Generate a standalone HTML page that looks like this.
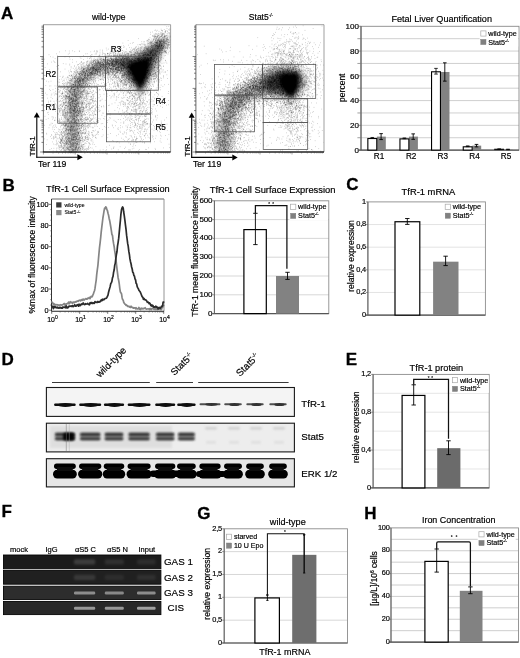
<!DOCTYPE html>
<html><head><meta charset="utf-8"><title>Figure</title>
<style>html,body{margin:0;padding:0;background:#fff}svg{display:block}text{font-family:"Liberation Sans", Arial, Helvetica, sans-serif}</style>
</head><body>
<svg width="520" height="658" viewBox="0 0 520 658">
<rect width="520" height="658" fill="#fff"/>
<defs>
<filter id="bl3" x="-50%" y="-50%" width="200%" height="200%"><feGaussianBlur stdDeviation="3"/></filter>
<filter id="bl2" x="-50%" y="-50%" width="200%" height="200%"><feGaussianBlur stdDeviation="2"/></filter>
<filter id="bl4" x="-50%" y="-50%" width="200%" height="200%"><feGaussianBlur stdDeviation="4.5"/></filter>
</defs>
<rect x="43.40" y="24.70" width="127.20" height="127.30" fill="#fff" stroke="none" stroke-width="1"/>
<clipPath id="cp1"><rect x="43.4" y="24.7" width="127.2" height="128.3"/></clipPath>
<g clip-path="url(#cp1)">
<polygon points="116,59 136,55 167,38 154,68 141,95 129,79" fill="#000" opacity=".55" filter="url(#bl3)"/>
<polygon points="127.5,64 150.5,57.5 146.5,76 140.5,90 133,77.5" fill="#000" opacity="1" filter="url(#bl2)"/>
<polygon points="131,66.5 147.5,62 144.5,77 140.5,86 135,77" fill="#000" opacity="1" filter="url(#bl2)"/>
<path d="M72 154L72.5 118L74 96Q77 78 93 70T126 63" fill="none" stroke="#000" stroke-width="9" opacity=".27" filter="url(#bl3)"/>
<path d="M142 68L164 40" fill="none" stroke="#000" stroke-width="8" opacity=".16" filter="url(#bl3)"/>
<path d="M87.0 58.1h.6M118.6 67.3h.6M95.3 63.5h.6M79.1 109.7h.6M63.1 96.3h.6M115.0 69.7h.6M63.5 147.5h.6M114.4 74.8h.6M94.0 50.8h.6M74.6 82.7h.6M77.8 106.0h.6M75.3 81.3h.6M87.3 98.8h.6M91.1 78.7h.6M81.6 91.3h.6M99.7 63.7h.6M106.2 65.0h.6M99.3 65.7h.6M94.9 69.9h.6M113.6 61.9h.6M65.4 105.5h.6M66.8 137.0h.6M81.7 66.1h.6M78.6 152.4h.6M75.0 134.8h.6M78.4 78.6h.6M82.3 82.0h.6M118.2 64.3h.6M92.1 71.5h.6M76.4 87.8h.6M69.6 84.9h.6M77.3 109.7h.6M78.2 134.7h.6M75.0 130.3h.6M95.9 73.7h.6M74.9 132.8h.6M88.2 86.8h.6M73.8 141.0h.6M92.5 66.9h.6M66.1 120.0h.6M78.3 102.3h.6M127.8 66.2h.6M88.1 79.8h.6M105.3 61.9h.6M93.3 66.3h.6M91.8 68.7h.6M68.0 144.5h.6M71.7 78.2h.6M76.9 87.2h.6M110.1 66.0h.6M75.7 104.7h.6M85.2 75.3h.6M60.8 165.2h.6M80.6 93.9h.6M77.7 131.8h.6M64.3 115.8h.6M111.3 64.2h.6M81.1 92.4h.6M119.9 60.8h.6M89.5 71.8h.6M87.5 74.9h.6M94.7 74.2h.6M88.3 65.5h.6M71.5 135.9h.6M87.0 73.5h.6M78.8 99.9h.6M77.7 88.8h.6M69.8 129.2h.6M118.0 69.4h.6M70.5 122.3h.6M86.2 71.2h.6M74.3 113.9h.6M114.4 69.7h.6M89.8 75.8h.6M72.8 127.1h.6M99.9 66.5h.6M125.1 64.8h.6M122.3 74.8h.6M93.6 68.0h.6M75.1 143.4h.6M70.7 128.0h.6M115.3 61.9h.6M92.1 62.6h.6M68.9 123.3h.6M114.7 59.9h.6M83.5 64.9h.6M89.8 63.2h.6M82.0 102.3h.6M68.7 97.6h.6M76.3 111.5h.6M69.7 156.5h.6M122.8 65.1h.6M72.6 84.7h.6M77.1 85.7h.6M73.0 100.5h.6M96.7 51.9h.6M73.7 141.0h.6M74.2 95.9h.6M57.5 155.8h.6M76.9 129.8h.6M115.2 56.9h.6M96.0 54.0h.6M76.2 108.0h.6M74.8 86.7h.6M113.5 55.2h.6M73.3 86.6h.6M90.0 73.9h.6M103.3 64.4h.6M86.7 93.7h.6M75.1 95.8h.6M96.7 74.5h.6M117.7 64.0h.6M76.2 126.8h.6M111.3 59.3h.6M66.1 153.7h.6M113.8 64.5h.6M108.9 61.2h.6M62.7 121.6h.6M66.3 97.2h.6M106.9 65.2h.6M73.2 149.5h.6M93.9 69.0h.6M99.5 74.5h.6M70.4 90.6h.6M99.4 64.3h.6M76.7 115.6h.6M72.3 140.8h.6M71.1 94.7h.6M76.3 115.1h.6M73.7 91.3h.6M116.5 63.7h.6M95.8 64.9h.6M66.6 86.7h.6M79.6 102.4h.6M125.8 68.7h.6M72.0 87.5h.6M119.7 62.8h.6M87.6 90.9h.6M67.1 76.9h.6M114.6 63.9h.6M107.4 60.2h.6M85.2 74.1h.6M73.4 95.1h.6M109.5 55.2h.6M76.2 80.7h.6M103.6 73.6h.6M62.2 154.4h.6M73.5 86.2h.6M82.3 83.6h.6M120.7 55.4h.6M75.7 106.5h.6M112.6 58.7h.6M93.4 67.5h.6M109.2 63.9h.6M84.9 74.6h.6M112.0 69.7h.6M95.3 92.2h.6M89.5 105.3h.6M78.0 113.3h.6M76.4 150.0h.6M78.7 133.3h.6M111.4 60.1h.6M112.1 65.1h.6M70.1 131.8h.6M86.8 68.5h.6M91.5 84.7h.6M77.6 79.0h.6M97.9 62.7h.6M62.3 93.3h.6M118.2 64.1h.6M76.7 77.9h.6M85.4 74.1h.6M98.1 65.5h.6M67.4 136.6h.6M71.2 161.9h.6M68.1 96.4h.6M99.9 64.8h.6M93.5 60.8h.6M109.7 52.8h.6M64.3 109.4h.6M117.7 60.1h.6M103.3 66.3h.6M115.7 60.4h.6M90.1 72.7h.6M113.2 56.1h.6M60.5 141.5h.6M75.2 133.8h.6M54.6 159.4h.6M75.4 88.3h.6M71.2 103.3h.6M63.5 123.0h.6M95.3 71.7h.6M70.1 152.5h.6M107.5 71.5h.6M69.6 138.7h.6M95.5 69.9h.6M80.1 149.0h.6M69.3 104.6h.6M108.1 60.1h.6M91.9 78.0h.6M106.0 64.7h.6M93.1 70.2h.6M91.6 71.9h.6M64.7 123.7h.6M94.4 73.6h.6M66.1 129.5h.6M96.0 67.0h.6M113.7 66.4h.6M122.9 59.9h.6M81.8 145.2h.6M74.5 98.8h.6M73.8 111.6h.6M76.1 104.1h.6M95.5 65.0h.6M107.0 70.6h.6M69.8 108.2h.6M116.4 70.5h.6M112.7 72.2h.6M89.2 132.1h.6M108.3 66.9h.6M103.1 59.5h.6M77.7 127.1h.6M94.0 65.2h.6M90.0 74.8h.6M102.7 61.2h.6M72.4 150.2h.6M81.8 72.1h.6M83.5 71.9h.6M109.6 53.4h.6M104.2 55.1h.6M75.0 104.4h.6M98.7 64.2h.6M114.9 64.3h.6M112.0 64.3h.6M70.1 143.5h.6M69.4 142.5h.6M97.3 72.1h.6M81.1 128.3h.6M87.9 76.0h.6M111.3 67.3h.6M88.4 88.9h.6M75.6 106.5h.6M85.2 81.3h.6M100.1 75.3h.6M81.9 121.8h.6M82.7 71.7h.6M76.9 134.4h.6M89.2 77.9h.6M94.8 65.4h.6M72.2 85.5h.6M74.3 109.9h.6M84.0 73.0h.6M72.7 116.4h.6M75.5 100.2h.6M73.4 112.2h.6M79.1 74.6h.6M61.9 138.8h.6M107.5 67.4h.6M94.4 68.2h.6M68.0 101.4h.6M75.5 136.1h.6M104.8 60.4h.6M72.8 134.0h.6M60.8 110.6h.6M64.7 132.0h.6M68.4 129.5h.6M129.8 61.9h.6M67.6 96.9h.6M71.4 97.5h.6M99.8 58.8h.6M91.5 76.7h.6M75.0 116.4h.6M62.7 93.0h.6M107.7 53.4h.6M79.2 84.6h.6M103.3 64.9h.6M68.7 113.3h.6M108.6 71.6h.6M112.8 62.7h.6M94.4 66.1h.6M93.6 70.3h.6M83.1 85.4h.6M67.9 148.8h.6M82.4 71.0h.6M113.8 66.4h.6M71.0 125.4h.6M65.1 115.9h.6M72.9 84.4h.6M99.9 63.3h.6M118.8 63.8h.6M61.6 121.7h.6M79.0 125.4h.6M99.7 56.0h.6M88.3 73.0h.6M99.1 64.2h.6M120.9 65.5h.6M127.8 63.2h.6M108.8 73.9h.6M111.4 59.2h.6M74.9 84.4h.6M89.9 74.9h.6M74.1 118.6h.6M114.6 65.6h.6M108.1 64.1h.6M108.0 55.9h.6M84.2 80.7h.6M83.6 92.7h.6M77.9 94.1h.6M76.6 129.1h.6M105.2 68.5h.6M81.6 69.3h.6M65.7 95.9h.6M82.6 76.9h.6M110.7 59.9h.6M79.9 83.8h.6M100.2 64.2h.6M129.8 63.5h.6M74.9 84.2h.6M80.9 115.7h.6M113.7 68.4h.6M108.4 62.5h.6M70.8 125.9h.6M107.1 63.5h.6M96.7 65.3h.6M116.2 64.3h.6M66.5 129.0h.6M69.1 142.5h.6M122.4 61.1h.6M60.4 122.0h.6M74.0 118.5h.6M90.1 75.1h.6M79.4 80.6h.6M112.5 67.7h.6M95.6 117.9h.6M117.0 61.9h.6M76.8 110.9h.6M106.4 62.5h.6M67.6 141.5h.6M84.5 71.4h.6M81.9 138.5h.6M74.4 109.1h.6M78.7 124.4h.6M107.1 67.4h.6M96.6 74.9h.6M61.8 154.6h.6M115.6 61.4h.6M114.9 68.9h.6M116.2 67.6h.6M65.8 128.4h.6M67.1 88.1h.6M71.3 113.5h.6M73.0 130.6h.6M64.5 150.2h.6M71.2 87.0h.6M76.0 124.5h.6M79.2 121.4h.6M118.9 64.6h.6M79.9 80.3h.6M67.8 119.6h.6M100.0 64.7h.6M76.2 117.4h.6M81.8 81.7h.6M79.7 114.7h.6M94.5 72.7h.6M100.6 67.6h.6M74.0 78.5h.6M75.8 88.4h.6M96.9 66.0h.6M113.6 63.3h.6M64.4 140.5h.6M70.0 121.6h.6M65.5 119.0h.6M116.6 61.4h.6M112.7 61.2h.6M64.0 107.7h.6M104.8 62.6h.6M69.2 128.1h.6M83.6 88.0h.6M87.1 76.0h.6M115.8 61.7h.6M51.1 148.6h.6M69.9 105.0h.6M86.1 71.0h.6M69.8 152.3h.6M65.0 108.0h.6M80.5 74.0h.6M113.4 63.8h.6M115.9 58.8h.6M115.3 61.9h.6M109.1 65.4h.6M101.2 67.4h.6M103.3 67.0h.6M93.2 81.8h.6M98.0 69.6h.6M73.1 106.6h.6M79.1 128.3h.6M113.5 64.4h.6M74.3 135.6h.6M131.0 61.3h.6M89.1 80.0h.6M66.7 102.3h.6M103.5 66.9h.6M68.2 119.6h.6M83.0 69.4h.6M74.2 158.0h.6M123.9 66.1h.6M86.8 67.8h.6M102.1 76.5h.6M78.1 113.5h.6M117.3 62.3h.6M98.4 63.8h.6M97.2 64.3h.6M122.3 64.8h.6M77.7 89.0h.6M74.7 83.3h.6M80.5 64.8h.6M112.0 61.7h.6M79.6 86.6h.6M86.4 71.4h.6M69.2 129.4h.6M90.9 70.2h.6M100.8 70.7h.6M71.3 148.7h.6M106.9 55.2h.6M64.4 141.3h.6M131.5 65.7h.6M80.2 79.3h.6M82.3 94.9h.6M97.6 66.3h.6M79.1 75.0h.6M105.4 54.0h.6M72.5 158.3h.6M81.0 68.8h.6M95.9 69.0h.6M116.3 62.1h.6M63.2 143.2h.6M69.9 89.4h.6M86.6 67.3h.6M90.7 67.9h.6M76.0 146.8h.6M80.1 73.2h.6M61.6 103.8h.6M67.3 133.9h.6M122.0 64.3h.6M67.1 107.4h.6M78.3 83.2h.6M110.7 68.7h.6M97.1 70.8h.6M98.0 80.7h.6M103.1 68.6h.6M82.1 74.7h.6M88.1 64.7h.6M101.4 64.5h.6M72.0 78.0h.6M93.2 63.0h.6M72.7 101.4h.6M92.6 75.0h.6M83.6 91.4h.6M105.6 67.9h.6M74.3 83.1h.6M85.3 76.3h.6M116.6 63.0h.6M75.2 81.1h.6M78.3 88.1h.6M96.6 69.4h.6M73.0 78.7h.6M115.1 62.0h.6M100.0 62.7h.6M75.6 86.1h.6M114.1 66.7h.6M72.0 134.7h.6M74.4 82.2h.6M118.2 63.4h.6M90.5 68.9h.6M92.6 79.7h.6M94.4 56.7h.6M96.2 69.2h.6M95.8 59.6h.6M84.2 90.5h.6M77.9 126.5h.6M72.2 111.2h.6M74.4 96.3h.6M70.4 102.2h.6M137.8 64.0h.6M74.3 95.7h.6M84.8 77.9h.6M83.2 76.2h.6M81.7 67.8h.6M110.3 55.8h.6M115.0 68.1h.6M69.6 91.8h.6M65.3 102.4h.6M117.5 65.4h.6M87.1 81.4h.6M93.1 68.5h.6M72.4 151.6h.6M123.7 64.1h.6M62.2 109.8h.6M84.2 71.6h.6M75.2 125.4h.6M70.2 84.2h.6M99.1 65.9h.6M109.3 61.8h.6M80.0 75.8h.6M97.3 60.3h.6M78.4 77.0h.6M69.0 83.3h.6M84.5 72.8h.6M74.9 121.7h.6M75.8 104.6h.6M103.3 67.8h.6M107.1 64.7h.6M84.9 136.8h.6M93.4 63.7h.6M117.6 67.9h.6M80.5 88.8h.6M72.7 127.7h.6M94.9 64.8h.6M72.2 101.0h.6M86.5 71.3h.6M67.1 89.1h.6M96.3 70.6h.6M62.5 98.5h.6M88.1 83.8h.6M89.3 69.9h.6M78.0 68.1h.6M62.4 129.2h.6M121.1 69.1h.6M74.3 118.8h.6M73.6 118.9h.6M75.7 120.9h.6M76.9 139.4h.6M80.4 97.3h.6M119.9 71.7h.6M99.1 62.9h.6M78.0 122.7h.6M62.2 111.9h.6M72.4 116.4h.6M94.6 72.3h.6M90.9 74.1h.6M127.0 64.8h.6M100.3 69.4h.6M81.4 77.3h.6M109.3 55.0h.6M104.7 62.7h.6M77.8 83.3h.6M80.2 111.8h.6M82.4 85.3h.6M63.8 79.1h.6M81.4 127.7h.6M79.1 63.6h.6M89.1 85.6h.6M81.9 126.5h.6M71.0 126.4h.6M63.6 125.4h.6M64.2 117.3h.6M120.9 73.8h.6M77.9 154.2h.6M82.4 124.1h.6M71.5 117.3h.6M81.7 75.5h.6M82.0 147.9h.6M81.6 79.3h.6M81.9 123.6h.6M75.1 101.9h.6M112.3 65.4h.6M70.9 128.9h.6M96.5 73.8h.6M71.7 87.2h.6M69.6 89.4h.6M103.2 63.9h.6M68.5 126.1h.6M116.9 62.1h.6M123.7 59.9h.6M83.5 78.1h.6M70.8 151.6h.6M88.1 68.8h.6M99.1 71.9h.6M102.0 64.8h.6M68.5 138.2h.6M112.8 64.4h.6M118.5 59.6h.6M71.4 118.5h.6M72.2 105.9h.6M70.6 143.0h.6M104.9 67.5h.6M118.0 59.3h.6M116.1 62.8h.6M79.0 73.9h.6M91.0 73.1h.6M76.7 72.0h.6M93.3 81.8h.6M120.3 63.8h.6M103.1 71.5h.6M76.8 86.1h.6M88.9 71.6h.6M72.0 139.6h.6M100.6 68.6h.6M100.1 66.3h.6M69.0 97.8h.6M116.7 61.5h.6M107.2 61.9h.6M86.1 86.8h.6M69.1 153.9h.6M74.9 133.8h.6M74.5 101.0h.6M68.8 102.7h.6M69.6 86.5h.6M110.0 70.1h.6M63.6 115.1h.6M118.2 66.7h.6M95.8 65.4h.6M111.1 63.4h.6M73.8 96.2h.6M74.9 146.0h.6M106.4 60.1h.6M78.7 113.9h.6M61.5 125.2h.6M108.9 64.9h.6M99.9 59.5h.6M67.6 120.6h.6M62.6 113.1h.6M120.1 60.6h.6M69.0 100.2h.6M114.5 61.7h.6M77.7 105.9h.6M98.7 64.7h.6M72.5 126.6h.6M88.6 82.6h.6M74.5 141.4h.6M88.6 68.3h.6M112.3 70.9h.6M75.9 146.1h.6M75.0 97.6h.6M106.8 70.4h.6M88.1 77.8h.6M72.2 115.4h.6M81.9 67.6h.6M73.9 72.4h.6M127.2 66.1h.6M69.6 114.8h.6M111.8 63.3h.6M80.5 80.0h.6M103.4 75.3h.6M69.1 87.5h.6M120.8 62.3h.6M105.8 71.6h.6M70.2 93.0h.6M77.9 150.0h.6M119.7 63.7h.6M98.8 67.5h.6M74.4 113.0h.6M113.2 77.1h.6M65.2 102.7h.6M83.9 70.0h.6M116.0 64.1h.6M78.7 82.4h.6M70.8 107.7h.6M70.3 107.4h.6M63.5 148.7h.6M87.3 114.4h.6M70.1 104.4h.6M67.9 112.4h.6M77.5 132.7h.6M80.2 76.1h.6M81.1 138.3h.6M100.2 65.8h.6M122.9 64.1h.6M73.9 120.5h.6M86.7 70.1h.6M80.7 72.2h.6M71.6 138.3h.6M83.2 125.7h.6M120.1 64.7h.6M74.4 89.5h.6M100.4 60.6h.6M76.0 132.1h.6M99.6 75.6h.6M118.9 58.4h.6M113.3 59.6h.6M73.7 144.5h.6M79.0 78.1h.6M74.4 81.9h.6M107.6 73.0h.6M60.0 147.7h.6M75.1 108.6h.6M108.5 62.7h.6M73.7 76.4h.6M80.6 70.9h.6M129.0 68.0h.6M70.4 109.9h.6M75.4 162.4h.6M72.5 90.2h.6M67.4 119.4h.6M66.4 149.6h.6M93.6 68.6h.6M130.6 59.5h.6M90.7 72.4h.6M86.0 64.5h.6M79.7 108.1h.6M91.3 56.5h.6M107.0 65.0h.6M94.9 76.6h.6M97.4 70.5h.6M85.2 73.6h.6M80.8 125.7h.6M82.4 72.5h.6M80.8 80.6h.6M62.8 123.0h.6M90.9 70.0h.6M105.9 48.1h.6M69.8 129.3h.6M69.1 80.7h.6M107.6 68.9h.6M74.0 90.1h.6M67.8 106.4h.6M75.3 92.0h.6M87.9 64.8h.6M86.2 62.0h.6M87.4 73.6h.6M65.4 112.3h.6M111.4 64.3h.6M127.0 59.5h.6M88.5 135.0h.6M79.5 87.9h.6M75.5 108.9h.6M112.8 60.4h.6M117.3 55.8h.6M79.0 135.2h.6M70.7 96.2h.6M68.4 123.8h.6M86.4 81.8h.6M119.5 70.1h.6M80.4 148.8h.6M63.3 136.1h.6M85.4 81.2h.6M80.4 75.7h.6M97.9 75.5h.6M63.0 97.4h.6M78.8 128.9h.6M77.4 86.2h.6M107.0 53.4h.6M99.8 59.2h.6M66.9 133.5h.6M112.1 68.2h.6M73.2 96.7h.6M97.2 71.7h.6M75.4 131.5h.6M117.8 59.8h.6M74.4 121.5h.6M87.9 75.6h.6M87.5 74.0h.6M87.0 85.2h.6M65.2 124.6h.6M72.9 124.4h.6M71.3 104.2h.6M72.7 140.6h.6M72.9 111.4h.6M68.5 130.8h.6M77.3 71.3h.6M82.4 93.5h.6M85.0 82.8h.6M65.4 110.9h.6M75.8 151.3h.6M81.9 97.2h.6M110.2 63.2h.6M74.4 111.1h.6M71.5 88.2h.6M98.8 58.9h.6M82.6 83.4h.6M118.2 61.0h.6M123.2 68.8h.6M71.8 105.5h.6M91.6 71.5h.6M75.8 97.6h.6M75.7 116.5h.6M81.9 103.6h.6M96.8 87.8h.6M124.9 65.1h.6M78.8 123.5h.6M104.4 70.4h.6M84.6 76.9h.6M78.4 120.1h.6M123.6 56.3h.6M108.9 67.8h.6M75.7 124.1h.6M129.8 61.1h.6M68.7 112.5h.6M75.9 143.6h.6M83.0 81.1h.6M109.4 70.1h.6M65.3 153.7h.6M117.9 70.1h.6M89.4 67.5h.6M76.2 139.3h.6M95.7 67.7h.6M75.8 78.7h.6M97.0 72.4h.6M116.9 53.9h.6M91.5 73.3h.6M118.4 67.0h.6M65.8 117.8h.6M106.3 66.5h.6M88.5 82.8h.6M93.6 69.9h.6M116.5 64.3h.6M126.7 58.7h.6M69.7 113.0h.6M77.6 86.0h.6M112.8 65.4h.6M109.4 64.0h.6M76.4 93.3h.6M119.7 61.1h.6M75.1 94.0h.6M81.1 78.3h.6M105.4 64.7h.6M71.6 88.0h.6M91.3 74.0h.6M82.6 86.8h.6M69.7 103.2h.6M84.3 118.5h.6M75.2 148.3h.6M100.0 69.1h.6M99.0 75.6h.6M75.2 72.0h.6M90.6 62.7h.6M78.0 120.2h.6M71.7 112.5h.6M67.4 106.6h.6M83.4 104.7h.6M102.8 72.5h.6M66.1 88.9h.6M69.1 120.1h.6M93.4 71.2h.6M84.0 144.1h.6M60.3 127.2h.6M111.7 63.9h.6M107.8 70.8h.6M62.6 114.9h.6M94.5 66.8h.6M62.6 140.8h.6M72.8 86.1h.6M103.9 73.0h.6M76.8 99.8h.6M81.1 86.5h.6M95.1 59.5h.6M96.6 71.8h.6M79.2 106.4h.6M93.2 61.6h.6M70.4 140.1h.6M116.9 62.2h.6M68.3 123.7h.6M71.0 99.0h.6M80.8 115.7h.6M120.7 55.2h.6M70.0 105.6h.6M85.4 75.8h.6M115.6 67.8h.6M117.6 63.5h.6M68.4 149.9h.6M81.3 85.8h.6M99.1 72.9h.6M99.2 68.8h.6M93.3 94.9h.6M82.2 104.7h.6M77.1 139.5h.6M79.2 140.6h.6M112.8 66.7h.6M79.6 149.2h.6M68.3 118.8h.6M78.6 91.2h.6M72.9 143.4h.6M69.0 149.9h.6M121.9 58.8h.6M76.1 99.0h.6M72.4 134.7h.6M108.8 68.6h.6M77.4 149.5h.6M63.9 104.5h.6M121.6 70.1h.6M113.4 66.5h.6M92.8 70.0h.6M58.2 159.6h.6M84.0 113.0h.6M62.1 158.0h.6M68.2 106.2h.6M76.2 146.7h.6M69.1 109.7h.6M95.6 70.7h.6M59.0 111.3h.6M70.4 125.5h.6M116.2 72.8h.6M80.6 79.9h.6M74.6 93.4h.6M73.9 144.4h.6M103.8 68.6h.6M84.4 66.4h.6M76.4 80.0h.6M99.2 72.9h.6M67.8 126.2h.6M81.6 120.4h.6M94.4 70.9h.6M130.9 61.2h.6M103.7 76.2h.6M90.1 72.4h.6M81.7 80.5h.6M71.3 137.3h.6M114.4 66.3h.6M67.8 155.5h.6M72.6 119.1h.6M108.2 63.9h.6M113.6 73.9h.6M108.0 72.8h.6M75.2 79.4h.6M70.6 129.3h.6M71.7 153.5h.6M115.1 68.7h.6M119.9 61.4h.6M76.7 102.3h.6M118.1 61.7h.6M69.5 93.9h.6M71.8 98.3h.6M84.5 82.4h.6M63.7 140.4h.6M79.9 83.1h.6M73.9 115.9h.6M95.9 64.7h.6M83.3 73.7h.6M116.6 62.5h.6M117.0 67.3h.6M65.5 121.8h.6M65.2 115.6h.6M120.1 62.7h.6M79.4 76.4h.6M59.6 136.3h.6M78.9 142.9h.6M115.7 58.6h.6M74.6 69.7h.6M72.0 148.8h.6M84.4 79.8h.6M87.0 65.5h.6M87.3 84.9h.6M116.8 56.8h.6M125.0 60.3h.6M66.7 130.1h.6M74.0 135.7h.6M84.5 90.0h.6M111.3 59.7h.6M98.6 62.8h.6M101.9 54.8h.6M87.9 66.6h.6M64.6 132.1h.6M106.7 61.0h.6M67.9 159.0h.6M113.9 63.9h.6M66.6 125.7h.6M94.4 84.9h.6M109.1 67.4h.6M85.7 74.9h.6M88.7 156.8h.6M78.1 94.0h.6M88.5 66.3h.6M76.5 142.0h.6M79.7 111.2h.6M77.5 146.0h.6M68.8 91.1h.6M78.2 94.5h.6M72.9 68.3h.6M86.2 106.1h.6M93.4 61.6h.6M69.9 140.8h.6M127.0 62.9h.6M122.8 61.9h.6M75.5 84.8h.6M92.9 75.7h.6M113.8 62.6h.6M62.7 110.2h.6M115.0 63.5h.6M83.9 107.7h.6M106.0 66.8h.6M79.8 92.8h.6M92.4 70.9h.6M124.8 67.5h.6M83.6 146.7h.6M115.3 73.7h.6M87.5 82.2h.6M70.1 105.7h.6M83.0 82.7h.6M78.4 142.1h.6M64.1 107.8h.6M87.3 74.3h.6M68.5 119.5h.6M87.3 75.5h.6M117.4 56.0h.6M120.8 60.8h.6M121.7 64.5h.6M98.7 66.3h.6M73.7 113.0h.6M124.0 66.0h.6M76.2 122.6h.6M112.7 73.7h.6M118.6 62.7h.6M95.1 78.9h.6M87.6 80.4h.6M69.7 133.7h.6M93.1 73.1h.6M73.9 103.0h.6M74.8 132.2h.6M68.1 117.6h.6M99.0 71.5h.6M118.0 57.7h.6M73.1 126.3h.6M68.7 134.0h.6M66.7 103.1h.6M73.5 124.6h.6M74.1 127.0h.6M100.6 69.0h.6M84.0 86.5h.6M75.3 85.7h.6M60.4 126.2h.6M92.8 67.5h.6M62.1 106.5h.6M68.8 91.6h.6M89.1 75.3h.6M125.9 64.5h.6M69.5 110.7h.6M100.1 63.5h.6M73.0 126.2h.6M113.8 60.9h.6M79.9 95.5h.6M78.8 85.7h.6M126.8 53.2h.6M81.3 74.5h.6M79.3 142.1h.6M68.8 126.8h.6M129.4 58.3h.6M66.5 144.4h.6M78.6 98.8h.6M118.9 57.9h.6M67.5 136.0h.6M72.3 119.4h.6M76.1 138.3h.6M75.1 147.6h.6M93.5 80.3h.6M96.3 64.3h.6M57.1 94.2h.6M70.5 121.6h.6M99.6 73.4h.6M97.3 60.1h.6M88.7 65.7h.6M64.3 132.8h.6M74.0 86.4h.6M90.9 63.0h.6M75.5 83.2h.6M132.9 55.9h.6M76.8 105.3h.6M87.0 79.5h.6M84.5 126.6h.6M93.6 68.0h.6M103.5 64.8h.6M104.0 65.5h.6M75.0 110.9h.6M123.4 59.0h.6M110.0 60.5h.6M74.9 94.6h.6M70.8 89.0h.6M100.2 70.2h.6M64.1 111.9h.6M92.8 73.3h.6M115.6 67.6h.6M70.7 82.4h.6M112.0 61.8h.6M90.6 69.1h.6M70.0 76.2h.6M76.1 112.4h.6M110.9 62.0h.6M78.7 108.5h.6M107.0 63.1h.6M76.2 94.5h.6M123.2 62.3h.6M113.4 56.1h.6M76.2 141.0h.6M127.0 68.9h.6M91.5 81.8h.6M68.5 149.5h.6M80.7 71.6h.6M71.2 152.2h.6M84.9 72.7h.6M73.7 116.1h.6M72.8 87.5h.6M77.8 117.2h.6M90.8 79.4h.6M103.2 63.9h.6M118.9 66.3h.6M78.2 99.0h.6M82.0 78.4h.6M82.1 154.7h.6M77.1 97.8h.6M122.2 58.3h.6M77.0 131.7h.6M124.5 61.8h.6M99.8 50.0h.6M75.8 107.4h.6M106.8 65.0h.6M62.8 113.6h.6M118.7 61.7h.6M70.7 151.1h.6M71.2 126.3h.6M113.0 60.0h.6M67.5 83.4h.6M73.8 116.7h.6M91.2 75.4h.6M79.8 104.0h.6M102.7 67.5h.6M92.7 60.4h.6M111.4 65.5h.6M77.0 143.5h.6M96.1 71.9h.6M127.2 61.8h.6M84.3 74.1h.6M104.8 63.0h.6M76.3 120.3h.6M114.8 60.3h.6M88.8 69.8h.6M110.6 51.1h.6M107.1 60.8h.6M116.5 59.4h.6M74.6 133.7h.6M93.1 72.7h.6M63.7 110.4h.6M77.5 90.6h.6M75.8 106.1h.6M81.7 68.0h.6M86.2 72.1h.6M108.0 64.8h.6M85.3 149.1h.6M63.3 115.0h.6M86.0 101.8h.6M100.4 73.3h.6M88.4 68.4h.6M81.4 75.8h.6M97.8 71.5h.6M100.7 67.4h.6M79.5 98.3h.6M70.9 149.5h.6M77.9 81.6h.6M127.6 58.5h.6M99.8 71.7h.6M73.7 146.7h.6M77.9 77.6h.6M77.6 95.7h.6M96.1 71.9h.6M103.0 73.1h.6M117.4 68.1h.6M76.4 81.1h.6M72.4 91.1h.6M94.4 76.1h.6M134.2 68.3h.6M98.6 62.6h.6M87.7 79.9h.6M116.9 66.5h.6M78.9 73.6h.6M116.9 70.0h.6M81.3 93.8h.6M76.5 125.4h.6M106.5 67.1h.6M83.1 111.2h.6M109.0 66.9h.6M76.5 72.3h.6M84.8 78.9h.6M72.2 160.2h.6M113.9 65.7h.6M72.9 143.3h.6M115.1 68.1h.6M126.5 58.6h.6M75.7 112.4h.6M64.0 135.3h.6M124.4 63.8h.6M76.8 88.9h.6M82.5 133.6h.6M98.3 78.7h.6M67.3 89.8h.6M70.2 93.0h.6M83.7 71.9h.6M115.0 62.2h.6M99.0 67.9h.6M73.6 126.7h.6M86.4 90.1h.6M71.5 83.6h.6M104.9 64.1h.6M61.2 145.2h.6M84.3 88.6h.6M126.5 69.7h.6M66.0 96.8h.6M63.7 103.8h.6M93.7 70.7h.6M81.2 93.3h.6M127.3 55.6h.6M74.1 150.4h.6M78.0 115.1h.6M74.9 154.9h.6M107.9 73.5h.6M86.9 92.5h.6M121.0 65.0h.6M110.6 78.6h.6M115.8 59.5h.6M63.7 116.2h.6M73.1 139.5h.6M83.3 87.6h.6M115.4 61.8h.6M105.5 66.7h.6M85.3 157.9h.6M109.5 61.1h.6M115.0 66.0h.6M108.9 60.4h.6M97.2 69.6h.6M109.6 65.4h.6M96.7 62.1h.6M73.1 98.3h.6M72.0 128.5h.6M104.5 62.2h.6M65.3 142.2h.6M87.1 84.7h.6M118.3 66.9h.6M95.1 75.2h.6M79.9 73.4h.6M129.8 69.1h.6M72.0 110.6h.6M127.8 56.9h.6M120.4 66.6h.6M68.9 100.4h.6M70.8 107.3h.6M85.8 119.8h.6M127.7 67.2h.6M72.4 119.2h.6M74.2 131.0h.6M122.5 65.5h.6M92.1 64.6h.6M87.6 63.3h.6M106.3 62.7h.6M70.2 127.9h.6M75.6 148.3h.6M74.2 89.8h.6M77.1 135.7h.6M82.6 81.2h.6M116.0 59.5h.6M100.5 66.5h.6M94.5 68.1h.6M76.4 157.3h.6M78.5 110.3h.6M113.5 59.9h.6M76.9 124.0h.6M78.3 74.4h.6M71.2 156.4h.6M123.3 57.2h.6M72.9 131.4h.6M80.2 86.3h.6M76.2 67.1h.6M107.6 72.2h.6M118.7 63.1h.6M104.6 77.5h.6M75.8 102.3h.6M78.5 148.6h.6M103.4 64.8h.6M110.9 58.6h.6M61.0 141.1h.6M99.1 70.6h.6M65.8 114.3h.6M82.4 79.7h.6M88.3 80.3h.6M78.9 74.8h.6M107.1 68.8h.6M90.2 72.5h.6M83.6 91.2h.6M108.3 65.9h.6M83.7 90.3h.6M78.9 80.2h.6M80.2 81.7h.6M92.8 79.3h.6M77.9 111.5h.6M65.8 118.9h.6M70.3 130.9h.6M82.1 91.2h.6M69.2 95.9h.6M97.3 70.2h.6M103.3 64.3h.6M71.2 99.3h.6M92.1 73.6h.6M120.8 68.0h.6M68.2 90.5h.6M92.0 69.4h.6M84.6 72.8h.6M109.1 66.0h.6M115.3 61.7h.6M82.9 125.5h.6M116.1 69.7h.6M78.0 73.4h.6M113.2 70.0h.6M89.3 64.4h.6M107.2 53.9h.6M66.7 109.2h.6M118.3 64.1h.6M63.9 109.6h.6M73.8 90.3h.6M99.3 76.4h.6M77.6 141.2h.6M62.1 154.4h.6M99.3 67.4h.6M109.7 60.3h.6M90.4 74.5h.6M79.1 101.5h.6M85.0 68.4h.6M70.8 151.8h.6M101.7 70.7h.6M85.4 73.3h.6M95.3 64.1h.6M82.3 88.4h.6M65.7 113.4h.6M100.8 65.1h.6M72.3 76.7h.6M110.8 59.2h.6M71.7 84.5h.6M77.7 156.8h.6M87.5 71.1h.6M93.1 73.5h.6M114.7 62.5h.6M113.9 61.2h.6M73.3 137.8h.6M93.7 66.3h.6M81.5 106.4h.6M103.1 69.3h.6M80.4 94.6h.6M65.2 97.3h.6M89.7 65.4h.6M92.9 91.0h.6M108.4 60.5h.6M83.0 63.0h.6M87.2 79.4h.6M75.1 84.8h.6M98.5 71.5h.6M75.9 90.5h.6M91.5 73.7h.6M82.3 80.2h.6M87.0 66.5h.6M68.5 133.4h.6M78.3 82.8h.6M80.5 107.9h.6M72.7 91.9h.6M77.0 149.9h.6M93.0 63.8h.6M114.7 52.7h.6M73.1 100.5h.6M81.3 131.5h.6M91.1 73.1h.6M81.1 145.8h.6M105.4 64.5h.6M72.1 135.0h.6M83.0 79.2h.6M85.1 84.8h.6M66.5 134.4h.6M66.2 105.5h.6M79.7 114.6h.6M99.6 59.7h.6M127.6 66.2h.6M73.4 91.1h.6M105.9 73.6h.6M88.8 103.7h.6M100.4 70.1h.6M81.2 105.3h.6M65.4 98.1h.6M113.5 62.0h.6M108.8 74.1h.6M72.6 143.8h.6M82.7 109.0h.6M89.5 63.4h.6M117.0 60.8h.6M96.2 66.6h.6M114.3 59.2h.6M132.3 58.9h.6M101.2 66.0h.6M93.0 70.4h.6M74.9 104.5h.6M62.2 91.3h.6M86.4 63.1h.6M113.1 67.5h.6M79.1 110.7h.6M82.6 83.9h.6M76.2 153.0h.6M113.4 65.8h.6M72.9 74.9h.6M111.2 64.0h.6M70.6 112.1h.6M97.6 76.6h.6M98.0 69.6h.6M94.2 79.4h.6M77.8 123.6h.6M81.9 85.9h.6M105.3 66.9h.6M73.8 130.6h.6M64.9 139.3h.6M85.1 80.7h.6M66.5 95.9h.6M110.9 65.3h.6M103.5 59.5h.6M121.4 63.8h.6M111.0 65.0h.6M91.4 64.5h.6M74.7 127.8h.6M94.0 65.8h.6M107.5 69.8h.6M106.6 62.1h.6M106.3 69.0h.6M119.3 73.0h.6M57.6 113.5h.6M89.9 72.9h.6M83.9 71.1h.6M83.7 87.3h.6M70.3 102.4h.6M75.9 119.4h.6M77.0 73.0h.6M80.5 86.7h.6M67.0 83.0h.6M120.3 59.3h.6M81.5 68.1h.6M86.2 70.2h.6M133.4 54.3h.6M75.1 103.6h.6M77.7 91.6h.6M87.4 141.5h.6M83.0 89.8h.6M119.4 49.9h.6M69.9 147.4h.6M101.7 69.7h.6M116.4 65.2h.6M67.6 86.5h.6M106.9 70.8h.6M81.3 78.5h.6M85.0 91.1h.6M88.4 69.8h.6M68.8 147.8h.6M70.4 97.7h.6M75.6 95.4h.6M127.8 71.2h.6M71.8 101.6h.6M73.3 111.2h.6M123.3 60.2h.6M76.0 126.2h.6M120.9 67.5h.6M124.8 57.1h.6M87.5 69.2h.6M62.9 96.0h.6M78.5 126.3h.6M71.1 116.1h.6M70.7 123.0h.6M74.9 89.8h.6M64.8 96.7h.6M115.4 69.7h.6M64.2 80.8h.6M111.7 60.5h.6M106.0 57.0h.6M85.3 128.8h.6M97.5 67.2h.6M72.0 130.1h.6M73.6 163.9h.6M116.3 72.1h.6M71.2 85.2h.6M71.5 121.5h.6M71.0 116.1h.6M101.4 68.1h.6M83.6 84.7h.6M60.3 156.2h.6M106.4 64.2h.6M90.9 111.6h.6M105.2 70.9h.6M102.5 72.8h.6M82.3 80.2h.6M84.2 75.5h.6M86.2 70.8h.6M121.6 59.6h.6M100.4 66.8h.6M65.9 141.1h.6M68.7 85.8h.6M81.3 115.9h.6M65.7 112.9h.6M75.5 121.4h.6M75.8 107.0h.6M116.5 61.1h.6M99.8 65.6h.6M121.0 59.2h.6M105.6 70.4h.6M74.1 114.5h.6M76.3 89.2h.6M75.2 76.4h.6M64.8 112.3h.6M69.0 96.7h.6M103.9 65.9h.6M80.9 146.4h.6M83.4 109.2h.6M82.2 69.7h.6M98.7 69.8h.6M92.7 74.0h.6M106.7 61.1h.6M74.1 120.9h.6M75.9 115.3h.6M72.1 99.3h.6M74.0 115.8h.6M112.0 70.8h.6M115.6 65.8h.6M92.9 67.7h.6M68.7 154.8h.6M80.5 102.2h.6M116.8 67.5h.6M117.4 58.7h.6M76.1 70.4h.6M80.5 84.9h.6M80.4 79.3h.6M83.7 78.7h.6M111.8 68.1h.6M74.6 89.8h.6M57.8 106.1h.6M76.9 143.2h.6M76.1 117.0h.6M115.2 60.8h.6M86.9 62.1h.6M115.6 59.0h.6M68.6 140.4h.6M80.2 86.9h.6M99.4 55.6h.6M97.6 71.8h.6M74.8 146.8h.6M61.1 86.9h.6M100.4 69.2h.6M98.7 63.8h.6M78.1 82.8h.6M73.9 126.0h.6M110.8 61.7h.6M78.6 80.1h.6M88.3 75.5h.6M75.5 89.1h.6M80.8 157.1h.6M82.0 111.5h.6M70.4 146.5h.6M66.6 130.8h.6M79.2 128.9h.6M74.3 107.8h.6M75.6 99.7h.6M79.8 98.1h.6M96.9 63.4h.6M77.9 141.3h.6M58.9 118.7h.6M120.1 64.2h.6M68.4 88.9h.6M79.7 71.4h.6M69.2 105.3h.6M83.7 84.7h.6M78.8 103.6h.6M114.4 74.4h.6M102.9 59.1h.6M76.6 129.4h.6M72.1 137.4h.6M110.0 68.5h.6M57.9 121.2h.6M76.3 74.7h.6M121.2 55.7h.6M102.4 64.1h.6M115.6 64.0h.6M86.1 77.6h.6M104.6 70.4h.6M75.6 85.0h.6M63.7 114.1h.6M65.7 78.0h.6M83.4 98.6h.6M114.2 55.7h.6M100.0 65.8h.6M71.3 110.3h.6M75.9 117.4h.6M86.1 97.0h.6M75.4 81.5h.6M115.4 69.0h.6M119.6 55.7h.6M105.0 57.5h.6M96.5 66.0h.6M90.7 67.4h.6M68.7 108.5h.6M90.0 83.5h.6M78.4 137.5h.6M106.8 59.5h.6M67.4 112.1h.6M78.1 144.2h.6M77.8 102.1h.6M70.2 110.8h.6M104.6 67.6h.6M62.8 137.3h.6M73.5 102.6h.6M117.7 61.9h.6M125.5 62.7h.6M89.7 61.4h.6M97.8 61.4h.6M70.1 92.6h.6M117.9 64.8h.6M106.4 73.0h.6M83.3 78.8h.6M67.4 129.4h.6M77.3 111.0h.6M81.6 85.8h.6M80.9 91.7h.6M73.0 151.2h.6M72.6 81.5h.6M81.3 83.8h.6M85.6 100.5h.6M77.9 78.0h.6M69.7 90.9h.6M78.1 82.2h.6M87.7 76.2h.6M80.4 94.0h.6M70.7 138.9h.6M103.4 75.1h.6M83.4 69.4h.6M83.8 92.3h.6M116.0 76.0h.6M108.1 73.0h.6M94.3 62.0h.6M110.5 70.5h.6M90.2 70.4h.6M104.4 71.4h.6M68.8 121.2h.6M106.1 66.0h.6M74.5 96.7h.6M59.2 106.7h.6M71.2 126.6h.6M76.8 103.5h.6M80.1 150.6h.6M95.0 69.2h.6M106.3 64.1h.6M105.3 65.2h.6M68.7 127.9h.6M91.8 74.7h.6M106.4 66.5h.6M76.8 155.4h.6M72.8 131.0h.6M66.2 105.4h.6M88.8 73.1h.6M70.1 108.5h.6M79.4 80.5h.6M89.0 92.0h.6M90.3 68.6h.6M72.4 93.1h.6M86.8 65.4h.6M71.7 117.1h.6M99.5 67.2h.6M93.3 67.5h.6M107.2 71.9h.6M77.0 161.3h.6M123.9 63.3h.6M95.4 61.8h.6M75.2 96.7h.6M79.2 95.4h.6M74.5 88.6h.6M82.5 79.8h.6M70.0 104.6h.6M78.5 105.3h.6M77.9 92.4h.6M104.8 73.0h.6M72.1 84.2h.6M83.3 158.1h.6M75.4 80.6h.6M74.1 111.7h.6M68.2 147.2h.6M119.5 70.6h.6M72.7 116.3h.6M75.0 82.1h.6M66.8 96.4h.6M70.9 146.1h.6M123.9 63.9h.6M124.7 72.0h.6M64.0 122.2h.6M85.4 88.1h.6M74.9 86.3h.6M65.6 125.6h.6M90.5 69.6h.6M100.5 72.1h.6M104.5 73.8h.6M91.5 72.0h.6M71.8 145.4h.6M70.3 98.8h.6M69.0 75.4h.6M109.2 67.2h.6M73.3 87.2h.6M87.7 76.3h.6M111.5 62.5h.6M76.3 155.1h.6M74.8 112.7h.6M82.4 105.0h.6M112.0 65.1h.6M66.6 119.7h.6M74.3 154.5h.6M58.1 92.0h.6M91.7 61.0h.6M74.4 109.9h.6M98.7 56.5h.6M81.2 113.7h.6M103.9 66.5h.6M73.7 124.1h.6M114.9 59.0h.6M80.1 132.4h.6M97.6 68.7h.6M109.1 63.8h.6M78.6 97.3h.6M76.6 144.6h.6M100.6 79.2h.6M77.5 78.5h.6M71.8 87.8h.6M114.4 64.5h.6M86.1 77.8h.6M83.0 73.1h.6M90.9 67.6h.6M94.5 73.0h.6M72.7 75.1h.6M69.5 133.8h.6M65.6 101.1h.6M76.9 102.9h.6M78.3 111.2h.6M107.5 56.8h.6M64.4 131.1h.6M67.7 128.5h.6M74.7 76.9h.6M62.3 105.9h.6M64.5 106.1h.6M65.4 89.5h.6M77.5 82.4h.6M95.7 77.4h.6M118.5 72.7h.6M118.8 71.9h.6M71.4 86.1h.6M83.0 72.3h.6M80.4 85.1h.6M72.0 102.1h.6M118.3 52.5h.6M70.2 146.7h.6M69.1 141.8h.6M95.4 62.0h.6M88.8 64.8h.6M80.9 96.9h.6M113.2 65.8h.6M78.7 89.7h.6M89.3 66.0h.6M82.2 132.6h.6M124.4 66.7h.6M67.5 118.3h.6M73.1 84.8h.6M114.9 63.4h.6M122.8 67.4h.6M119.0 55.8h.6M122.2 56.7h.6M64.2 103.3h.6M80.2 140.3h.6M80.7 58.3h.6M74.3 131.6h.6M128.3 69.2h.6M75.9 138.0h.6M76.7 107.2h.6M71.6 98.6h.6M72.3 142.5h.6M79.9 89.7h.6M79.4 165.1h.6M112.9 60.5h.6M92.2 64.3h.6M68.3 90.1h.6M101.0 58.9h.6M102.9 63.1h.6M81.1 91.9h.6M116.9 65.8h.6M127.4 63.4h.6M81.3 81.3h.6M76.1 92.8h.6M113.3 59.8h.6M121.3 62.9h.6M83.1 86.2h.6M75.7 153.5h.6M124.7 62.2h.6M85.6 75.5h.6M60.6 107.6h.6M76.3 61.8h.6M73.1 104.0h.6M119.4 67.6h.6M84.6 78.1h.6M70.3 142.9h.6M72.5 148.3h.6M77.6 103.8h.6M127.2 67.5h.6M72.9 115.4h.6M74.3 80.8h.6M125.9 68.8h.6M74.7 143.4h.6M75.9 103.1h.6M99.1 55.1h.6M72.1 153.0h.6M104.5 60.1h.6M100.0 68.2h.6M71.0 136.4h.6M95.5 60.1h.6M99.0 71.8h.6M112.0 67.0h.6M73.6 101.7h.6M86.1 100.1h.6M69.6 105.3h.6M78.4 109.1h.6M64.2 135.9h.6M123.4 57.7h.6M110.8 57.7h.6M75.3 81.3h.6M102.2 72.2h.6M71.5 75.4h.6M74.1 122.6h.6M70.4 71.4h.6M123.8 59.2h.6M78.9 84.1h.6M84.2 74.8h.6M113.6 70.8h.6M65.8 105.5h.6M111.0 59.5h.6M68.0 140.3h.6M112.5 72.5h.6M102.2 51.2h.6M118.7 67.2h.6M108.9 65.4h.6M107.2 62.0h.6M119.5 60.6h.6M77.2 108.1h.6M78.1 81.7h.6M77.0 133.0h.6M72.1 144.3h.6M89.8 78.9h.6M111.8 61.3h.6M106.6 66.4h.6M83.5 132.9h.6M114.3 64.6h.6M82.2 111.1h.6M73.9 109.8h.6M95.8 69.2h.6M118.9 56.3h.6M108.5 66.9h.6M86.2 93.7h.6M75.9 78.0h.6M104.4 64.8h.6M78.2 68.1h.6M96.8 65.5h.6M102.2 64.5h.6M74.4 66.6h.6M125.3 66.2h.6M85.1 93.6h.6M111.4 65.5h.6M88.4 66.3h.6M75.5 99.7h.6M82.5 79.0h.6M93.1 70.2h.6M76.9 84.8h.6M64.7 134.9h.6M111.9 52.1h.6M115.1 63.4h.6M83.4 144.6h.6M116.5 57.3h.6M79.8 83.1h.6M72.5 129.8h.6M96.2 60.6h.6M71.5 88.8h.6M106.4 69.3h.6M104.8 61.7h.6M81.8 74.3h.6M79.8 141.1h.6M101.0 66.1h.6M103.2 70.2h.6M116.9 60.9h.6M78.1 112.6h.6M104.5 73.9h.6M113.1 68.5h.6M75.7 97.9h.6M79.0 94.1h.6M75.0 95.3h.6M71.2 143.9h.6M68.2 94.2h.6M79.0 74.8h.6M66.8 129.7h.6M118.0 65.6h.6M74.8 92.8h.6M96.5 63.2h.6M78.9 97.9h.6M75.6 70.7h.6M107.7 76.7h.6M78.3 81.4h.6M92.2 68.3h.6M70.1 80.2h.6M84.0 72.1h.6M122.7 65.6h.6M69.0 112.0h.6M78.1 83.2h.6M95.5 62.7h.6M76.6 149.9h.6M127.5 68.3h.6M78.1 79.1h.6M76.7 116.0h.6M100.3 66.1h.6M106.8 59.6h.6M89.5 76.1h.6M112.3 61.2h.6M77.9 132.7h.6M82.8 82.7h.6M93.8 58.4h.6M123.1 60.8h.6M96.7 74.3h.6M103.6 72.2h.6M66.8 86.5h.6M92.6 69.4h.6M89.9 72.7h.6M119.3 63.3h.6M113.7 61.1h.6M88.0 69.2h.6M117.1 64.4h.6M71.6 139.6h.6M106.2 72.1h.6M82.0 79.2h.6M101.3 62.4h.6M71.9 113.3h.6M78.0 86.2h.6M97.3 62.5h.6M72.8 134.0h.6M70.1 103.9h.6M83.5 79.9h.6M114.9 56.1h.6M89.3 103.9h.6M111.5 69.5h.6M78.0 106.6h.6M65.0 99.0h.6M80.9 61.9h.6M81.0 73.7h.6M115.3 57.6h.6M135.5 59.6h.6M82.2 103.3h.6M97.7 62.8h.6M99.9 73.9h.6M83.2 101.6h.6M110.9 53.1h.6M124.5 59.1h.6M79.2 85.2h.6M110.4 58.3h.6M64.8 128.0h.6M72.2 117.3h.6M108.3 73.1h.6M64.3 116.7h.6M89.1 65.6h.6M82.0 82.7h.6M54.8 120.2h.6M121.0 63.2h.6M108.4 58.1h.6M77.4 120.2h.6M85.8 104.6h.6M93.8 71.3h.6M114.6 67.4h.6M127.0 53.9h.6M76.7 81.1h.6M74.0 90.2h.6M79.4 84.4h.6M79.9 113.5h.6M87.2 86.5h.6M74.1 106.8h.6M70.4 133.2h.6M74.9 98.2h.6M74.1 137.6h.6M87.6 79.2h.6M108.6 72.7h.6M97.4 72.9h.6M115.5 68.9h.6M119.1 65.9h.6M96.0 70.6h.6M120.3 65.3h.6M86.1 80.8h.6M93.9 73.6h.6M68.5 119.7h.6M83.0 69.2h.6M114.6 68.2h.6M86.4 65.0h.6M70.4 80.5h.6M105.8 63.4h.6M76.6 117.1h.6M115.7 65.8h.6M63.4 161.0h.6M71.1 101.4h.6M61.8 125.0h.6M69.8 108.0h.6M137.5 63.5h.6M72.6 139.3h.6M71.0 114.4h.6M94.8 68.7h.6M97.2 69.9h.6M97.1 64.9h.6M75.5 88.2h.6M72.1 101.2h.6M122.9 66.2h.6M61.7 136.3h.6M75.3 149.3h.6M82.4 102.3h.6M70.8 88.9h.6M123.1 47.4h.6M100.4 69.6h.6M98.7 63.8h.6M91.1 88.3h.6M98.0 62.4h.6M97.4 73.7h.6M69.5 91.0h.6M74.3 130.7h.6M80.0 140.2h.6M107.9 69.2h.6M92.5 65.8h.6M100.4 79.4h.6M77.7 138.1h.6M110.0 71.8h.6M74.8 89.8h.6M118.7 57.9h.6M95.4 70.3h.6M86.8 73.5h.6M112.9 66.5h.6M94.8 60.9h.6M81.8 73.7h.6M70.2 113.5h.6M81.6 67.6h.6M76.8 87.8h.6M72.7 150.2h.6M71.6 115.8h.6M73.1 84.6h.6M73.1 106.4h.6M104.2 67.1h.6M76.7 135.7h.6M70.5 144.6h.6M126.2 67.8h.6M74.7 110.0h.6M73.8 78.2h.6M71.8 121.9h.6M63.1 127.3h.6M81.0 85.2h.6M111.2 59.2h.6M72.2 133.8h.6M107.6 68.3h.6M108.0 63.0h.6M82.9 67.0h.6M71.0 98.3h.6M72.0 107.7h.6M62.8 128.9h.6M73.7 109.4h.6M120.6 66.4h.6M76.4 147.9h.6M119.8 59.1h.6M93.4 72.6h.6M69.9 140.6h.6M73.2 134.9h.6M103.0 68.8h.6M91.1 58.9h.6M82.2 103.1h.6M121.0 59.4h.6M71.5 115.7h.6M71.1 87.9h.6M97.9 132.5h.6M92.4 67.9h.6M78.5 138.1h.6M84.8 126.2h.6M106.6 67.9h.6M82.2 79.9h.6M92.6 71.8h.6M104.9 69.7h.6M93.6 78.9h.6M62.6 120.3h.6M113.1 60.5h.6M76.4 123.5h.6M63.6 110.0h.6M92.2 74.0h.6M65.2 113.6h.6M79.6 131.3h.6M91.2 74.7h.6M109.8 58.4h.6M71.6 88.9h.6M92.1 77.3h.6M79.7 121.1h.6M88.3 93.5h.6M101.1 68.5h.6M122.7 62.0h.6M73.4 143.5h.6M117.9 64.9h.6M115.8 63.4h.6M76.0 86.5h.6M98.5 60.6h.6M99.9 75.4h.6M94.6 64.0h.6M77.8 111.5h.6M93.1 64.5h.6M118.0 70.5h.6M71.7 138.9h.6M74.3 78.7h.6M66.6 164.6h.6M98.4 61.2h.6M99.9 65.1h.6M70.6 147.0h.6M113.7 60.9h.6M87.0 67.9h.6M59.4 112.4h.6M88.9 72.4h.6M85.7 80.9h.6M76.2 74.4h.6M98.0 69.3h.6M126.9 58.3h.6M100.9 64.8h.6M86.8 84.6h.6M72.9 159.7h.6M79.1 135.6h.6M112.6 64.8h.6M104.1 77.3h.6M103.6 59.5h.6M102.6 63.1h.6M94.2 73.7h.6M75.5 82.7h.6M112.1 64.1h.6M75.1 83.7h.6M87.0 72.2h.6M77.0 80.2h.6M94.5 68.0h.6M73.2 98.9h.6M70.7 134.1h.6M72.2 159.0h.6M74.2 118.9h.6M109.6 73.5h.6M94.2 63.6h.6M113.3 66.0h.6M81.4 74.6h.6M60.9 123.8h.6M69.4 75.8h.6M107.8 62.1h.6M76.5 68.9h.6M95.1 71.3h.6M64.9 96.6h.6M70.9 111.1h.6M76.6 71.2h.6M84.3 87.0h.6M78.7 95.5h.6M76.4 97.6h.6M118.4 66.6h.6M84.6 119.9h.6M96.8 77.7h.6M70.2 98.0h.6M104.9 60.9h.6M68.5 99.4h.6M74.9 75.7h.6M130.6 60.4h.6M99.2 65.4h.6M105.2 67.3h.6M75.6 96.7h.6M114.7 64.5h.6M72.2 89.2h.6M128.4 55.1h.6M117.8 72.8h.6M92.8 75.9h.6M97.2 72.8h.6M86.9 78.0h.6M102.8 65.8h.6M69.9 129.5h.6M120.8 67.8h.6M105.2 56.2h.6M80.7 119.0h.6M68.9 106.6h.6M97.3 67.6h.6M110.1 61.3h.6M73.0 145.8h.6M124.6 66.2h.6M73.7 92.7h.6M125.0 70.9h.6M101.7 65.1h.6M74.8 72.6h.6M75.5 90.0h.6M81.0 119.9h.6M69.1 151.7h.6M82.6 78.1h.6M105.7 64.4h.6M125.0 62.7h.6M73.3 103.4h.6M124.9 64.7h.6M62.2 114.6h.6M128.4 64.1h.6M118.6 56.9h.6M67.4 113.9h.6M125.0 54.8h.6M111.8 70.5h.6M110.0 68.3h.6M96.6 63.5h.6M92.0 72.2h.6M78.4 85.1h.6M64.4 83.6h.6M123.7 65.1h.6M122.2 58.4h.6M66.1 124.3h.6M107.0 73.0h.6M60.5 105.4h.6M76.7 133.2h.6M71.6 134.8h.6M89.9 61.0h.6M83.3 110.0h.6M74.0 107.5h.6M68.5 130.2h.6M67.6 105.1h.6M101.6 60.1h.6M79.1 136.4h.6M80.1 86.7h.6M88.4 67.7h.6M78.7 146.3h.6M74.6 106.5h.6M122.3 64.7h.6M126.2 66.2h.6M105.4 67.7h.6M74.4 134.8h.6M96.5 67.9h.6M77.7 88.5h.6M76.9 125.4h.6M88.3 76.0h.6M105.8 64.4h.6M125.5 65.4h.6M80.4 96.5h.6M71.8 153.7h.6M134.7 67.8h.6M119.7 63.7h.6M72.4 95.0h.6M76.7 107.6h.6M68.9 82.5h.6M116.6 67.4h.6M88.7 75.0h.6M73.2 84.2h.6M78.1 103.4h.6M77.0 110.6h.6M85.4 133.4h.6M70.1 99.3h.6M115.8 62.0h.6M59.3 135.2h.6M102.3 56.7h.6M102.9 63.3h.6M74.8 101.0h.6M90.3 77.3h.6M70.9 112.7h.6M91.2 67.9h.6M114.1 70.4h.6M108.8 61.1h.6M79.0 81.0h.6M129.2 65.9h.6M115.9 55.4h.6M86.7 70.8h.6M110.7 69.1h.6M72.4 122.8h.6M110.9 60.0h.6M86.0 75.1h.6M117.1 59.9h.6M66.0 95.9h.6M121.1 48.5h.6M72.7 127.4h.6M83.3 82.7h.6M76.6 127.2h.6M61.3 131.6h.6M102.7 77.0h.6M77.6 148.3h.6M71.4 89.5h.6M81.1 126.2h.6M109.4 64.7h.6M63.4 148.4h.6M78.4 89.5h.6M113.7 65.7h.6M87.8 78.7h.6M117.6 60.1h.6M123.6 64.5h.6M72.3 122.7h.6M96.4 70.6h.6M110.3 53.4h.6M111.8 63.0h.6M91.6 74.4h.6M70.0 149.3h.6M74.2 152.0h.6M104.7 66.9h.6M82.2 85.0h.6M79.1 114.0h.6M79.8 148.8h.6M82.1 76.0h.6M71.1 141.4h.6M103.7 60.1h.6M77.9 83.7h.6M116.4 60.9h.6M81.8 156.5h.6M78.9 82.1h.6M67.0 114.9h.6M97.7 63.4h.6M99.7 54.0h.6M75.4 100.2h.6M121.9 65.0h.6M95.1 73.6h.6M78.8 69.0h.6M116.1 51.0h.6M70.6 85.9h.6M115.6 58.0h.6M74.4 107.9h.6M122.1 60.9h.6M70.2 145.3h.6M108.9 54.7h.6M83.0 100.6h.6M72.8 96.5h.6M91.0 72.7h.6M70.4 142.0h.6M67.8 113.1h.6M63.0 124.5h.6M107.4 59.9h.6M68.4 109.4h.6M84.0 85.9h.6M65.7 113.6h.6M71.4 106.2h.6M119.3 57.6h.6M82.1 81.4h.6M100.2 66.4h.6M115.8 59.4h.6M97.1 62.3h.6M71.4 107.0h.6M66.4 144.2h.6M92.4 72.7h.6M72.3 117.3h.6M75.4 149.6h.6M131.4 68.4h.6M85.3 84.8h.6M77.7 92.0h.6M75.5 137.3h.6M107.4 68.6h.6M86.1 80.5h.6M78.5 121.0h.6M122.1 57.5h.6M123.0 70.9h.6M113.7 62.0h.6M106.4 61.2h.6M82.7 71.1h.6M62.4 115.2h.6M96.5 66.2h.6M78.2 133.5h.6M95.3 69.4h.6M69.4 146.5h.6M72.5 145.7h.6M111.8 65.9h.6M77.7 87.6h.6M112.0 63.9h.6M107.2 72.5h.6M105.5 69.1h.6M91.8 70.5h.6M103.2 68.6h.6M95.7 67.6h.6M118.3 69.1h.6M114.4 61.0h.6M77.0 148.7h.6M83.5 103.6h.6M72.7 86.4h.6M76.4 113.9h.6M76.6 115.2h.6M129.5 63.6h.6M74.0 153.5h.6M75.9 122.4h.6M116.3 62.2h.6M66.0 110.5h.6M73.9 103.8h.6M112.8 67.9h.6M94.4 69.3h.6M77.7 64.7h.6M62.7 125.1h.6M77.3 96.6h.6M122.0 68.0h.6M107.6 69.5h.6M71.6 138.3h.6M109.8 60.8h.6M74.2 89.9h.6M110.9 62.6h.6M76.0 112.2h.6M70.0 128.0h.6M67.5 154.0h.6M70.4 112.1h.6M124.5 68.4h.6M112.3 63.5h.6M100.1 68.0h.6M109.8 60.5h.6M81.8 136.3h.6M68.2 96.7h.6M118.4 68.7h.6M119.9 61.9h.6M80.4 81.5h.6M104.7 66.8h.6M128.7 70.2h.6M123.7 65.1h.6M75.8 105.2h.6M92.3 64.3h.6M85.9 95.7h.6M89.2 78.0h.6M86.1 70.6h.6M62.6 124.8h.6M74.9 136.5h.6M108.4 69.1h.6M109.3 64.1h.6M116.6 65.0h.6M68.0 124.8h.6M75.2 101.5h.6M96.8 74.0h.6M116.6 62.8h.6M81.6 74.4h.6M66.0 132.1h.6M90.1 73.2h.6M114.6 64.2h.6M126.3 64.6h.6M113.9 72.8h.6M66.5 96.2h.6M74.0 103.6h.6M113.0 65.7h.6M83.1 59.5h.6M120.1 54.0h.6M83.1 91.9h.6M63.8 117.6h.6M69.5 100.6h.6M115.9 61.1h.6M121.4 59.6h.6M71.1 93.0h.6M116.1 61.9h.6M74.7 78.9h.6M79.6 81.0h.6M90.0 73.4h.6M72.2 109.2h.6M68.3 120.6h.6M73.4 122.8h.6M63.3 102.6h.6M92.1 74.6h.6M61.7 106.5h.6M99.2 68.3h.6M75.2 121.7h.6M85.2 84.3h.6M92.2 77.8h.6M81.1 130.6h.6M69.4 96.2h.6M84.9 73.6h.6M92.1 70.5h.6M112.6 59.4h.6M101.3 64.1h.6M81.3 125.4h.6M100.3 71.2h.6M94.0 64.1h.6M95.2 72.0h.6M71.7 134.9h.6M84.4 68.7h.6M104.1 64.2h.6M103.9 66.4h.6M110.3 69.8h.6M76.4 125.8h.6M113.6 71.6h.6M88.9 69.4h.6M95.6 68.7h.6M112.2 63.6h.6M80.3 88.4h.6M123.3 64.5h.6M115.2 59.0h.6M95.4 73.3h.6M86.2 83.8h.6M77.5 82.1h.6M67.8 127.2h.6M112.6 59.5h.6M121.1 63.7h.6M85.4 119.2h.6M114.7 64.4h.6M111.1 69.2h.6M73.8 149.1h.6M118.1 77.1h.6M76.3 82.2h.6M74.5 105.4h.6M73.3 131.6h.6M108.1 70.8h.6M76.2 97.6h.6M74.3 77.7h.6M78.6 123.8h.6M100.1 62.1h.6M68.7 75.4h.6M110.4 77.8h.6M103.3 76.9h.6M107.5 62.7h.6M67.0 117.9h.6M66.2 141.3h.6M118.0 67.5h.6M131.0 67.1h.6M79.9 69.0h.6M123.5 60.6h.6M96.7 61.1h.6M93.0 69.2h.6M77.4 99.9h.6M75.7 95.6h.6M79.3 78.8h.6M87.0 117.2h.6M75.6 75.7h.6M82.1 87.7h.6M79.4 143.5h.6M75.9 81.9h.6M72.2 106.0h.6M102.6 63.9h.6M98.2 66.4h.6M92.3 74.0h.6M97.8 57.8h.6M100.5 74.1h.6M72.9 110.4h.6M75.8 83.6h.6M94.7 73.5h.6M120.4 70.0h.6M74.8 130.4h.6M78.1 149.1h.6M122.9 55.7h.6M118.4 67.2h.6M93.4 62.0h.6M106.9 77.3h.6M98.5 62.2h.6M126.4 56.8h.6M73.4 118.6h.6M79.3 81.3h.6M94.5 68.8h.6M70.4 108.7h.6M99.2 69.7h.6M59.3 120.2h.6M100.8 61.0h.6M94.9 63.5h.6M77.2 94.1h.6M122.2 62.7h.6M98.5 67.3h.6M116.2 57.7h.6M65.9 141.1h.6M80.3 112.2h.6M107.8 63.7h.6M116.1 62.0h.6M102.6 67.5h.6M108.6 71.5h.6M65.4 161.7h.6M119.3 69.1h.6M121.5 71.9h.6M97.0 65.6h.6M62.1 101.0h.6M102.4 65.5h.6M72.7 114.4h.6M99.1 75.4h.6M107.1 59.7h.6M82.5 74.6h.6M67.1 97.6h.6M74.2 155.8h.6M65.2 131.0h.6M108.7 60.5h.6M75.1 121.5h.6M69.7 155.1h.6M75.6 92.2h.6M76.4 75.5h.6M87.7 70.4h.6M129.4 64.2h.6M124.6 58.7h.6M121.9 53.3h.6M115.1 65.0h.6M79.3 87.4h.6M76.3 130.7h.6M124.3 61.3h.6M83.1 90.8h.6M90.8 77.2h.6M66.1 105.1h.6M113.4 69.7h.6M80.2 125.4h.6M80.4 92.1h.6M82.0 107.8h.6M113.1 53.5h.6M89.1 85.5h.6M93.5 59.9h.6M81.2 107.2h.6M65.2 123.9h.6M121.4 61.8h.6M115.0 72.2h.6M113.2 54.8h.6M112.9 63.0h.6M107.4 69.8h.6M64.4 123.1h.6M92.4 73.5h.6M71.9 105.9h.6M80.9 73.3h.6M75.7 75.8h.6M83.1 70.4h.6M116.9 67.6h.6M98.7 65.8h.6M78.6 102.5h.6M97.1 67.4h.6M118.6 64.9h.6M96.0 68.0h.6M82.0 64.2h.6M117.7 66.8h.6M89.1 71.3h.6M59.4 129.5h.6M74.7 115.2h.6M101.1 60.7h.6M67.2 90.1h.6M68.6 99.2h.6M78.7 96.3h.6M67.5 124.8h.6M68.5 132.8h.6M83.6 148.3h.6M89.7 58.3h.6M68.4 93.2h.6M64.3 91.9h.6M112.4 66.4h.6M84.8 66.6h.6M109.9 61.7h.6M112.2 64.0h.6M112.1 77.6h.6M85.1 138.8h.6M79.2 90.4h.6M114.7 65.0h.6M83.1 78.6h.6M116.7 71.7h.6M67.8 130.5h.6M61.5 156.0h.6M118.6 63.9h.6M75.0 106.3h.6M78.9 81.5h.6M110.2 65.3h.6M79.5 104.6h.6M109.1 61.6h.6M81.2 92.5h.6M70.3 106.7h.6M74.0 126.4h.6M74.9 78.7h.6M77.1 79.3h.6M118.2 68.5h.6M61.7 151.7h.6M72.1 149.9h.6M72.7 114.6h.6M91.7 68.9h.6M100.1 74.1h.6M75.2 79.7h.6M90.0 75.4h.6M76.8 69.5h.6M65.4 142.7h.6M82.1 95.2h.6M127.1 60.6h.6M79.8 92.0h.6M121.0 63.7h.6M87.0 78.5h.6M76.7 98.2h.6M61.6 149.3h.6M68.1 96.6h.6M81.1 102.0h.6M84.8 98.3h.6M85.6 82.0h.6M76.2 80.6h.6M80.8 86.7h.6M68.9 155.7h.6M67.9 107.5h.6M108.1 71.3h.6M73.4 137.2h.6M102.3 64.9h.6M77.8 76.5h.6M117.6 67.7h.6M80.1 78.8h.6M71.2 87.8h.6M87.6 77.2h.6M112.5 60.6h.6M80.7 101.4h.6M73.7 163.0h.6M71.3 129.8h.6M124.3 70.9h.6M83.3 94.5h.6M69.7 121.9h.6M87.1 71.3h.6M121.4 69.7h.6M93.9 65.5h.6M82.3 124.5h.6M70.7 91.2h.6M76.4 94.2h.6M68.4 143.1h.6M115.9 60.2h.6M77.5 79.9h.6M68.5 126.2h.6M122.4 61.6h.6M119.4 69.7h.6M96.9 61.5h.6M71.6 108.6h.6M66.8 143.2h.6M77.4 83.6h.6M82.4 74.1h.6M110.9 68.2h.6M122.0 65.0h.6M115.9 60.6h.6M63.9 95.6h.6M93.4 69.6h.6M78.3 139.2h.6M68.9 72.9h.6M76.4 144.1h.6M75.8 123.3h.6M69.8 123.8h.6M75.6 102.4h.6M68.3 111.0h.6M100.3 59.2h.6M65.9 140.5h.6M75.9 123.2h.6M96.5 63.6h.6M82.1 71.5h.6M105.4 54.4h.6M91.3 63.1h.6M88.5 71.7h.6M88.9 68.8h.6M116.6 65.1h.6M68.7 130.4h.6M77.9 125.1h.6M96.8 60.3h.6M73.5 129.0h.6M85.5 78.5h.6M73.5 100.1h.6M60.7 93.3h.6M101.4 64.4h.6M97.6 74.9h.6M85.8 83.4h.6M75.8 111.5h.6M102.2 69.4h.6M89.1 73.5h.6M86.7 78.3h.6M110.3 63.2h.6M108.1 66.6h.6M109.8 64.4h.6M93.0 68.2h.6M127.6 57.4h.6M90.2 55.5h.6M122.2 64.4h.6M106.6 64.1h.6M74.3 156.8h.6M79.0 78.8h.6M90.4 77.4h.6M70.5 159.6h.6M98.1 64.8h.6M103.7 59.7h.6M122.4 67.7h.6M75.5 84.9h.6M62.4 81.2h.6M110.0 71.0h.6M73.3 95.6h.6M106.4 70.8h.6M79.5 81.8h.6M68.8 87.2h.6M76.9 121.7h.6M70.6 124.7h.6M71.6 95.3h.6M71.7 133.6h.6M112.7 53.0h.6M116.3 72.3h.6M78.3 128.5h.6M68.0 144.0h.6M70.3 164.8h.6M115.2 53.5h.6M68.8 152.0h.6M86.8 69.5h.6M70.6 105.1h.6M77.6 110.2h.6M76.0 119.1h.6M92.1 66.3h.6M73.0 150.5h.6M127.2 66.2h.6M97.7 67.0h.6M79.4 110.6h.6M75.8 132.7h.6M93.0 77.4h.6M88.8 74.2h.6M65.7 101.8h.6M67.1 81.8h.6M94.0 77.4h.6M118.8 66.5h.6M83.0 79.5h.6M110.3 71.7h.6M83.1 63.2h.6M101.1 87.6h.6M70.4 82.8h.6M95.3 62.3h.6M80.8 68.8h.6M101.8 69.4h.6M64.6 125.7h.6M69.2 99.8h.6M116.5 63.2h.6M71.9 94.5h.6M103.8 64.5h.6M110.7 69.8h.6M89.7 76.1h.6M82.5 115.7h.6M113.3 56.2h.6M82.5 79.5h.6M54.3 103.2h.6M122.1 58.0h.6M84.7 85.3h.6M68.7 139.4h.6M80.0 137.9h.6M71.0 93.8h.6M92.1 68.4h.6M106.0 57.6h.6M74.7 129.7h.6M69.6 159.0h.6M83.4 89.7h.6M82.4 90.2h.6M85.9 78.9h.6M100.3 69.5h.6M116.0 63.4h.6M128.4 54.9h.6M101.2 71.0h.6M69.8 142.8h.6M73.3 119.1h.6M91.3 73.7h.6M115.3 59.6h.6M76.3 157.5h.6M80.2 77.0h.6M88.3 93.9h.6M69.9 92.9h.6M69.9 113.1h.6M85.9 119.9h.6M88.6 109.7h.6M72.8 136.4h.6M90.6 68.2h.6M73.3 73.6h.6M106.5 64.8h.6M95.5 72.1h.6M114.8 66.4h.6M78.9 93.2h.6M121.1 60.3h.6M80.1 87.5h.6M100.4 72.6h.6M111.0 68.8h.6M78.1 91.1h.6M81.5 72.8h.6M95.3 61.8h.6M80.9 124.4h.6M86.9 83.9h.6M78.7 144.6h.6M75.2 111.2h.6M91.3 72.6h.6M127.9 65.8h.6M118.0 70.3h.6M64.8 107.5h.6M84.1 115.0h.6M81.4 72.6h.6M74.7 85.6h.6M76.3 97.2h.6M103.8 70.1h.6M98.0 68.3h.6M88.1 72.4h.6M84.9 76.2h.6M98.8 61.9h.6M97.4 69.1h.6M126.8 66.1h.6M115.0 63.1h.6M119.7 72.9h.6M120.1 65.7h.6M70.5 126.1h.6M76.9 79.5h.6M108.6 65.0h.6M74.4 122.0h.6M86.2 77.7h.6M73.7 139.7h.6M70.3 115.2h.6M71.2 83.8h.6M73.8 145.9h.6M83.5 87.3h.6M71.7 109.3h.6M111.2 61.2h.6M69.2 115.6h.6M85.9 96.2h.6M99.5 57.6h.6M94.9 69.5h.6M70.6 147.4h.6M78.8 90.4h.6M93.5 67.9h.6M62.4 133.3h.6M71.3 91.0h.6M97.9 62.3h.6M79.0 79.7h.6M77.6 119.6h.6M95.8 64.2h.6M94.6 70.0h.6M74.1 149.7h.6M76.6 111.1h.6M87.5 123.3h.6M112.7 63.2h.6M71.3 145.6h.6M69.7 91.0h.6M64.0 134.5h.6M91.1 60.2h.6M111.4 65.9h.6M60.6 139.0h.6M122.0 65.2h.6M108.2 60.0h.6M72.0 100.5h.6M108.5 64.5h.6M73.3 110.3h.6M107.2 61.0h.6M78.9 146.7h.6M77.2 76.3h.6M76.8 83.9h.6M112.1 63.4h.6M105.8 66.0h.6M79.5 83.8h.6M61.6 147.5h.6M64.0 97.8h.6M72.9 89.5h.6M113.8 66.6h.6M93.6 74.5h.6M89.7 93.5h.6M85.7 107.1h.6M103.5 66.0h.6M84.6 134.2h.6M98.6 70.0h.6M93.1 76.9h.6M90.0 99.5h.6M93.0 67.2h.6M71.8 101.4h.6M71.1 125.3h.6M84.8 90.8h.6M68.5 155.1h.6M77.0 153.9h.6M82.2 75.7h.6M102.0 73.9h.6M74.4 119.5h.6M85.3 82.7h.6M108.7 75.0h.6M98.1 77.2h.6M117.8 64.8h.6M95.9 70.1h.6M93.3 62.4h.6M96.8 68.2h.6M100.6 79.9h.6M81.5 66.5h.6M79.3 77.9h.6M69.5 113.0h.6M63.9 145.3h.6M70.2 83.3h.6M102.7 66.1h.6M88.2 74.6h.6M79.7 111.6h.6M102.5 69.3h.6M71.0 131.8h.6M117.3 69.9h.6M88.5 70.6h.6M90.9 67.9h.6M74.0 76.8h.6M99.0 63.9h.6M79.0 150.3h.6M63.7 149.3h.6M83.7 79.7h.6M70.7 107.6h.6M69.1 98.9h.6M75.6 74.3h.6M67.7 141.0h.6M118.5 65.7h.6M97.1 68.3h.6M60.7 129.3h.6M109.5 74.2h.6M83.3 80.3h.6M100.1 71.1h.6M93.8 51.6h.6M100.6 62.3h.6M68.8 126.7h.6M113.1 58.1h.6M85.5 83.1h.6M69.5 109.5h.6M75.1 99.2h.6M77.8 81.9h.6M105.5 58.6h.6M90.1 78.2h.6M65.3 143.8h.6M112.9 58.9h.6M84.1 75.1h.6M102.4 62.6h.6M72.5 143.0h.6M122.3 66.1h.6M119.0 70.7h.6M79.0 137.7h.6M81.6 78.4h.6M74.3 122.2h.6M88.5 75.5h.6M70.9 149.2h.6M116.4 73.0h.6M79.1 128.4h.6M86.9 74.8h.6M98.2 75.6h.6M65.4 109.1h.6M73.2 107.0h.6M130.4 66.8h.6M78.3 140.0h.6M76.2 100.7h.6M70.3 110.7h.6M85.7 70.1h.6M78.6 88.9h.6M82.1 124.0h.6M87.2 76.6h.6M115.7 69.9h.6M100.8 66.8h.6M88.1 80.5h.6M66.9 94.8h.6M73.4 157.7h.6M78.2 66.6h.6M98.6 68.4h.6M81.0 98.6h.6M116.2 61.5h.6M68.2 106.3h.6M105.6 73.4h.6M100.0 62.1h.6M110.4 62.9h.6M115.8 62.5h.6M78.6 113.4h.6M130.7 67.4h.6M73.5 87.4h.6M87.7 77.8h.6M123.9 58.2h.6M92.4 72.2h.6M86.2 69.3h.6M77.3 155.8h.6M86.5 70.3h.6M73.3 99.1h.6M70.7 106.4h.6M84.3 87.0h.6M117.6 56.9h.6M89.7 75.0h.6M96.7 64.8h.6M68.8 130.9h.6M73.8 113.3h.6M116.8 74.9h.6M76.1 125.5h.6M124.0 61.6h.6M65.2 98.8h.6M60.4 87.7h.6M84.4 82.0h.6M81.0 77.7h.6M91.4 71.4h.6M74.5 103.7h.6M94.9 60.9h.6M76.8 112.7h.6M71.2 122.4h.6M76.4 107.1h.6M66.5 131.7h.6M84.7 80.8h.6M87.1 94.0h.6M103.7 62.1h.6M84.2 139.9h.6M73.0 88.2h.6M110.3 57.2h.6M66.1 90.9h.6M91.4 61.7h.6M112.0 66.8h.6M81.8 125.7h.6M83.8 89.1h.6M99.7 52.2h.6M84.6 75.2h.6M93.3 77.7h.6M123.0 66.0h.6M95.6 67.3h.6M75.3 78.3h.6M106.8 62.8h.6M67.0 114.5h.6M70.1 147.4h.6M76.3 100.6h.6M87.1 66.7h.6M117.3 60.9h.6M90.1 73.3h.6M74.1 95.0h.6M119.3 59.6h.6M77.6 85.1h.6M76.1 105.1h.6M80.3 73.3h.6M71.9 94.2h.6M78.2 121.6h.6M96.2 62.6h.6M90.3 76.5h.6M112.1 64.1h.6M81.4 124.9h.6M120.2 64.7h.6M95.5 66.5h.6M77.6 95.3h.6M86.7 78.8h.6M89.7 82.0h.6M79.8 111.6h.6M74.4 125.3h.6M100.2 62.9h.6M70.0 111.7h.6M76.2 77.2h.6M71.9 99.2h.6M120.6 58.1h.6M85.4 69.1h.6M77.0 93.4h.6M119.8 62.3h.6M74.3 93.8h.6M93.8 68.4h.6M68.9 98.8h.6M105.4 62.6h.6M94.7 66.9h.6M102.4 62.5h.6M75.9 76.7h.6M64.8 118.4h.6M90.6 62.4h.6M116.6 62.9h.6M71.1 106.7h.6M78.4 153.6h.6M72.2 129.9h.6M109.8 68.9h.6M75.7 156.3h.6M76.4 142.0h.6M73.7 124.2h.6M107.3 59.9h.6M73.9 91.4h.6M84.8 65.8h.6M110.5 76.2h.6M75.6 95.3h.6M110.1 69.2h.6M90.5 70.2h.6M84.8 85.3h.6M79.5 117.9h.6M73.7 135.2h.6M108.0 66.6h.6M83.3 106.6h.6M91.0 96.8h.6M123.1 70.7h.6M78.8 100.7h.6M79.7 114.9h.6M89.0 78.1h.6M84.4 75.5h.6M66.1 160.7h.6M80.5 80.3h.6M92.3 68.1h.6M78.4 120.0h.6M112.4 59.9h.6M97.1 71.4h.6M87.6 71.4h.6M118.8 69.9h.6M64.3 150.3h.6M66.8 110.7h.6M116.9 59.4h.6M80.2 77.3h.6M61.7 132.7h.6M95.1 73.7h.6M113.1 61.4h.6M88.3 88.2h.6M60.9 134.0h.6M74.6 140.5h.6M88.7 88.6h.6M77.4 140.4h.6M79.9 136.7h.6M82.2 70.5h.6M82.0 70.9h.6M63.0 155.0h.6M127.0 57.6h.6M80.2 80.8h.6M112.1 69.8h.6M81.2 64.7h.6M91.2 75.3h.6M75.8 101.0h.6M95.1 72.9h.6M77.4 110.6h.6M86.2 110.1h.6M124.0 55.5h.6M61.0 125.7h.6M74.3 94.8h.6M103.8 61.6h.6M71.3 81.5h.6M76.1 103.4h.6M122.7 57.2h.6M65.8 128.7h.6M73.0 108.8h.6M118.4 53.8h.6M76.8 118.3h.6M74.5 92.1h.6M123.1 66.1h.6M71.4 102.4h.6M127.9 62.3h.6M105.1 66.7h.6M98.7 62.9h.6M69.8 116.5h.6M73.9 101.4h.6M102.4 67.6h.6M121.1 55.1h.6M68.9 98.2h.6M73.5 110.5h.6M70.6 105.1h.6M69.6 116.2h.6M77.2 90.3h.6M74.6 77.5h.6M93.8 60.1h.6M63.5 131.4h.6M66.6 121.5h.6M65.0 125.0h.6M85.0 105.4h.6M63.9 113.6h.6M117.3 59.3h.6M76.7 97.9h.6M82.1 117.4h.6M83.8 69.1h.6M104.9 59.9h.6M99.6 62.9h.6M88.7 72.2h.6M66.6 82.2h.6M64.7 87.8h.6M67.7 86.8h.6M114.4 65.7h.6M108.0 56.2h.6M84.3 83.5h.6M115.5 68.6h.6M93.8 60.1h.6M92.7 74.8h.6M72.9 98.8h.6M75.1 109.6h.6M67.1 108.9h.6M118.3 61.2h.6M101.6 64.7h.6M114.4 69.9h.6M107.7 53.5h.6M110.4 68.5h.6M79.8 86.0h.6M110.8 61.2h.6M67.6 127.5h.6M100.0 72.8h.6M87.5 152.7h.6M108.4 72.3h.6M105.1 60.0h.6M67.4 119.5h.6M101.9 61.7h.6M100.3 63.5h.6M64.7 134.7h.6M93.3 78.0h.6M81.4 100.7h.6M96.4 73.6h.6M119.6 53.7h.6M104.6 69.9h.6M79.6 122.3h.6M94.7 66.7h.6M87.1 75.8h.6M64.8 152.6h.6M80.8 116.3h.6M82.6 86.9h.6M69.4 136.0h.6M71.2 112.7h.6M91.7 80.9h.6M113.7 47.7h.6M84.7 75.1h.6M95.2 65.0h.6M110.7 68.4h.6M78.6 73.6h.6M87.2 75.9h.6M61.0 141.0h.6M129.7 61.6h.6M81.5 135.9h.6M77.5 114.2h.6M84.4 79.8h.6M102.4 71.2h.6M112.6 72.9h.6M63.4 84.5h.6M118.1 71.4h.6M83.6 68.9h.6M101.0 60.4h.6M71.3 85.0h.6M72.0 146.7h.6M74.6 150.2h.6M86.8 65.4h.6M74.4 92.3h.6M82.7 72.8h.6M72.2 109.9h.6M71.4 128.5h.6M67.2 77.7h.6M69.9 118.3h.6M120.0 59.9h.6M74.2 129.7h.6M112.3 60.0h.6M115.5 59.2h.6M77.7 86.2h.6M99.8 64.7h.6M93.3 66.3h.6M74.0 85.6h.6M107.3 63.4h.6M110.2 66.8h.6M87.1 110.0h.6M112.8 56.3h.6M68.5 138.8h.6M76.5 138.5h.6M81.6 73.4h.6M74.0 117.8h.6M62.3 93.3h.6M82.2 87.2h.6M83.5 79.2h.6M112.1 59.0h.6M119.0 66.3h.6M74.4 84.4h.6M72.0 108.8h.6M80.8 66.0h.6M61.8 140.6h.6M71.4 94.4h.6M97.7 63.3h.6M75.1 136.8h.6M102.6 67.9h.6M96.6 63.3h.6M65.9 89.4h.6M70.7 100.4h.6M76.8 72.9h.6M74.3 111.3h.6M102.3 73.4h.6M92.9 61.2h.6M73.4 109.4h.6M104.1 68.3h.6M98.8 70.0h.6M69.1 122.4h.6M79.0 108.3h.6M83.1 69.2h.6M109.0 65.1h.6M81.2 109.1h.6M84.3 76.3h.6M114.2 51.3h.6M76.8 99.1h.6M102.7 64.1h.6M65.5 122.6h.6M86.7 98.5h.6M78.2 129.7h.6M120.9 59.5h.6M91.6 68.0h.6M81.7 111.4h.6M70.9 135.0h.6M79.7 84.5h.6M70.6 106.8h.6M84.8 72.8h.6M98.7 67.8h.6M88.9 107.9h.6M70.3 105.7h.6M77.4 89.9h.6M75.6 122.5h.6M100.6 79.5h.6M78.2 131.2h.6M102.3 53.9h.6M72.1 97.7h.6M101.6 63.2h.6M101.4 58.0h.6M80.5 119.0h.6M108.6 63.6h.6M126.0 57.5h.6M84.3 62.8h.6M87.3 72.2h.6M68.3 104.9h.6M73.1 110.9h.6M112.8 69.8h.6M103.3 59.0h.6M71.2 138.1h.6M79.7 129.9h.6M80.4 95.7h.6M96.9 74.2h.6M62.8 89.6h.6M119.7 62.6h.6M108.4 72.3h.6M115.5 59.7h.6M92.1 74.2h.6M101.8 59.7h.6M105.2 62.9h.6M66.3 160.2h.6M92.3 62.3h.6M84.7 122.4h.6M103.2 53.3h.6M66.0 92.4h.6M98.4 62.0h.6M74.1 91.2h.6M84.1 77.1h.6M98.6 61.7h.6M111.1 62.2h.6M114.8 63.9h.6M61.5 79.1h.6M89.2 73.9h.6M62.2 137.1h.6M54.8 124.9h.6M112.2 61.6h.6M126.1 60.2h.6M102.5 61.0h.6M83.4 74.7h.6M87.1 67.9h.6M103.9 69.9h.6M87.4 69.5h.6M87.0 86.1h.6M118.1 67.4h.6M62.5 100.4h.6M123.6 59.6h.6M117.5 63.2h.6M109.0 63.3h.6M115.1 55.4h.6M122.4 63.2h.6M120.0 66.2h.6M67.8 87.4h.6M82.4 94.7h.6M103.0 63.4h.6M114.8 62.6h.6M86.1 72.8h.6M66.3 153.9h.6M79.0 138.7h.6M80.6 77.0h.6M96.6 69.7h.6M115.4 51.6h.6M75.2 105.7h.6M85.2 77.3h.6M75.8 86.4h.6M70.7 154.3h.6M64.4 143.8h.6M87.1 80.4h.6M73.7 84.3h.6M120.8 67.4h.6M83.3 127.8h.6M121.8 56.4h.6M63.3 99.5h.6M74.2 74.2h.6M96.8 70.3h.6M84.3 111.0h.6M114.3 71.4h.6M119.9 63.4h.6M122.6 62.5h.6M80.2 154.0h.6M81.7 70.9h.6M98.0 69.0h.6M116.5 67.6h.6M75.6 124.0h.6M57.2 113.8h.6M100.8 78.9h.6M82.4 109.4h.6M70.2 144.1h.6M86.9 139.4h.6M87.7 77.2h.6M72.2 83.1h.6M104.9 70.1h.6M113.0 75.9h.6M77.6 144.2h.6M115.5 73.8h.6M128.5 66.5h.6M113.2 59.7h.6M101.2 73.9h.6M68.9 80.7h.6M67.6 120.1h.6M122.5 66.3h.6M72.7 79.0h.6M74.8 78.5h.6M108.8 63.1h.6M96.3 70.3h.6M102.5 73.4h.6M94.8 70.9h.6M85.0 92.2h.6M104.3 70.1h.6M71.5 88.2h.6M62.8 103.9h.6M110.2 64.1h.6M97.5 63.2h.6M92.4 65.4h.6M83.5 126.7h.6M60.4 142.7h.6M122.8 68.3h.6M122.5 59.4h.6M72.2 93.9h.6M106.0 62.4h.6M72.1 138.2h.6M69.0 94.3h.6M117.3 65.0h.6M70.5 88.6h.6M92.6 66.3h.6M112.6 74.2h.6M68.6 108.8h.6M93.0 68.1h.6M77.0 90.3h.6M62.7 112.7h.6M77.3 100.8h.6M90.5 83.5h.6M109.1 70.3h.6M110.7 58.1h.6M76.2 165.2h.6M80.1 153.8h.6M108.7 59.3h.6M85.1 70.8h.6M83.0 71.2h.6M81.9 96.5h.6M103.9 59.8h.6M78.3 73.6h.6M83.3 72.4h.6M65.2 102.0h.6M91.8 54.7h.6M75.5 114.3h.6M74.2 114.8h.6M101.5 74.8h.6M107.1 62.6h.6M73.7 107.1h.6M80.7 117.7h.6M66.7 129.8h.6M78.6 77.1h.6M111.6 64.2h.6M78.9 128.8h.6M69.8 83.7h.6M86.7 67.8h.6M78.1 132.8h.6M81.4 79.0h.6M74.5 106.6h.6M70.9 130.4h.6M114.5 61.3h.6M77.2 150.3h.6M71.0 80.3h.6M95.6 71.2h.6M79.8 93.4h.6M77.8 139.8h.6M110.9 56.0h.6M61.0 108.5h.6M81.0 86.7h.6M115.4 59.9h.6M118.6 56.3h.6M108.2 59.3h.6M67.3 93.8h.6M103.5 59.1h.6M99.1 71.8h.6M68.5 106.0h.6M115.5 65.3h.6M64.8 129.5h.6M95.0 78.4h.6M59.1 95.8h.6M89.3 114.3h.6M63.5 121.6h.6M116.5 68.6h.6M78.4 133.6h.6M114.0 61.3h.6M77.7 113.6h.6M73.0 101.7h.6M61.1 119.1h.6M118.5 69.8h.6M79.4 132.4h.6M115.8 67.9h.6M62.4 97.7h.6M108.7 63.5h.6M102.1 64.8h.6M75.4 104.5h.6M84.7 87.0h.6M76.5 117.6h.6M77.3 88.0h.6M59.1 135.0h.6M100.0 71.9h.6M87.7 74.6h.6M79.0 108.0h.6M69.9 142.0h.6M122.8 68.6h.6M73.0 118.3h.6M84.2 113.8h.6M82.3 133.6h.6M80.6 77.9h.6M87.7 97.9h.6M78.4 85.4h.6M76.3 122.7h.6M70.2 117.9h.6M109.7 68.4h.6M73.2 113.3h.6M82.5 88.6h.6M89.4 81.2h.6M59.3 109.2h.6M111.0 75.0h.6M73.9 166.4h.6M71.5 102.2h.6M63.3 89.1h.6M71.4 102.9h.6M91.5 57.0h.6M77.3 80.4h.6M73.9 89.4h.6M91.4 79.1h.6M105.8 59.7h.6M81.0 86.8h.6M116.1 67.8h.6M134.0 72.5h.6M71.5 98.0h.6M77.9 115.2h.6M101.4 69.0h.6M65.9 101.8h.6M71.9 92.0h.6M72.2 136.2h.6M88.0 67.6h.6M118.5 59.8h.6M125.9 72.1h.6M93.9 75.7h.6M82.3 79.9h.6M108.1 63.6h.6M95.4 70.8h.6M122.9 68.6h.6M92.1 69.5h.6M98.3 74.6h.6M114.5 71.9h.6M76.1 112.7h.6M69.5 103.4h.6M63.7 164.7h.6M116.9 67.0h.6M125.5 59.0h.6M93.0 66.7h.6M91.7 132.3h.6M72.5 133.9h.6M78.3 81.1h.6M82.8 95.8h.6M71.2 127.5h.6M74.4 160.1h.6M88.7 66.2h.6M104.6 56.7h.6M67.5 148.7h.6M74.9 107.3h.6M69.5 101.1h.6M67.7 77.1h.6M99.0 69.6h.6M75.1 82.7h.6M110.6 69.9h.6M70.9 104.8h.6M58.7 97.0h.6M107.1 53.6h.6M107.4 62.2h.6M125.9 60.5h.6M82.1 121.5h.6M80.4 119.3h.6M82.9 81.2h.6M121.7 78.3h.6M92.7 68.1h.6M95.3 69.5h.6M77.5 106.3h.6M115.1 54.0h.6M75.6 134.3h.6M90.5 69.1h.6M94.5 63.6h.6M104.4 61.8h.6M115.9 67.7h.6M77.6 92.6h.6M79.7 110.0h.6M122.4 65.9h.6M86.5 68.0h.6M67.0 112.8h.6M71.8 118.2h.6M103.4 79.0h.6M114.6 54.6h.6M91.3 79.4h.6M72.7 93.9h.6M91.3 71.7h.6M127.2 63.3h.6M88.6 69.8h.6M95.7 62.4h.6M127.6 55.0h.6M103.5 75.4h.6M81.7 84.9h.6M72.5 126.7h.6M98.6 69.1h.6M98.3 56.1h.6M124.5 62.4h.6M84.1 122.4h.6M63.8 138.8h.6M86.9 68.4h.6M114.9 66.0h.6M87.3 137.3h.6M85.0 73.4h.6M67.5 96.6h.6M121.7 65.7h.6M87.8 96.6h.6M72.9 127.8h.6M104.8 72.7h.6M85.2 124.3h.6M60.4 90.8h.6M58.4 131.3h.6M81.6 84.0h.6M77.9 122.0h.6M63.9 125.4h.6M98.1 70.1h.6M73.6 120.2h.6M89.6 74.3h.6M115.2 69.4h.6M84.9 72.4h.6M66.6 146.9h.6M120.1 73.6h.6M71.4 124.4h.6M85.9 90.4h.6M84.2 78.3h.6M79.5 67.8h.6M77.5 99.1h.6M88.8 83.6h.6M96.8 65.5h.6M87.4 85.0h.6M73.6 97.9h.6M79.0 109.0h.6M68.8 100.0h.6M78.3 125.5h.6M89.5 64.6h.6M85.4 78.2h.6M66.0 79.8h.6M96.1 69.0h.6M103.7 61.2h.6M96.8 74.8h.6M77.6 85.9h.6M117.2 68.5h.6M72.4 124.7h.6M102.4 62.7h.6M76.9 92.8h.6M78.0 95.0h.6M109.3 59.2h.6M108.0 69.8h.6M117.1 59.5h.6M116.1 68.7h.6M76.6 119.5h.6M77.9 78.6h.6M105.3 67.1h.6M68.6 154.1h.6M83.6 83.3h.6M121.5 70.5h.6M77.4 104.7h.6M68.0 121.3h.6M76.6 98.3h.6M72.0 89.7h.6M68.1 97.4h.6M77.4 86.4h.6M109.9 68.5h.6M90.7 72.9h.6M80.2 63.0h.6M76.1 124.9h.6M82.3 154.2h.6M123.4 65.6h.6M72.9 86.7h.6M113.4 68.7h.6M71.6 93.0h.6M90.6 76.7h.6M90.1 67.8h.6M74.3 155.5h.6M76.2 152.0h.6M71.2 79.9h.6M65.1 129.0h.6M65.0 117.0h.6M63.9 125.1h.6M72.6 113.4h.6M79.7 83.1h.6M90.7 91.8h.6M78.7 92.7h.6M83.5 69.5h.6M97.0 72.9h.6M67.5 135.1h.6M120.6 71.8h.6M80.7 110.1h.6M128.2 66.2h.6M74.6 148.9h.6M70.1 135.7h.6M64.6 128.4h.6M120.3 67.5h.6M70.7 91.4h.6M114.2 71.2h.6M104.8 69.8h.6M75.8 151.4h.6M64.0 93.9h.6M80.9 96.4h.6M79.0 72.1h.6M103.2 65.7h.6M63.4 143.9h.6M117.2 70.2h.6M89.1 77.9h.6M80.1 93.2h.6M98.5 67.9h.6M74.1 108.5h.6M102.3 59.2h.6M66.4 96.1h.6M74.5 81.1h.6M59.2 122.1h.6M66.8 125.9h.6M108.8 60.0h.6M81.5 70.8h.6M70.3 88.8h.6M103.0 61.2h.6M111.7 64.9h.6M80.7 117.2h.6M110.6 61.0h.6M73.7 164.4h.6M93.6 71.6h.6M79.6 107.0h.6M78.1 106.4h.6M79.5 76.6h.6M90.3 72.1h.6M68.9 107.3h.6M103.3 65.5h.6M116.8 59.7h.6M72.3 125.4h.6M80.8 92.9h.6M89.0 73.0h.6M85.9 97.4h.6M80.2 112.5h.6M77.7 71.5h.6M107.3 64.3h.6M100.9 58.8h.6M127.4 61.0h.6M104.9 69.5h.6M79.0 85.5h.6M107.2 61.0h.6M117.5 72.3h.6M71.0 127.0h.6M122.0 52.6h.6M81.1 98.6h.6M96.5 69.8h.6M93.5 69.7h.6M127.2 64.7h.6M81.9 74.5h.6M126.9 58.7h.6M72.9 155.0h.6M79.8 130.9h.6M64.8 117.4h.6M100.7 64.8h.6M77.1 87.7h.6M84.7 146.1h.6M68.2 130.8h.6M97.2 69.0h.6M80.3 96.2h.6M107.0 63.9h.6M72.8 93.1h.6M117.0 69.3h.6M103.9 60.5h.6M73.5 87.5h.6M67.9 83.2h.6M67.8 126.3h.6M83.3 107.4h.6M77.2 81.8h.6M80.5 82.8h.6M74.8 118.8h.6M84.6 68.1h.6M74.5 122.3h.6M118.3 56.8h.6M99.5 68.6h.6M73.6 139.0h.6M74.6 113.0h.6M64.6 103.3h.6M74.9 119.1h.6M78.9 80.8h.6M69.3 122.0h.6M79.4 137.1h.6M94.2 60.4h.6M74.8 89.6h.6M92.5 65.8h.6M91.1 73.4h.6M74.8 86.2h.6M75.9 109.1h.6M77.3 80.2h.6M72.6 76.6h.6M60.8 88.3h.6M92.7 72.1h.6M77.4 103.2h.6M73.9 115.6h.6M65.9 91.7h.6M108.2 56.7h.6M101.8 66.3h.6M91.2 63.6h.6M75.9 92.6h.6M101.5 76.0h.6M106.9 71.0h.6M74.2 103.5h.6M83.2 81.1h.6M95.3 71.8h.6M69.1 83.0h.6M71.0 147.9h.6M90.2 78.4h.6M75.1 116.8h.6M75.5 99.7h.6M79.6 67.1h.6M131.4 62.5h.6M65.0 125.1h.6M74.8 140.0h.6M93.9 74.0h.6M110.3 63.6h.6M81.0 133.7h.6M105.0 69.2h.6M74.1 158.6h.6M81.4 70.8h.6M82.0 137.8h.6M97.2 71.5h.6M70.7 99.0h.6M102.3 74.3h.6M68.4 103.4h.6M79.2 142.2h.6M69.2 109.7h.6M77.3 101.9h.6M65.4 130.8h.6M70.1 130.6h.6M72.4 80.1h.6M69.7 92.1h.6M101.3 66.0h.6M77.1 81.7h.6M85.5 77.4h.6M112.7 60.8h.6M114.4 55.9h.6M81.1 62.1h.6M70.2 161.6h.6M79.2 74.4h.6M78.9 139.9h.6M99.6 63.3h.6M78.4 148.5h.6M83.6 71.0h.6M77.3 123.2h.6M114.0 59.3h.6M80.5 148.0h.6M97.2 72.6h.6M104.2 71.2h.6M71.3 92.6h.6M88.5 70.3h.6M69.5 97.6h.6M76.8 102.9h.6M65.0 106.0h.6M78.4 147.8h.6M98.5 70.9h.6M85.2 136.4h.6M72.7 119.5h.6M71.7 143.8h.6M108.0 70.3h.6M84.8 71.6h.6M77.3 86.8h.6M91.2 77.6h.6M99.4 63.2h.6M91.1 66.9h.6M80.7 75.5h.6M65.5 98.7h.6M74.4 76.6h.6M122.1 71.8h.6M95.4 65.6h.6M83.2 73.7h.6M115.7 70.1h.6M78.5 147.4h.6M77.3 142.9h.6M101.3 64.1h.6M110.8 63.3h.6M60.2 139.4h.6M67.9 144.5h.6M75.1 148.5h.6M80.2 78.4h.6M81.9 106.2h.6M102.8 72.8h.6M93.9 65.4h.6M78.4 138.9h.6M107.5 61.5h.6M66.7 108.5h.6M89.0 70.1h.6M75.2 96.4h.6M74.0 87.2h.6M70.6 89.7h.6M85.5 142.9h.6M77.3 98.3h.6M75.3 106.5h.6M80.2 90.1h.6M74.0 120.0h.6M73.7 91.6h.6M104.1 65.2h.6M110.9 69.8h.6M82.8 123.8h.6M109.1 71.4h.6M84.5 77.5h.6M67.3 118.5h.6M61.9 139.5h.6M130.4 61.0h.6M76.2 90.9h.6M82.3 111.9h.6M95.8 69.8h.6M102.1 75.4h.6M124.3 63.7h.6M73.0 82.4h.6M73.4 98.7h.6M69.7 98.5h.6M73.0 127.7h.6M89.9 68.9h.6M120.4 55.5h.6M77.2 139.3h.6M76.1 105.1h.6M62.9 102.1h.6M77.0 135.7h.6M93.9 75.4h.6M116.4 58.5h.6M65.6 99.6h.6M111.4 69.1h.6M122.3 55.2h.6M61.3 93.7h.6M115.4 61.9h.6M97.6 63.6h.6M92.1 67.8h.6M84.5 119.0h.6M73.6 121.2h.6M75.8 130.8h.6M116.0 68.9h.6M99.0 72.1h.6M87.5 138.8h.6M91.4 77.1h.6M70.9 114.5h.6M98.0 70.0h.6M91.7 68.7h.6M136.1 62.1h.6M100.1 75.5h.6M80.2 119.8h.6M72.5 84.3h.6M90.0 68.3h.6M126.6 65.0h.6M76.2 82.5h.6M67.3 134.5h.6M69.0 111.3h.6M69.0 104.6h.6M68.5 131.7h.6M65.3 88.0h.6M81.7 104.6h.6M83.9 77.5h.6M124.5 58.6h.6M113.5 63.0h.6M75.1 136.5h.6M91.7 62.0h.6M103.1 60.6h.6M78.3 119.7h.6M82.6 71.9h.6M68.5 137.4h.6M67.1 84.7h.6M68.3 97.1h.6M96.5 64.1h.6M70.4 105.5h.6M73.0 84.5h.6M94.4 77.1h.6M75.1 111.9h.6M112.1 70.1h.6M67.9 82.5h.6M64.5 110.3h.6M112.9 71.4h.6M89.4 70.4h.6M97.8 67.6h.6M76.7 139.6h.6M70.9 135.2h.6M109.3 65.3h.6M85.1 96.6h.6M120.2 66.2h.6M78.7 106.2h.6M74.0 91.5h.6M120.4 59.2h.6M67.8 87.7h.6M74.9 138.5h.6M73.1 91.0h.6M105.5 55.7h.6M73.3 105.7h.6M94.6 69.1h.6M96.9 51.1h.6M91.7 66.9h.6M109.3 64.4h.6M120.0 69.7h.6M82.2 102.7h.6M115.8 60.4h.6M86.8 74.7h.6M73.4 137.0h.6M77.7 124.3h.6M69.0 108.0h.6M76.9 115.5h.6M115.6 71.3h.6M103.3 65.1h.6M71.6 151.2h.6M113.0 68.1h.6M89.0 62.8h.6M84.8 73.7h.6M74.4 137.5h.6M90.4 79.9h.6M113.0 71.4h.6M89.0 75.2h.6M77.1 78.6h.6M90.1 77.8h.6M75.2 68.2h.6M83.5 68.6h.6M86.4 126.0h.6M76.9 135.4h.6M63.9 143.7h.6M100.1 66.2h.6M77.2 150.5h.6M77.1 103.6h.6M86.4 79.5h.6M76.2 74.0h.6M118.9 60.6h.6M72.9 122.9h.6M77.9 133.4h.6M75.5 120.8h.6M79.6 69.6h.6M82.6 112.3h.6M77.1 78.3h.6M92.3 67.2h.6M69.3 103.9h.6M92.5 67.9h.6M70.5 160.8h.6M74.4 93.3h.6M121.7 64.0h.6M120.0 71.6h.6M105.8 68.8h.6M124.1 56.2h.6M71.9 115.0h.6M83.3 110.2h.6M81.4 89.7h.6M95.0 69.5h.6M104.3 75.7h.6M92.4 71.4h.6M68.6 133.1h.6M105.1 64.3h.6M70.0 123.9h.6M121.7 65.9h.6M70.9 132.6h.6M61.1 94.3h.6M66.5 123.0h.6M72.2 101.2h.6M95.4 72.2h.6M59.3 96.5h.6M64.7 149.4h.6M92.5 64.6h.6M98.2 59.9h.6M74.0 124.4h.6M70.2 99.6h.6M62.6 142.4h.6M74.1 143.5h.6M72.2 103.6h.6M78.9 112.0h.6M112.0 63.4h.6M76.6 129.0h.6M84.5 69.0h.6M111.4 65.2h.6M77.4 86.3h.6M85.7 73.4h.6M67.8 105.8h.6M72.5 120.0h.6M66.9 147.4h.6M114.0 66.0h.6M75.8 147.0h.6M92.5 119.3h.6M101.1 61.8h.6M86.1 77.1h.6M79.9 82.4h.6M81.0 104.6h.6M75.7 133.2h.6M113.6 61.2h.6M74.9 128.4h.6M89.0 112.4h.6M107.2 66.7h.6M62.2 111.4h.6M123.7 62.3h.6M73.5 111.0h.6M63.8 88.0h.6M78.9 76.2h.6M80.3 81.8h.6M95.3 73.7h.6M72.9 150.9h.6M73.9 71.6h.6M104.6 64.4h.6M77.5 133.2h.6M83.4 67.9h.6M83.1 83.2h.6M75.6 93.7h.6M75.3 96.4h.6M99.0 67.2h.6M106.9 68.9h.6M123.3 65.6h.6M93.7 68.2h.6M130.8 68.6h.6M94.5 67.6h.6M72.6 103.9h.6M66.0 124.7h.6M75.3 139.1h.6M73.6 94.5h.6M77.0 116.1h.6M101.7 78.0h.6M93.8 72.4h.6M98.0 72.4h.6M80.8 97.4h.6M77.6 82.1h.6M70.5 108.9h.6M114.3 63.2h.6M75.3 142.3h.6M78.6 111.0h.6M90.1 80.3h.6M68.3 129.8h.6M124.9 65.4h.6M89.1 83.3h.6M72.9 99.3h.6M74.2 159.3h.6M69.4 118.6h.6M87.5 75.0h.6M84.8 121.9h.6M73.3 140.0h.6M85.4 76.2h.6M75.6 111.8h.6M110.1 65.6h.6M97.1 64.5h.6M103.6 70.0h.6M111.3 63.0h.6M99.6 61.9h.6M63.3 105.4h.6M102.3 67.1h.6M60.2 109.9h.6M67.5 113.3h.6M63.3 115.8h.6M68.4 132.8h.6M78.5 111.7h.6M77.1 125.8h.6M95.9 69.0h.6M77.7 108.2h.6M59.7 160.5h.6M78.7 83.9h.6M60.5 141.3h.6M92.6 70.4h.6M70.7 112.8h.6M95.2 75.4h.6M75.8 127.2h.6M79.9 71.9h.6M126.1 54.9h.6M77.2 109.8h.6M84.5 89.6h.6M83.3 80.7h.6M77.8 153.2h.6M72.2 132.0h.6M121.8 70.1h.6M67.5 96.6h.6M94.8 67.9h.6M74.2 108.2h.6M98.3 67.0h.6M74.9 126.7h.6M77.0 79.7h.6M89.1 79.1h.6M114.8 65.2h.6M72.7 146.0h.6M80.5 91.2h.6M77.7 78.8h.6M85.5 70.9h.6M69.1 122.6h.6M79.8 89.2h.6M119.0 62.0h.6M102.6 66.7h.6M80.3 107.1h.6M88.9 69.6h.6M87.1 102.0h.6M76.1 96.2h.6M79.5 96.3h.6M121.4 64.2h.6M66.9 141.8h.6M112.0 62.4h.6M67.4 142.1h.6M81.1 151.8h.6M74.8 125.7h.6M72.6 109.1h.6M113.3 69.0h.6M100.2 74.5h.6M113.6 52.4h.6M75.1 98.2h.6M76.3 146.1h.6M94.4 74.4h.6M113.1 64.6h.6M74.5 111.1h.6M115.8 60.5h.6M65.9 143.0h.6M109.2 63.7h.6M85.3 79.0h.6M119.9 62.2h.6M126.1 74.7h.6M70.8 151.5h.6M82.2 93.3h.6M80.6 97.2h.6M80.5 86.1h.6M84.6 143.1h.6M79.4 77.7h.6M67.2 92.3h.6M67.4 145.4h.6M83.7 81.1h.6M117.4 70.8h.6M76.2 148.4h.6M121.0 69.1h.6M91.3 72.4h.6M78.1 121.1h.6M128.3 71.1h.6M80.5 71.8h.6M71.6 95.7h.6M79.2 84.4h.6M112.6 63.3h.6M76.7 124.1h.6M74.3 133.6h.6M69.9 109.2h.6M82.7 151.6h.6M112.4 66.3h.6M70.5 78.9h.6M94.7 70.1h.6M114.5 58.5h.6M84.2 77.8h.6M73.0 122.5h.6M70.8 74.8h.6M82.6 80.3h.6M72.1 100.0h.6M81.1 119.6h.6M76.1 96.5h.6M115.7 58.3h.6M78.2 120.6h.6M116.8 69.8h.6M70.4 109.0h.6M80.3 112.1h.6M74.3 121.1h.6M67.3 98.7h.6M72.0 104.4h.6M91.6 73.1h.6M119.4 55.7h.6M78.5 88.1h.6M96.9 58.9h.6M78.1 113.1h.6M74.3 86.4h.6M65.9 123.4h.6M119.4 64.1h.6M71.0 85.7h.6M97.1 59.7h.6M77.5 141.8h.6M105.6 69.0h.6M69.8 104.1h.6M86.0 86.0h.6M96.8 78.2h.6M69.8 115.7h.6M94.6 75.3h.6M111.1 55.5h.6M74.4 122.8h.6M71.3 87.8h.6M90.3 123.7h.6M85.9 107.2h.6M95.2 137.6h.6M90.7 96.4h.6M91.8 99.0h.6M84.3 91.4h.6M79.8 84.6h.6M73.7 110.0h.6M77.9 87.8h.6M67.1 111.1h.6M82.6 94.9h.6M77.1 123.6h.6M54.7 62.5h.6M47.0 112.8h.6M69.7 106.5h.6M72.7 105.7h.6M74.6 95.0h.6M92.9 135.3h.6M70.8 98.7h.6M63.4 112.9h.6M82.4 101.2h.6M89.5 99.6h.6M96.9 107.2h.6M66.3 117.1h.6M75.1 86.8h.6M73.1 97.7h.6M95.4 81.8h.6M86.0 112.4h.6M78.2 91.2h.6M86.3 93.0h.6M73.8 116.7h.6M75.6 105.5h.6M77.6 112.5h.6M72.2 103.3h.6M75.0 112.6h.6M82.0 107.1h.6M80.7 86.8h.6M95.0 109.3h.6M87.8 99.8h.6M77.1 101.6h.6M52.7 110.4h.6M60.9 96.3h.6M72.1 87.7h.6M73.5 125.7h.6M62.8 136.8h.6M73.5 99.8h.6M79.1 125.1h.6M70.6 112.2h.6M76.2 94.8h.6M76.7 91.5h.6M69.7 100.9h.6M67.9 98.4h.6M76.3 100.0h.6M80.8 103.5h.6M65.8 86.5h.6M54.3 120.3h.6M66.8 86.5h.6M83.5 87.5h.6M59.2 121.3h.6M88.3 118.5h.6M71.0 130.3h.6M79.1 108.0h.6M68.8 94.7h.6M84.3 125.1h.6M78.2 104.0h.6M81.9 103.5h.6M55.4 91.3h.6M85.9 112.5h.6M58.4 65.5h.6M73.8 114.6h.6M83.6 71.7h.6M75.4 120.5h.6M83.3 79.2h.6M79.5 117.2h.6M78.7 147.6h.6M68.4 100.9h.6M89.1 85.9h.6M90.4 138.6h.6M71.5 98.2h.6M67.4 86.8h.6M79.9 127.0h.6M69.0 57.4h.6M79.2 80.5h.6M86.9 83.3h.6M85.2 93.9h.6M94.4 71.3h.6M82.9 119.6h.6M65.7 123.0h.6M67.9 104.7h.6M83.7 98.6h.6M99.3 79.1h.6M73.5 113.6h.6M67.2 93.7h.6M93.5 116.1h.6M76.2 123.0h.6M85.5 106.4h.6M89.8 69.7h.6M66.4 89.7h.6M73.5 128.8h.6M71.3 110.3h.6M83.6 129.8h.6M85.0 67.7h.6M71.9 103.8h.6M83.9 102.7h.6M57.3 78.0h.6M81.5 94.7h.6M81.5 122.3h.6M77.6 114.9h.6M61.1 96.6h.6M76.4 111.2h.6M65.4 125.9h.6M94.0 87.3h.6M74.3 110.7h.6M75.2 123.4h.6M76.3 94.0h.6M83.7 127.8h.6M78.4 104.2h.6M83.6 124.6h.6M67.0 121.4h.6M90.0 110.2h.6M72.0 100.8h.6M86.1 94.6h.6M80.2 108.6h.6M89.7 109.3h.6M76.7 129.6h.6M60.9 104.3h.6M64.6 111.7h.6M75.0 134.4h.6M93.2 111.2h.6M72.8 113.5h.6M78.2 133.1h.6M91.7 107.3h.6M71.2 112.5h.6M81.0 118.6h.6M80.7 103.8h.6M70.8 86.8h.6M80.1 80.9h.6M89.4 102.3h.6M89.4 124.9h.6M73.8 122.7h.6M110.4 133.5h.6M81.5 121.2h.6M74.4 94.7h.6M69.4 81.0h.6M66.4 97.0h.6M86.8 101.2h.6M45.0 93.1h.6M75.8 121.4h.6M62.1 92.3h.6M75.6 115.6h.6M77.2 119.0h.6M62.8 76.2h.6M66.4 98.5h.6M91.8 127.1h.6M71.3 120.1h.6M77.5 107.8h.6M74.0 86.9h.6M86.9 93.8h.6M91.3 107.2h.6M87.9 127.2h.6M83.8 114.1h.6M83.9 104.3h.6M64.2 109.7h.6M92.3 119.0h.6M71.2 75.9h.6M67.5 88.9h.6M73.3 106.2h.6M68.6 126.3h.6M82.2 124.1h.6M85.7 92.5h.6M92.0 106.1h.6M76.5 93.1h.6M70.8 99.1h.6M74.4 108.2h.6M64.3 99.6h.6M69.2 96.2h.6M100.0 85.9h.6M68.9 78.8h.6M72.4 102.4h.6M84.6 108.9h.6M80.4 116.2h.6M86.2 91.8h.6M67.8 93.4h.6M65.5 127.1h.6M92.4 112.7h.6M69.9 120.7h.6M76.4 96.0h.6M79.9 93.5h.6M56.7 86.1h.6M75.4 122.5h.6M70.2 86.4h.6M83.4 76.3h.6M74.0 93.0h.6M52.2 127.1h.6M86.4 106.1h.6M48.7 109.6h.6M72.9 107.6h.6M69.7 104.9h.6M70.6 102.8h.6M77.4 81.9h.6M88.3 133.9h.6M67.7 103.1h.6M70.6 126.2h.6M85.9 79.2h.6M83.2 114.8h.6M85.6 85.6h.6M81.3 83.7h.6M74.8 110.2h.6M72.0 123.1h.6M72.2 128.9h.6M87.7 128.2h.6M94.4 101.1h.6M99.9 119.0h.6M65.8 95.5h.6M74.9 96.5h.6M77.6 109.8h.6M75.7 103.7h.6M64.8 120.1h.6M102.1 74.6h.6M94.6 124.9h.6M75.7 95.8h.6M72.4 130.7h.6M77.5 125.1h.6M63.9 86.1h.6M73.7 104.8h.6M86.3 117.2h.6M96.3 92.2h.6M87.6 93.1h.6M92.2 100.5h.6M65.6 118.3h.6M41.0 121.1h.6M93.1 98.5h.6M79.6 119.7h.6M76.6 130.7h.6M96.5 121.3h.6M66.7 93.3h.6M66.7 91.5h.6M69.1 110.6h.6M95.9 119.6h.6M88.3 113.0h.6M57.4 99.2h.6M96.3 90.0h.6M77.7 127.2h.6M82.4 103.2h.6M68.8 137.3h.6M98.9 86.4h.6M82.5 100.2h.6M92.5 94.9h.6M66.2 137.0h.6M85.5 126.7h.6M78.6 97.4h.6M75.0 73.2h.6M68.3 125.3h.6M69.6 108.0h.6M64.3 86.8h.6M70.0 80.4h.6M77.3 112.6h.6M84.2 102.4h.6M59.8 108.3h.6M65.8 112.5h.6M70.6 99.6h.6M58.9 101.2h.6M74.3 117.0h.6M74.5 104.0h.6M75.4 101.2h.6M82.2 116.7h.6M88.3 72.5h.6M86.7 126.9h.6M80.7 113.4h.6M84.3 93.0h.6M68.5 102.9h.6M66.8 126.6h.6M84.9 115.2h.6M84.0 75.9h.6M102.6 88.8h.6M75.0 109.0h.6M66.3 136.1h.6M80.9 118.8h.6M72.4 102.6h.6M67.4 115.7h.6M93.1 106.2h.6M99.5 100.9h.6M81.8 112.4h.6M70.1 69.9h.6M80.5 123.0h.6M76.9 115.0h.6M61.7 98.6h.6M87.1 91.5h.6M81.5 85.6h.6M91.9 110.6h.6M71.2 108.5h.6M77.4 109.0h.6M76.3 134.9h.6M57.9 68.9h.6M106.3 93.8h.6M53.7 92.9h.6M64.5 122.0h.6M73.5 101.8h.6M59.7 90.1h.6M82.4 109.5h.6M72.3 112.8h.6M78.5 133.2h.6M80.3 110.3h.6M78.5 98.6h.6M78.8 97.5h.6M75.9 92.3h.6M82.6 114.2h.6M86.9 119.8h.6M74.7 102.2h.6M72.6 103.7h.6M73.1 129.3h.6M81.2 107.7h.6M73.5 114.4h.6M73.3 87.7h.6M60.4 95.8h.6M99.8 70.0h.6M63.6 83.0h.6M97.0 112.2h.6M86.9 127.0h.6M89.5 101.5h.6M80.8 85.9h.6M83.4 107.6h.6M81.1 125.3h.6M84.6 103.3h.6M87.5 121.5h.6M95.3 104.9h.6M66.4 85.3h.6M83.5 90.7h.6M96.5 101.7h.6M93.9 144.5h.6M66.1 115.9h.6M81.5 102.0h.6M81.1 110.9h.6M80.8 109.6h.6M52.0 98.6h.6M87.9 104.2h.6M59.4 101.7h.6M103.2 118.5h.6M85.6 132.3h.6M76.9 128.4h.6M85.3 100.7h.6M79.7 115.4h.6M71.9 93.8h.6M77.0 87.6h.6M82.1 107.3h.6M68.8 116.3h.6M86.3 105.0h.6M91.0 120.0h.6M90.5 120.0h.6M91.7 118.8h.6M93.2 103.4h.6M86.3 83.1h.6M93.3 136.4h.6M78.9 98.0h.6M82.9 118.4h.6M94.6 114.2h.6M100.6 100.2h.6M74.1 136.8h.6M61.3 117.4h.6M103.1 105.8h.6M91.6 99.0h.6M99.4 89.7h.6M88.7 84.7h.6M81.0 115.7h.6M70.8 98.6h.6M67.1 98.4h.6M95.1 114.6h.6M89.7 100.2h.6M81.9 117.0h.6M65.3 95.3h.6M72.1 97.3h.6M71.0 121.5h.6M74.7 94.6h.6M44.7 116.3h.6M80.9 114.6h.6M96.4 106.2h.6M71.9 78.2h.6M78.6 84.0h.6M81.5 87.6h.6M66.6 84.4h.6M83.3 120.5h.6M68.8 91.4h.6M73.1 85.2h.6M81.2 97.5h.6M77.6 104.4h.6M79.4 78.0h.6M67.5 116.2h.6M86.7 118.2h.6M65.6 96.0h.6M88.1 119.6h.6M72.6 79.9h.6M64.4 96.7h.6M77.2 103.3h.6M65.9 107.2h.6M72.1 125.3h.6M76.5 100.5h.6M87.4 89.0h.6M87.6 109.6h.6M83.9 108.6h.6M74.9 113.5h.6M60.4 100.4h.6M75.6 108.9h.6M74.5 96.4h.6M76.7 115.4h.6M72.1 94.9h.6M72.1 95.6h.6M87.7 125.5h.6M62.6 93.2h.6M78.4 106.0h.6M93.0 115.5h.6M69.2 100.7h.6M66.7 121.1h.6M75.6 96.3h.6M74.2 123.1h.6M81.3 79.9h.6M94.1 83.3h.6M76.8 107.1h.6M84.8 129.9h.6M71.5 132.9h.6M72.5 91.6h.6M81.7 105.5h.6M70.4 97.7h.6M92.3 70.1h.6M73.5 118.1h.6M76.3 99.7h.6M66.0 128.9h.6M73.1 110.6h.6M66.5 97.1h.6M72.5 94.4h.6M57.4 102.8h.6M78.1 113.6h.6M98.7 97.8h.6M56.2 152.9h.6M98.6 109.4h.6M76.8 87.0h.6M88.6 107.3h.6M66.4 125.1h.6M102.1 113.1h.6M65.6 100.4h.6M77.3 94.9h.6M96.5 92.8h.6M63.2 86.2h.6M50.7 97.3h.6M77.3 110.4h.6M69.2 96.5h.6M66.7 133.2h.6M67.4 112.3h.6M60.9 98.5h.6M94.7 105.4h.6M92.6 130.5h.6M62.1 77.5h.6M76.9 109.9h.6M72.8 150.8h.6M91.2 122.7h.6M68.3 90.8h.6M97.3 108.1h.6M78.2 102.0h.6M68.9 152.5h.6M77.1 94.7h.6M71.3 101.4h.6M104.9 100.4h.6M79.9 82.1h.6M72.4 50.8h.6M79.3 102.0h.6M95.6 114.6h.6M66.7 98.7h.6M58.2 114.2h.6M93.7 118.6h.6M85.4 117.6h.6M72.8 77.6h.6M77.2 131.2h.6M91.3 120.3h.6M45.8 119.4h.6M93.2 106.1h.6M76.0 105.9h.6M86.2 96.9h.6M77.5 113.0h.6M114.9 121.4h.6M70.7 96.4h.6M91.2 119.7h.6M47.1 98.2h.6M78.6 115.9h.6M87.5 103.5h.6M59.7 120.3h.6M53.9 138.2h.6M79.2 109.8h.6M90.2 97.7h.6M92.2 98.8h.6M69.9 116.4h.6M82.2 97.7h.6M61.2 122.4h.6M98.9 111.0h.6M71.2 121.1h.6M93.3 96.7h.6M74.8 90.0h.6M74.1 93.5h.6M97.4 112.6h.6M67.6 92.8h.6M93.5 117.6h.6M73.8 71.6h.6M67.5 94.9h.6M68.0 103.2h.6M91.5 75.4h.6M77.1 95.8h.6M73.8 80.9h.6M60.0 104.8h.6M92.1 102.0h.6M90.6 118.4h.6M81.9 91.9h.6M87.3 78.7h.6M39.1 96.9h.6M71.7 108.2h.6M80.0 107.6h.6M79.3 108.9h.6M71.2 126.5h.6M80.9 100.1h.6M69.3 102.5h.6M70.2 91.9h.6M63.1 96.1h.6M79.7 123.5h.6M69.3 112.1h.6M72.0 62.3h.6M94.6 126.3h.6M77.5 72.7h.6M77.6 99.2h.6M59.6 122.4h.6M71.7 108.3h.6M89.8 115.4h.6M84.6 120.6h.6M78.6 111.1h.6M75.9 85.0h.6M78.8 112.3h.6M82.8 94.4h.6M74.1 65.6h.6M48.2 101.2h.6M101.6 115.3h.6M91.6 108.1h.6M76.1 106.2h.6M94.9 135.2h.6M62.3 110.7h.6M93.5 121.4h.6M80.3 111.6h.6M88.7 133.7h.6M73.9 100.0h.6M79.8 125.9h.6M85.0 136.6h.6M90.6 99.9h.6M84.2 123.7h.6M83.3 83.5h.6M70.9 111.5h.6M98.6 118.5h.6M80.5 92.3h.6M75.3 76.1h.6M74.1 107.0h.6M63.6 100.7h.6M69.1 109.3h.6M59.7 111.1h.6M80.4 120.2h.6M77.0 132.4h.6M80.6 113.5h.6M63.0 80.6h.6M72.9 117.6h.6M70.3 112.8h.6M89.9 108.7h.6M60.1 132.9h.6M59.8 110.8h.6M93.4 100.3h.6M82.3 114.1h.6M59.2 79.6h.6M94.2 122.4h.6M95.9 107.4h.6M91.7 134.7h.6M53.2 117.9h.6M79.4 112.7h.6M67.6 109.6h.6M74.8 86.6h.6M59.0 105.1h.6M98.8 111.4h.6M69.7 123.0h.6M81.3 113.7h.6M87.6 118.1h.6M85.3 118.0h.6M82.9 97.7h.6M73.3 111.6h.6M80.6 102.9h.6M75.3 85.6h.6M50.7 81.2h.6M90.0 120.4h.6M70.4 130.6h.6M71.7 130.4h.6M73.0 92.4h.6M61.3 131.7h.6M63.4 132.7h.6M56.3 93.9h.6M83.6 114.8h.6M92.1 135.2h.6M78.9 108.2h.6M64.2 126.5h.6M93.6 96.3h.6M74.1 101.0h.6M58.8 121.3h.6M55.4 103.9h.6M80.1 108.8h.6M95.3 108.2h.6M73.3 89.5h.6M70.3 131.6h.6M74.7 104.4h.6M67.8 101.2h.6M71.4 99.2h.6M81.0 107.7h.6M69.3 91.1h.6M89.1 121.2h.6M66.2 101.0h.6M86.4 119.9h.6M82.1 92.0h.6M73.3 89.6h.6M74.4 91.2h.6M74.0 110.5h.6M98.1 84.5h.6M68.2 120.7h.6M92.2 101.1h.6M90.0 121.6h.6M73.9 100.2h.6M97.3 120.2h.6M49.4 89.4h.6M80.9 88.2h.6M79.5 116.5h.6M78.2 97.3h.6M88.0 124.3h.6M73.1 94.9h.6M75.7 115.1h.6M91.7 92.8h.6M76.5 77.4h.6M65.5 130.5h.6M84.8 103.0h.6M76.9 122.8h.6M71.1 109.5h.6M84.5 77.8h.6M68.7 113.1h.6M66.1 124.6h.6M74.8 128.1h.6M75.6 133.9h.6M78.6 113.0h.6M63.5 104.8h.6M98.6 107.6h.6M86.0 87.0h.6M79.6 118.8h.6M80.7 118.6h.6M47.9 112.3h.6M89.0 93.5h.6M65.6 117.2h.6M84.0 97.2h.6M63.6 127.3h.6M89.7 96.3h.6M71.5 97.6h.6M75.4 101.1h.6M96.3 89.1h.6M89.8 91.4h.6M61.4 101.7h.6M69.5 65.1h.6M80.2 139.9h.6M75.1 112.6h.6M87.6 111.3h.6M69.7 91.6h.6M55.4 109.6h.6M67.0 106.2h.6M75.7 108.0h.6M84.5 81.5h.6M86.8 104.3h.6M92.9 74.6h.6M80.7 103.0h.6M75.5 91.4h.6M86.7 96.1h.6M76.7 100.8h.6M72.3 120.4h.6M72.3 126.8h.6M89.1 106.8h.6M95.7 88.2h.6M93.7 131.2h.6M58.7 82.6h.6M91.0 97.0h.6M64.5 102.6h.6M73.8 93.8h.6M85.0 128.6h.6M61.9 113.0h.6M63.2 124.3h.6M68.9 101.2h.6M98.2 120.8h.6M90.8 103.6h.6M67.1 103.7h.6M79.6 111.2h.6M79.5 112.8h.6M81.7 115.8h.6M69.4 102.6h.6M95.2 80.9h.6M73.4 100.8h.6M87.8 61.0h.6M57.7 101.3h.6M82.6 92.4h.6M79.7 119.9h.6M94.2 60.4h.6M46.8 139.8h.6M84.6 100.3h.6M87.7 79.2h.6M74.7 113.2h.6M93.7 114.3h.6M103.2 113.2h.6M88.5 142.7h.6M87.6 92.0h.6M94.1 111.0h.6M83.2 108.6h.6M92.7 94.6h.6M85.1 110.9h.6M69.7 127.2h.6M65.3 91.7h.6M92.0 113.6h.6M85.1 123.0h.6M69.9 117.0h.6M78.3 79.1h.6M95.5 110.8h.6M57.4 99.5h.6M67.1 126.7h.6M86.3 103.9h.6M87.8 139.1h.6M63.9 85.3h.6M66.0 114.4h.6M79.9 91.3h.6M94.8 135.9h.6M78.1 132.5h.6M50.1 90.5h.6M90.3 118.7h.6M77.7 105.3h.6M72.4 78.7h.6M64.0 88.4h.6M92.3 107.7h.6M81.2 114.7h.6M82.8 99.7h.6M82.2 111.0h.6M83.2 111.3h.6M88.0 110.9h.6M98.5 86.1h.6M65.2 108.3h.6M77.0 115.0h.6M72.5 80.9h.6M98.2 132.0h.6M74.5 130.6h.6M58.6 108.8h.6M77.6 141.2h.6M69.1 92.5h.6M69.1 90.1h.6M72.6 95.5h.6M62.2 94.0h.6M54.7 137.1h.6M101.4 106.9h.6M76.4 105.1h.6M66.7 112.2h.6M85.4 132.9h.6M94.0 108.9h.6M56.9 99.7h.6M72.6 110.6h.6M81.3 127.3h.6M67.8 102.6h.6M83.4 129.9h.6M63.1 111.2h.6M69.9 103.1h.6M76.5 114.4h.6M83.1 139.4h.6M78.4 102.0h.6M69.8 129.3h.6M73.5 115.6h.6M52.5 108.7h.6M103.6 106.9h.6M73.0 119.9h.6M74.4 116.4h.6M81.1 112.3h.6M84.8 117.2h.6M82.1 91.6h.6M69.8 95.1h.6M58.0 89.3h.6M75.8 100.3h.6M68.3 102.5h.6M71.3 99.9h.6M77.9 115.1h.6M80.8 90.2h.6M93.4 102.0h.6M76.1 120.6h.6M57.2 134.4h.6M84.9 107.0h.6M89.0 126.3h.6M58.1 129.1h.6M85.2 89.0h.6M80.2 110.2h.6M71.4 88.5h.6M80.0 99.6h.6M82.6 112.9h.6M85.0 84.8h.6M91.7 115.0h.6M77.7 103.7h.6M77.8 102.0h.6M106.9 115.1h.6M65.0 92.3h.6M74.6 77.7h.6M73.6 106.6h.6M87.1 94.0h.6M91.2 102.7h.6M62.0 87.6h.6M92.7 90.3h.6M63.6 88.8h.6M109.3 84.6h.6M69.8 92.4h.6M91.2 92.9h.6M74.7 106.4h.6M86.4 158.9h.6M68.9 95.6h.6M79.5 79.4h.6M78.2 115.6h.6M79.0 85.3h.6M87.5 91.0h.6M72.6 100.2h.6M74.0 106.6h.6M62.1 107.1h.6M76.2 110.0h.6M72.0 103.9h.6M88.5 124.4h.6M86.0 119.9h.6M69.2 96.8h.6M83.2 102.3h.6M93.7 83.2h.6M75.4 116.9h.6M63.8 102.4h.6M107.5 137.6h.6M84.6 94.5h.6M86.4 131.1h.6M108.0 90.5h.6M68.3 77.8h.6M81.6 91.5h.6M55.1 111.5h.6M83.8 122.7h.6M82.7 91.2h.6M68.5 121.9h.6M67.7 97.1h.6M75.8 97.2h.6M75.2 100.7h.6M96.9 133.3h.6M75.0 108.8h.6M76.0 110.8h.6M75.8 80.6h.6M58.7 108.5h.6M72.1 110.4h.6M61.7 132.9h.6M79.4 91.2h.6M51.6 94.0h.6M64.4 90.4h.6M81.0 94.9h.6M52.7 116.9h.6M59.2 92.4h.6M89.9 126.9h.6M61.9 106.2h.6M77.8 90.5h.6M81.6 94.8h.6M65.2 82.8h.6M57.6 81.5h.6M96.3 124.8h.6M71.2 120.3h.6M84.1 89.3h.6M68.8 98.1h.6M82.3 132.3h.6M62.1 93.5h.6M61.4 109.3h.6M65.3 114.0h.6M70.3 102.2h.6M70.3 102.4h.6M73.9 99.9h.6M83.1 107.5h.6M71.4 79.5h.6M89.1 106.3h.6M69.9 108.5h.6M85.9 83.5h.6M93.7 113.0h.6M98.8 90.0h.6M54.0 61.8h.6M98.6 73.2h.6M56.7 107.1h.6M94.9 114.8h.6M77.7 98.3h.6M82.1 81.2h.6M66.5 102.7h.6M89.1 120.7h.6M86.1 104.6h.6M71.3 80.9h.6M70.5 113.2h.6M88.2 102.0h.6M90.3 102.5h.6M87.1 106.4h.6M73.3 114.7h.6M78.0 103.5h.6M89.2 89.3h.6M88.0 103.5h.6M91.5 107.6h.6M79.6 125.0h.6M69.5 84.9h.6M81.4 103.0h.6M83.4 90.7h.6M71.5 109.8h.6M83.3 96.2h.6M67.9 54.1h.6M81.0 121.2h.6M70.7 94.3h.6M103.3 87.1h.6M92.2 80.2h.6M81.1 87.5h.6M62.2 83.7h.6M63.2 102.9h.6M86.3 107.7h.6M76.1 104.0h.6M81.6 111.2h.6M59.0 91.4h.6M59.9 115.3h.6M79.3 103.5h.6M75.4 112.7h.6M61.9 115.5h.6M68.3 99.2h.6M87.3 125.9h.6M72.7 118.6h.6M84.8 98.5h.6M97.8 134.6h.6M82.0 133.0h.6M79.5 79.8h.6M70.8 67.9h.6M92.5 95.0h.6M60.6 113.1h.6M64.7 120.9h.6M77.7 116.4h.6M60.2 105.1h.6M89.7 121.4h.6M70.4 117.2h.6M84.3 98.1h.6M74.2 108.5h.6M74.9 123.1h.6M78.1 94.8h.6M54.4 95.0h.6M64.9 91.6h.6M72.2 129.7h.6M104.6 116.6h.6M87.7 119.5h.6M86.6 99.3h.6M65.5 105.0h.6M88.6 125.6h.6M92.9 100.9h.6M86.9 125.1h.6M109.4 105.2h.6M61.7 105.1h.6M65.0 114.7h.6M74.8 119.8h.6M66.2 134.6h.6M78.5 99.8h.6M84.2 133.5h.6M77.8 93.0h.6M79.1 91.3h.6M82.8 68.5h.6M87.2 119.5h.6M70.0 130.1h.6M69.9 85.7h.6M92.2 100.2h.6M73.8 101.3h.6M67.9 79.8h.6M81.3 106.8h.6M73.7 110.6h.6M79.3 97.3h.6M77.1 88.7h.6M85.5 107.9h.6M88.9 115.5h.6M67.9 82.2h.6M63.3 104.0h.6M97.0 114.9h.6M69.7 59.2h.6M59.3 111.0h.6M55.1 134.1h.6M77.4 84.4h.6M70.1 127.3h.6M55.9 100.8h.6M66.5 115.7h.6M65.1 103.0h.6M89.8 86.7h.6M80.7 77.3h.6M77.7 145.3h.6M62.6 83.5h.6M75.7 101.2h.6M85.8 129.4h.6M79.7 110.7h.6M90.5 108.6h.6M78.8 72.3h.6M86.1 95.5h.6M83.3 83.6h.6M71.0 75.9h.6M93.9 111.8h.6M82.2 119.5h.6M87.7 92.9h.6M65.0 94.9h.6M64.8 112.9h.6M75.7 120.4h.6M68.2 88.2h.6M85.2 125.2h.6M82.7 121.3h.6M92.5 105.8h.6M84.9 87.3h.6M64.3 115.2h.6M89.2 117.2h.6M70.0 135.0h.6M69.0 95.8h.6M78.6 132.1h.6M77.7 99.9h.6M90.3 114.5h.6M111.7 103.9h.6M82.9 107.2h.6M95.3 130.2h.6M75.3 94.4h.6M81.9 119.6h.6M71.6 101.3h.6M72.7 105.2h.6M93.9 93.8h.6M83.2 109.1h.6M83.2 72.6h.6M68.2 101.5h.6M98.3 122.6h.6M75.7 119.8h.6M70.0 78.7h.6M77.6 87.1h.6M85.9 98.9h.6M86.8 137.0h.6M95.4 98.7h.6M65.1 105.6h.6M72.7 101.7h.6M96.5 110.9h.6M105.1 90.6h.6M70.3 110.1h.6M76.7 113.8h.6M59.3 123.2h.6M68.0 91.1h.6M67.2 120.9h.6M76.6 137.9h.6M63.6 119.0h.6M89.0 117.3h.6M77.1 65.0h.6M74.8 128.2h.6M88.9 137.9h.6M74.6 126.3h.6M63.0 114.3h.6M78.2 119.8h.6M103.8 156.1h.6M79.0 94.0h.6M84.1 99.1h.6M75.5 124.3h.6M75.2 110.2h.6M83.9 69.7h.6M46.2 109.7h.6M63.0 111.7h.6M70.7 90.3h.6M74.6 112.3h.6M95.2 110.0h.6M107.2 75.7h.6M85.4 114.6h.6M82.6 142.0h.6M86.0 135.3h.6M95.9 86.9h.6M66.1 83.7h.6M72.0 106.9h.6M79.7 110.6h.6M81.4 83.4h.6M55.1 93.4h.6M83.0 128.8h.6M58.8 110.0h.6M87.0 123.4h.6M88.0 105.4h.6M50.8 123.2h.6M83.9 97.0h.6M80.2 97.2h.6M70.4 89.9h.6M89.2 73.6h.6M101.8 99.2h.6M83.8 83.0h.6M64.8 98.0h.6M60.6 108.3h.6M63.8 108.8h.6M65.7 112.5h.6M91.3 99.2h.6M81.3 104.9h.6M77.5 125.3h.6M88.3 103.2h.6M78.0 106.3h.6M78.2 64.5h.6M67.8 87.2h.6M70.4 124.3h.6M78.2 91.2h.6M63.8 87.6h.6M97.7 122.1h.6M79.3 85.1h.6M71.3 122.5h.6M89.5 104.1h.6M65.6 150.3h.6M51.5 135.3h.6M85.0 137.5h.6M53.8 127.4h.6M59.6 132.4h.6M79.7 137.5h.6M59.5 137.7h.6M76.9 128.8h.6M71.4 136.6h.6M69.1 140.8h.6M61.3 119.1h.6M65.2 147.0h.6M74.5 139.5h.6M62.0 130.2h.6M78.1 139.5h.6M74.2 145.8h.6M77.2 141.9h.6M74.1 142.3h.6M77.4 142.0h.6M75.6 147.6h.6M80.0 130.1h.6M75.5 136.8h.6M75.0 145.2h.6M62.7 142.1h.6M54.6 132.6h.6M72.3 139.4h.6M81.3 135.8h.6M62.5 142.1h.6M56.0 127.4h.6M66.3 127.7h.6M75.4 129.3h.6M80.3 140.7h.6M68.6 163.4h.6M60.1 150.4h.6M71.2 152.5h.6M78.5 141.9h.6M71.2 155.7h.6M81.8 144.9h.6M66.8 142.4h.6M80.4 151.3h.6M88.1 131.3h.6M61.9 122.8h.6M63.1 131.5h.6M78.2 154.1h.6M102.8 149.7h.6M76.8 143.5h.6M71.5 139.8h.6M84.8 140.3h.6M70.7 145.2h.6M55.7 134.3h.6M62.3 148.5h.6M85.2 133.3h.6M55.0 153.5h.6M57.6 138.9h.6M79.9 133.8h.6M73.3 139.3h.6M83.8 133.7h.6M61.2 140.6h.6M64.5 126.1h.6M68.3 137.5h.6M59.5 142.5h.6M69.5 145.1h.6M70.1 138.4h.6M80.4 152.4h.6M70.9 127.0h.6M67.8 139.9h.6M76.7 137.5h.6M82.8 141.7h.6M82.1 139.5h.6M74.5 153.9h.6M68.0 141.7h.6M67.1 133.7h.6M58.8 163.5h.6M72.5 142.1h.6M71.5 140.4h.6M88.2 149.5h.6M74.0 136.6h.6M79.2 139.8h.6M84.8 149.3h.6M53.2 131.4h.6M65.4 137.8h.6M69.4 150.0h.6M73.0 157.5h.6M60.5 141.1h.6M80.3 140.8h.6M80.8 151.3h.6M76.8 128.8h.6M78.6 135.7h.6M60.8 134.8h.6M83.1 123.8h.6M65.7 116.4h.6M53.0 138.2h.6M73.0 149.7h.6M76.0 147.6h.6M65.0 152.8h.6M55.3 117.8h.6M60.3 140.5h.6M70.3 153.4h.6M46.5 134.2h.6M82.0 130.4h.6M81.8 144.8h.6M70.0 141.9h.6M82.3 147.3h.6M70.1 141.7h.6M60.5 152.7h.6M78.1 147.9h.6M77.4 144.0h.6M62.5 138.5h.6M57.7 148.0h.6M62.0 136.0h.6M83.4 150.2h.6M68.7 151.9h.6M99.8 150.1h.6M65.2 130.6h.6M77.8 145.7h.6M75.0 145.1h.6M69.5 149.5h.6M80.1 128.1h.6M63.2 136.5h.6M71.2 141.1h.6M60.1 154.1h.6M50.0 136.6h.6M72.5 149.7h.6M60.4 143.1h.6M58.8 158.8h.6M77.6 144.7h.6M70.2 127.7h.6M75.6 139.4h.6M89.0 144.1h.6M73.6 153.0h.6M76.3 147.7h.6M59.9 139.4h.6M80.1 130.7h.6M80.3 142.1h.6M61.3 140.8h.6M78.3 153.6h.6M75.0 150.0h.6M69.7 129.5h.6M72.6 121.4h.6M96.0 138.2h.6M65.3 144.2h.6M68.5 133.3h.6M72.8 137.3h.6M70.0 152.3h.6M53.6 148.3h.6M78.3 126.7h.6M81.0 144.9h.6M89.1 143.3h.6M66.2 140.1h.6M59.2 146.8h.6M78.4 147.0h.6M61.6 163.8h.6M71.8 143.9h.6M67.8 135.4h.6M73.7 137.5h.6M67.4 148.2h.6M78.8 158.9h.6M62.6 147.2h.6M95.6 146.6h.6M79.6 144.2h.6M65.6 138.0h.6M62.2 142.6h.6M70.0 131.2h.6M67.1 148.5h.6M63.6 146.1h.6M85.8 143.5h.6M81.5 134.3h.6M61.0 139.6h.6M77.4 136.9h.6M72.0 144.6h.6M79.5 139.4h.6M65.2 145.1h.6M93.1 150.1h.6M72.6 153.1h.6M91.8 132.9h.6M67.1 139.0h.6M85.3 132.3h.6M70.8 152.9h.6M88.5 134.4h.6M70.1 153.8h.6M61.2 137.5h.6M61.1 151.0h.6M65.5 137.2h.6M77.9 140.0h.6M75.6 143.0h.6M73.1 142.7h.6M82.5 140.7h.6M88.3 147.8h.6M61.8 152.5h.6M81.9 149.6h.6M95.0 137.7h.6M65.7 125.6h.6M66.2 143.0h.6M76.0 116.9h.6M74.2 147.9h.6M66.5 147.4h.6M71.2 131.3h.6M88.0 147.1h.6M81.1 136.1h.6M63.8 153.1h.6M54.8 135.2h.6M60.9 134.6h.6M73.7 136.2h.6M64.1 144.1h.6M63.5 132.8h.6M79.1 161.8h.6M69.1 138.7h.6M68.1 157.4h.6M74.1 139.5h.6M86.4 139.2h.6M75.0 135.7h.6M78.8 135.3h.6M72.8 145.8h.6M87.4 152.5h.6M59.7 142.9h.6M60.7 134.1h.6M66.9 143.9h.6M92.2 135.0h.6M87.4 118.4h.6M61.0 143.1h.6M67.4 126.6h.6M77.5 136.4h.6M72.7 142.4h.6M80.8 138.4h.6M67.1 139.7h.6M55.4 155.6h.6M78.1 150.4h.6M84.5 155.3h.6M56.6 143.9h.6M53.2 144.0h.6M67.5 157.5h.6M53.3 136.5h.6M76.3 144.9h.6M60.4 143.2h.6M79.4 144.6h.6M68.6 147.2h.6M73.3 143.0h.6M78.6 149.1h.6M70.0 134.5h.6M61.9 146.3h.6M81.1 132.8h.6M57.3 151.4h.6M86.1 150.6h.6M65.9 140.1h.6M66.7 137.5h.6M75.9 141.7h.6M76.2 146.8h.6M77.1 128.6h.6M57.3 133.1h.6M63.2 150.2h.6M75.4 140.0h.6M75.7 130.6h.6M71.1 122.4h.6M84.9 138.0h.6M70.2 126.5h.6M81.4 143.0h.6M82.9 141.1h.6M75.5 158.0h.6M70.1 130.9h.6M79.4 147.4h.6M76.5 131.3h.6M78.2 132.8h.6M63.4 140.0h.6M76.7 134.4h.6M88.0 157.7h.6M69.2 141.3h.6M73.4 135.2h.6M69.7 162.0h.6M80.8 134.8h.6M51.5 138.5h.6M88.0 139.9h.6M77.2 134.9h.6M69.8 147.0h.6M74.8 152.1h.6M83.3 130.4h.6M75.8 137.4h.6M78.8 138.4h.6M84.1 129.4h.6M73.8 130.1h.6M79.5 138.4h.6M86.8 133.7h.6M77.7 144.3h.6M65.9 148.8h.6M79.8 143.2h.6M92.4 144.1h.6M69.0 133.5h.6M76.6 136.3h.6M76.4 145.0h.6M80.9 146.6h.6M68.1 140.8h.6M71.9 146.3h.6M91.6 139.4h.6M79.0 131.4h.6M66.0 144.2h.6M80.0 137.8h.6M72.8 126.7h.6M87.4 148.9h.6M56.1 144.9h.6M73.2 147.9h.6M81.9 137.4h.6M59.6 154.4h.6M64.8 145.7h.6M76.9 150.0h.6M72.5 135.8h.6M69.2 138.8h.6M75.2 152.7h.6M58.4 141.3h.6M63.8 141.7h.6M89.4 154.5h.6M65.8 151.6h.6M76.5 143.5h.6M71.7 158.1h.6M80.7 128.6h.6M75.4 141.0h.6M76.2 136.8h.6M83.7 154.3h.6M75.4 155.2h.6M55.3 137.4h.6M65.6 142.8h.6M86.3 149.7h.6M82.7 146.1h.6M69.9 143.9h.6M56.4 150.2h.6M65.1 158.4h.6M92.8 142.7h.6M84.1 132.1h.6M84.3 140.7h.6M56.2 141.3h.6M58.8 138.4h.6M66.3 147.7h.6M58.8 148.0h.6M73.3 149.5h.6M61.4 145.8h.6M76.9 143.9h.6M70.0 132.8h.6M66.6 138.7h.6M78.6 134.2h.6M76.6 144.4h.6M73.5 140.6h.6M68.6 141.3h.6M71.7 146.2h.6M53.1 139.1h.6M52.8 150.9h.6M65.5 150.7h.6M73.5 133.6h.6M89.6 152.9h.6M76.1 138.8h.6M62.4 135.4h.6M67.3 139.0h.6M59.7 130.8h.6M71.7 144.6h.6M71.2 152.0h.6M71.8 128.7h.6M74.8 145.3h.6M82.4 146.7h.6M78.9 147.3h.6M60.7 147.2h.6M80.5 145.4h.6M62.1 137.7h.6M75.9 149.3h.6M73.1 144.5h.6M88.7 148.5h.6M71.1 144.3h.6M71.2 139.4h.6M69.4 141.3h.6M80.6 146.9h.6M75.2 150.6h.6M69.5 125.3h.6M80.4 130.7h.6M92.9 127.7h.6M88.2 137.1h.6M87.0 135.9h.6M66.9 143.4h.6M71.3 139.1h.6M73.8 153.1h.6M55.4 136.4h.6M89.2 135.6h.6M58.0 134.6h.6M76.2 139.1h.6M60.0 143.0h.6M73.4 137.5h.6M80.4 133.7h.6M77.4 129.9h.6M63.8 143.2h.6M65.8 136.9h.6M81.4 133.2h.6M71.6 139.3h.6M73.4 144.5h.6M81.5 159.1h.6M47.5 155.5h.6M74.8 134.0h.6M84.7 137.8h.6M89.8 124.9h.6M79.0 124.8h.6M65.0 125.8h.6M81.8 149.4h.6M90.7 140.3h.6M66.0 129.0h.6M65.2 135.8h.6M70.8 137.3h.6M68.2 135.9h.6M52.2 154.1h.6M49.0 125.0h.6M59.4 137.7h.6M66.0 143.6h.6M76.5 145.7h.6M67.1 122.9h.6M74.0 143.1h.6M85.7 130.8h.6M101.7 136.6h.6M80.9 127.9h.6M62.6 148.1h.6M82.0 168.2h.6M72.2 150.2h.6M75.6 139.0h.6M81.7 126.5h.6M79.9 149.0h.6M59.3 151.8h.6M61.0 132.1h.6M74.9 149.6h.6M79.2 126.2h.6M92.9 130.6h.6M78.1 142.8h.6M68.6 129.6h.6M67.4 148.1h.6M65.2 153.8h.6M59.5 142.1h.6M59.4 145.8h.6M66.8 155.3h.6M73.1 146.1h.6M64.6 152.9h.6M72.3 154.0h.6M69.4 132.7h.6M69.9 160.5h.6M67.9 151.9h.6M75.0 143.1h.6M72.3 148.8h.6M46.2 144.5h.6M74.8 143.8h.6M73.2 133.3h.6M66.2 138.4h.6M73.8 139.0h.6M65.3 151.2h.6M73.4 146.0h.6M63.6 145.4h.6M78.8 140.9h.6M75.6 152.7h.6M57.9 120.9h.6M65.3 134.1h.6M79.0 150.0h.6M76.1 138.4h.6M73.5 147.4h.6M61.0 155.5h.6M65.5 148.8h.6M73.7 129.3h.6M75.0 140.0h.6M72.0 132.1h.6M64.0 146.0h.6M69.9 150.8h.6M67.3 139.9h.6M60.7 146.3h.6M61.4 140.2h.6M64.2 158.4h.6M57.4 143.1h.6M76.7 143.9h.6M79.6 146.8h.6M80.8 151.0h.6M64.5 147.9h.6M64.7 141.7h.6M74.5 142.4h.6M67.5 146.3h.6M69.0 147.0h.6M69.0 138.8h.6M56.3 137.0h.6M84.5 140.0h.6M58.0 145.9h.6M56.7 138.2h.6M79.9 132.7h.6M61.3 139.1h.6M82.5 137.8h.6M75.4 147.2h.6M75.5 137.6h.6M68.3 138.5h.6M58.2 158.0h.6M60.4 145.8h.6M73.0 134.1h.6M71.0 152.3h.6M60.2 138.9h.6M60.9 135.1h.6M63.6 147.5h.6M71.4 129.9h.6M76.3 141.5h.6M80.8 146.8h.6M68.4 148.4h.6M86.0 137.5h.6M79.0 137.7h.6M86.4 141.3h.6M63.5 152.4h.6M77.7 126.7h.6M82.6 149.0h.6M54.8 144.6h.6M81.0 153.7h.6M76.0 132.5h.6M81.0 151.9h.6M73.7 134.6h.6M83.2 144.6h.6M67.9 138.7h.6M67.0 121.1h.6M79.0 141.5h.6M79.0 145.4h.6M58.9 149.4h.6M83.7 136.7h.6M83.4 132.1h.6M82.0 148.1h.6M64.9 139.0h.6M84.3 151.0h.6M77.0 154.2h.6M81.0 140.1h.6M71.5 140.6h.6M67.8 135.9h.6M65.2 124.7h.6M66.1 142.0h.6M80.7 148.3h.6M64.5 151.1h.6M66.0 141.9h.6M75.2 157.9h.6M69.5 137.6h.6M52.1 141.9h.6M65.6 137.4h.6M68.5 138.3h.6M87.6 139.7h.6M78.5 136.2h.6M62.3 138.5h.6M61.3 144.5h.6M67.6 143.0h.6M74.2 133.2h.6M64.5 146.4h.6M76.2 135.1h.6M58.4 146.0h.6M75.2 142.7h.6M83.5 125.7h.6M46.3 133.3h.6M71.7 150.2h.6M74.5 136.6h.6M76.4 136.5h.6M73.0 138.4h.6M71.4 143.1h.6M74.7 147.1h.6M73.1 139.6h.6M72.9 156.6h.6M87.3 137.3h.6M81.9 138.2h.6M80.9 140.6h.6M65.9 143.6h.6M67.3 154.7h.6M82.2 162.2h.6M61.9 139.2h.6M81.9 140.7h.6M59.0 147.6h.6M92.6 141.1h.6M84.0 149.5h.6M66.7 133.0h.6M67.5 149.5h.6M52.3 123.4h.6M71.5 146.7h.6M83.5 147.9h.6M77.9 163.5h.6M69.5 134.3h.6M91.8 148.1h.6M77.4 147.7h.6M76.0 134.0h.6M69.1 144.3h.6M77.6 134.9h.6M97.3 132.1h.6M76.4 129.1h.6M55.9 140.2h.6M74.1 133.1h.6M90.5 124.2h.6M83.5 144.6h.6M67.0 127.3h.6M75.4 148.1h.6M57.7 144.2h.6M78.2 135.0h.6M63.5 128.4h.6M66.9 134.2h.6M66.5 130.4h.6M65.1 138.8h.6M88.4 138.9h.6M86.3 163.4h.6M69.2 123.9h.6M72.9 136.9h.6M88.3 146.9h.6M69.2 150.9h.6M67.7 153.7h.6M63.8 133.5h.6M87.1 149.0h.6M73.6 117.0h.6M72.1 140.1h.6M67.9 149.4h.6M63.2 148.2h.6M129.5 81.8h.6M129.2 64.6h.6M117.6 70.0h.6M128.9 61.3h.6M126.2 71.7h.6M144.4 75.0h.6M131.6 69.1h.6M144.1 65.1h.6M127.8 40.5h.6M136.6 70.9h.6M151.1 51.3h.6M148.6 61.2h.6M127.8 74.7h.6M151.7 63.7h.6M147.9 71.0h.6M155.5 75.8h.6M135.9 46.6h.6M117.6 60.2h.6M140.3 82.5h.6M118.0 79.5h.6M123.7 65.9h.6M131.5 67.4h.6M150.4 63.2h.6M142.3 76.1h.6M139.7 63.9h.6M145.5 64.9h.6M126.4 59.2h.6M153.3 76.1h.6M142.2 70.5h.6M128.5 66.7h.6M129.4 58.1h.6M136.5 68.1h.6M147.0 72.9h.6M158.9 82.2h.6M141.8 84.7h.6M135.6 65.1h.6M154.0 58.0h.6M165.0 48.6h.6M156.7 65.4h.6M138.2 60.5h.6M137.3 73.6h.6M146.0 68.0h.6M142.9 70.1h.6M128.5 62.0h.6M154.8 72.8h.6M161.5 57.5h.6M127.3 60.2h.6M131.4 69.9h.6M134.7 70.8h.6M127.4 72.4h.6M149.2 72.9h.6M129.3 82.7h.6M152.0 84.7h.6M142.2 65.6h.6M149.4 75.5h.6M117.2 50.7h.6M146.0 83.1h.6M141.3 66.6h.6M150.9 75.5h.6M141.6 64.5h.6M135.2 74.3h.6M151.3 69.2h.6M149.7 57.9h.6M149.5 58.4h.6M123.1 45.7h.6M145.4 70.7h.6M130.0 69.5h.6M136.6 66.4h.6M149.6 75.6h.6M126.7 75.5h.6M165.2 60.4h.6M144.3 47.6h.6M132.3 71.7h.6M132.7 67.2h.6M141.2 76.3h.6M136.0 64.0h.6M123.9 61.5h.6M136.9 66.3h.6M130.3 88.6h.6M130.5 62.5h.6M159.4 72.7h.6M137.8 66.6h.6M129.0 51.9h.6M155.3 67.8h.6M149.1 86.7h.6M146.1 69.5h.6M130.3 60.6h.6M148.3 62.2h.6M133.1 61.4h.6M155.8 89.2h.6M146.5 70.3h.6M147.6 41.8h.6M150.6 71.4h.6M140.1 71.7h.6M125.9 62.7h.6M134.2 63.6h.6M132.3 69.5h.6M158.4 77.3h.6M133.1 64.8h.6M115.3 69.1h.6M145.4 74.6h.6M144.5 59.6h.6M127.1 62.0h.6M145.1 64.2h.6M129.1 79.3h.6M141.6 68.2h.6M136.2 65.2h.6M146.2 79.0h.6M147.1 78.2h.6M127.7 56.4h.6M142.8 55.2h.6M131.4 61.6h.6M139.3 65.5h.6M152.6 64.4h.6M130.1 70.2h.6M139.8 68.2h.6M155.1 66.2h.6M146.6 52.6h.6M125.8 51.5h.6M134.0 72.4h.6M147.8 76.5h.6M133.4 71.7h.6M138.3 64.0h.6M127.9 77.2h.6M143.8 62.9h.6M119.9 62.2h.6M138.9 64.1h.6M147.8 71.9h.6M133.6 72.9h.6M126.3 79.0h.6M125.5 67.9h.6M122.7 79.1h.6M160.0 73.9h.6M119.9 71.6h.6M125.3 68.1h.6M145.7 77.2h.6M139.7 68.6h.6M144.9 54.5h.6M149.9 59.9h.6M147.1 77.5h.6M139.4 71.2h.6M139.4 85.6h.6M139.2 73.9h.6M148.6 66.9h.6M147.9 74.8h.6M142.9 60.6h.6M126.5 82.7h.6M131.5 69.8h.6M131.7 68.2h.6M135.1 73.2h.6M127.6 67.6h.6M141.8 56.1h.6M146.1 56.8h.6M157.6 66.2h.6M134.9 72.3h.6M138.2 69.0h.6M142.0 73.8h.6M136.1 60.5h.6M129.8 67.4h.6M151.4 79.0h.6M117.1 66.8h.6M138.4 80.5h.6M120.3 72.2h.6M146.5 70.3h.6M126.6 74.8h.6M127.3 69.8h.6M139.2 69.0h.6M132.1 79.7h.6M139.1 61.3h.6M132.4 61.3h.6M160.0 68.6h.6M126.3 68.8h.6M130.8 69.4h.6M143.7 64.5h.6M138.8 64.0h.6M137.6 51.3h.6M135.9 68.2h.6M146.5 60.9h.6M138.1 55.5h.6M149.7 58.8h.6M127.0 74.7h.6M146.7 81.7h.6M135.2 64.2h.6M146.8 77.9h.6M128.7 67.4h.6M148.0 69.2h.6M125.7 70.4h.6M149.6 71.3h.6M144.6 67.3h.6M120.9 70.9h.6M138.0 53.7h.6M123.8 83.0h.6M139.7 53.5h.6M122.0 68.4h.6M143.8 83.2h.6M137.2 71.0h.6M124.0 74.3h.6M121.9 75.5h.6M144.5 68.4h.6M133.4 66.8h.6M150.3 67.2h.6M138.1 66.9h.6M163.9 55.8h.6M142.1 71.4h.6M157.6 67.3h.6M143.4 69.8h.6M142.8 75.8h.6M149.9 81.9h.6M137.2 85.1h.6M133.3 71.1h.6M151.3 53.2h.6M140.8 78.4h.6M128.6 73.0h.6M146.3 72.8h.6M130.2 68.0h.6M142.5 75.0h.6M146.5 54.9h.6M151.9 65.1h.6M152.3 50.6h.6M156.4 81.0h.6M144.6 63.7h.6M138.0 48.7h.6M146.0 77.8h.6M141.9 76.4h.6M164.9 71.9h.6M135.2 59.0h.6M156.3 65.6h.6M142.3 79.6h.6M150.3 62.5h.6M113.8 81.2h.6M140.2 65.9h.6M132.6 67.8h.6M158.5 74.3h.6M151.3 56.6h.6M133.7 70.6h.6M140.6 73.3h.6M148.4 65.4h.6M145.0 74.2h.6M134.5 51.3h.6M152.3 74.3h.6M123.7 62.8h.6M154.2 60.8h.6M142.9 63.7h.6M114.0 82.0h.6M130.6 69.7h.6M137.7 64.8h.6M163.3 66.1h.6M146.0 85.3h.6M123.8 68.2h.6M150.7 57.9h.6M141.9 61.8h.6M136.2 57.9h.6M146.1 54.3h.6M134.9 65.4h.6M141.1 74.3h.6M147.9 60.3h.6M141.7 59.6h.6M148.9 63.7h.6M134.2 62.6h.6M164.2 84.7h.6M131.4 85.6h.6M127.2 72.9h.6M139.7 52.1h.6M135.5 64.3h.6M139.3 59.6h.6M137.8 60.4h.6M132.1 50.3h.6M128.6 67.1h.6M141.3 61.8h.6M150.5 57.7h.6M128.4 60.0h.6M159.1 64.3h.6M152.4 55.3h.6M125.4 51.9h.6M144.7 56.4h.6M132.3 78.2h.6M142.7 78.1h.6M126.5 62.0h.6M134.7 68.2h.6M124.4 78.7h.6M141.5 75.8h.6M129.0 67.4h.6M132.7 73.1h.6M120.3 70.8h.6M135.1 52.5h.6M160.9 68.7h.6M136.6 68.3h.6M140.0 71.6h.6M128.9 69.8h.6M133.1 62.0h.6M130.7 66.5h.6M126.5 75.8h.6M127.9 60.1h.6M140.0 82.2h.6M150.0 85.5h.6M130.1 49.9h.6M145.5 74.3h.6M151.0 59.6h.6M150.7 69.6h.6M136.7 70.7h.6M122.9 72.2h.6M141.0 75.8h.6M141.1 68.2h.6M153.9 76.6h.6M142.4 69.9h.6M161.9 46.2h.6M136.5 67.5h.6M146.2 65.5h.6M129.7 66.1h.6M126.9 61.0h.6M143.1 85.1h.6M141.7 66.5h.6M146.4 65.2h.6M105.5 65.1h.6M152.2 68.6h.6M153.7 61.7h.6M156.0 72.3h.6M153.1 78.9h.6M136.8 62.9h.6M143.0 59.9h.6M155.6 73.0h.6M134.0 80.1h.6M147.2 68.2h.6M146.9 72.2h.6M137.7 65.8h.6M156.7 61.6h.6M133.4 70.3h.6M124.3 53.6h.6M141.7 74.2h.6M136.3 76.5h.6M149.7 55.7h.6M122.6 69.1h.6M128.4 74.9h.6M144.9 72.8h.6M146.9 65.5h.6M127.3 68.2h.6M153.3 67.0h.6M122.1 75.5h.6M146.5 56.2h.6M130.5 68.3h.6M134.2 66.5h.6M158.7 67.3h.6M135.2 57.3h.6M131.2 63.5h.6M140.8 63.9h.6M157.5 61.7h.6M147.5 87.3h.6M131.9 69.2h.6M144.8 76.0h.6M130.4 78.6h.6M137.1 81.0h.6M139.5 84.2h.6M147.5 70.5h.6M132.2 61.7h.6M143.1 63.4h.6M155.0 76.4h.6M160.9 80.4h.6M127.6 84.3h.6M146.3 88.0h.6M130.9 77.6h.6M143.1 58.9h.6M142.3 68.0h.6M140.4 70.5h.6M137.4 77.5h.6M133.1 78.4h.6M121.1 66.6h.6M152.2 74.5h.6M136.0 64.1h.6M140.7 70.2h.6M144.5 72.3h.6M149.1 71.1h.6M158.8 65.9h.6M136.3 64.2h.6M145.3 64.7h.6M127.0 81.4h.6M134.5 65.6h.6M129.4 60.7h.6M126.0 49.1h.6M150.5 64.2h.6M137.9 60.2h.6M140.2 67.8h.6M137.1 58.9h.6M136.1 65.1h.6M136.4 65.7h.6M136.3 78.0h.6M131.9 62.5h.6M131.9 59.6h.6M138.2 69.5h.6M124.5 81.2h.6M137.4 60.2h.6M140.7 72.3h.6M143.4 66.6h.6M130.6 75.9h.6M125.2 55.7h.6M147.3 66.0h.6M132.0 68.3h.6M144.6 68.0h.6M131.1 64.6h.6M127.9 71.0h.6M119.3 54.7h.6M133.7 69.8h.6M139.2 80.8h.6M128.6 73.7h.6M152.9 63.7h.6M140.7 70.7h.6M135.5 82.7h.6M151.4 57.2h.6M142.7 52.9h.6M129.0 61.2h.6M127.9 65.8h.6M138.0 69.3h.6M148.7 72.3h.6M124.2 66.5h.6M147.1 55.5h.6M138.6 76.6h.6M150.5 74.0h.6M135.8 61.9h.6M146.3 72.5h.6M144.9 64.1h.6M150.0 59.4h.6M132.5 69.2h.6M154.5 54.3h.6M122.5 57.9h.6M138.1 54.9h.6M143.5 59.2h.6M140.7 70.2h.6M149.0 68.1h.6M127.1 80.4h.6M136.7 61.3h.6M148.7 64.1h.6M135.2 55.7h.6M126.3 63.3h.6M144.1 75.8h.6M140.9 66.0h.6M136.1 86.8h.6M153.9 68.9h.6M133.1 65.6h.6M127.9 65.4h.6M134.2 50.0h.6M137.5 80.9h.6M140.8 76.7h.6M152.7 97.0h.6M142.0 86.5h.6M146.1 68.5h.6M139.1 58.0h.6M145.4 48.8h.6M129.1 67.9h.6M140.1 67.2h.6M137.5 54.5h.6M144.4 72.6h.6M123.1 83.0h.6M126.7 63.1h.6M141.8 64.5h.6M140.6 53.9h.6M143.0 76.1h.6M138.6 59.6h.6M147.5 54.0h.6M130.3 52.3h.6M129.4 61.6h.6M148.2 48.0h.6M148.5 74.5h.6M140.0 73.5h.6M129.2 59.7h.6M151.8 54.7h.6M136.8 67.9h.6M132.4 71.3h.6M148.1 54.4h.6M130.1 84.0h.6M140.2 73.5h.6M151.6 82.6h.6M128.4 45.2h.6M130.0 56.0h.6M145.9 72.2h.6M129.0 73.6h.6M136.8 66.0h.6M142.7 55.4h.6M131.0 75.6h.6M150.9 58.6h.6M141.9 79.8h.6M142.3 77.3h.6M138.0 77.0h.6M139.3 50.1h.6M136.2 72.0h.6M147.1 81.8h.6M156.9 79.0h.6M155.1 74.0h.6M129.1 82.5h.6M149.7 56.6h.6M139.6 81.8h.6M148.2 82.6h.6M141.9 71.0h.6M143.8 71.1h.6M133.6 68.5h.6M145.6 67.3h.6M148.1 61.7h.6M135.8 73.7h.6M138.9 66.3h.6M142.5 52.1h.6M147.7 58.8h.6M144.0 70.1h.6M142.8 68.6h.6M148.6 78.5h.6M139.5 77.0h.6M146.7 77.6h.6M136.9 68.2h.6M139.8 78.0h.6M115.7 69.6h.6M120.9 68.1h.6M145.8 74.1h.6M147.2 67.3h.6M141.3 59.5h.6M143.5 75.5h.6M141.3 81.1h.6M147.2 72.4h.6M139.9 80.3h.6M142.4 75.7h.6M156.3 70.6h.6M124.2 65.6h.6M128.2 53.9h.6M136.2 65.7h.6M111.8 46.6h.6M126.8 67.0h.6M145.9 54.7h.6M144.6 67.0h.6M136.0 62.1h.6M151.6 63.3h.6M127.6 63.4h.6M156.4 59.1h.6M143.5 80.6h.6M130.7 61.0h.6M144.1 49.2h.6M148.7 78.0h.6M143.7 73.6h.6M138.2 67.8h.6M121.4 70.4h.6M121.1 77.3h.6M138.3 64.6h.6M151.3 72.7h.6M131.1 67.8h.6M138.3 62.1h.6M126.6 77.7h.6M123.0 65.9h.6M140.5 72.6h.6M142.1 55.3h.6M144.5 60.6h.6M151.0 65.2h.6M129.8 64.4h.6M140.8 76.7h.6M146.3 64.3h.6M130.5 73.0h.6M130.4 52.0h.6M141.0 72.5h.6M139.4 68.5h.6M141.3 47.9h.6M144.0 68.4h.6M136.2 72.1h.6M115.6 69.5h.6M143.2 55.8h.6M144.1 52.4h.6M144.1 66.2h.6M142.6 66.8h.6M142.7 64.4h.6M156.7 80.8h.6M134.4 69.2h.6M139.1 69.3h.6M125.1 57.6h.6M138.1 71.1h.6M134.5 78.4h.6M128.9 62.9h.6M127.3 92.2h.6M136.6 63.3h.6M149.0 65.6h.6M110.2 74.7h.6M149.7 60.1h.6M129.9 43.4h.6M135.5 77.3h.6M135.2 48.1h.6M140.6 79.2h.6M134.9 58.6h.6M150.6 58.5h.6M148.4 88.5h.6M139.5 58.3h.6M135.9 66.8h.6M133.6 57.7h.6M130.1 69.2h.6M139.2 71.6h.6M136.7 83.7h.6M141.5 41.7h.6M136.7 67.9h.6M147.7 70.3h.6M153.8 71.0h.6M146.1 57.8h.6M133.0 70.8h.6M160.3 78.0h.6M122.6 77.3h.6M158.8 81.0h.6M111.9 66.0h.6M128.4 64.8h.6M138.4 68.3h.6M129.2 61.5h.6M121.5 80.4h.6M121.7 63.3h.6M142.4 69.8h.6M118.5 60.8h.6M142.2 58.4h.6M150.4 66.1h.6M153.3 68.3h.6M138.3 58.8h.6M133.9 55.1h.6M137.0 73.9h.6M161.3 50.0h.6M151.4 67.1h.6M148.9 76.7h.6M144.1 72.2h.6M144.4 51.2h.6M125.1 84.8h.6M150.4 74.4h.6M131.8 64.7h.6M116.3 72.0h.6M153.6 76.3h.6M132.9 73.1h.6M144.4 70.0h.6M135.5 79.7h.6M137.0 73.8h.6M162.6 86.4h.6M146.4 78.6h.6M143.1 67.9h.6M124.9 74.3h.6M146.5 62.4h.6M136.8 80.5h.6M139.7 56.3h.6M132.4 79.0h.6M140.6 61.7h.6M138.4 50.5h.6M128.6 81.3h.6M143.3 70.6h.6M131.7 73.5h.6M149.7 61.2h.6M142.4 66.6h.6M137.6 62.5h.6M171.4 69.2h.6M151.1 76.9h.6M135.4 69.0h.6M147.2 65.2h.6M142.6 69.6h.6M154.5 71.2h.6M130.6 73.4h.6M155.9 57.6h.6M133.7 67.8h.6M136.5 71.8h.6M131.9 69.4h.6M135.2 65.8h.6M160.7 72.2h.6M142.2 71.1h.6M132.1 79.5h.6M135.0 61.1h.6M144.1 74.4h.6M148.2 65.2h.6M135.4 67.1h.6M138.9 61.7h.6M164.5 52.8h.6M136.5 64.6h.6M140.6 68.8h.6M127.9 71.5h.6M154.3 82.1h.6M136.4 73.9h.6M157.1 64.0h.6M150.2 63.4h.6M144.3 58.7h.6M132.1 63.0h.6M137.2 72.4h.6M131.0 56.6h.6M145.0 81.7h.6M140.8 82.7h.6M129.7 57.5h.6M143.9 78.2h.6M142.4 77.7h.6M139.2 79.1h.6M149.8 70.9h.6M154.0 78.7h.6M131.6 63.3h.6M157.7 57.1h.6M144.7 72.1h.6M150.8 64.6h.6M152.3 49.7h.6M128.6 80.0h.6M147.1 75.3h.6M147.1 63.4h.6M151.6 67.4h.6M149.6 73.7h.6M142.1 46.9h.6M123.6 68.6h.6M127.7 64.1h.6M144.2 65.1h.6M116.5 64.6h.6M130.2 59.3h.6M138.2 70.7h.6M148.4 82.5h.6M143.8 54.7h.6M146.5 81.1h.6M134.5 79.2h.6M133.5 80.1h.6M147.2 78.1h.6M143.4 62.7h.6M146.3 76.6h.6M135.9 55.0h.6M137.9 61.1h.6M127.4 75.8h.6M141.4 74.9h.6M142.1 54.0h.6M122.9 56.0h.6M144.6 70.3h.6M146.7 68.4h.6M163.2 66.3h.6M138.5 67.9h.6M133.0 58.0h.6M131.6 82.0h.6M131.6 78.6h.6M124.8 75.2h.6M129.4 92.9h.6M146.6 68.0h.6M143.9 81.2h.6M141.7 66.1h.6M115.5 49.0h.6M116.9 65.3h.6M114.3 51.0h.6M153.6 60.8h.6M153.4 74.5h.6M121.6 58.4h.6M142.5 74.1h.6M140.0 65.4h.6M133.0 79.4h.6M134.5 73.7h.6M145.1 56.6h.6M147.8 70.8h.6M147.6 65.0h.6M145.2 74.9h.6M146.5 84.4h.6M143.4 65.0h.6M143.0 82.8h.6M154.9 61.8h.6M143.4 72.8h.6M145.0 68.1h.6M136.6 62.9h.6M133.6 71.7h.6M137.6 64.7h.6M138.2 74.3h.6M128.8 62.1h.6M144.1 57.4h.6M160.7 69.0h.6M143.8 71.9h.6M140.3 73.5h.6M134.6 75.6h.6M129.1 82.2h.6M146.7 70.3h.6M147.7 74.2h.6M129.7 64.5h.6M141.9 72.5h.6M129.3 65.0h.6M148.9 53.0h.6M139.9 66.0h.6M145.7 72.4h.6M155.5 62.8h.6M124.4 91.0h.6M145.5 72.7h.6M143.4 71.1h.6M137.3 70.3h.6M135.7 56.9h.6M151.4 64.6h.6M133.6 70.8h.6M139.0 85.4h.6M153.3 55.8h.6M148.8 63.8h.6M142.0 60.6h.6M147.7 66.9h.6M135.2 53.3h.6M137.9 71.8h.6M138.5 68.9h.6M143.3 68.8h.6M143.6 92.2h.6M124.8 73.0h.6M139.8 73.0h.6M142.4 67.2h.6M141.9 78.0h.6M153.0 85.1h.6M147.8 81.7h.6M149.8 67.9h.6M137.1 57.1h.6M139.6 72.6h.6M140.1 52.3h.6M145.3 57.8h.6M133.9 64.7h.6M128.5 61.7h.6M152.2 63.8h.6M133.9 66.9h.6M141.0 60.7h.6M136.7 73.0h.6M139.6 61.3h.6M156.7 74.5h.6M157.4 68.0h.6M126.4 68.9h.6M127.9 76.9h.6M106.8 73.7h.6M143.4 60.9h.6M157.4 71.7h.6M137.3 53.7h.6M138.6 73.1h.6M153.4 81.8h.6M124.3 52.4h.6M153.4 86.5h.6M146.3 47.2h.6M144.3 44.9h.6M139.8 47.8h.6M131.5 59.9h.6M134.9 64.2h.6M125.4 54.9h.6M156.3 60.2h.6M153.8 70.9h.6M136.8 61.7h.6M139.5 69.4h.6M143.9 72.6h.6M139.1 85.2h.6M144.3 65.6h.6M146.6 72.6h.6M145.3 71.1h.6M140.4 68.4h.6M115.5 73.6h.6M139.1 71.9h.6M128.9 78.8h.6M120.1 62.4h.6M159.2 57.4h.6M136.2 72.7h.6M138.8 71.3h.6M137.9 72.0h.6M136.9 85.1h.6M157.8 71.7h.6M118.7 63.5h.6M149.0 80.1h.6M132.0 64.0h.6M148.7 56.7h.6M150.8 74.6h.6M139.3 65.0h.6M120.4 58.6h.6M148.8 70.8h.6M150.0 68.7h.6M147.3 70.5h.6M132.4 57.0h.6M147.9 72.9h.6M130.4 65.4h.6M144.6 75.1h.6M139.0 56.1h.6M134.3 60.6h.6M124.2 54.5h.6M135.0 62.1h.6M134.7 80.2h.6M129.2 74.1h.6M147.4 59.7h.6M142.4 80.4h.6M135.3 71.6h.6M137.1 76.5h.6M144.5 69.6h.6M136.1 68.3h.6M133.3 71.7h.6M143.3 71.0h.6M144.3 77.4h.6M133.0 76.3h.6M132.3 79.3h.6M147.9 54.1h.6M130.9 52.8h.6M151.5 66.8h.6M145.4 67.4h.6M140.1 72.1h.6M134.0 60.2h.6M154.9 63.8h.6M130.1 61.0h.6M136.0 70.1h.6M131.5 70.2h.6M137.4 67.1h.6M131.7 73.9h.6M138.9 63.3h.6M127.7 72.1h.6M146.4 72.3h.6M147.2 80.0h.6M142.6 70.9h.6M136.4 77.1h.6M153.1 68.8h.6M163.2 75.7h.6M144.7 86.6h.6M130.2 65.1h.6M147.5 71.9h.6M138.3 71.4h.6M145.7 81.3h.6M137.6 44.8h.6M124.7 67.1h.6M140.6 50.6h.6M134.0 83.5h.6M128.7 74.7h.6M137.8 75.1h.6M154.1 66.7h.6M134.4 72.6h.6M144.9 70.1h.6M129.4 67.6h.6M138.7 48.3h.6M143.3 69.8h.6M149.8 63.7h.6M139.2 62.6h.6M137.5 62.8h.6M126.1 85.7h.6M139.9 60.6h.6M143.3 56.3h.6M143.2 73.1h.6M145.6 80.1h.6M140.4 55.0h.6M144.2 56.6h.6M127.7 62.0h.6M139.8 71.6h.6M145.0 71.4h.6M146.1 79.4h.6M130.2 70.8h.6M120.1 72.6h.6M140.3 61.8h.6M149.5 75.4h.6M152.9 57.2h.6M140.6 59.5h.6M130.5 69.0h.6M143.3 66.3h.6M139.4 71.9h.6M131.0 64.9h.6M131.4 88.0h.6M128.4 90.7h.6M129.2 60.7h.6M135.8 70.7h.6M136.6 59.1h.6M138.5 65.6h.6M137.5 56.6h.6M156.0 59.1h.6M139.5 70.6h.6M152.5 64.9h.6M127.8 59.1h.6M126.2 53.2h.6M128.5 53.8h.6M126.4 84.6h.6M154.0 60.9h.6M141.8 67.8h.6M150.5 78.1h.6M152.1 53.5h.6M144.7 70.1h.6M152.2 56.7h.6M117.9 77.6h.6M145.1 47.5h.6M140.7 63.5h.6M133.8 69.3h.6M149.6 65.3h.6M135.0 55.5h.6M131.9 68.2h.6M123.9 82.2h.6M155.4 61.2h.6M117.6 84.2h.6M141.9 73.5h.6M154.8 64.7h.6M144.1 62.6h.6M133.6 70.8h.6M133.8 60.8h.6M135.6 75.8h.6M142.5 70.0h.6M142.2 78.5h.6M134.3 91.8h.6M128.1 80.3h.6M151.6 69.0h.6M127.9 74.0h.6M131.3 79.2h.6M165.1 72.1h.6M130.4 68.4h.6M122.8 61.6h.6M125.7 59.6h.6M149.4 74.1h.6M133.6 74.6h.6M139.4 73.2h.6M112.2 61.4h.6M131.5 65.3h.6M134.4 54.5h.6M135.8 58.0h.6M150.9 58.2h.6M141.6 60.4h.6M117.0 91.6h.6M119.7 62.6h.6M128.7 65.7h.6M133.8 62.6h.6M139.6 68.6h.6M147.1 72.3h.6M120.6 66.9h.6M112.7 61.3h.6M144.9 61.7h.6M130.7 75.0h.6M113.3 66.7h.6M132.9 79.8h.6M131.4 60.8h.6M125.4 66.7h.6M126.3 68.2h.6M154.3 81.2h.6M130.9 78.7h.6M142.7 70.2h.6M137.6 58.6h.6M131.9 59.7h.6M158.7 54.0h.6M131.1 86.6h.6M167.1 70.6h.6M130.2 72.7h.6M134.0 62.9h.6M136.0 51.8h.6M147.7 60.4h.6M147.0 70.2h.6M137.2 74.1h.6M136.7 72.7h.6M147.6 58.0h.6M154.8 67.3h.6M133.3 68.6h.6M153.1 71.5h.6M144.9 68.4h.6M143.6 73.9h.6M129.5 74.8h.6M125.5 68.3h.6M146.6 76.8h.6M109.5 68.6h.6M136.3 75.6h.6M141.5 62.8h.6M122.0 70.6h.6M155.0 64.9h.6M152.8 57.9h.6M125.7 62.9h.6M134.9 60.5h.6M134.2 58.8h.6M133.9 70.2h.6M135.3 72.5h.6M143.2 65.7h.6M149.7 49.0h.6M140.1 69.0h.6M142.9 75.9h.6M136.6 57.8h.6M129.6 62.7h.6M147.7 73.8h.6M133.8 68.3h.6M133.1 80.8h.6M144.0 63.0h.6M116.9 62.1h.6M134.1 69.5h.6M135.1 69.0h.6M138.6 71.1h.6M121.8 66.0h.6M128.6 67.3h.6M144.0 86.1h.6M142.9 61.2h.6M142.9 82.1h.6M133.5 59.1h.6M131.8 72.9h.6M140.3 71.2h.6M115.6 85.1h.6M145.0 65.8h.6M146.0 59.2h.6M139.1 69.0h.6M125.2 58.6h.6M143.7 42.0h.6M127.8 57.1h.6M156.5 77.0h.6M139.1 76.2h.6M137.6 86.6h.6M138.5 73.0h.6M128.0 57.8h.6M134.3 60.1h.6M144.6 69.1h.6M134.0 61.8h.6M131.7 61.5h.6M135.4 58.8h.6M140.3 60.2h.6M133.1 51.7h.6M145.4 69.8h.6M142.2 59.9h.6M145.7 77.9h.6M150.9 79.8h.6M138.9 67.4h.6M152.9 73.2h.6M146.2 76.1h.6M147.5 67.0h.6M136.7 67.2h.6M129.8 83.8h.6M136.9 75.2h.6M138.8 66.4h.6M140.9 62.5h.6M138.7 68.2h.6M155.6 71.1h.6M129.1 78.3h.6M120.7 69.0h.6M136.9 67.4h.6M133.2 71.8h.6M138.0 64.4h.6M144.9 65.1h.6M161.1 50.5h.6M124.3 65.6h.6M130.0 74.1h.6M139.2 70.3h.6M124.4 70.4h.6M138.7 89.1h.6M150.4 62.3h.6M140.7 74.2h.6M139.6 70.5h.6M147.8 60.3h.6M125.3 79.7h.6M143.6 77.0h.6M138.6 68.3h.6M143.1 71.4h.6M138.6 95.6h.6M132.3 62.0h.6M137.5 66.7h.6M147.6 70.5h.6M132.3 70.6h.6M142.2 59.1h.6M117.9 71.1h.6M142.2 64.7h.6M145.4 63.2h.6M130.8 71.6h.6M141.3 82.6h.6M139.7 70.1h.6M140.6 64.0h.6M152.3 70.0h.6M142.8 73.0h.6M133.7 59.8h.6M135.4 63.6h.6M138.2 57.9h.6M147.3 68.4h.6M144.1 74.6h.6M133.3 68.1h.6M139.8 79.8h.6M130.0 65.9h.6M130.1 68.4h.6M134.4 69.2h.6M134.4 71.6h.6M151.2 79.7h.6M124.7 62.7h.6M141.5 72.7h.6M128.6 72.7h.6M150.0 75.5h.6M137.7 55.8h.6M147.1 54.2h.6M149.3 80.8h.6M133.6 82.2h.6M142.7 77.2h.6M133.0 69.2h.6M137.6 78.9h.6M129.8 71.7h.6M132.9 60.0h.6M139.5 66.7h.6M140.2 65.2h.6M158.5 51.1h.6M135.8 63.9h.6M137.7 62.0h.6M139.9 72.9h.6M139.8 77.2h.6M139.8 78.6h.6M143.0 77.3h.6M134.0 59.8h.6M147.5 70.6h.6M145.5 73.6h.6M132.3 74.6h.6M136.2 60.2h.6M132.9 42.5h.6M137.1 70.4h.6M134.4 61.9h.6M141.0 76.1h.6M140.1 53.7h.6M142.4 72.2h.6M132.8 66.3h.6M134.6 57.1h.6M148.9 60.3h.6M130.0 70.0h.6M147.6 73.0h.6M139.3 75.7h.6M176.5 66.4h.6M147.1 72.5h.6M138.2 64.1h.6M136.7 64.8h.6M125.8 74.5h.6M133.4 66.9h.6M152.1 47.5h.6M136.0 49.5h.6M138.8 75.5h.6M139.4 69.1h.6M145.6 84.7h.6M128.9 66.9h.6M143.2 76.6h.6M144.1 67.7h.6M127.3 77.1h.6M137.1 69.5h.6M117.9 86.4h.6M125.5 78.0h.6M145.1 61.4h.6M149.8 63.2h.6M155.1 60.1h.6M127.7 73.0h.6M139.0 70.3h.6M134.7 65.6h.6M146.9 59.7h.6M142.0 67.0h.6M134.4 52.8h.6M145.7 69.5h.6M136.2 72.7h.6M138.3 38.6h.6M132.7 59.9h.6M148.9 64.3h.6M133.8 48.4h.6M142.5 71.0h.6M131.9 80.1h.6M126.7 77.1h.6M127.9 81.2h.6M143.2 65.6h.6M122.5 82.3h.6M153.5 69.5h.6M135.8 68.0h.6M127.3 73.2h.6M137.1 52.8h.6M123.8 60.6h.6M142.5 76.5h.6M139.9 77.7h.6M147.3 57.2h.6M142.4 52.1h.6M141.4 48.2h.6M138.5 79.3h.6M151.3 66.9h.6M144.3 84.4h.6M144.0 78.4h.6M149.3 83.8h.6M144.1 74.2h.6M125.4 67.6h.6M143.8 63.0h.6M128.3 82.6h.6M138.9 54.4h.6M140.2 73.1h.6M138.4 64.3h.6M133.2 82.5h.6M146.2 60.0h.6M135.4 62.3h.6M149.6 73.4h.6M122.6 43.1h.6M135.9 79.4h.6M140.6 70.3h.6M146.4 59.6h.6M129.3 77.9h.6M132.4 65.8h.6M136.5 74.9h.6M136.9 69.6h.6M137.3 75.9h.6M145.7 56.4h.6M143.3 60.0h.6M144.9 83.6h.6M147.5 67.9h.6M147.7 63.1h.6M130.7 62.3h.6M130.9 65.9h.6M145.9 67.7h.6M154.3 50.8h.6M117.7 75.3h.6M132.7 67.8h.6M140.0 48.8h.6M131.9 70.7h.6M150.6 75.5h.6M139.7 63.5h.6M127.2 70.2h.6M135.7 71.7h.6M140.5 61.6h.6M125.6 56.1h.6M144.4 66.3h.6M140.4 63.1h.6M134.3 63.4h.6M146.8 78.4h.6M136.1 70.0h.6M138.7 60.9h.6M128.0 65.4h.6M156.6 76.8h.6M139.2 75.7h.6M143.9 49.1h.6M160.1 66.1h.6M151.6 58.6h.6M137.1 63.0h.6M143.9 77.0h.6M140.9 74.2h.6M139.2 59.7h.6M131.6 70.5h.6M124.8 79.2h.6M141.5 65.9h.6M140.7 71.3h.6M150.6 57.0h.6M159.2 73.0h.6M131.3 84.7h.6M128.7 65.4h.6M141.6 53.4h.6M148.1 60.1h.6M142.8 74.9h.6M140.2 69.5h.6M122.3 73.5h.6M160.1 62.0h.6M128.2 57.7h.6M144.0 65.7h.6M141.8 65.9h.6M129.0 65.5h.6M149.2 71.9h.6M150.1 57.6h.6M136.6 62.7h.6M142.5 73.4h.6M146.9 71.2h.6M148.1 65.4h.6M147.5 67.1h.6M132.3 74.2h.6M131.7 73.9h.6M131.1 61.4h.6M117.4 83.8h.6M133.4 89.4h.6M138.5 71.9h.6M132.2 67.9h.6M135.1 80.7h.6M148.9 70.4h.6M139.7 60.5h.6M146.1 64.5h.6M135.8 63.6h.6M138.5 78.0h.6M127.2 59.7h.6M145.1 77.8h.6M120.7 68.1h.6M132.1 73.4h.6M143.0 62.4h.6M147.9 68.5h.6M142.1 78.0h.6M130.6 77.1h.6M140.4 55.8h.6M131.6 68.2h.6M138.3 69.5h.6M136.2 87.1h.6M153.8 57.7h.6M151.2 59.7h.6M129.1 64.2h.6M128.4 71.3h.6M140.6 73.8h.6M141.6 57.5h.6M154.6 75.8h.6M142.4 78.9h.6M130.4 78.9h.6M143.6 72.3h.6M149.0 87.9h.6M121.5 64.2h.6M135.0 64.2h.6M143.0 87.3h.6M126.4 60.8h.6M142.0 69.9h.6M147.9 63.1h.6M145.2 56.7h.6M128.1 62.8h.6M133.1 68.1h.6M146.1 68.0h.6M137.6 73.3h.6M137.7 74.2h.6M159.0 61.4h.6M116.1 76.6h.6M135.0 75.3h.6M129.5 65.3h.6M134.4 56.9h.6M156.9 69.5h.6M131.3 50.8h.6M138.2 73.7h.6M144.4 78.3h.6M132.4 58.4h.6M135.5 47.8h.6M159.2 52.4h.6M133.8 72.8h.6M134.2 60.4h.6M141.5 77.0h.6M122.1 80.3h.6M141.4 57.6h.6M140.8 74.7h.6M116.9 62.1h.6M135.2 65.0h.6M141.2 69.4h.6M135.1 82.2h.6M151.2 71.2h.6M138.3 82.7h.6M121.1 60.5h.6M156.2 92.7h.6M135.0 60.9h.6M141.1 69.9h.6M129.4 86.6h.6M128.2 76.9h.6M133.7 81.6h.6M133.8 58.0h.6M134.3 58.8h.6M150.0 59.7h.6M151.0 58.1h.6M140.5 68.5h.6M137.1 65.5h.6M152.4 51.8h.6M140.2 69.7h.6M143.7 52.7h.6M132.5 63.6h.6M139.1 71.0h.6M133.7 61.2h.6M132.7 70.1h.6M144.4 72.3h.6M136.2 83.3h.6M141.7 78.6h.6M145.4 74.2h.6M159.4 65.3h.6M118.0 63.4h.6M137.0 60.4h.6M142.2 58.3h.6M134.2 64.4h.6M146.4 63.9h.6M140.8 58.0h.6M142.0 62.6h.6M138.7 78.8h.6M135.7 64.9h.6M130.9 52.1h.6M129.2 68.7h.6M140.1 66.1h.6M128.4 68.3h.6M137.3 89.2h.6M129.4 80.4h.6M154.1 78.8h.6M132.0 64.5h.6M133.4 77.3h.6M146.8 67.4h.6M134.9 68.5h.6M139.4 59.7h.6M138.0 70.3h.6M136.2 50.1h.6M143.6 75.4h.6M128.2 98.7h.6M156.7 75.8h.6M141.4 46.7h.6M126.5 74.3h.6M144.6 58.5h.6M135.0 63.3h.6M139.1 65.2h.6M154.1 73.7h.6M150.1 70.8h.6M145.1 57.5h.6M158.7 66.1h.6M149.2 65.6h.6M139.9 87.2h.6M122.9 59.5h.6M146.1 64.1h.6M120.7 65.3h.6M135.7 68.7h.6M129.4 51.7h.6M129.7 62.2h.6M150.7 62.4h.6M139.9 61.6h.6M134.2 61.0h.6M146.5 63.8h.6M133.5 64.3h.6M146.8 55.9h.6M156.4 59.0h.6M137.8 68.4h.6M138.4 71.1h.6M143.8 49.2h.6M120.1 70.6h.6M131.3 81.8h.6M125.2 58.8h.6M124.8 74.1h.6M137.3 63.6h.6M144.9 76.0h.6M142.4 78.2h.6M139.5 70.1h.6M145.5 60.5h.6M143.6 50.8h.6M148.4 59.2h.6M135.0 61.0h.6M139.2 68.0h.6M156.8 76.1h.6M148.4 82.5h.6M151.6 66.0h.6M135.0 70.3h.6M138.1 66.8h.6M134.1 72.4h.6M138.1 66.1h.6M148.1 81.2h.6M132.6 62.9h.6M156.8 62.4h.6M123.7 67.4h.6M149.5 73.0h.6M134.7 86.6h.6M143.6 72.4h.6M132.6 72.0h.6M139.7 68.0h.6M141.3 72.5h.6M130.3 66.5h.6M133.1 85.8h.6M138.0 85.1h.6M142.2 76.3h.6M148.7 72.2h.6M152.1 59.3h.6M129.2 88.9h.6M138.8 54.8h.6M132.5 63.4h.6M145.6 85.8h.6M140.5 63.5h.6M143.5 58.6h.6M137.5 52.8h.6M141.9 76.8h.6M156.6 73.0h.6M142.1 68.9h.6M133.9 54.4h.6M148.9 63.6h.6M126.4 65.2h.6M133.4 78.8h.6M156.5 75.7h.6M138.6 72.5h.6M124.4 77.5h.6M150.8 78.5h.6M154.9 78.5h.6M128.4 60.7h.6M128.7 76.2h.6M134.9 58.5h.6M139.8 60.6h.6M137.1 79.8h.6M127.4 61.9h.6M143.1 65.2h.6M147.5 77.0h.6M126.2 77.3h.6M124.0 58.1h.6M135.8 68.5h.6M132.7 68.4h.6M138.1 60.0h.6M149.8 83.8h.6M155.7 62.8h.6M142.3 67.6h.6M150.3 74.0h.6M125.6 74.8h.6M128.8 59.6h.6M148.4 65.0h.6M127.3 76.7h.6M151.4 65.5h.6M147.1 75.6h.6M142.9 75.4h.6M139.5 73.2h.6M128.1 70.9h.6M129.5 72.4h.6M140.2 86.5h.6M130.2 56.2h.6M153.4 74.0h.6M131.3 75.6h.6M131.3 64.8h.6M123.5 74.2h.6M142.3 73.2h.6M134.7 56.9h.6M149.3 66.5h.6M157.8 67.3h.6M141.1 59.5h.6M131.8 72.5h.6M145.3 79.6h.6M142.1 69.4h.6M135.9 61.7h.6M124.6 58.9h.6M136.7 52.8h.6M131.2 80.8h.6M137.7 67.3h.6M136.0 68.8h.6M115.4 75.3h.6M142.2 60.6h.6M163.3 76.4h.6M137.9 75.7h.6M138.0 83.1h.6M143.6 55.7h.6M129.2 78.0h.6M141.2 74.1h.6M137.7 58.5h.6M131.4 63.2h.6M135.9 62.1h.6M134.6 79.9h.6M134.6 72.4h.6M142.8 60.6h.6M133.4 77.3h.6M131.9 65.1h.6M133.2 72.0h.6M143.3 66.4h.6M133.1 62.8h.6M134.3 79.4h.6M142.1 68.1h.6M114.2 56.2h.6M121.6 73.3h.6M146.1 80.3h.6M148.8 44.0h.6M137.4 77.9h.6M142.7 69.5h.6M123.0 63.0h.6M140.1 68.1h.6M137.3 58.6h.6M139.5 54.1h.6M133.6 74.3h.6M157.1 64.8h.6M125.0 56.8h.6M150.9 59.3h.6M129.6 72.4h.6M141.3 53.0h.6M154.2 73.3h.6M156.1 55.5h.6M139.2 72.3h.6M126.3 79.4h.6M143.7 58.1h.6M133.8 73.8h.6M129.8 73.1h.6M135.1 73.9h.6M129.6 68.0h.6M148.8 74.3h.6M142.9 74.0h.6M149.8 79.2h.6M150.0 74.8h.6M131.5 58.6h.6M143.6 61.7h.6M151.2 68.3h.6M158.6 70.9h.6M138.5 62.3h.6M136.8 69.6h.6M131.8 74.2h.6M135.3 69.0h.6M142.2 77.0h.6M138.4 59.6h.6M128.7 77.2h.6M133.1 63.4h.6M138.6 72.9h.6M131.0 62.9h.6M132.8 68.3h.6M145.0 75.2h.6M127.6 63.8h.6M143.5 67.7h.6M131.5 77.4h.6M140.7 67.0h.6M128.4 70.0h.6M149.7 64.9h.6M143.0 58.9h.6M153.4 70.6h.6M133.9 77.4h.6M132.6 87.3h.6M128.2 75.2h.6M140.4 78.4h.6M147.1 61.1h.6M146.9 70.3h.6M142.4 58.9h.6M128.9 74.6h.6M147.8 62.5h.6M148.5 74.2h.6M128.1 53.6h.6M115.9 75.5h.6M131.1 68.7h.6M139.9 74.6h.6M151.0 57.6h.6M139.8 64.4h.6M142.3 79.3h.6M151.4 58.3h.6M151.8 60.4h.6M145.9 76.8h.6M138.4 49.2h.6M151.5 67.9h.6M133.7 73.8h.6M143.5 69.5h.6M130.0 55.3h.6M126.2 60.1h.6M141.1 60.2h.6M146.4 58.0h.6M157.9 68.1h.6M144.8 62.5h.6M153.6 76.7h.6M137.5 69.0h.6M127.6 78.6h.6M131.5 65.2h.6M141.0 62.4h.6M135.2 74.1h.6M159.0 69.6h.6M148.1 59.2h.6M141.3 79.9h.6M154.0 61.0h.6M149.7 79.4h.6M150.2 53.1h.6M136.6 66.3h.6M148.2 71.4h.6M137.0 68.8h.6M137.6 63.8h.6M151.5 70.2h.6M159.2 70.2h.6M139.2 64.9h.6M144.2 74.0h.6M130.1 67.9h.6M135.0 62.8h.6M147.6 77.6h.6M126.4 68.0h.6M133.9 66.0h.6M131.5 78.5h.6M138.1 59.9h.6M144.4 57.9h.6M141.5 65.3h.6M137.0 70.3h.6M133.0 79.6h.6M124.2 72.3h.6M137.5 63.2h.6M149.1 53.1h.6M135.9 66.8h.6M137.3 65.0h.6M138.6 79.1h.6M124.3 59.0h.6M143.5 50.5h.6M140.0 50.9h.6M125.3 71.4h.6M129.4 76.2h.6M156.2 77.5h.6M126.5 58.1h.6M139.3 70.0h.6M128.2 66.8h.6M147.0 80.8h.6M133.2 73.9h.6M138.4 83.0h.6M129.2 71.9h.6M159.5 71.1h.6M163.7 63.0h.6M139.3 62.5h.6M148.1 74.1h.6M143.5 64.1h.6M132.5 49.9h.6M138.1 67.9h.6M132.3 59.5h.6M147.9 70.3h.6M132.9 85.2h.6M132.6 73.7h.6M147.3 70.7h.6M122.9 62.9h.6M151.4 56.6h.6M135.0 64.5h.6M146.8 84.1h.6M149.9 60.6h.6M139.7 70.9h.6M134.9 52.8h.6M132.4 66.2h.6M144.3 67.8h.6M145.1 65.0h.6M130.4 68.9h.6M146.5 69.9h.6M149.5 69.3h.6M139.9 56.9h.6M128.5 59.8h.6M149.3 70.0h.6M154.0 70.6h.6M130.7 58.7h.6M124.8 80.0h.6M128.7 59.1h.6M138.9 66.9h.6M154.8 74.7h.6M145.1 50.9h.6M145.4 66.1h.6M132.8 68.7h.6M142.7 56.4h.6M141.5 74.7h.6M127.2 63.9h.6M121.1 68.7h.6M144.9 55.9h.6M125.9 77.3h.6M152.2 68.9h.6M163.7 72.2h.6M138.8 66.2h.6M129.1 64.2h.6M138.0 82.8h.6M131.2 65.4h.6M144.7 72.7h.6M153.1 78.4h.6M134.8 77.4h.6M130.7 54.2h.6M130.2 61.7h.6M147.2 57.9h.6M150.6 72.0h.6M129.2 64.5h.6M138.7 75.6h.6M141.3 69.5h.6M123.5 75.5h.6M134.2 69.8h.6M138.1 61.5h.6M130.7 84.2h.6M141.5 68.5h.6M144.2 80.6h.6M131.4 62.4h.6M143.4 50.6h.6M134.9 82.9h.6M139.4 57.0h.6M137.2 69.9h.6M147.9 61.4h.6M131.6 69.4h.6M143.5 63.3h.6M141.3 56.9h.6M145.7 54.3h.6M154.3 64.5h.6M123.2 67.1h.6M143.7 82.7h.6M129.6 72.2h.6M152.2 76.5h.6M150.0 59.5h.6M138.8 75.7h.6M139.4 62.2h.6M148.1 55.8h.6M140.2 65.3h.6M137.3 66.7h.6M132.1 95.1h.6M128.6 59.1h.6M146.1 59.2h.6M128.0 78.7h.6M141.2 65.6h.6M141.5 68.4h.6M141.3 74.4h.6M145.8 64.1h.6M130.1 64.4h.6M147.4 52.0h.6M134.9 68.8h.6M149.9 69.1h.6M134.4 71.6h.6M145.0 76.8h.6M134.8 65.5h.6M155.1 64.7h.6M127.1 64.3h.6M127.4 53.8h.6M154.0 67.9h.6M144.9 61.3h.6M140.6 73.4h.6M134.8 63.5h.6M122.7 59.1h.6M133.8 61.1h.6M141.3 64.2h.6M147.8 58.1h.6M146.6 62.4h.6M153.8 67.6h.6M142.4 66.4h.6M134.0 74.1h.6M135.4 67.7h.6M150.8 57.0h.6M137.0 59.2h.6M145.1 44.7h.6M126.4 77.9h.6M137.9 78.6h.6M128.7 62.1h.6M138.5 58.9h.6M129.2 63.2h.6M128.0 75.0h.6M138.6 68.8h.6M117.5 73.3h.6M133.5 69.3h.6M137.8 52.4h.6M128.2 70.4h.6M137.9 66.3h.6M132.4 74.7h.6M133.7 62.9h.6M139.5 62.5h.6M143.9 67.9h.6M151.1 88.7h.6M130.3 65.2h.6M159.1 79.7h.6M139.2 58.9h.6M133.3 70.3h.6M148.4 55.5h.6M139.6 80.5h.6M157.3 62.4h.6M147.4 66.6h.6M141.2 76.7h.6M138.7 80.3h.6M129.5 65.0h.6M132.7 72.5h.6M135.1 64.6h.6M155.0 73.0h.6M134.3 49.6h.6M145.0 86.4h.6M142.3 64.5h.6M129.9 51.5h.6M128.5 74.3h.6M123.0 65.7h.6M152.3 63.3h.6M137.0 69.8h.6M157.1 71.4h.6M151.0 46.1h.6M143.0 70.2h.6M149.8 74.9h.6M131.9 58.1h.6M140.3 74.5h.6M142.4 74.3h.6M137.5 63.3h.6M147.2 46.7h.6M138.8 69.4h.6M146.0 60.8h.6M145.1 80.5h.6M144.3 63.7h.6M158.3 67.6h.6M126.0 75.9h.6M150.6 65.5h.6M129.7 59.5h.6M138.9 61.0h.6M136.4 69.8h.6M134.6 68.7h.6M126.4 71.5h.6M117.0 83.2h.6M159.2 61.0h.6M149.5 70.9h.6M137.3 69.4h.6M123.2 77.2h.6M143.9 61.2h.6M149.3 49.9h.6M145.9 73.4h.6M126.0 80.8h.6M136.4 75.0h.6M139.2 60.1h.6M141.9 77.3h.6M149.9 64.9h.6M130.8 72.5h.6M131.2 64.3h.6M114.6 72.1h.6M147.8 58.7h.6M146.3 68.7h.6M133.1 63.5h.6M122.4 73.7h.6M145.6 60.3h.6M122.1 61.9h.6M127.4 72.6h.6M121.5 75.5h.6M126.1 73.3h.6M121.3 46.3h.6M132.1 80.2h.6M149.3 64.0h.6M142.8 57.4h.6M145.6 83.6h.6M133.8 70.0h.6M140.9 74.2h.6M127.0 73.5h.6M135.7 47.1h.6M133.9 81.1h.6M130.8 60.1h.6M145.5 75.8h.6M130.4 69.8h.6M123.3 65.4h.6M141.2 43.9h.6M121.3 69.8h.6M123.9 63.8h.6M128.1 72.2h.6M128.8 61.2h.6M139.8 74.3h.6M107.0 74.5h.6M132.9 65.8h.6M158.2 79.7h.6M152.6 70.4h.6M145.3 59.4h.6M139.3 71.2h.6M136.1 53.6h.6M131.4 63.5h.6M122.6 72.1h.6M140.1 60.4h.6M146.1 55.8h.6M143.7 72.2h.6M136.8 62.9h.6M144.7 58.1h.6M140.1 61.7h.6M147.6 58.5h.6M137.3 75.9h.6M122.8 76.5h.6M139.0 53.6h.6M151.4 75.9h.6M134.8 79.5h.6M140.3 64.6h.6M142.8 57.1h.6M113.1 77.4h.6M160.4 54.6h.6M147.9 69.4h.6M136.9 68.2h.6M131.8 82.4h.6M119.0 59.8h.6M168.8 51.2h.6M136.7 71.3h.6M144.1 61.3h.6M131.4 66.6h.6M132.3 59.3h.6M150.9 81.4h.6M129.4 69.6h.6M140.3 73.9h.6M134.6 62.0h.6M142.1 62.3h.6M146.9 64.2h.6M142.2 82.1h.6M156.4 74.3h.6M140.7 86.7h.6M139.8 81.8h.6M144.2 79.9h.6M135.8 66.9h.6M144.2 59.4h.6M115.7 88.6h.6M119.9 68.0h.6M119.8 79.8h.6M150.5 57.8h.6M143.6 56.3h.6M132.5 70.7h.6M139.9 59.1h.6M121.1 71.4h.6M138.6 76.1h.6M152.5 61.1h.6M148.1 73.8h.6M158.0 56.7h.6M135.3 72.4h.6M146.9 55.4h.6M143.9 78.3h.6M135.9 49.8h.6M142.3 69.3h.6M148.0 69.7h.6M143.8 41.6h.6M134.6 54.0h.6M138.0 53.8h.6M137.8 67.4h.6M140.9 64.6h.6M130.3 67.8h.6M150.4 69.3h.6M152.6 84.1h.6M139.1 58.2h.6M140.0 70.7h.6M132.8 70.4h.6M133.3 80.0h.6M122.0 54.0h.6M126.6 57.1h.6M144.6 55.6h.6M139.9 57.3h.6M126.1 74.7h.6M128.4 67.1h.6M145.8 46.4h.6M152.8 55.7h.6M142.3 51.3h.6M157.0 54.0h.6M132.0 68.4h.6M141.0 59.6h.6M136.7 79.9h.6M167.2 78.5h.6M144.9 70.2h.6M138.6 53.3h.6M147.1 78.1h.6M139.0 87.3h.6M138.2 66.2h.6M118.7 78.6h.6M138.4 78.2h.6M130.4 72.7h.6M150.7 75.2h.6M153.9 67.5h.6M140.2 61.5h.6M128.2 67.0h.6M128.2 69.3h.6M144.5 59.3h.6M140.9 79.3h.6M138.0 71.1h.6M128.6 69.6h.6M144.3 73.3h.6M141.7 67.4h.6M150.3 73.3h.6M135.5 84.1h.6M139.8 69.0h.6M124.2 67.5h.6M138.2 56.9h.6M145.0 82.1h.6M137.2 71.9h.6M146.4 59.4h.6M127.1 71.1h.6M151.1 52.7h.6M147.6 77.1h.6M146.0 68.0h.6M141.2 63.4h.6M128.5 57.7h.6M140.6 86.9h.6M149.1 65.1h.6M132.8 49.1h.6M140.9 61.5h.6M136.2 68.4h.6M148.2 65.7h.6M142.6 56.1h.6M130.8 81.4h.6M160.1 65.4h.6M149.8 64.1h.6M145.6 59.1h.6M137.5 51.5h.6M137.8 63.8h.6M147.3 62.7h.6M160.8 48.6h.6M139.7 70.1h.6M131.6 77.8h.6M138.0 63.6h.6M139.2 63.8h.6M148.8 63.9h.6M133.0 85.4h.6M139.8 80.7h.6M131.6 54.7h.6M147.5 59.9h.6M157.9 84.6h.6M140.6 64.0h.6M155.1 78.2h.6M142.2 71.2h.6M144.4 77.5h.6M116.8 72.4h.6M131.3 71.3h.6M130.5 75.8h.6M143.8 65.8h.6M140.1 66.7h.6M133.5 83.0h.6M139.4 66.0h.6M142.2 78.9h.6M141.3 61.2h.6M133.2 66.8h.6M134.8 76.0h.6M152.5 67.6h.6M139.8 76.5h.6M149.2 64.4h.6M130.9 70.4h.6M135.8 64.5h.6M131.5 55.7h.6M128.9 67.5h.6M149.2 73.7h.6M126.3 71.7h.6M142.2 68.5h.6M122.8 85.3h.6M143.1 57.6h.6M140.7 70.4h.6M148.3 59.1h.6M161.8 70.0h.6M128.4 57.9h.6M138.3 64.7h.6M125.5 67.9h.6M133.9 66.4h.6M138.1 62.8h.6M145.2 83.0h.6M146.0 63.1h.6M143.5 64.7h.6M144.2 52.4h.6M128.8 59.1h.6M138.3 60.9h.6M125.7 61.2h.6M139.1 72.4h.6M111.6 72.2h.6M136.8 64.3h.6M139.2 66.3h.6M132.1 61.8h.6M131.5 58.7h.6M121.0 68.0h.6M133.6 71.6h.6M133.2 68.8h.6M138.6 59.9h.6M148.2 79.2h.6M136.0 72.2h.6M139.8 73.7h.6M147.0 79.1h.6M127.9 63.2h.6M151.5 72.1h.6M159.1 62.8h.6M143.5 68.8h.6M130.0 56.9h.6M138.7 60.3h.6M150.1 63.7h.6M150.9 63.0h.6M131.1 85.0h.6M141.0 63.5h.6M133.0 72.2h.6M134.0 66.7h.6M137.8 56.1h.6M143.1 63.1h.6M136.8 69.5h.6M136.3 84.9h.6M140.9 78.6h.6M127.8 66.9h.6M152.8 54.4h.6M124.4 72.9h.6M143.0 61.1h.6M147.5 87.5h.6M141.7 74.7h.6M129.1 70.9h.6M132.9 65.1h.6M132.7 60.2h.6M133.7 68.9h.6M129.1 47.6h.6M138.9 64.3h.6M133.5 65.6h.6M147.7 78.8h.6M140.6 51.0h.6M136.7 77.1h.6M144.9 62.6h.6M141.9 74.0h.6M131.6 63.7h.6M144.6 69.6h.6M151.9 70.9h.6M143.6 89.8h.6M119.5 67.5h.6M145.9 64.2h.6M148.0 63.6h.6M126.8 66.9h.6M137.4 67.6h.6M143.4 66.6h.6M115.8 73.2h.6M141.1 51.2h.6M146.5 67.6h.6M142.2 53.3h.6M152.7 62.1h.6M132.1 79.8h.6M144.0 54.3h.6M159.8 59.1h.6M118.3 77.2h.6M135.3 68.8h.6M144.1 61.7h.6M132.2 70.6h.6M123.7 79.8h.6M138.8 58.6h.6M139.9 66.0h.6M134.1 76.3h.6M139.3 62.3h.6M143.8 55.1h.6M150.5 70.8h.6M144.8 72.2h.6M130.0 80.0h.6M135.8 69.0h.6M115.5 70.5h.6M133.3 84.1h.6M144.0 77.6h.6M146.3 72.7h.6M137.0 64.1h.6M138.9 69.1h.6M117.7 67.6h.6M123.5 63.9h.6M128.1 72.8h.6M134.1 72.7h.6M134.7 74.7h.6M159.5 61.5h.6M154.2 81.3h.6M126.1 63.6h.6M136.3 81.1h.6M132.3 66.7h.6M135.9 77.8h.6M131.0 62.4h.6M125.9 93.1h.6M153.9 75.9h.6M140.3 52.8h.6M148.5 76.6h.6M140.1 69.3h.6M145.7 74.0h.6M135.2 69.5h.6M119.6 73.9h.6M135.7 56.6h.6M137.5 64.4h.6M126.1 72.6h.6M112.5 62.3h.6M146.4 56.4h.6M129.0 71.9h.6M138.0 72.7h.6M130.7 67.0h.6M158.6 74.0h.6M123.0 69.2h.6M150.3 69.8h.6M118.6 87.7h.6M144.9 58.8h.6M137.3 79.5h.6M116.9 75.0h.6M136.6 61.3h.6M142.7 81.8h.6M128.2 87.4h.6M141.0 64.7h.6M141.5 77.3h.6M146.0 74.9h.6M125.3 73.1h.6M138.0 89.0h.6M129.1 70.9h.6M137.8 62.7h.6M133.7 70.6h.6M128.8 71.1h.6M150.3 60.3h.6M132.7 68.1h.6M144.9 53.9h.6M148.3 70.7h.6M127.8 59.9h.6M124.5 83.9h.6M142.6 73.6h.6M143.8 63.1h.6M148.5 61.4h.6M140.3 61.9h.6M142.7 67.2h.6M137.9 85.1h.6M132.8 73.8h.6M167.7 54.1h.6M154.7 79.1h.6M124.9 69.9h.6M140.5 64.7h.6M149.4 84.6h.6M123.8 80.3h.6M139.5 79.4h.6M145.9 71.8h.6M156.0 67.3h.6M156.1 68.7h.6M137.6 76.1h.6M142.3 87.8h.6M130.9 60.7h.6M133.8 48.4h.6M146.0 63.4h.6M124.5 60.1h.6M137.5 70.5h.6M129.6 60.9h.6M131.5 71.6h.6M137.2 79.4h.6M154.6 58.1h.6M153.1 56.6h.6M155.0 70.0h.6M120.8 68.2h.6M141.4 66.9h.6M161.1 59.2h.6M138.9 56.7h.6M134.8 78.8h.6M141.2 57.6h.6M139.0 76.9h.6M136.1 73.1h.6M138.0 59.0h.6M142.2 64.1h.6M139.7 76.2h.6M137.7 66.3h.6M135.6 90.2h.6M135.4 60.6h.6M149.1 75.9h.6M134.7 54.7h.6M136.3 67.1h.6M128.1 81.8h.6M143.8 49.0h.6M128.6 74.8h.6M141.9 57.1h.6M131.4 58.9h.6M144.2 59.7h.6M147.0 60.4h.6M134.3 65.5h.6M108.2 74.1h.6M116.8 68.5h.6M121.7 50.4h.6M134.0 82.7h.6M147.8 84.8h.6M158.9 65.4h.6M144.2 63.8h.6M134.5 60.8h.6M152.4 66.1h.6M137.8 71.4h.6M144.2 58.1h.6M141.8 65.7h.6M122.7 81.3h.6M148.9 67.5h.6M155.3 61.9h.6M135.9 70.6h.6M143.9 59.8h.6M143.5 66.2h.6M136.5 69.9h.6M133.0 63.6h.6M147.9 64.0h.6M135.5 78.1h.6M136.8 78.8h.6M140.3 47.4h.6M143.3 53.4h.6M156.6 71.2h.6M134.6 73.9h.6M127.5 76.6h.6M145.0 53.1h.6M124.5 74.3h.6M136.7 74.6h.6M138.1 72.7h.6M153.0 56.5h.6M137.4 63.5h.6M128.3 75.1h.6M139.2 70.0h.6M155.4 74.5h.6M114.9 55.9h.6M124.6 68.0h.6M152.3 75.0h.6M136.6 58.5h.6M129.6 72.7h.6M141.2 80.9h.6M136.5 59.8h.6M129.0 75.1h.6M139.2 86.2h.6M148.8 52.8h.6M135.9 50.9h.6M152.6 73.2h.6M137.1 64.5h.6M133.4 69.9h.6M142.0 67.9h.6M133.9 81.7h.6M141.5 64.7h.6M138.9 77.6h.6M138.4 75.7h.6M136.3 69.2h.6M133.0 80.3h.6M152.7 66.1h.6M124.3 72.8h.6M150.1 92.6h.6M120.9 56.2h.6M143.9 55.7h.6M133.7 60.6h.6M139.3 64.2h.6M143.8 68.1h.6M141.6 65.2h.6M147.4 86.5h.6M140.8 62.8h.6M138.9 58.1h.6M134.6 70.0h.6M134.7 65.7h.6M135.1 65.1h.6M134.9 78.4h.6M134.7 72.7h.6M154.7 73.1h.6M122.1 64.4h.6M156.6 67.5h.6M133.9 70.2h.6M142.8 61.0h.6M134.1 55.2h.6M136.9 68.2h.6M140.6 56.7h.6M157.1 68.4h.6M139.1 72.4h.6M140.0 72.3h.6M142.2 93.2h.6M161.8 71.8h.6M143.8 47.4h.6M151.2 69.3h.6M139.8 69.8h.6M121.7 76.5h.6M141.9 62.4h.6M124.8 81.9h.6M124.4 46.9h.6M143.9 53.8h.6M135.2 75.3h.6M133.0 72.1h.6M121.6 83.1h.6M144.4 62.6h.6M141.1 62.3h.6M136.6 76.3h.6M142.8 68.3h.6M118.4 59.3h.6M132.9 79.2h.6M137.4 58.5h.6M149.8 72.5h.6M139.1 69.9h.6M129.0 77.2h.6M137.3 78.4h.6M146.2 55.9h.6M135.2 75.7h.6M141.0 66.8h.6M142.1 64.6h.6M133.7 70.1h.6M137.5 63.9h.6M122.1 74.7h.6M134.1 72.2h.6M137.2 62.7h.6M148.1 75.1h.6M151.3 64.5h.6M131.0 60.6h.6M144.6 70.4h.6M139.2 72.9h.6M127.1 58.9h.6M132.3 73.3h.6M137.1 65.2h.6M139.6 70.3h.6M131.2 69.3h.6M165.7 62.0h.6M139.1 69.8h.6M138.1 47.0h.6M136.5 69.7h.6M166.6 63.2h.6M120.0 81.8h.6M139.2 79.7h.6M141.5 70.4h.6M153.9 75.0h.6M140.8 75.5h.6M128.0 67.6h.6M151.4 57.0h.6M148.8 76.6h.6M138.4 74.9h.6M131.1 54.5h.6M133.2 60.3h.6M143.7 77.3h.6M123.1 75.4h.6M134.7 53.4h.6M134.3 74.0h.6M146.3 74.8h.6M143.8 72.5h.6M128.7 71.4h.6M150.8 62.0h.6M144.2 61.2h.6M128.7 67.0h.6M129.7 74.1h.6M139.9 91.6h.6M149.8 88.6h.6M150.0 62.5h.6M125.7 58.9h.6M131.1 70.1h.6M142.7 64.1h.6M137.4 66.3h.6M133.1 54.5h.6M137.3 68.0h.6M133.7 63.9h.6M155.2 62.6h.6M143.1 52.0h.6M135.7 69.6h.6M146.7 53.8h.6M153.8 54.8h.6M141.1 61.2h.6M139.9 62.6h.6M132.4 65.3h.6M138.1 63.1h.6M138.8 62.3h.6M148.7 57.9h.6M128.1 66.6h.6M122.4 70.8h.6M139.7 85.6h.6M144.9 74.6h.6M118.1 70.0h.6M132.6 57.4h.6M134.5 80.4h.6M128.1 71.9h.6M141.0 70.7h.6M153.0 74.0h.6M120.1 56.9h.6M138.9 62.4h.6M137.6 70.3h.6M148.9 77.7h.6M138.4 67.5h.6M132.9 71.0h.6M146.8 64.9h.6M142.5 66.4h.6M129.4 73.0h.6M118.1 70.2h.6M129.8 64.7h.6M139.3 64.4h.6M147.7 70.8h.6M136.8 79.9h.6M135.3 70.6h.6M120.8 72.1h.6M138.0 80.1h.6M141.3 72.5h.6M135.3 76.4h.6M137.2 67.6h.6M128.1 68.1h.6M131.6 75.4h.6M140.6 66.0h.6M127.5 83.3h.6M135.9 60.9h.6M150.6 67.0h.6M133.2 70.4h.6M130.8 61.5h.6M129.6 68.2h.6M123.1 64.0h.6M131.9 67.3h.6M125.7 70.4h.6M144.3 91.2h.6M130.1 61.5h.6M129.8 77.6h.6M137.2 64.4h.6M148.7 68.0h.6M144.7 62.8h.6M133.3 62.6h.6M142.4 80.4h.6M131.9 81.3h.6M130.7 54.7h.6M143.9 64.9h.6M144.2 62.8h.6M145.9 50.5h.6M124.6 74.9h.6M154.3 67.3h.6M141.9 67.5h.6M154.0 67.0h.6M143.6 83.1h.6M148.2 60.5h.6M141.7 78.9h.6M134.9 90.2h.6M132.3 43.2h.6M132.8 68.3h.6M141.9 79.9h.6M144.0 69.5h.6M143.5 60.7h.6M148.5 78.2h.6M149.8 72.6h.6M118.8 60.3h.6M151.4 71.4h.6M129.9 69.8h.6M139.6 69.9h.6M130.8 60.1h.6M129.0 76.9h.6M146.9 66.9h.6M125.8 64.1h.6M132.0 67.6h.6M156.0 75.4h.6M121.8 88.9h.6M117.9 61.8h.6M148.6 69.5h.6M133.4 67.4h.6M143.9 61.6h.6M138.8 70.6h.6M138.3 82.8h.6M146.3 70.8h.6M128.7 62.9h.6M133.2 70.9h.6M141.7 71.5h.6M131.3 81.5h.6M124.6 72.9h.6M123.2 75.3h.6M147.6 67.4h.6M158.1 67.5h.6M100.1 61.6h.6M138.8 75.9h.6M126.2 75.1h.6M122.5 77.9h.6M109.5 95.5h.6M125.5 85.2h.6M145.8 76.2h.6M115.3 68.9h.6M103.1 82.5h.6M127.6 76.6h.6M122.7 86.7h.6M121.8 77.8h.6M104.3 83.9h.6M127.4 67.6h.6M129.9 73.3h.6M71.2 75.4h.6M124.3 67.4h.6M131.4 78.4h.6M111.7 71.5h.6M97.1 71.6h.6M123.5 68.6h.6M147.8 74.0h.6M126.7 60.1h.6M149.1 82.9h.6M126.4 78.5h.6M119.8 80.0h.6M113.1 86.1h.6M139.2 77.3h.6M106.6 72.1h.6M115.1 86.8h.6M117.4 71.3h.6M125.9 76.2h.6M123.0 55.3h.6M104.8 69.8h.6M108.4 74.5h.6M142.8 80.6h.6M123.5 79.4h.6M122.4 83.4h.6M118.3 69.6h.6M125.8 69.6h.6M113.5 76.5h.6M135.7 67.4h.6M132.6 71.0h.6M122.3 75.1h.6M133.3 56.6h.6M120.5 60.2h.6M117.4 78.2h.6M134.2 68.0h.6M121.3 81.2h.6M112.8 70.0h.6M141.4 65.1h.6M120.2 79.9h.6M127.8 72.0h.6M140.4 77.6h.6M107.3 68.3h.6M118.8 67.1h.6M134.0 71.3h.6M118.9 67.2h.6M117.2 72.6h.6M120.7 65.1h.6M118.9 77.3h.6M118.7 81.2h.6M127.3 78.4h.6M123.6 62.8h.6M143.0 85.2h.6M126.4 58.5h.6M142.4 76.1h.6M124.1 75.1h.6M143.2 81.0h.6M121.0 68.1h.6M137.1 69.6h.6M124.5 84.6h.6M141.8 84.3h.6M113.3 65.0h.6M117.1 71.6h.6M127.2 67.1h.6M111.2 50.8h.6M140.0 84.3h.6M120.5 68.2h.6M128.9 74.7h.6M134.8 76.4h.6M129.8 62.6h.6M113.9 82.3h.6M106.8 68.1h.6M102.7 61.0h.6M111.9 77.1h.6M113.7 75.6h.6M113.1 69.3h.6M128.0 73.6h.6M106.4 89.3h.6M103.3 80.4h.6M124.6 74.2h.6M143.8 70.9h.6M111.6 90.6h.6M121.1 70.2h.6M121.9 56.6h.6M135.4 85.1h.6M132.8 69.7h.6M117.2 54.6h.6M133.4 61.5h.6M123.3 61.9h.6M132.1 54.4h.6M144.0 67.3h.6M96.5 68.7h.6M105.6 88.8h.6M106.4 73.3h.6M107.7 68.9h.6M123.7 72.6h.6M123.9 75.8h.6M143.1 83.0h.6M139.2 85.9h.6M125.9 56.5h.6M120.9 60.8h.6M130.3 73.9h.6M127.5 91.4h.6M116.8 69.6h.6M130.6 83.9h.6M116.4 69.1h.6M121.3 69.0h.6M120.6 71.8h.6M115.3 86.6h.6M114.7 69.8h.6M123.1 74.8h.6M120.9 77.1h.6M107.7 82.4h.6M142.0 74.7h.6M142.5 82.2h.6M141.8 89.4h.6M136.2 81.3h.6M121.1 70.8h.6M111.1 72.9h.6M110.2 76.7h.6M101.7 71.8h.6M118.4 64.1h.6M101.9 65.8h.6M123.5 69.2h.6M125.4 56.5h.6M115.8 100.4h.6M115.8 81.9h.6M121.4 69.1h.6M128.9 67.5h.6M118.2 85.3h.6M142.2 61.5h.6M111.6 65.0h.6M114.9 83.6h.6M116.5 73.5h.6M119.7 81.2h.6M124.6 75.2h.6M128.5 74.2h.6M118.2 68.4h.6M140.8 78.6h.6M100.2 76.4h.6M125.2 76.3h.6M122.6 70.4h.6M106.0 85.1h.6M105.2 74.9h.6M123.2 79.7h.6M135.5 63.7h.6M126.7 59.3h.6M121.0 80.8h.6M118.2 68.3h.6M116.1 66.7h.6M117.2 77.5h.6M129.4 86.2h.6M134.4 71.7h.6M128.2 71.6h.6M113.8 78.2h.6M128.5 79.2h.6M133.9 74.8h.6M100.4 57.9h.6M125.5 81.2h.6M115.5 67.3h.6M123.1 93.0h.6M106.9 68.0h.6M109.4 76.2h.6M120.4 73.8h.6M115.3 76.1h.6M116.0 96.8h.6M111.4 72.0h.6M126.8 83.5h.6M134.2 74.3h.6M110.5 71.1h.6M124.7 81.2h.6M116.5 77.3h.6M124.7 72.6h.6M134.7 65.5h.6M124.6 78.1h.6M120.2 105.0h.6M109.4 73.1h.6M134.7 80.0h.6M140.8 69.1h.6M99.3 105.6h.6M128.4 61.4h.6M119.6 69.0h.6M106.8 57.4h.6M141.8 80.6h.6M127.8 75.7h.6M146.0 78.2h.6M112.5 74.2h.6M116.2 88.4h.6M104.2 86.7h.6M122.4 84.9h.6M102.0 50.1h.6M117.9 66.1h.6M135.0 75.3h.6M127.8 82.3h.6M132.9 49.5h.6M123.1 88.7h.6M130.5 77.4h.6M120.2 88.8h.6M106.9 63.8h.6M127.2 67.4h.6M120.9 64.9h.6M112.3 68.7h.6M108.7 67.3h.6M135.7 58.5h.6M102.4 86.0h.6M111.9 79.2h.6M125.8 66.9h.6M128.7 55.7h.6M124.3 84.8h.6M104.0 53.6h.6M134.2 64.2h.6M120.3 62.8h.6M104.4 67.6h.6M134.2 78.4h.6M120.4 82.0h.6M100.2 77.0h.6M90.6 63.6h.6M119.7 86.0h.6M114.2 85.0h.6M124.7 81.3h.6M123.3 95.7h.6M112.4 64.5h.6M126.5 67.2h.6M124.2 67.1h.6M109.2 68.5h.6M130.7 80.0h.6M123.9 76.0h.6M119.4 70.5h.6M125.6 84.6h.6M112.1 73.4h.6M112.3 69.0h.6M120.3 68.4h.6M110.6 62.3h.6M139.2 72.0h.6M124.4 66.2h.6M130.0 73.0h.6M142.5 77.4h.6M138.5 78.2h.6M146.1 69.9h.6M111.7 91.2h.6M140.9 63.6h.6M116.9 80.4h.6M119.3 74.2h.6M124.2 76.6h.6M122.8 67.9h.6M121.6 66.9h.6M125.5 79.8h.6M139.6 58.4h.6M96.3 75.2h.6M104.9 60.7h.6M106.7 57.4h.6M125.4 74.6h.6M123.2 68.8h.6M126.5 91.5h.6M144.1 58.0h.6M122.3 75.3h.6M105.3 74.9h.6M127.0 75.5h.6M143.2 69.7h.6M145.1 59.3h.6M121.2 80.6h.6M123.8 80.7h.6M125.9 77.5h.6M129.0 76.4h.6M120.4 84.8h.6M116.5 82.8h.6M140.1 80.2h.6M139.9 68.3h.6M122.3 83.1h.6M115.2 66.1h.6M114.8 77.5h.6M108.6 64.9h.6M107.7 72.5h.6M118.8 81.1h.6M113.6 71.2h.6M125.3 82.6h.6M116.0 69.7h.6M111.3 89.1h.6M117.5 72.6h.6M92.8 97.5h.6M126.2 80.5h.6M119.2 73.6h.6M138.0 63.9h.6M116.7 70.2h.6M120.2 91.8h.6M111.3 62.7h.6M146.3 59.8h.6M125.2 76.7h.6M136.2 85.4h.6M118.0 70.6h.6M128.8 66.2h.6M110.9 72.0h.6M114.8 72.0h.6M118.4 84.2h.6M111.5 91.0h.6M130.4 72.7h.6M131.7 66.5h.6M135.8 63.2h.6M111.3 58.3h.6M115.1 73.3h.6M121.4 59.9h.6M129.5 80.4h.6M107.1 71.8h.6M118.7 67.6h.6M133.8 87.0h.6M123.0 58.2h.6M120.5 82.1h.6M108.6 74.9h.6M117.9 76.3h.6M129.9 73.8h.6M133.6 63.7h.6M102.2 79.4h.6M126.4 84.7h.6M117.4 55.6h.6M110.8 74.8h.6M143.1 72.8h.6M129.4 71.2h.6M109.0 77.6h.6M109.7 72.1h.6M123.7 70.2h.6M104.3 84.7h.6M119.2 65.1h.6M127.3 70.2h.6M106.1 70.0h.6M123.5 66.6h.6M126.5 69.1h.6M113.8 86.5h.6M125.8 66.3h.6M129.1 96.5h.6M126.4 59.5h.6M113.6 51.8h.6M131.3 67.4h.6M117.6 62.3h.6M123.8 85.1h.6M122.1 77.9h.6M121.3 64.0h.6M98.0 71.9h.6M133.5 70.9h.6M126.9 97.6h.6M122.9 75.0h.6M128.5 76.2h.6M116.5 78.6h.6M119.6 75.8h.6M127.2 73.7h.6M96.3 65.9h.6M112.7 74.5h.6M114.4 75.6h.6M117.8 61.6h.6M115.1 74.4h.6M112.3 62.3h.6M124.1 58.5h.6M130.4 73.0h.6M126.6 78.4h.6M133.2 82.2h.6M127.3 68.6h.6M138.5 60.4h.6M139.8 65.5h.6M116.0 71.3h.6M111.9 72.6h.6M114.4 77.9h.6M117.3 72.0h.6M129.8 83.3h.6M127.4 67.9h.6M123.8 77.9h.6M113.6 79.5h.6M116.5 77.2h.6M119.0 78.5h.6M123.9 63.8h.6M86.3 81.7h.6M124.3 69.0h.6M127.1 72.0h.6M112.9 64.5h.6M137.9 77.1h.6M130.3 69.7h.6M129.5 67.5h.6M102.9 79.9h.6M130.6 66.8h.6M123.1 77.0h.6M123.7 75.4h.6M94.6 78.6h.6M103.3 74.2h.6M117.8 62.7h.6M105.7 75.1h.6M136.6 77.1h.6M108.2 90.8h.6M130.0 90.7h.6M125.6 81.8h.6M154.3 82.7h.6M122.0 50.5h.6M138.7 69.0h.6M116.3 63.9h.6M108.1 79.3h.6M125.6 78.7h.6M136.3 78.8h.6M115.1 79.2h.6M133.6 77.2h.6M128.3 72.9h.6M121.6 68.6h.6M123.9 80.3h.6M123.1 73.9h.6M114.4 83.6h.6M123.2 69.9h.6M126.4 71.4h.6M112.9 66.8h.6M91.1 79.9h.6M129.0 66.4h.6M113.6 52.4h.6M128.1 66.5h.6M111.5 67.6h.6M126.1 73.8h.6M118.9 70.7h.6M117.8 85.4h.6M120.9 76.8h.6M125.7 82.7h.6M101.0 86.6h.6M136.1 83.5h.6M133.4 82.3h.6M125.3 69.7h.6M102.4 78.0h.6M131.4 73.1h.6M121.6 81.0h.6M140.8 68.7h.6M116.1 80.0h.6M119.3 69.5h.6M133.1 80.8h.6M96.5 85.2h.6M117.0 85.2h.6M119.5 70.4h.6M94.5 86.1h.6M110.5 58.5h.6M124.3 75.6h.6M125.5 61.2h.6M140.9 74.2h.6M132.7 63.3h.6M105.9 73.7h.6M130.8 67.6h.6M126.1 85.7h.6M122.8 93.8h.6M108.2 82.0h.6M143.5 83.5h.6M142.2 78.4h.6M125.1 73.4h.6M112.1 72.2h.6M108.2 63.6h.6M108.5 67.0h.6M132.1 81.4h.6M101.6 70.5h.6M135.0 77.7h.6M119.6 66.1h.6M125.8 95.1h.6M130.6 86.6h.6M149.7 73.5h.6M130.3 91.3h.6M119.7 79.0h.6M126.1 84.3h.6M123.3 72.9h.6M122.1 70.2h.6M122.9 87.2h.6M110.0 81.1h.6M125.4 81.9h.6M105.8 83.5h.6M135.0 75.6h.6M117.3 70.3h.6M108.0 77.9h.6M129.4 58.5h.6M129.7 75.2h.6M123.0 84.6h.6M104.0 72.4h.6M106.4 91.3h.6M128.1 71.3h.6M148.3 65.0h.6M124.8 79.7h.6M125.2 72.9h.6M128.7 80.0h.6M111.6 68.6h.6M134.8 79.4h.6M114.4 75.5h.6M122.3 76.7h.6M112.3 83.0h.6M107.6 67.5h.6M112.8 72.9h.6M110.9 84.4h.6M117.1 85.5h.6M139.9 80.9h.6M125.3 64.4h.6M115.2 76.2h.6M126.7 70.8h.6M115.1 71.5h.6M135.1 60.5h.6M131.2 55.5h.6M117.7 83.3h.6M121.3 81.7h.6M122.7 61.3h.6M110.0 71.2h.6M108.4 74.9h.6M120.3 69.1h.6M111.3 78.9h.6M121.6 70.8h.6M131.9 61.8h.6M119.3 70.5h.6M128.8 78.4h.6M142.6 66.0h.6M116.9 81.1h.6M138.8 83.8h.6M112.3 79.8h.6M108.5 79.3h.6M124.1 73.5h.6M120.1 79.2h.6M104.8 67.7h.6M137.1 53.1h.6M132.0 67.9h.6M110.6 87.3h.6M119.7 83.5h.6M121.1 64.6h.6M107.4 72.2h.6M125.8 67.7h.6M106.1 63.5h.6M101.7 71.2h.6M138.9 81.3h.6M114.6 74.6h.6M113.1 71.9h.6M119.4 54.6h.6M113.5 93.8h.6M147.2 63.6h.6M127.4 74.3h.6M131.8 81.4h.6M132.5 75.7h.6M147.0 81.6h.6M95.7 53.1h.6M131.1 66.1h.6M124.1 67.9h.6M123.0 61.9h.6M135.7 59.8h.6M129.3 81.9h.6M101.7 62.5h.6M124.9 83.9h.6M120.1 82.1h.6M135.1 70.9h.6M97.5 61.5h.6M129.5 68.7h.6M123.7 67.5h.6M129.7 68.1h.6M126.6 67.0h.6M97.5 74.4h.6M130.2 71.4h.6M121.6 73.5h.6M112.7 73.7h.6M133.1 84.9h.6M121.5 92.0h.6M141.5 74.1h.6M134.7 73.2h.6M108.9 72.5h.6M131.2 82.6h.6M122.0 80.2h.6M121.7 75.0h.6M120.3 72.7h.6M134.0 79.1h.6M112.6 83.4h.6M127.1 70.1h.6M103.9 77.8h.6M125.8 57.7h.6M107.1 68.0h.6M107.0 78.3h.6M121.5 59.8h.6M108.7 60.4h.6M135.0 76.2h.6M109.1 56.3h.6M140.8 71.1h.6M131.7 92.6h.6M123.1 77.1h.6M129.5 89.7h.6M124.5 88.0h.6M149.9 67.2h.6M127.9 72.2h.6M115.1 77.4h.6M126.6 83.9h.6M118.0 86.9h.6M121.2 81.0h.6M115.1 77.0h.6M115.7 64.6h.6M132.0 83.4h.6M121.5 68.8h.6M131.1 82.9h.6M118.4 86.0h.6M121.0 61.1h.6M116.5 92.1h.6M137.2 72.3h.6M141.4 83.7h.6M121.0 82.5h.6M132.6 90.8h.6M105.1 84.7h.6M107.1 88.8h.6M130.8 81.6h.6M101.6 67.0h.6M155.0 72.4h.6M134.0 80.3h.6M142.6 82.7h.6M121.1 75.4h.6M106.2 67.7h.6M111.7 62.8h.6M111.8 74.9h.6M132.2 101.2h.6M109.9 73.0h.6M112.6 69.7h.6M140.7 79.6h.6M107.8 80.7h.6M114.7 75.3h.6M138.4 56.1h.6M151.8 68.0h.6M102.7 68.5h.6M93.5 79.8h.6M113.9 68.5h.6M124.7 72.0h.6M121.7 64.2h.6M115.6 69.2h.6M106.9 94.0h.6M132.3 81.6h.6M116.1 78.0h.6M114.4 66.6h.6M122.7 63.2h.6M139.5 83.4h.6M124.4 74.1h.6M153.1 79.5h.6M118.4 76.9h.6M129.6 75.3h.6M96.7 51.9h.6M114.5 82.3h.6M122.0 90.0h.6M113.9 74.9h.6M113.0 72.7h.6M115.6 76.2h.6M110.7 71.9h.6M115.9 57.7h.6M123.2 71.0h.6M126.8 74.1h.6M109.5 83.8h.6M119.9 65.4h.6M112.7 71.4h.6M133.2 74.4h.6M143.1 78.4h.6M124.7 91.7h.6M127.4 80.0h.6M119.2 80.2h.6M128.3 63.5h.6M119.9 88.7h.6M107.2 58.8h.6M137.3 86.4h.6M149.3 82.1h.6M130.0 75.2h.6M122.4 64.8h.6M128.2 79.1h.6M142.6 70.1h.6M116.9 86.5h.6M131.3 47.9h.6M124.6 75.1h.6M96.5 50.7h.6M118.2 75.0h.6M129.3 71.5h.6M126.8 81.9h.6M121.1 64.0h.6M107.6 65.4h.6M125.6 54.8h.6M124.7 70.2h.6M129.1 75.8h.6M144.1 72.0h.6M123.1 65.4h.6M135.8 72.2h.6M128.5 79.3h.6M155.8 77.0h.6M128.7 56.5h.6M154.5 69.7h.6M110.7 66.1h.6M108.1 49.1h.6M128.5 79.6h.6M121.1 77.1h.6M138.5 64.8h.6M132.5 78.9h.6M132.8 76.4h.6M113.5 69.8h.6M122.6 76.9h.6M133.1 72.2h.6M116.2 67.9h.6M123.2 83.5h.6M137.6 60.0h.6M122.6 91.3h.6M125.9 76.4h.6M137.7 70.4h.6M128.5 78.0h.6M148.2 62.8h.6M151.4 58.3h.6M162.4 34.0h.6M156.9 51.2h.6M151.7 54.8h.6M150.0 52.7h.6M160.9 49.0h.6M158.7 46.4h.6M151.1 56.8h.6M161.3 45.3h.6M151.1 51.9h.6M158.0 60.5h.6M157.9 47.9h.6M148.8 60.3h.6M143.6 67.0h.6M147.7 49.9h.6M158.4 46.5h.6M146.9 51.2h.6M158.4 46.6h.6M157.4 40.2h.6M152.7 58.9h.6M152.3 52.9h.6M146.8 48.6h.6M159.0 50.7h.6M152.5 45.5h.6M148.6 45.6h.6M164.4 45.9h.6M155.5 50.6h.6M151.9 48.0h.6M149.2 60.7h.6M154.6 54.4h.6M163.3 45.0h.6M161.4 52.7h.6M154.3 53.4h.6M156.1 58.8h.6M146.5 60.3h.6M148.0 59.0h.6M150.3 34.3h.6M151.4 51.2h.6M159.9 60.4h.6M160.1 42.3h.6M148.8 55.0h.6M147.2 54.1h.6M157.0 36.1h.6M159.4 51.4h.6M147.1 71.0h.6M158.3 60.0h.6M145.7 56.9h.6M145.4 52.3h.6M148.7 52.0h.6M141.8 65.5h.6M145.6 55.8h.6M169.2 44.5h.6M151.9 55.3h.6M144.5 50.7h.6M155.8 41.8h.6M145.1 65.1h.6M153.8 57.9h.6M162.4 44.6h.6M157.8 59.0h.6M154.9 50.4h.6M149.8 53.0h.6M155.0 50.4h.6M159.8 50.6h.6M143.1 44.2h.6M153.8 52.7h.6M155.0 51.8h.6M135.0 61.4h.6M156.5 43.3h.6M170.8 46.3h.6M157.2 45.5h.6M153.3 50.0h.6M153.0 59.0h.6M151.0 45.2h.6M176.3 50.6h.6M161.3 40.1h.6M145.0 54.5h.6M159.1 36.8h.6M145.1 54.5h.6M144.3 52.8h.6M149.9 51.6h.6M153.5 44.0h.6M142.4 44.0h.6M164.4 51.2h.6M157.6 53.9h.6M166.9 45.4h.6M144.0 63.8h.6M155.6 54.4h.6M155.2 45.4h.6M174.6 55.0h.6M134.7 63.4h.6M146.6 49.0h.6M144.9 73.9h.6M154.6 48.1h.6M148.6 56.4h.6M151.6 46.2h.6M159.4 45.0h.6M161.0 49.0h.6M152.3 55.2h.6M153.0 43.4h.6M179.0 36.0h.6M146.3 52.3h.6M151.5 42.3h.6M152.2 59.5h.6M160.3 48.5h.6M145.8 56.6h.6M154.6 45.3h.6M144.2 65.2h.6M153.3 50.1h.6M169.4 33.5h.6M146.1 62.1h.6M149.3 57.4h.6M155.5 41.5h.6M148.9 64.8h.6M129.1 60.3h.6M137.3 59.6h.6M155.6 52.7h.6M160.8 45.0h.6M156.3 55.2h.6M155.3 54.5h.6M152.6 35.5h.6M157.2 58.3h.6M161.2 41.7h.6M164.1 42.9h.6M147.7 51.2h.6M158.7 39.7h.6M160.4 50.6h.6M153.6 55.2h.6M153.6 53.6h.6M158.7 42.8h.6M149.0 67.0h.6M142.0 64.2h.6M163.8 47.5h.6M168.0 40.3h.6M156.0 52.0h.6M164.8 50.8h.6M144.1 67.4h.6M146.6 65.7h.6M149.0 56.5h.6M150.5 55.4h.6M149.9 46.6h.6M148.4 54.8h.6M150.2 50.6h.6M148.4 50.3h.6M157.5 48.6h.6M161.2 46.0h.6M157.0 43.9h.6M157.4 36.4h.6M150.4 52.7h.6M149.3 55.5h.6M139.5 65.9h.6M136.7 59.6h.6M154.2 41.9h.6M149.8 41.7h.6M152.9 52.3h.6M148.1 52.1h.6M145.3 63.0h.6M130.7 60.7h.6M152.8 62.0h.6M149.9 53.5h.6M132.1 68.3h.6M163.2 44.7h.6M149.8 59.9h.6M158.7 53.2h.6M156.0 36.4h.6M162.0 40.6h.6M151.7 56.5h.6M162.0 48.8h.6M160.3 47.7h.6M149.8 48.5h.6M156.5 52.3h.6M145.1 57.5h.6M154.5 51.0h.6M151.7 62.0h.6M150.4 53.6h.6M154.9 53.9h.6M164.9 52.7h.6M154.2 58.4h.6M146.0 49.1h.6M145.5 50.9h.6M166.5 26.6h.6M153.0 59.8h.6M155.5 48.9h.6M139.0 60.1h.6M152.6 52.0h.6M139.1 55.5h.6M150.1 58.7h.6M155.1 44.1h.6M169.0 45.3h.6M154.7 52.7h.6M156.9 48.5h.6M155.8 53.9h.6M148.2 54.5h.6M153.0 52.0h.6M164.3 51.4h.6M160.0 58.4h.6M151.5 57.5h.6M153.8 61.6h.6M150.6 42.9h.6M150.5 55.4h.6M159.6 46.6h.6M140.0 59.8h.6M160.3 50.0h.6M153.0 66.0h.6M153.8 55.4h.6M172.8 43.7h.6M165.5 51.8h.6M153.3 61.6h.6M149.9 55.5h.6M157.4 44.4h.6M163.9 51.5h.6M155.5 56.6h.6M156.8 46.0h.6M155.1 62.3h.6M128.5 67.1h.6M156.8 40.6h.6M148.6 55.7h.6M152.6 43.4h.6M150.8 53.3h.6M150.2 54.4h.6M143.7 56.1h.6M158.8 48.1h.6M154.7 42.1h.6M154.4 35.1h.6M160.9 51.6h.6M159.2 53.8h.6M151.6 59.7h.6M151.6 50.8h.6M157.6 51.9h.6M132.3 67.5h.6M147.8 65.2h.6M147.1 49.0h.6M160.0 48.7h.6M161.9 41.8h.6M168.3 44.7h.6M147.0 58.0h.6M147.0 44.9h.6M147.5 54.8h.6M142.9 54.0h.6M151.5 57.0h.6M156.5 55.6h.6M154.7 42.6h.6M142.6 64.2h.6M148.1 49.5h.6M143.1 57.2h.6M164.0 44.4h.6M170.0 46.8h.6M150.6 57.9h.6M149.4 60.1h.6M155.7 46.8h.6M159.5 46.0h.6M147.1 61.9h.6M149.8 56.3h.6M155.2 51.8h.6M145.8 61.4h.6M169.9 50.0h.6M157.6 58.3h.6M158.0 58.4h.6M144.9 62.1h.6M159.3 41.8h.6M138.1 56.8h.6M147.4 58.3h.6M144.5 52.7h.6M144.7 45.8h.6M140.4 61.0h.6M154.3 67.3h.6M157.1 49.2h.6M152.7 53.9h.6M153.2 52.0h.6M160.6 47.3h.6M151.4 44.6h.6M161.3 47.6h.6M155.5 56.2h.6M146.6 59.9h.6M166.4 43.5h.6M139.5 64.2h.6M144.4 64.9h.6M139.7 55.8h.6M163.9 29.5h.6M151.4 50.5h.6M160.8 45.9h.6M142.6 65.7h.6M141.4 57.1h.6M155.6 51.7h.6M148.8 55.9h.6M155.9 55.3h.6M155.6 47.2h.6M155.4 55.0h.6M155.8 55.5h.6M153.2 50.5h.6M150.4 53.7h.6M153.3 49.1h.6M157.6 43.8h.6M143.2 56.4h.6M150.9 46.7h.6M161.9 50.2h.6M152.5 55.9h.6M151.4 53.0h.6M167.2 41.4h.6M161.3 45.8h.6M175.4 44.3h.6M170.0 44.5h.6M148.9 53.7h.6M149.6 60.3h.6M144.7 48.0h.6M157.6 45.3h.6M123.6 71.8h.6M154.1 53.9h.6M160.0 42.8h.6M150.2 49.3h.6M152.6 47.7h.6M145.8 48.4h.6M135.1 58.2h.6M156.5 42.7h.6M151.7 56.2h.6M157.1 50.8h.6M155.3 55.8h.6M173.4 47.1h.6M159.4 53.5h.6M149.6 42.5h.6M149.7 50.8h.6M151.5 64.3h.6M156.3 50.8h.6M162.2 47.3h.6M153.4 53.6h.6M131.2 61.1h.6M148.0 59.5h.6M167.0 39.6h.6M144.8 52.3h.6M155.3 53.1h.6M143.8 72.1h.6M147.5 55.7h.6M141.5 53.1h.6M158.3 47.1h.6M154.3 45.0h.6M148.4 39.2h.6M158.7 44.2h.6M150.1 57.4h.6M162.3 37.8h.6M150.3 53.9h.6M159.1 46.2h.6M167.2 37.2h.6M147.1 54.4h.6M154.3 48.9h.6M150.6 52.3h.6M153.0 51.3h.6M156.6 52.8h.6M150.2 51.1h.6M149.7 49.2h.6M159.6 50.1h.6M140.0 58.5h.6M154.2 66.2h.6M147.8 54.9h.6M148.7 69.7h.6M156.0 51.5h.6M150.0 56.9h.6M149.0 61.9h.6M143.5 63.2h.6M145.2 57.9h.6M154.7 48.5h.6M139.5 57.1h.6M156.2 42.9h.6M160.2 52.1h.6M146.3 40.9h.6M145.4 70.6h.6M149.8 61.5h.6M159.4 44.7h.6M155.5 62.2h.6M153.0 65.3h.6M150.7 61.9h.6M147.0 40.3h.6M131.4 56.3h.6M162.5 48.7h.6M150.0 46.3h.6M145.8 61.0h.6M155.6 47.0h.6M132.8 71.7h.6M141.7 59.2h.6M154.7 50.7h.6M157.9 36.0h.6M143.0 60.1h.6M138.3 58.1h.6M155.3 57.3h.6M150.6 49.2h.6M147.9 59.4h.6M148.1 60.1h.6M163.6 41.9h.6M142.1 55.2h.6M140.2 63.6h.6M148.5 54.7h.6M164.8 47.4h.6M154.2 44.3h.6M147.8 48.0h.6M144.5 63.8h.6M152.2 54.2h.6M178.2 39.0h.6M161.4 54.2h.6M153.7 38.2h.6M140.7 63.8h.6M149.4 55.8h.6M148.0 56.5h.6M168.6 45.2h.6M156.5 62.4h.6M150.9 52.2h.6M147.8 55.1h.6M132.4 73.6h.6M163.4 48.3h.6M137.0 64.2h.6M150.5 59.8h.6M144.6 68.3h.6M145.5 54.2h.6M152.8 60.7h.6M145.3 52.6h.6M167.5 48.5h.6M139.6 56.6h.6M146.6 51.0h.6M151.3 43.4h.6M147.6 53.9h.6M147.7 55.7h.6M166.3 39.3h.6M156.6 45.9h.6M144.6 56.9h.6M152.1 48.7h.6M143.6 56.7h.6M155.8 50.1h.6M138.9 59.3h.6M158.5 47.9h.6M151.0 45.5h.6M149.8 44.7h.6M154.4 55.6h.6M150.8 47.7h.6M145.4 58.4h.6M148.8 47.9h.6M151.2 42.4h.6M150.4 44.0h.6M141.5 54.8h.6M160.6 54.0h.6M140.0 57.2h.6M146.9 58.0h.6M143.8 56.3h.6M147.4 56.7h.6M146.5 48.2h.6M160.7 52.5h.6M160.6 46.3h.6M153.6 47.6h.6M148.8 60.5h.6M152.1 41.2h.6M156.8 43.1h.6M147.0 58.7h.6M147.9 66.6h.6M148.7 51.3h.6M172.9 47.4h.6M153.4 59.3h.6M147.3 49.9h.6M158.9 50.0h.6M146.5 64.7h.6M140.0 55.5h.6M155.9 59.4h.6M152.8 40.6h.6M154.1 60.2h.6M150.7 61.4h.6M144.6 70.2h.6M166.8 45.8h.6M143.0 61.8h.6M156.3 37.5h.6M152.3 64.5h.6M162.8 47.8h.6M167.8 45.0h.6M143.0 55.8h.6M148.5 39.6h.6M159.1 49.8h.6M158.3 40.8h.6M149.2 54.4h.6M163.2 46.9h.6M148.0 46.5h.6M145.5 61.0h.6M156.8 42.9h.6M159.5 42.0h.6M154.3 55.8h.6M145.7 47.3h.6M155.7 45.2h.6M163.9 40.6h.6M145.7 64.8h.6M159.6 45.3h.6M169.7 42.2h.6M141.1 53.7h.6M150.9 42.6h.6M151.6 51.5h.6M159.9 56.7h.6M163.1 46.6h.6M137.9 61.1h.6M145.6 53.2h.6M145.7 67.0h.6M151.5 57.2h.6M161.1 34.5h.6M136.8 51.2h.6M154.8 63.6h.6M147.5 57.1h.6M154.8 50.0h.6M150.5 56.1h.6M145.4 57.3h.6M145.2 56.9h.6M150.2 53.3h.6M135.3 52.2h.6M131.9 66.8h.6M159.0 43.1h.6M156.4 56.1h.6M150.5 60.5h.6M149.1 52.0h.6M156.9 47.3h.6M145.3 58.4h.6M158.7 60.5h.6M151.3 60.5h.6M158.8 41.8h.6M137.9 74.3h.6M137.6 57.8h.6M166.4 48.2h.6M142.8 60.7h.6M141.5 52.8h.6M140.7 58.7h.6M133.0 66.9h.6M154.6 57.7h.6M161.4 53.6h.6M147.9 43.3h.6M140.4 58.6h.6M151.3 60.5h.6M166.1 44.1h.6M152.0 56.0h.6M146.7 61.4h.6M161.1 50.0h.6M153.9 59.9h.6M135.8 63.1h.6M137.2 48.9h.6M160.4 48.7h.6M148.1 51.1h.6M145.1 46.4h.6M156.7 48.7h.6M143.0 54.6h.6M139.8 62.1h.6M144.3 44.2h.6M148.5 58.9h.6M151.3 52.5h.6M146.6 58.1h.6M143.2 54.4h.6M137.8 58.4h.6M157.1 54.7h.6M168.7 42.7h.6M141.1 59.5h.6M156.3 40.1h.6M158.6 50.3h.6M144.8 54.7h.6M146.7 62.6h.6M153.3 46.2h.6M149.5 55.6h.6M150.6 55.9h.6M146.1 53.3h.6M168.2 42.4h.6M134.4 57.3h.6M159.5 55.1h.6M164.7 38.6h.6M151.4 49.7h.6M167.5 37.9h.6M150.4 51.0h.6M150.5 48.5h.6M158.3 48.2h.6M143.9 54.6h.6M150.8 51.0h.6M156.7 49.4h.6M145.8 55.9h.6M152.5 46.1h.6M162.8 48.7h.6M149.4 68.0h.6M148.7 50.8h.6M157.8 53.5h.6M143.7 54.2h.6M158.6 44.8h.6M157.5 40.0h.6M145.4 53.7h.6M151.0 47.7h.6M146.5 56.1h.6M149.7 51.8h.6M162.9 58.3h.6M147.6 49.8h.6M155.2 53.8h.6M151.2 58.7h.6M154.9 37.4h.6M153.1 39.4h.6M150.0 60.0h.6M152.1 44.0h.6M171.1 34.0h.6M139.2 44.5h.6M158.8 39.0h.6M171.6 34.1h.6M154.2 58.3h.6M165.1 55.5h.6M132.9 64.0h.6M167.6 49.4h.6M157.0 48.2h.6M157.7 46.0h.6M152.8 50.2h.6M158.7 45.1h.6M155.4 38.9h.6M157.3 47.5h.6M146.1 49.5h.6M152.0 54.8h.6M161.7 63.3h.6M145.9 48.4h.6M151.4 64.5h.6M138.4 56.0h.6M150.2 51.7h.6M148.5 62.6h.6M151.0 56.9h.6M146.4 65.6h.6M146.2 66.8h.6M147.9 54.0h.6M148.5 51.8h.6M171.0 41.0h.6M153.2 55.0h.6M166.1 52.7h.6M148.6 40.4h.6M158.0 54.7h.6M151.5 56.4h.6M156.1 47.1h.6M153.4 45.7h.6M138.6 58.2h.6M154.6 44.9h.6M156.1 60.4h.6M139.9 62.9h.6M145.2 56.4h.6M157.7 48.1h.6M161.3 48.7h.6M153.8 56.3h.6M161.5 44.5h.6M157.5 46.5h.6M137.5 59.3h.6M143.5 59.4h.6M154.3 49.7h.6M143.1 55.7h.6M146.2 55.3h.6M158.7 55.7h.6M152.6 57.6h.6M147.7 58.2h.6M145.4 66.5h.6M168.4 39.7h.6M145.4 66.3h.6M148.7 55.3h.6M165.5 51.4h.6M153.2 55.4h.6M143.7 57.4h.6M139.2 55.1h.6M161.5 45.6h.6M158.6 48.1h.6M133.2 60.8h.6M140.6 60.7h.6M154.9 46.0h.6M165.6 43.2h.6M143.4 50.8h.6M159.4 46.3h.6M146.3 70.8h.6M142.5 67.5h.6M142.3 60.6h.6M161.2 55.7h.6M152.3 49.7h.6M160.5 51.3h.6M139.4 65.4h.6M163.5 40.0h.6M150.6 57.3h.6M180.9 45.0h.6M151.1 47.4h.6M135.0 60.8h.6M157.6 59.9h.6M143.2 55.5h.6M163.6 42.1h.6M152.2 49.3h.6M159.2 41.4h.6M147.5 59.9h.6M142.6 53.5h.6M149.6 47.4h.6M151.7 51.1h.6M146.7 61.0h.6M161.0 55.2h.6M161.0 44.9h.6M152.5 58.8h.6M152.9 61.6h.6M149.8 57.8h.6M159.1 52.6h.6M150.3 52.7h.6M149.9 43.2h.6M163.4 48.6h.6M145.7 50.0h.6M151.8 56.8h.6M146.8 51.3h.6M159.4 38.2h.6M150.6 53.0h.6M148.1 47.1h.6M149.8 55.0h.6M158.2 46.1h.6M154.3 49.2h.6M148.2 66.6h.6M162.1 49.9h.6M154.3 49.1h.6M164.1 48.2h.6M157.4 50.9h.6M150.3 51.8h.6M139.4 53.8h.6M157.1 43.3h.6M168.4 52.7h.6M145.2 58.7h.6M153.3 55.5h.6M161.5 56.8h.6M148.4 50.6h.6M158.7 54.7h.6M140.1 44.7h.6M143.3 52.7h.6M153.8 35.8h.6M138.6 63.9h.6M156.9 48.7h.6M143.2 54.9h.6M149.9 49.9h.6M156.8 69.3h.6M154.5 53.5h.6M148.9 59.0h.6M150.9 47.3h.6M138.0 58.8h.6M144.2 60.6h.6M149.7 52.4h.6M156.1 48.0h.6M144.3 57.1h.6M161.0 32.9h.6M150.1 56.8h.6M158.7 48.6h.6M139.6 67.0h.6M146.5 62.2h.6M150.3 66.9h.6M141.3 58.8h.6M140.2 64.0h.6M153.1 61.3h.6M143.9 56.9h.6M168.5 47.0h.6M149.6 51.3h.6M152.4 49.2h.6M131.7 62.1h.6M163.0 42.5h.6M171.1 51.4h.6M149.6 67.7h.6M143.8 60.3h.6M147.6 60.1h.6M166.9 48.4h.6M137.7 57.2h.6M142.4 57.9h.6M138.7 62.5h.6M147.4 43.3h.6M155.6 44.1h.6M142.0 56.7h.6M159.6 44.0h.6M152.2 50.9h.6M137.3 48.9h.6M157.7 51.0h.6M160.0 42.4h.6M163.4 46.4h.6M157.9 51.8h.6M161.5 43.4h.6M158.0 60.1h.6M148.3 43.6h.6M165.6 40.8h.6M151.2 53.8h.6M150.5 64.0h.6M141.9 60.3h.6M149.6 58.4h.6M137.8 65.7h.6M151.6 67.3h.6M141.6 58.8h.6M147.2 50.2h.6M139.3 59.6h.6M152.3 55.2h.6M156.7 58.7h.6M149.7 37.7h.6M155.4 40.5h.6M169.0 48.3h.6M148.4 52.6h.6M138.4 58.7h.6M156.3 45.7h.6M151.9 46.3h.6M144.7 51.1h.6M158.6 47.6h.6M164.5 36.5h.6M160.8 57.3h.6M139.9 44.9h.6M155.4 53.5h.6M142.3 55.6h.6M173.3 46.6h.6M139.0 56.4h.6M145.7 61.4h.6M165.6 52.7h.6M152.4 56.2h.6M140.1 58.0h.6M158.6 45.7h.6M161.6 45.8h.6M144.3 69.4h.6M157.5 48.9h.6M161.9 48.7h.6M162.5 35.8h.6M155.9 49.7h.6M162.2 52.8h.6M151.8 50.7h.6M155.8 45.8h.6M164.1 39.7h.6M161.6 52.7h.6M149.0 58.7h.6M152.8 54.7h.6M164.7 36.6h.6M136.0 53.3h.6M151.0 60.9h.6M145.3 55.0h.6M165.2 47.5h.6M146.9 60.4h.6M146.6 52.8h.6M147.6 48.3h.6M159.6 52.7h.6M149.3 39.6h.6M134.8 50.2h.6M148.5 66.5h.6M137.9 58.4h.6M161.5 45.8h.6M153.7 58.6h.6M160.7 60.1h.6M148.4 48.3h.6M139.7 61.5h.6M142.3 67.1h.6M143.1 59.8h.6M164.3 36.4h.6M152.2 59.0h.6M149.8 42.1h.6M147.4 63.3h.6M172.0 35.3h.6M152.6 51.9h.6M137.2 59.9h.6M147.2 54.7h.6M158.1 54.8h.6M160.5 47.0h.6M153.0 59.5h.6M159.0 50.6h.6M152.7 49.0h.6M152.5 50.0h.6M148.8 55.4h.6M153.2 48.1h.6M165.4 51.1h.6M147.7 47.7h.6M155.2 61.9h.6M171.0 31.4h.6M154.1 44.3h.6M156.8 48.1h.6M136.0 56.6h.6M166.1 52.4h.6M145.1 69.8h.6M166.1 50.7h.6M160.6 57.7h.6M152.5 60.9h.6M140.0 49.3h.6M155.5 54.2h.6M146.2 52.1h.6M141.5 67.3h.6M159.1 44.4h.6M138.4 60.6h.6M147.2 49.8h.6M150.1 58.1h.6M167.7 47.0h.6M136.1 58.0h.6M160.8 47.6h.6M157.0 51.4h.6M128.9 71.0h.6M140.1 60.9h.6M150.5 62.1h.6M148.2 65.0h.6M156.0 54.3h.6M158.6 51.9h.6M162.5 49.0h.6M144.0 54.9h.6M155.6 48.9h.6M150.1 54.3h.6M152.5 45.4h.6M154.0 56.4h.6M158.2 60.6h.6M156.3 63.3h.6M154.9 48.3h.6M151.0 49.9h.6M141.4 55.6h.6M138.0 69.0h.6M159.3 45.8h.6M161.8 52.5h.6M147.3 48.6h.6M161.4 45.6h.6M149.2 50.4h.6M151.7 54.5h.6M147.7 54.4h.6M155.2 36.6h.6M168.7 44.3h.6M150.4 54.1h.6M147.5 57.3h.6M159.8 45.3h.6M151.9 41.6h.6M157.2 37.3h.6M167.4 40.9h.6M168.5 32.8h.6M164.4 43.4h.6M158.7 44.8h.6M169.9 39.6h.6M160.6 43.5h.6M150.2 32.3h.6M165.2 46.6h.6M159.8 34.1h.6M159.5 52.7h.6M161.9 41.6h.6M158.0 39.0h.6M156.9 41.7h.6M166.8 30.8h.6M153.9 50.2h.6M162.3 43.6h.6M157.5 35.8h.6M155.8 33.9h.6M172.6 39.4h.6M151.3 52.7h.6M154.7 38.3h.6M159.6 49.3h.6M157.5 52.5h.6M159.3 46.1h.6M164.6 41.6h.6M157.6 41.0h.6M161.1 21.9h.6M155.4 51.3h.6M159.9 37.1h.6M169.0 47.5h.6M160.1 39.5h.6M166.0 40.7h.6M157.1 39.9h.6M158.7 33.9h.6M157.9 40.7h.6M165.4 51.5h.6M156.3 45.8h.6M152.2 36.2h.6M168.0 41.9h.6M162.4 48.0h.6M162.0 35.1h.6M160.4 42.7h.6M160.9 41.4h.6M165.0 32.6h.6M155.3 47.1h.6M155.3 35.9h.6M166.8 38.5h.6M167.2 42.4h.6M160.1 36.4h.6M170.4 37.3h.6M161.4 46.2h.6M163.6 42.8h.6M174.9 38.5h.6M155.2 46.5h.6M161.4 35.9h.6M166.8 41.4h.6M164.5 41.6h.6M156.2 31.2h.6M157.2 45.2h.6M159.4 37.6h.6M159.3 40.2h.6M163.4 39.7h.6M167.1 46.0h.6M172.0 34.2h.6M164.1 34.0h.6M170.1 29.2h.6M167.1 37.2h.6M164.8 40.5h.6M174.1 47.7h.6M164.9 31.4h.6M155.3 42.6h.6M157.0 51.4h.6M152.9 46.2h.6M165.8 38.2h.6M154.2 36.5h.6M154.4 36.2h.6M164.2 43.0h.6M162.0 33.6h.6M161.9 45.6h.6M155.6 42.9h.6M159.8 44.4h.6M169.1 41.9h.6M157.7 38.9h.6M161.7 35.3h.6M170.2 40.6h.6M160.0 42.3h.6M156.6 44.2h.6M158.0 49.9h.6M155.3 39.8h.6M155.9 45.6h.6M158.0 35.5h.6M150.2 42.1h.6M164.2 42.7h.6M163.1 47.4h.6M165.7 38.2h.6M150.7 40.7h.6M161.2 40.2h.6M165.8 39.1h.6M152.9 48.3h.6M166.7 43.8h.6M155.5 40.6h.6M157.4 46.5h.6M152.2 46.7h.6M161.0 40.6h.6M156.8 42.6h.6M160.7 44.7h.6M160.7 33.4h.6M144.6 53.9h.6M166.6 38.4h.6M175.3 34.0h.6M164.1 45.5h.6M159.5 43.7h.6M164.2 46.0h.6M169.7 41.9h.6M172.9 29.6h.6M163.3 52.3h.6M150.6 60.8h.6M161.5 38.8h.6M160.1 41.2h.6M158.5 40.3h.6M159.4 41.9h.6M151.0 52.5h.6M163.4 40.9h.6M155.9 43.1h.6M164.0 41.8h.6M162.4 47.9h.6M159.3 48.7h.6M153.8 52.1h.6M166.8 33.7h.6M159.5 40.5h.6M168.2 45.8h.6M168.9 34.4h.6M160.9 36.2h.6M165.1 43.5h.6M154.6 57.9h.6M161.7 30.5h.6M170.8 43.3h.6M151.9 42.8h.6M156.0 51.5h.6M163.1 39.8h.6M158.0 39.8h.6M165.0 31.2h.6M150.8 43.6h.6M156.4 37.0h.6M162.9 37.0h.6M166.5 43.0h.6M153.7 46.0h.6M160.0 55.0h.6M157.6 42.5h.6M169.4 29.0h.6M156.7 45.0h.6M163.9 49.5h.6M162.8 34.6h.6M163.1 39.2h.6M171.1 38.7h.6M155.7 42.6h.6M159.1 46.2h.6M164.4 36.9h.6M159.0 41.6h.6M160.3 40.9h.6M154.8 45.1h.6M159.4 47.6h.6M151.6 39.1h.6M153.4 39.5h.6M155.6 42.8h.6M154.1 37.1h.6M155.8 39.4h.6M162.2 31.9h.6M169.3 32.7h.6M153.4 36.5h.6M167.7 33.0h.6M161.0 36.6h.6M152.7 55.2h.6M156.8 34.1h.6M147.9 41.7h.6M161.0 30.4h.6M154.3 39.4h.6M165.6 30.6h.6M169.8 36.8h.6M155.4 40.3h.6M154.9 44.7h.6M165.6 35.6h.6M157.9 47.0h.6M155.5 36.3h.6M162.9 33.5h.6M159.8 41.5h.6M168.7 42.7h.6M168.1 29.7h.6M159.9 36.7h.6M166.5 40.4h.6M157.9 43.9h.6M147.0 53.2h.6M167.4 46.8h.6M158.3 38.2h.6M165.8 41.2h.6M167.1 47.7h.6M156.1 42.1h.6M165.1 52.0h.6M163.4 43.3h.6M157.2 46.3h.6M158.5 52.6h.6M162.7 40.7h.6M152.3 32.0h.6M164.5 39.4h.6M157.4 42.9h.6M155.2 36.4h.6M158.4 47.9h.6M156.9 40.9h.6M162.1 34.0h.6M176.6 41.3h.6M163.1 46.6h.6M168.1 44.7h.6M162.9 51.0h.6M149.1 43.1h.6M164.1 50.5h.6M156.2 38.4h.6M155.8 38.7h.6M157.9 46.0h.6M160.6 39.1h.6M172.2 42.2h.6M156.9 42.3h.6M165.0 41.7h.6M163.7 38.5h.6M163.4 33.9h.6M163.3 37.2h.6M164.4 35.1h.6M161.8 41.4h.6M153.9 46.4h.6M158.2 49.2h.6M157.7 42.1h.6M156.9 46.6h.6M162.4 50.6h.6M161.5 43.8h.6M169.9 51.4h.6M159.2 43.5h.6M163.7 40.7h.6M172.6 34.6h.6M159.8 49.9h.6M160.7 46.5h.6M155.0 46.3h.6M166.0 35.4h.6M164.0 35.8h.6M154.3 47.2h.6M158.3 33.4h.6M149.9 43.0h.6M159.1 35.2h.6M165.7 46.2h.6M162.1 41.8h.6M155.4 52.9h.6M161.1 39.4h.6M163.0 41.5h.6M164.9 32.1h.6M155.2 33.4h.6M159.9 40.4h.6M155.8 42.4h.6M161.6 36.4h.6M160.5 32.3h.6M166.7 39.8h.6M168.1 39.8h.6M161.9 43.7h.6M157.5 51.3h.6M158.7 37.7h.6M170.3 36.6h.6M167.0 35.2h.6M156.0 42.3h.6M171.4 31.7h.6M164.8 31.3h.6M164.2 36.0h.6M156.0 45.4h.6M158.7 31.4h.6M170.7 42.1h.6M175.3 34.5h.6M161.5 45.8h.6M165.3 48.4h.6M169.3 38.0h.6M168.8 37.9h.6M171.0 42.9h.6M157.0 41.5h.6M153.5 39.0h.6M165.5 43.2h.6M162.7 37.9h.6M169.1 40.5h.6M159.6 46.6h.6M150.9 45.5h.6M166.5 35.7h.6M157.1 37.3h.6M160.6 41.7h.6M165.4 36.0h.6M156.5 50.4h.6M167.2 47.9h.6M160.3 43.5h.6M162.5 37.8h.6M161.3 41.6h.6M164.2 37.6h.6M153.2 45.1h.6M159.8 43.8h.6M153.1 40.8h.6M163.8 33.0h.6M168.4 36.1h.6M164.7 44.0h.6M166.4 39.6h.6M159.2 40.9h.6M161.6 47.9h.6M169.1 35.9h.6M166.4 47.6h.6M169.7 36.6h.6M173.3 30.0h.6M151.4 41.8h.6M168.3 42.9h.6M162.8 46.0h.6M167.7 44.1h.6M147.8 49.4h.6M160.7 34.2h.6M161.4 49.8h.6M162.7 39.5h.6M155.4 30.0h.6M167.6 39.4h.6M157.2 36.2h.6M167.4 44.5h.6M163.4 46.1h.6M147.1 40.6h.6M159.3 44.9h.6M158.7 43.1h.6M161.6 44.6h.6M158.0 35.7h.6M157.7 34.6h.6M169.6 39.3h.6M164.7 24.7h.6M155.7 45.2h.6M163.4 41.7h.6M165.9 41.5h.6M161.1 43.2h.6M172.2 46.1h.6M153.8 55.4h.6M164.1 37.2h.6M159.7 41.3h.6M149.3 46.7h.6M160.6 42.7h.6M177.9 39.8h.6M163.0 43.9h.6M171.3 31.1h.6M168.5 26.4h.6M154.6 30.4h.6M159.5 41.9h.6M162.3 34.8h.6M169.9 35.5h.6M166.7 28.5h.6M165.5 41.9h.6M156.2 43.9h.6M167.0 31.5h.6M153.1 50.2h.6M158.6 40.0h.6M161.5 40.3h.6M161.5 35.7h.6M159.8 45.2h.6M156.6 33.9h.6M165.6 36.2h.6M163.4 42.6h.6M160.0 47.7h.6M167.1 39.1h.6M166.5 44.7h.6M157.2 46.1h.6M166.2 53.4h.6M169.2 30.2h.6M153.8 34.1h.6M156.9 30.3h.6M152.7 36.0h.6M160.5 41.3h.6M155.5 34.6h.6M153.9 37.6h.6M167.5 39.7h.6M160.8 29.2h.6M165.7 37.1h.6M162.1 45.6h.6M162.0 47.8h.6M151.9 50.7h.6M162.2 30.6h.6M156.4 38.4h.6M148.6 100.0h.6M150.0 89.2h.6M132.1 98.5h.6M143.6 106.6h.6M142.6 98.3h.6M132.8 109.8h.6M145.2 119.6h.6M128.0 91.7h.6M141.1 81.6h.6M141.3 90.8h.6M134.6 80.8h.6M130.9 92.5h.6M149.7 99.7h.6M128.8 79.3h.6M128.0 103.7h.6M123.5 102.2h.6M133.9 80.5h.6M134.2 96.7h.6M128.7 79.5h.6M145.9 110.8h.6M137.0 98.3h.6M141.2 108.8h.6M123.6 121.7h.6M133.1 111.4h.6M149.9 101.9h.6M145.4 106.2h.6M140.2 95.4h.6M146.3 101.4h.6M142.7 126.3h.6M138.9 93.7h.6M139.8 100.3h.6M140.5 105.0h.6M132.7 106.8h.6M151.9 112.0h.6M157.8 85.6h.6M137.8 94.6h.6M136.1 100.4h.6M157.4 105.6h.6M140.5 110.4h.6M141.7 107.4h.6M140.7 102.6h.6M137.4 88.9h.6M133.5 85.7h.6M143.7 85.2h.6M123.5 113.1h.6M146.1 123.3h.6M150.1 89.9h.6M134.6 82.3h.6M133.3 96.4h.6M154.2 104.5h.6M135.2 93.9h.6M131.8 98.2h.6M145.1 110.6h.6M126.9 106.4h.6M118.1 95.1h.6M136.7 83.5h.6M132.1 99.3h.6M129.7 116.2h.6M130.1 78.1h.6M131.2 122.5h.6M134.0 103.8h.6M116.3 122.3h.6M143.6 92.3h.6M133.6 90.5h.6M133.3 82.9h.6M133.8 104.6h.6M144.0 103.2h.6M139.3 98.6h.6M156.5 102.7h.6M117.3 107.6h.6M144.0 90.5h.6M145.3 114.3h.6M110.6 79.6h.6M141.6 94.9h.6M135.5 106.2h.6M135.3 97.8h.6M136.4 103.7h.6M140.0 79.7h.6M133.0 97.1h.6M130.0 100.7h.6M145.1 81.8h.6M136.5 109.2h.6M144.0 84.2h.6M160.4 89.8h.6M124.2 83.3h.6M128.4 103.9h.6M130.0 90.4h.6M135.5 109.4h.6M151.4 112.7h.6M140.4 96.3h.6M146.2 108.6h.6M153.4 125.5h.6M118.5 78.2h.6M133.2 77.5h.6M130.2 125.5h.6M140.1 89.0h.6M127.1 140.9h.6M151.0 113.2h.6M131.8 69.5h.6M129.4 113.5h.6M126.9 99.6h.6M124.5 102.8h.6M135.9 113.1h.6M131.0 93.2h.6M139.1 97.1h.6M131.9 103.5h.6M140.4 77.8h.6M138.1 97.6h.6M146.1 105.2h.6M142.8 102.0h.6M131.4 103.6h.6M147.4 101.7h.6M131.1 74.6h.6M128.1 89.5h.6M144.1 74.8h.6M124.9 106.1h.6M130.1 115.1h.6M122.5 104.0h.6M122.7 73.8h.6M138.8 96.6h.6M127.8 112.9h.6M151.2 108.5h.6M149.1 112.5h.6M139.3 113.4h.6M130.1 87.2h.6M135.9 105.4h.6M133.8 106.4h.6M146.2 88.1h.6M119.0 94.1h.6M134.6 100.5h.6M136.8 129.0h.6M139.7 116.7h.6M142.3 102.6h.6M132.5 103.1h.6M141.6 80.2h.6M125.4 102.9h.6M146.1 116.2h.6M139.4 96.8h.6M134.9 109.8h.6M146.0 121.5h.6M129.6 98.2h.6M120.8 81.2h.6M140.5 101.1h.6M136.8 100.4h.6M133.0 139.9h.6M129.9 101.2h.6M140.1 100.9h.6M143.9 116.5h.6M127.8 92.2h.6M123.4 97.8h.6M142.1 100.3h.6M126.3 99.9h.6M147.4 107.6h.6M148.7 104.7h.6M130.8 70.1h.6M156.8 117.9h.6M133.7 96.1h.6M135.2 112.1h.6M135.1 103.6h.6M140.0 110.8h.6M143.5 120.8h.6M139.2 99.9h.6M129.8 96.4h.6M133.1 107.9h.6M122.2 101.2h.6M126.9 127.3h.6M137.6 99.5h.6M136.1 94.5h.6M130.9 130.2h.6M138.1 93.2h.6M129.3 113.6h.6M135.7 94.5h.6M136.5 112.0h.6M144.9 124.8h.6M145.2 122.1h.6M127.0 97.4h.6M132.5 110.8h.6M120.2 119.6h.6M153.9 104.8h.6M117.0 128.9h.6M135.3 124.9h.6M122.0 127.0h.6M136.4 103.7h.6M137.9 108.9h.6M141.4 86.6h.6M130.4 91.1h.6M142.2 111.5h.6M129.7 93.4h.6M127.4 104.0h.6M128.7 88.6h.6M129.0 93.7h.6M150.9 86.5h.6M143.9 107.7h.6M141.5 93.3h.6M117.8 105.4h.6M135.1 111.7h.6M141.6 98.5h.6M120.1 103.8h.6M144.6 135.5h.6M126.2 111.2h.6M135.7 125.7h.6M138.1 124.4h.6M134.8 115.7h.6M135.7 111.0h.6M140.1 81.0h.6M146.3 110.4h.6M149.6 89.8h.6M148.1 84.9h.6M137.1 102.6h.6M117.9 119.5h.6M125.9 111.9h.6M131.6 113.8h.6M141.6 114.5h.6M146.5 114.5h.6M132.5 89.0h.6M129.9 88.4h.6M136.8 104.8h.6M137.8 118.2h.6M142.1 103.1h.6M142.8 93.2h.6M134.0 96.1h.6M113.7 97.0h.6M132.2 94.5h.6M109.3 88.5h.6M134.4 126.0h.6M160.1 106.2h.6M147.0 80.6h.6M139.2 106.2h.6M156.0 111.0h.6M126.6 115.4h.6M139.6 89.4h.6M140.8 77.6h.6M129.8 135.6h.6M130.8 85.5h.6M142.2 83.9h.6M138.3 106.1h.6M130.9 119.1h.6M134.9 117.5h.6M142.0 92.1h.6M134.2 103.9h.6M129.4 93.2h.6M139.5 103.5h.6M134.9 94.0h.6M137.2 138.5h.6M125.4 120.2h.6M135.6 100.9h.6M132.7 101.6h.6M123.0 123.0h.6M149.8 93.8h.6M137.3 99.8h.6M138.3 97.0h.6M143.8 103.9h.6M148.6 127.4h.6M145.2 94.5h.6M129.9 86.1h.6M138.1 87.7h.6M130.7 94.8h.6M134.0 84.0h.6M139.6 86.1h.6M146.8 91.7h.6M126.5 110.5h.6M143.0 107.0h.6M139.5 98.4h.6M126.8 108.7h.6M162.2 104.0h.6M135.1 101.9h.6M146.9 91.0h.6M135.6 114.6h.6M139.5 103.0h.6M144.1 100.5h.6M136.6 98.3h.6M136.3 105.5h.6M147.4 102.1h.6M146.1 86.2h.6M158.4 95.0h.6M138.9 86.7h.6M120.2 62.4h.6M123.3 85.1h.6M141.0 139.4h.6M127.2 78.5h.6M123.3 101.8h.6M146.6 113.9h.6M121.5 100.9h.6M121.5 101.8h.6M137.7 89.0h.6M147.0 93.2h.6M143.5 93.3h.6M125.8 86.9h.6M143.0 101.2h.6M127.0 112.2h.6M138.9 116.1h.6M108.4 127.5h.6M124.7 111.8h.6M139.4 149.5h.6M134.7 106.1h.6M139.7 88.1h.6M101.0 83.3h.6M148.7 107.3h.6M144.0 115.7h.6M155.0 117.0h.6M131.1 104.3h.6M144.6 122.6h.6M141.6 104.7h.6M134.3 98.5h.6M140.8 101.7h.6M137.0 105.3h.6M142.4 112.7h.6M134.5 86.7h.6M136.9 89.1h.6M129.3 120.5h.6M132.4 98.9h.6M138.1 120.6h.6M139.0 113.2h.6M139.7 108.4h.6M144.3 121.1h.6M129.5 102.0h.6M129.3 113.4h.6M121.1 115.7h.6M147.9 119.0h.6M153.8 90.8h.6M139.6 103.8h.6M142.0 125.5h.6M129.3 114.4h.6M137.4 123.5h.6M149.1 126.1h.6M139.1 96.0h.6M123.4 104.0h.6M139.0 124.8h.6M136.3 112.0h.6M144.3 92.0h.6M151.3 110.7h.6M136.8 110.1h.6M140.9 96.9h.6M145.3 98.9h.6M128.5 117.3h.6M134.4 114.4h.6M121.3 88.8h.6M138.7 91.4h.6M143.0 100.0h.6M139.6 104.5h.6M140.5 103.2h.6M129.6 92.5h.6M128.9 108.8h.6M148.1 75.6h.6M142.5 92.2h.6M133.2 104.5h.6M141.9 104.0h.6M129.6 102.5h.6M127.5 109.1h.6M139.6 106.6h.6M135.7 99.6h.6M139.2 126.6h.6M158.0 102.6h.6M140.3 141.0h.6M138.0 80.5h.6M155.1 116.6h.6M129.3 86.2h.6M135.2 80.0h.6M132.1 90.2h.6M135.7 62.9h.6M157.2 96.7h.6M118.9 102.6h.6M148.0 89.6h.6M124.5 97.3h.6M122.0 110.3h.6M135.1 95.0h.6M135.6 117.1h.6M133.7 93.5h.6M126.4 130.2h.6M142.5 103.6h.6M124.8 85.0h.6M142.2 114.0h.6M162.2 107.3h.6M124.6 82.8h.6M138.9 131.6h.6M137.6 97.8h.6M122.6 112.1h.6M136.7 142.2h.6M145.5 94.3h.6M145.1 93.8h.6M142.8 110.6h.6M131.3 70.3h.6M135.5 119.5h.6M128.6 91.7h.6M147.3 124.3h.6M129.9 121.5h.6M126.8 88.2h.6M131.3 85.4h.6M152.1 122.0h.6M122.0 86.7h.6M144.8 104.5h.6M143.6 110.8h.6M131.7 116.5h.6M138.6 104.9h.6M123.1 92.8h.6M140.2 116.1h.6M140.9 110.9h.6M129.7 119.9h.6M138.3 89.4h.6M137.0 126.4h.6M142.0 111.7h.6M143.1 99.7h.6M146.6 113.0h.6M135.8 102.9h.6M142.1 77.9h.6M144.9 94.9h.6M152.0 109.1h.6M137.8 108.2h.6M132.5 107.4h.6M130.8 93.3h.6M135.9 89.3h.6M121.1 97.9h.6M127.0 106.7h.6M143.0 102.5h.6M155.3 108.9h.6M149.4 94.3h.6M131.2 95.7h.6M148.0 95.3h.6M140.1 99.8h.6M132.2 95.4h.6M149.0 103.1h.6M145.3 97.3h.6M145.1 122.9h.6M142.2 93.8h.6M145.9 90.5h.6M134.3 109.9h.6M134.2 127.5h.6M131.6 101.7h.6M145.2 86.8h.6M141.4 114.7h.6M145.9 89.0h.6M134.0 103.0h.6M134.5 100.0h.6M136.9 87.1h.6M137.2 115.4h.6M134.9 108.7h.6M150.0 101.6h.6M138.8 107.8h.6M113.2 87.1h.6M131.5 99.5h.6M139.3 108.4h.6M138.5 113.8h.6M137.6 77.6h.6M135.1 110.3h.6M150.9 88.8h.6M129.8 73.7h.6M144.0 115.2h.6M145.7 119.4h.6M146.0 89.1h.6M157.2 115.3h.6M129.2 104.7h.6M131.3 115.1h.6M140.7 130.7h.6M142.1 121.4h.6M142.5 106.2h.6M131.1 87.5h.6M133.8 93.6h.6M151.6 99.3h.6M143.4 95.1h.6M143.4 109.0h.6M145.0 112.5h.6M153.7 130.2h.6M136.0 120.4h.6M140.2 85.7h.6M122.9 139.3h.6M134.2 103.8h.6M140.2 98.0h.6M143.1 78.7h.6M130.8 105.9h.6M125.0 136.8h.6M129.6 104.0h.6M118.2 112.0h.6M127.5 110.2h.6M135.9 119.1h.6M141.5 93.8h.6M150.5 92.7h.6M138.6 113.5h.6M130.2 118.0h.6M139.0 94.8h.6M133.7 110.0h.6M146.6 118.6h.6M146.8 109.6h.6M122.0 98.3h.6M134.6 134.5h.6M155.9 125.3h.6M148.1 113.5h.6M135.2 102.2h.6M109.0 86.2h.6M143.3 97.9h.6M140.5 104.9h.6M135.6 90.5h.6M144.4 119.1h.6M139.5 86.5h.6M142.2 127.8h.6M134.7 98.6h.6M135.4 93.1h.6M140.4 100.2h.6M133.9 111.5h.6M126.0 119.3h.6M125.5 88.5h.6M139.3 113.6h.6M129.2 97.8h.6M128.8 85.0h.6M130.5 87.6h.6M142.9 121.4h.6M117.5 84.6h.6M114.1 95.0h.6M138.3 104.6h.6M134.6 125.6h.6M150.0 73.4h.6M133.7 106.1h.6M123.1 106.4h.6M138.9 80.0h.6M139.3 97.5h.6M139.5 99.2h.6M139.6 111.9h.6M156.0 99.3h.6M133.2 96.1h.6M139.9 106.8h.6M135.9 119.4h.6M120.7 84.9h.6M125.3 104.5h.6M128.0 100.5h.6M133.3 102.9h.6M125.2 117.1h.6M149.0 95.0h.6M135.2 82.3h.6M127.3 100.6h.6M129.4 85.2h.6M136.5 127.3h.6M130.3 123.7h.6M126.3 88.2h.6M124.8 103.7h.6M135.7 80.2h.6M151.7 101.1h.6M110.9 96.8h.6M132.4 131.1h.6M136.2 110.7h.6M128.4 107.1h.6M155.9 119.9h.6M137.3 98.0h.6M120.4 113.6h.6M138.1 93.9h.6M125.0 95.2h.6M142.9 131.7h.6M135.9 63.1h.6M146.5 112.6h.6M127.1 93.0h.6M139.2 117.3h.6M150.5 92.7h.6M139.6 126.5h.6M123.9 131.8h.6M149.2 133.8h.6M130.2 130.9h.6M122.9 134.1h.6M104.5 119.0h.6M118.9 114.4h.6M145.2 133.9h.6M124.6 104.9h.6M124.0 112.5h.6M137.9 115.6h.6M135.9 136.9h.6M139.0 136.0h.6M134.6 160.6h.6M156.7 126.3h.6M125.7 125.9h.6M130.6 128.0h.6M135.0 115.2h.6M143.3 139.5h.6M153.1 120.0h.6M138.0 121.2h.6M146.1 131.2h.6M142.0 124.1h.6M168.6 134.4h.6M130.9 136.8h.6M152.2 137.2h.6M137.5 129.1h.6M140.3 120.5h.6M144.9 129.1h.6M150.8 118.1h.6M130.8 113.8h.6M136.4 113.2h.6M128.0 139.4h.6M109.8 115.0h.6M159.8 141.0h.6M139.4 128.5h.6M137.1 125.7h.6M129.3 129.8h.6M135.2 145.6h.6M141.6 114.7h.6M150.4 133.8h.6M140.8 124.4h.6M139.2 118.5h.6M126.5 107.9h.6M131.3 119.4h.6M137.9 119.4h.6M118.2 129.4h.6M132.4 138.0h.6M138.1 133.4h.6M154.4 126.6h.6M119.8 146.7h.6M123.6 123.0h.6M145.9 129.8h.6M112.3 125.9h.6M160.9 136.1h.6M139.9 134.2h.6M147.1 129.2h.6M143.9 135.7h.6M120.2 132.3h.6M143.9 122.7h.6M127.8 139.1h.6M135.5 124.4h.6M137.8 123.0h.6M140.0 136.9h.6M145.9 124.6h.6M138.1 129.9h.6M149.4 155.7h.6M140.9 138.4h.6M132.0 124.3h.6M142.4 124.2h.6M133.3 139.7h.6M146.1 133.3h.6M133.8 120.4h.6M134.2 136.4h.6M147.9 113.4h.6M118.9 142.9h.6M142.5 142.6h.6M132.6 146.4h.6M145.0 116.6h.6M144.2 136.0h.6M128.0 149.9h.6M142.5 134.2h.6M154.4 128.1h.6M133.7 143.3h.6M145.6 115.4h.6M162.7 129.0h.6M118.0 134.3h.6M135.5 125.2h.6M156.9 130.5h.6M136.1 139.2h.6M136.3 138.3h.6M127.0 129.3h.6M109.4 117.7h.6M145.6 114.4h.6M144.4 120.6h.6M151.0 124.5h.6M143.7 122.2h.6M127.3 158.4h.6M117.9 127.8h.6M140.3 128.5h.6M152.8 136.3h.6M141.9 116.7h.6M143.3 123.9h.6M155.8 135.8h.6M132.5 122.6h.6M135.9 140.0h.6M147.5 123.4h.6M133.3 132.2h.6M130.0 144.5h.6M133.3 141.0h.6M144.5 131.3h.6M129.7 131.3h.6M134.1 137.3h.6M140.7 125.8h.6M128.7 118.9h.6M131.9 139.9h.6M139.7 141.4h.6M140.1 132.8h.6M129.6 127.6h.6M131.9 118.6h.6M147.1 123.7h.6M132.8 126.5h.6M137.3 132.6h.6M136.2 138.4h.6M130.8 130.5h.6M144.9 133.9h.6M134.7 117.0h.6M119.7 131.2h.6M154.4 141.7h.6M135.0 123.2h.6M139.0 111.0h.6M140.7 136.8h.6M133.1 144.9h.6M126.3 137.2h.6M127.8 125.0h.6M131.3 135.9h.6M144.5 109.0h.6M134.1 130.6h.6M142.4 122.4h.6M113.4 141.2h.6M127.2 120.0h.6M138.5 150.4h.6M125.9 154.1h.6M145.0 149.4h.6M135.2 139.9h.6M134.3 122.6h.6M127.0 127.0h.6M135.5 139.7h.6M122.1 133.8h.6M146.7 123.6h.6M140.5 127.6h.6M134.2 121.7h.6M126.2 133.9h.6M141.8 129.2h.6M128.6 142.8h.6M147.8 137.2h.6M144.3 126.3h.6M130.0 143.8h.6M135.2 106.9h.6M155.5 115.5h.6M143.7 123.9h.6M147.3 135.3h.6M131.9 148.9h.6M145.2 137.9h.6M124.1 132.9h.6M144.0 129.8h.6M147.1 112.1h.6M135.0 124.0h.6M141.9 140.7h.6M133.5 133.2h.6M136.5 84.7h.6M139.3 127.6h.6M55.3 126.2h.6M154.5 98.2h.6M167.9 93.5h.6M55.2 88.4h.6M61.7 143.5h.6M95.9 83.3h.6M166.7 124.1h.6M125.6 116.9h.6M97.4 66.7h.6M111.9 125.0h.6M59.3 51.9h.6M156.7 87.7h.6M77.5 111.0h.6M131.3 110.1h.6M110.4 118.1h.6M75.4 132.1h.6M151.4 52.1h.6M155.0 129.2h.6M97.0 87.4h.6M129.8 80.7h.6M92.0 83.8h.6M51.0 62.1h.6M121.8 75.6h.6M83.2 66.0h.6M120.0 89.6h.6M130.1 106.2h.6M95.0 67.0h.6M148.2 147.8h.6M79.0 99.8h.6M92.5 127.8h.6M129.2 114.6h.6M55.3 72.8h.6M125.2 147.2h.6M114.1 93.3h.6M150.3 94.9h.6M131.4 140.8h.6M133.6 148.2h.6M144.4 61.8h.6M131.2 57.1h.6M90.1 144.3h.6M59.5 82.1h.6M156.4 55.0h.6M160.3 59.9h.6M94.4 101.7h.6M120.6 122.8h.6M164.0 120.1h.6M56.4 148.2h.6M163.0 125.0h.6M168.0 84.4h.6M50.9 95.1h.6M60.2 101.1h.6M74.8 151.5h.6M52.4 119.2h.6M64.8 84.1h.6M145.0 111.6h.6M127.4 118.1h.6M56.7 66.5h.6M96.5 86.6h.6M144.8 87.6h.6M80.0 73.9h.6M116.0 99.1h.6M92.4 137.2h.6M68.5 71.0h.6M160.3 135.2h.6M69.4 53.2h.6M116.5 55.9h.6M117.4 141.6h.6M132.4 67.1h.6M122.8 61.0h.6M128.7 102.0h.6M168.0 104.7h.6M170.0 59.8h.6M123.6 51.2h.6M90.3 147.6h.6M155.6 78.9h.6M136.6 95.4h.6M160.8 85.1h.6M84.5 68.1h.6M51.1 104.9h.6M98.5 60.9h.6M100.2 96.3h.6M111.5 149.0h.6M165.4 60.4h.6M147.9 92.1h.6M149.8 114.4h.6M133.1 69.8h.6M70.3 130.1h.6M74.3 134.6h.6M106.6 50.0h.6M86.9 53.7h.6M125.9 61.4h.6M86.3 107.8h.6M62.9 63.6h.6M56.5 105.1h.6M60.3 122.4h.6M66.4 99.7h.6M114.6 110.4h.6M134.7 70.9h.6M111.3 68.4h.6M95.6 80.2h.6M104.8 88.7h.6M82.1 115.2h.6M110.6 61.5h.6M99.7 94.6h.6M166.0 105.2h.6M157.0 78.9h.6M90.9 141.0h.6M91.1 132.6h.6M90.8 69.2h.6M110.6 98.0h.6M67.2 111.4h.6M154.9 73.4h.6M83.8 111.0h.6M53.3 61.0h.6M154.5 94.8h.6M116.0 135.7h.6M55.8 134.8h.6M113.9 90.4h.6M120.9 78.6h.6M91.6 115.3h.6M65.3 126.3h.6M140.0 95.3h.6M44.3 59.2h.6M125.8 85.1h.6M158.6 124.9h.6M154.8 148.4h.6M157.7 127.3h.6M74.3 82.3h.6M97.6 120.8h.6M102.8 135.0h.6M105.6 85.6h.6M94.6 80.9h.6M123.3 118.5h.6M128.5 79.4h.6M144.3 143.1h.6M77.2 120.2h.6M98.6 71.7h.6M46.9 71.3h.6M45.5 75.4h.6M69.8 128.0h.6M68.9 51.0h.6M91.0 86.9h.6M77.2 108.4h.6M44.0 125.3h.6M135.9 82.7h.6M69.7 103.5h.6M167.2 139.2h.6M79.8 57.1h.6M110.5 51.7h.6M50.0 104.9h.6M89.9 103.7h.6M146.3 149.5h.6M138.3 118.6h.6M150.8 123.8h.6M93.3 91.0h.6M81.8 110.7h.6M45.9 107.2h.6M50.6 124.9h.6M130.8 113.9h.6M96.6 70.4h.6M126.4 71.9h.6M77.0 118.5h.6M91.1 65.1h.6M89.7 108.7h.6M107.7 134.4h.6M89.0 58.6h.6M75.6 140.3h.6M101.8 70.5h.6M90.9 66.0h.6M94.8 54.2h.6M144.1 142.6h.6M141.6 77.3h.6M82.3 86.4h.6M154.4 98.8h.6M117.5 82.2h.6M126.7 114.3h.6M74.6 149.5h.6M106.9 96.2h.6M71.2 71.5h.6M114.7 102.8h.6M127.6 69.0h.6M120.0 86.8h.6M85.1 95.2h.6M56.1 53.8h.6M151.7 129.2h.6M145.6 103.5h.6M74.9 129.5h.6M168.3 91.5h.6M61.3 149.8h.6M129.8 96.2h.6M134.0 97.6h.6M57.4 55.8h.6M89.9 104.1h.6M130.2 92.0h.6M55.7 94.4h.6M44.4 75.4h.6M44.8 67.5h.6M54.7 85.9h.6M124.6 73.9h.6M92.1 92.3h.6M137.4 65.3h.6M112.2 140.6h.6M126.1 66.6h.6M88.8 108.9h.6M166.1 117.7h.6M70.8 66.7h.6M58.0 65.5h.6M150.4 142.8h.6M153.5 100.9h.6M48.7 54.7h.6M140.6 67.0h.6M136.4 142.4h.6M71.2 72.1h.6M90.8 99.6h.6M135.2 142.0h.6M146.2 66.8h.6M127.3 57.2h.6M51.7 116.9h.6M50.6 101.1h.6M84.9 127.7h.6M79.0 51.3h.6M128.9 87.1h.6M87.9 132.1h.6M137.9 113.7h.6M113.4 148.3h.6M113.7 146.9h.6M160.8 142.3h.6M85.5 114.5h.6M54.8 58.6h.6M122.5 71.4h.6M151.9 135.7h.6M95.5 104.1h.6M141.6 127.1h.6M95.2 101.3h.6M103.7 94.2h.6M120.2 102.2h.6M127.9 82.5h.6M96.6 121.0h.6M160.8 58.8h.6M105.7 127.4h.6M140.6 112.8h.6M47.9 118.4h.6M169.1 147.6h.6M148.9 124.0h.6M74.5 51.6h.6M132.2 113.7h.6M91.6 88.0h.6M51.4 134.7h.6M108.3 111.2h.6M102.5 123.5h.6M130.5 127.3h.6M116.7 72.0h.6M161.8 96.4h.6M106.1 147.0h.6M57.4 119.9h.6M59.5 119.4h.6M162.1 50.7h.6M127.1 71.1h.6M141.5 91.4h.6M86.0 148.4h.6M85.5 53.8h.6M62.9 102.6h.6M99.8 89.7h.6M142.9 90.3h.6M128.2 92.7h.6M140.5 81.5h.6M44.1 110.3h.6M141.4 113.9h.6M136.7 61.3h.6M103.3 57.2h.6M60.2 71.8h.6M119.4 108.8h.6M96.9 126.5h.6M127.0 100.5h.6M143.6 66.3h.6M103.1 90.6h.6M78.9 51.0h.6M138.5 65.7h.6M113.7 120.3h.6M64.6 115.4h.6M67.3 125.0h.6M140.1 124.6h.6M44.0 79.3h.6M152.4 72.0h.6M112.3 80.5h.6M136.9 70.9h.6M120.2 127.8h.6M86.8 61.4h.6M45.5 85.5h.6M65.2 50.8h.6M108.6 75.7h.6M102.1 52.7h.6M109.8 113.6h.6M96.6 121.9h.6M48.7 127.7h.6M105.7 150.6h.6M155.3 149.5h.6M106.3 149.5h.6M80.6 96.6h.6M89.4 80.4h.6M161.4 67.0h.6M48.0 102.7h.6M95.4 100.5h.6M117.9 149.8h.6M160.9 121.1h.6M130.2 80.5h.6M61.0 140.0h.6M53.7 101.3h.6M52.7 57.1h.6M104.3 126.5h.6M131.9 140.3h.6M136.8 91.7h.6M124.1 87.5h.6M87.8 95.2h.6M111.4 51.0h.6M54.5 120.6h.6M56.3 151.6h.6M48.1 114.5h.6M51.0 106.7h.6M144.7 128.9h.6M79.0 73.6h.6M145.1 116.5h.6M117.6 72.4h.6M59.0 85.3h.6M48.5 81.8h.6M44.2 138.9h.6M163.3 77.8h.6M88.7 143.1h.6M83.1 55.5h.6M130.0 112.1h.6M96.2 134.5h.6M131.6 52.0h.6M81.9 126.9h.6M102.7 67.4h.6M152.8 104.4h.6M65.7 64.0h.6M70.5 81.5h.6M62.7 76.9h.6M56.8 98.2h.6M165.2 135.5h.6M125.9 63.2h.6M50.4 101.2h.6M66.9 106.8h.6M106.9 61.8h.6M99.9 110.7h.6M149.3 138.0h.6M47.2 104.5h.6M64.7 56.9h.6M101.3 106.4h.6M61.9 95.1h.6M64.7 121.5h.6M85.2 119.7h.6M58.1 89.4h.6M61.4 146.3h.6M46.0 81.2h.6M53.1 125.8h.6M100.1 100.9h.6M74.6 108.6h.6M136.5 68.2h.6M118.1 97.4h.6M146.3 81.4h.6M131.4 109.6h.6M151.9 114.2h.6M71.4 80.0h.6M78.9 127.1h.6M136.3 151.6h.6M105.5 60.3h.6M61.8 141.1h.6M44.6 106.1h.6M69.9 111.4h.6M135.8 109.5h.6M130.0 150.0h.6M133.1 67.3h.6M58.3 108.1h.6M113.1 147.9h.6M49.6 149.5h.6M156.4 92.4h.6M143.4 125.4h.6M129.1 138.7h.6M56.4 132.6h.6M88.3 127.2h.6M90.2 91.1h.6M49.3 69.7h.6M88.3 93.6h.6M135.1 140.7h.6M100.9 123.7h.6M168.7 144.2h.6M127.6 107.7h.6M121.0 138.2h.6M69.4 118.1h.6M136.0 116.1h.6M120.0 125.6h.6M111.6 75.5h.6M166.9 130.4h.6M113.3 127.7h.6M159.9 132.6h.6M59.8 76.4h.6M81.1 62.0h.6M124.4 115.7h.6M132.7 120.4h.6M155.2 72.6h.6M129.4 149.9h.6M47.4 63.9h.6M150.9 88.6h.6M159.8 87.4h.6M122.1 65.1h.6M114.2 94.8h.6M97.7 131.4h.6M68.1 134.3h.6M125.2 64.0h.6M163.3 147.9h.6M88.7 145.8h.6M133.0 78.7h.6M50.6 85.9h.6M56.1 143.0h.6M52.9 137.4h.6M107.4 122.5h.6M69.5 64.1h.6M65.4 133.4h.6M99.4 128.6h.6M90.3 57.6h.6M116.6 97.0h.6M89.3 110.3h.6M52.7 89.6h.6M140.0 131.8h.6M63.3 151.4h.6M159.0 71.1h.6M89.8 67.2h.6M132.4 95.8h.6M116.3 142.0h.6M54.0 129.5h.6M128.0 107.2h.6M138.7 107.3h.6M124.1 140.6h.6M152.9 139.0h.6M157.1 130.8h.6M160.5 138.7h.6M80.1 80.6h.6M108.2 105.5h.6M168.0 100.5h.6M141.3 128.8h.6M97.4 84.4h.6M144.0 131.6h.6M104.5 85.2h.6M138.6 85.7h.6M143.4 73.1h.6M134.7 123.2h.6M82.0 63.2h.6M89.0 86.1h.6M107.4 120.6h.6M157.9 90.9h.6M131.4 110.7h.6M164.6 129.9h.6M47.1 104.8h.6M152.7 106.3h.6M46.7 94.7h.6M125.9 132.6h.6M140.8 94.9h.6M147.0 112.8h.6M166.6 74.8h.6M87.1 61.2h.6M52.5 129.1h.6M93.0 82.3h.6M108.6 119.8h.6M49.0 86.0h.6M159.4 131.4h.6M155.2 138.3h.6M91.6 96.8h.6M102.1 129.5h.6M115.3 125.7h.6M109.3 145.3h.6M161.2 123.0h.6M112.6 95.8h.6M50.3 56.6h.6M72.1 59.7h.6M85.1 138.6h.6M89.9 89.4h.6M123.3 104.5h.6M90.5 51.8h.6M64.7 69.1h.6M124.0 148.5h.6M60.7 145.1h.6M116.5 63.8h.6M83.4 133.1h.6M158.1 94.1h.6M161.0 78.4h.6M91.1 54.8h.6M67.5 87.7h.6M143.8 121.8h.6M165.0 98.4h.6M136.3 76.7h.6M157.4 93.6h.6M111.1 63.6h.6M160.9 123.1h.6M163.1 69.9h.6M91.5 83.8h.6M55.1 108.3h.6M65.2 95.3h.6" stroke="#000" stroke-width=".6" opacity=".45" fill="none"/>
</g>
<line x1="43.40" y1="24.70" x2="170.60" y2="24.70" stroke="#777" stroke-width="0.7"/>
<line x1="170.60" y1="24.70" x2="170.60" y2="152.00" stroke="#777" stroke-width="0.7"/>
<line x1="43.40" y1="24.70" x2="43.40" y2="152.00" stroke="#444" stroke-width="0.8"/>
<line x1="42.90" y1="152.00" x2="170.60" y2="152.00" stroke="#222" stroke-width="1.3"/>
<line x1="43.40" y1="152.00" x2="43.40" y2="154.47" stroke="#444" stroke-width="0.5"/>
<line x1="40.10" y1="152.00" x2="43.40" y2="152.00" stroke="#333" stroke-width="0.6"/>
<line x1="53.00" y1="152.00" x2="53.00" y2="153.43" stroke="#444" stroke-width="0.5"/>
<line x1="41.50" y1="142.40" x2="43.40" y2="142.40" stroke="#333" stroke-width="0.6"/>
<line x1="58.60" y1="152.00" x2="58.60" y2="153.43" stroke="#444" stroke-width="0.5"/>
<line x1="41.50" y1="136.80" x2="43.40" y2="136.80" stroke="#333" stroke-width="0.6"/>
<line x1="62.50" y1="152.00" x2="62.50" y2="153.43" stroke="#444" stroke-width="0.5"/>
<line x1="41.50" y1="132.80" x2="43.40" y2="132.80" stroke="#333" stroke-width="0.6"/>
<line x1="65.60" y1="152.00" x2="65.60" y2="153.43" stroke="#444" stroke-width="0.5"/>
<line x1="41.50" y1="129.80" x2="43.40" y2="129.80" stroke="#333" stroke-width="0.6"/>
<line x1="68.10" y1="152.00" x2="68.10" y2="153.43" stroke="#444" stroke-width="0.5"/>
<line x1="41.50" y1="127.20" x2="43.40" y2="127.20" stroke="#333" stroke-width="0.6"/>
<line x1="70.30" y1="152.00" x2="70.30" y2="153.43" stroke="#444" stroke-width="0.5"/>
<line x1="41.50" y1="125.10" x2="43.40" y2="125.10" stroke="#333" stroke-width="0.6"/>
<line x1="72.10" y1="152.00" x2="72.10" y2="153.43" stroke="#444" stroke-width="0.5"/>
<line x1="41.50" y1="123.30" x2="43.40" y2="123.30" stroke="#333" stroke-width="0.6"/>
<line x1="73.70" y1="152.00" x2="73.70" y2="153.43" stroke="#444" stroke-width="0.5"/>
<line x1="41.50" y1="121.60" x2="43.40" y2="121.60" stroke="#333" stroke-width="0.6"/>
<line x1="75.20" y1="152.00" x2="75.20" y2="154.47" stroke="#444" stroke-width="0.5"/>
<line x1="40.10" y1="120.20" x2="43.40" y2="120.20" stroke="#333" stroke-width="0.6"/>
<line x1="84.80" y1="152.00" x2="84.80" y2="153.43" stroke="#444" stroke-width="0.5"/>
<line x1="41.50" y1="110.60" x2="43.40" y2="110.60" stroke="#333" stroke-width="0.6"/>
<line x1="90.40" y1="152.00" x2="90.40" y2="153.43" stroke="#444" stroke-width="0.5"/>
<line x1="41.50" y1="105.00" x2="43.40" y2="105.00" stroke="#333" stroke-width="0.6"/>
<line x1="94.30" y1="152.00" x2="94.30" y2="153.43" stroke="#444" stroke-width="0.5"/>
<line x1="41.50" y1="101.00" x2="43.40" y2="101.00" stroke="#333" stroke-width="0.6"/>
<line x1="97.40" y1="152.00" x2="97.40" y2="153.43" stroke="#444" stroke-width="0.5"/>
<line x1="41.50" y1="97.90" x2="43.40" y2="97.90" stroke="#333" stroke-width="0.6"/>
<line x1="99.90" y1="152.00" x2="99.90" y2="153.43" stroke="#444" stroke-width="0.5"/>
<line x1="41.50" y1="95.40" x2="43.40" y2="95.40" stroke="#333" stroke-width="0.6"/>
<line x1="102.10" y1="152.00" x2="102.10" y2="153.43" stroke="#444" stroke-width="0.5"/>
<line x1="41.50" y1="93.30" x2="43.40" y2="93.30" stroke="#333" stroke-width="0.6"/>
<line x1="103.90" y1="152.00" x2="103.90" y2="153.43" stroke="#444" stroke-width="0.5"/>
<line x1="41.50" y1="91.40" x2="43.40" y2="91.40" stroke="#333" stroke-width="0.6"/>
<line x1="105.50" y1="152.00" x2="105.50" y2="153.43" stroke="#444" stroke-width="0.5"/>
<line x1="41.50" y1="89.80" x2="43.40" y2="89.80" stroke="#333" stroke-width="0.6"/>
<line x1="107.00" y1="152.00" x2="107.00" y2="154.47" stroke="#444" stroke-width="0.5"/>
<line x1="40.10" y1="88.40" x2="43.40" y2="88.40" stroke="#333" stroke-width="0.6"/>
<line x1="116.60" y1="152.00" x2="116.60" y2="153.43" stroke="#444" stroke-width="0.5"/>
<line x1="41.50" y1="78.80" x2="43.40" y2="78.80" stroke="#333" stroke-width="0.6"/>
<line x1="122.20" y1="152.00" x2="122.20" y2="153.43" stroke="#444" stroke-width="0.5"/>
<line x1="41.50" y1="73.20" x2="43.40" y2="73.20" stroke="#333" stroke-width="0.6"/>
<line x1="126.10" y1="152.00" x2="126.10" y2="153.43" stroke="#444" stroke-width="0.5"/>
<line x1="41.50" y1="69.20" x2="43.40" y2="69.20" stroke="#333" stroke-width="0.6"/>
<line x1="129.20" y1="152.00" x2="129.20" y2="153.43" stroke="#444" stroke-width="0.5"/>
<line x1="41.50" y1="66.10" x2="43.40" y2="66.10" stroke="#333" stroke-width="0.6"/>
<line x1="131.70" y1="152.00" x2="131.70" y2="153.43" stroke="#444" stroke-width="0.5"/>
<line x1="41.50" y1="63.60" x2="43.40" y2="63.60" stroke="#333" stroke-width="0.6"/>
<line x1="133.90" y1="152.00" x2="133.90" y2="153.43" stroke="#444" stroke-width="0.5"/>
<line x1="41.50" y1="61.50" x2="43.40" y2="61.50" stroke="#333" stroke-width="0.6"/>
<line x1="135.70" y1="152.00" x2="135.70" y2="153.43" stroke="#444" stroke-width="0.5"/>
<line x1="41.50" y1="59.60" x2="43.40" y2="59.60" stroke="#333" stroke-width="0.6"/>
<line x1="137.30" y1="152.00" x2="137.30" y2="153.43" stroke="#444" stroke-width="0.5"/>
<line x1="41.50" y1="58.00" x2="43.40" y2="58.00" stroke="#333" stroke-width="0.6"/>
<line x1="138.80" y1="152.00" x2="138.80" y2="154.47" stroke="#444" stroke-width="0.5"/>
<line x1="40.10" y1="56.50" x2="43.40" y2="56.50" stroke="#333" stroke-width="0.6"/>
<line x1="148.40" y1="152.00" x2="148.40" y2="153.43" stroke="#444" stroke-width="0.5"/>
<line x1="41.50" y1="46.90" x2="43.40" y2="46.90" stroke="#333" stroke-width="0.6"/>
<line x1="154.00" y1="152.00" x2="154.00" y2="153.43" stroke="#444" stroke-width="0.5"/>
<line x1="41.50" y1="41.30" x2="43.40" y2="41.30" stroke="#333" stroke-width="0.6"/>
<line x1="157.90" y1="152.00" x2="157.90" y2="153.43" stroke="#444" stroke-width="0.5"/>
<line x1="41.50" y1="37.40" x2="43.40" y2="37.40" stroke="#333" stroke-width="0.6"/>
<line x1="161.00" y1="152.00" x2="161.00" y2="153.43" stroke="#444" stroke-width="0.5"/>
<line x1="41.50" y1="34.30" x2="43.40" y2="34.30" stroke="#333" stroke-width="0.6"/>
<line x1="163.50" y1="152.00" x2="163.50" y2="153.43" stroke="#444" stroke-width="0.5"/>
<line x1="41.50" y1="31.80" x2="43.40" y2="31.80" stroke="#333" stroke-width="0.6"/>
<line x1="165.70" y1="152.00" x2="165.70" y2="153.43" stroke="#444" stroke-width="0.5"/>
<line x1="41.50" y1="29.60" x2="43.40" y2="29.60" stroke="#333" stroke-width="0.6"/>
<line x1="167.50" y1="152.00" x2="167.50" y2="153.43" stroke="#444" stroke-width="0.5"/>
<line x1="41.50" y1="27.80" x2="43.40" y2="27.80" stroke="#333" stroke-width="0.6"/>
<line x1="169.10" y1="152.00" x2="169.10" y2="153.43" stroke="#444" stroke-width="0.5"/>
<line x1="41.50" y1="26.20" x2="43.40" y2="26.20" stroke="#333" stroke-width="0.6"/>
<rect x="57.70" y="56.40" width="47.90" height="29.80" fill="none" stroke="#505050" stroke-width="0.75"/>
<rect x="57.70" y="87.00" width="39.80" height="36.20" fill="none" stroke="#505050" stroke-width="0.75"/>
<rect x="105.60" y="56.30" width="52.70" height="33.90" fill="none" stroke="#505050" stroke-width="0.75"/>
<rect x="106.60" y="90.40" width="44.00" height="23.60" fill="none" stroke="#505050" stroke-width="0.75"/>
<rect x="106.60" y="114.00" width="44.00" height="27.80" fill="none" stroke="#505050" stroke-width="0.75"/>
<text x="110.8" y="51.7" font-size="8.2" text-anchor="start" font-weight="normal" fill="#000" stroke="#000" stroke-width="0.18">R3</text>
<text x="45.6" y="77" font-size="8.2" text-anchor="start" font-weight="normal" fill="#000" stroke="#000" stroke-width="0.18">R2</text>
<text x="45.6" y="110" font-size="8.2" text-anchor="start" font-weight="normal" fill="#000" stroke="#000" stroke-width="0.18">R1</text>
<text x="155.4" y="104.4" font-size="8.2" text-anchor="start" font-weight="normal" fill="#000" stroke="#000" stroke-width="0.18">R4</text>
<text x="155.4" y="130" font-size="8.2" text-anchor="start" font-weight="normal" fill="#000" stroke="#000" stroke-width="0.18">R5</text>
<text x="108.7" y="19.8" font-size="8.5" text-anchor="middle" font-weight="normal" fill="#000" stroke="#000" stroke-width="0.18">wild-type</text>
<line x1="36.80" y1="157.70" x2="36.80" y2="117.20" stroke="#000" stroke-width="1.1"/>
<path d="M33.8 117.6L36.8 112.19999999999999L39.8 117.6z" fill="#000"/>
<line x1="36.30" y1="157.20" x2="77.80" y2="157.20" stroke="#000" stroke-width="1.1"/>
<path d="M77.4 154.2L82.8 157.2L77.4 160.2z" fill="#000"/>
<text x="35.0" y="156.2" font-size="8" text-anchor="start" font-weight="normal" fill="#000" stroke="#000" stroke-width="0.18" transform="rotate(-90 35.0 156.2)">TfR-1</text>
<text x="38.0" y="166.6" font-size="8.7" text-anchor="start" font-weight="normal" fill="#000" stroke="#000" stroke-width="0.18">Ter 119</text>
<rect x="195.90" y="24.70" width="128.10" height="127.30" fill="#fff" stroke="none" stroke-width="1"/>
<clipPath id="cp2"><rect x="195.9" y="24.7" width="128.1" height="128.3"/></clipPath>
<g clip-path="url(#cp2)">
<ellipse cx="283" cy="82" rx="21" ry="13" fill="#000" opacity=".55" filter="url(#bl4)"/>
<polygon points="278,74 299,72 298,86 292,99 284,92" fill="#000" opacity="1" filter="url(#bl3)"/>
<polygon points="281,76 297,74.5 296,86 291.5,96 285,89" fill="#000" opacity="1" filter="url(#bl2)"/>
<polygon points="283,78 295,77 294,86 291,93 286,88" fill="#000" opacity="1" filter="url(#bl2)"/>
<path d="M223 154L225 124Q229 100 251 91T282 82" fill="none" stroke="#000" stroke-width="11" opacity=".28" filter="url(#bl3)"/>
<path d="M273.6 95.3h.6M227.3 87.8h.6M226.0 115.4h.6M273.7 81.5h.6M234.1 93.2h.6M228.4 128.0h.6M223.2 132.8h.6M264.7 80.8h.6M268.3 94.8h.6M223.2 118.9h.6M249.1 74.6h.6M227.9 95.9h.6M244.8 94.3h.6M223.1 114.3h.6M270.2 64.7h.6M233.5 92.7h.6M226.0 151.6h.6M248.4 84.6h.6M244.1 97.6h.6M230.2 100.3h.6M219.5 154.1h.6M272.4 78.0h.6M269.9 90.8h.6M225.5 125.9h.6M259.1 89.9h.6M224.9 110.0h.6M256.5 97.5h.6M277.4 96.1h.6M218.2 154.1h.6M245.9 97.8h.6M223.4 130.3h.6M265.7 87.4h.6M247.2 89.4h.6M278.4 90.8h.6M234.7 122.8h.6M223.7 141.1h.6M253.8 91.1h.6M268.9 81.6h.6M253.4 87.1h.6M245.6 89.3h.6M254.8 73.1h.6M233.8 103.4h.6M227.4 168.7h.6M220.0 151.7h.6M261.7 75.2h.6M230.6 125.5h.6M252.2 93.6h.6M222.6 126.9h.6M224.4 98.6h.6M241.5 92.5h.6M234.9 105.5h.6M225.7 145.8h.6M228.7 97.1h.6M243.1 98.9h.6M209.3 110.9h.6M252.5 93.6h.6M259.4 89.3h.6M215.6 105.1h.6M286.9 74.4h.6M253.5 78.5h.6M232.1 108.8h.6M260.9 87.9h.6M262.9 89.8h.6M270.8 81.9h.6M221.4 128.9h.6M214.9 152.5h.6M224.8 111.2h.6M232.0 116.3h.6M225.5 129.6h.6M226.0 107.1h.6M262.5 93.3h.6M244.1 99.7h.6M246.2 99.3h.6M272.3 76.8h.6M224.2 112.7h.6M220.0 144.7h.6M253.9 88.2h.6M261.0 95.0h.6M236.3 102.2h.6M221.7 149.4h.6M261.5 92.1h.6M222.5 139.8h.6M245.8 88.7h.6M243.6 112.1h.6M241.0 97.7h.6M224.8 109.5h.6M291.5 86.5h.6M228.2 111.8h.6M230.9 105.2h.6M249.7 101.6h.6M225.4 119.7h.6M224.1 133.3h.6M232.7 115.6h.6M249.3 99.8h.6M268.0 80.7h.6M264.5 85.6h.6M262.2 92.0h.6M272.2 90.8h.6M223.9 159.8h.6M241.1 92.0h.6M253.9 89.1h.6M253.8 79.3h.6M258.5 74.6h.6M251.2 93.9h.6M273.1 87.9h.6M230.4 129.9h.6M258.2 94.1h.6M223.7 146.6h.6M256.8 86.2h.6M275.1 93.7h.6M247.8 94.6h.6M277.0 82.3h.6M216.1 164.5h.6M281.6 75.7h.6M231.4 102.9h.6M231.9 102.3h.6M222.6 150.7h.6M280.6 87.5h.6M223.0 121.5h.6M237.3 94.6h.6M233.0 111.8h.6M227.4 126.6h.6M266.4 82.2h.6M242.1 79.6h.6M231.8 99.1h.6M234.8 112.6h.6M240.7 102.7h.6M228.7 123.0h.6M263.1 87.5h.6M232.2 100.2h.6M240.6 89.4h.6M242.5 100.0h.6M223.1 108.9h.6M268.0 87.5h.6M228.2 101.5h.6M240.1 91.3h.6M274.0 90.3h.6M232.2 123.2h.6M286.5 104.5h.6M266.6 94.5h.6M225.5 150.8h.6M236.9 95.3h.6M274.3 93.7h.6M245.1 109.9h.6M270.9 77.4h.6M255.3 87.1h.6M245.9 78.1h.6M235.4 97.9h.6M229.2 98.5h.6M238.1 106.8h.6M233.0 154.7h.6M257.5 77.4h.6M228.7 94.7h.6M267.1 85.7h.6M255.3 81.2h.6M234.6 97.0h.6M239.8 101.0h.6M218.0 108.4h.6M252.5 88.7h.6M245.2 107.8h.6M220.1 118.6h.6M254.1 107.8h.6M214.0 157.4h.6M273.1 82.9h.6M272.4 71.5h.6M266.9 87.6h.6M247.9 80.9h.6M253.1 84.4h.6M226.2 111.1h.6M251.0 79.5h.6M245.8 102.2h.6M274.3 79.4h.6M269.1 83.7h.6M256.9 91.5h.6M232.4 125.0h.6M236.7 88.3h.6M221.4 144.8h.6M269.9 84.9h.6M258.9 81.9h.6M233.0 96.6h.6M281.4 68.2h.6M271.4 82.1h.6M227.6 142.5h.6M290.1 80.3h.6M225.4 122.5h.6M220.0 107.4h.6M235.7 97.8h.6M217.6 99.9h.6M224.9 112.2h.6M239.1 97.8h.6M235.4 124.7h.6M244.6 115.0h.6M247.4 98.2h.6M271.5 78.5h.6M270.6 82.3h.6M224.7 103.0h.6M257.5 90.3h.6M252.6 89.2h.6M273.3 81.6h.6M222.6 130.0h.6M217.3 156.0h.6M225.4 121.0h.6M226.2 116.3h.6M236.9 138.4h.6M245.9 95.5h.6M245.8 113.1h.6M235.1 88.2h.6M265.4 78.5h.6M226.9 122.4h.6M209.3 128.0h.6M253.0 87.4h.6M230.2 123.9h.6M249.7 74.3h.6M217.7 111.1h.6M218.6 96.3h.6M268.8 91.8h.6M212.4 139.9h.6M230.2 106.2h.6M221.4 127.9h.6M247.0 97.7h.6M280.3 86.9h.6M212.4 122.3h.6M237.3 87.3h.6M269.7 69.1h.6M252.0 107.9h.6M237.9 97.1h.6M259.5 88.0h.6M244.8 90.9h.6M238.4 112.5h.6M241.0 88.0h.6M234.6 100.0h.6M260.2 81.1h.6M269.5 95.3h.6M260.2 84.4h.6M253.4 81.5h.6M227.3 99.3h.6M257.8 67.8h.6M261.9 77.2h.6M241.6 89.6h.6M231.7 117.8h.6M275.8 82.4h.6M257.1 84.8h.6M266.8 77.8h.6M246.6 98.1h.6M259.2 75.8h.6M238.4 98.3h.6M213.1 124.4h.6M224.6 152.2h.6M230.6 147.7h.6M243.2 86.1h.6M262.9 81.6h.6M274.2 91.2h.6M259.1 96.9h.6M242.7 99.4h.6M226.7 124.7h.6M227.2 118.9h.6M221.1 154.2h.6M254.6 81.3h.6M251.6 95.4h.6M226.4 105.1h.6M270.6 81.8h.6M225.7 119.6h.6M259.2 95.7h.6M219.1 125.4h.6M272.3 82.6h.6M264.3 80.2h.6M247.3 92.4h.6M246.7 93.5h.6M230.5 96.9h.6M254.1 97.2h.6M239.7 122.3h.6M253.9 87.2h.6M273.0 92.7h.6M234.3 107.5h.6M246.3 95.3h.6M258.0 102.9h.6M230.4 106.5h.6M261.8 91.7h.6M276.7 68.8h.6M273.9 76.6h.6M253.0 85.2h.6M269.7 85.3h.6M234.4 158.7h.6M278.9 84.8h.6M277.7 96.1h.6M214.7 120.7h.6M256.7 86.3h.6M229.9 123.7h.6M265.6 69.4h.6M232.3 132.2h.6M230.9 104.1h.6M254.1 80.0h.6M256.6 78.9h.6M249.2 87.5h.6M252.2 85.3h.6M275.3 78.1h.6M225.5 137.1h.6M243.3 96.8h.6M276.3 64.0h.6M217.5 128.8h.6M217.0 140.0h.6M259.3 87.8h.6M265.4 82.4h.6M266.6 73.7h.6M214.5 121.5h.6M233.2 93.3h.6M234.7 108.5h.6M237.8 106.4h.6M277.8 84.8h.6M218.7 109.6h.6M238.5 103.7h.6M255.4 94.8h.6M272.0 75.2h.6M213.7 137.8h.6M261.8 79.3h.6M275.4 87.0h.6M259.5 91.8h.6M222.8 105.0h.6M271.2 75.1h.6M258.8 101.2h.6M238.8 115.6h.6M226.3 145.8h.6M221.7 126.4h.6M242.8 97.7h.6M262.7 93.2h.6M226.5 153.4h.6M225.9 120.4h.6M228.0 126.1h.6M235.2 123.4h.6M249.7 86.8h.6M240.0 98.5h.6M214.1 151.8h.6M233.9 139.0h.6M248.8 88.7h.6M252.9 88.5h.6M274.5 80.1h.6M220.7 124.3h.6M277.6 72.1h.6M259.1 64.4h.6M239.4 89.7h.6M229.3 124.2h.6M239.8 95.8h.6M227.8 106.1h.6M272.3 76.5h.6M224.4 160.4h.6M257.4 77.1h.6M243.4 98.2h.6M271.9 72.5h.6M260.1 88.1h.6M234.7 94.0h.6M273.6 88.4h.6M233.5 90.0h.6M218.3 109.1h.6M278.9 75.9h.6M243.6 107.4h.6M223.6 105.7h.6M225.0 84.7h.6M221.2 107.4h.6M270.2 84.6h.6M257.0 86.0h.6M235.8 99.2h.6M241.4 95.8h.6M254.7 87.4h.6M224.6 129.3h.6M273.0 77.7h.6M227.0 130.1h.6M281.4 93.0h.6M229.4 109.7h.6M282.0 88.4h.6M274.3 80.7h.6M225.4 104.4h.6M219.5 103.4h.6M260.8 79.0h.6M242.1 91.8h.6M245.9 107.0h.6M222.5 107.0h.6M260.2 88.3h.6M270.5 88.9h.6M225.2 144.9h.6M231.6 112.8h.6M222.6 161.7h.6M220.2 102.7h.6M262.0 89.3h.6M215.3 126.9h.6M231.3 96.3h.6M219.2 125.5h.6M245.9 97.5h.6M245.4 82.8h.6M230.1 87.3h.6M256.4 76.4h.6M228.1 122.0h.6M267.0 76.5h.6M254.9 106.2h.6M285.1 82.0h.6M274.9 90.9h.6M256.0 89.0h.6M226.2 157.3h.6M280.3 93.4h.6M271.4 80.2h.6M281.4 84.6h.6M224.5 122.5h.6M284.4 84.9h.6M234.0 89.0h.6M221.9 142.8h.6M220.9 115.1h.6M239.0 91.7h.6M272.8 89.8h.6M219.4 137.8h.6M231.9 112.8h.6M224.5 99.7h.6M278.5 76.8h.6M221.6 103.9h.6M232.0 98.7h.6M276.4 92.4h.6M245.6 93.3h.6M269.8 92.1h.6M246.8 98.0h.6M228.4 110.0h.6M260.3 83.6h.6M259.1 84.9h.6M233.0 142.9h.6M242.7 111.3h.6M276.4 85.6h.6M219.4 121.0h.6M244.8 94.1h.6M227.4 128.8h.6M261.5 82.4h.6M253.6 79.4h.6M217.8 142.2h.6M250.8 80.6h.6M284.7 79.4h.6M248.2 99.5h.6M231.3 127.2h.6M271.5 81.4h.6M254.0 78.6h.6M228.4 136.7h.6M231.9 100.9h.6M271.5 88.5h.6M243.3 87.6h.6M266.4 97.5h.6M276.0 93.9h.6M236.4 108.9h.6M267.9 91.6h.6M212.9 111.0h.6M230.8 120.0h.6M243.8 114.0h.6M272.3 80.6h.6M221.0 150.0h.6M245.5 83.8h.6M249.0 97.7h.6M212.1 140.3h.6M266.0 74.2h.6M215.4 157.6h.6M270.9 79.8h.6M231.4 93.9h.6M229.6 107.0h.6M271.6 81.6h.6M240.4 99.3h.6M232.3 95.0h.6M244.3 82.6h.6M223.1 110.4h.6M238.4 113.7h.6M259.6 80.1h.6M219.6 115.4h.6M245.5 90.9h.6M248.3 87.1h.6M211.6 132.9h.6M230.3 115.9h.6M219.8 106.3h.6M246.9 102.3h.6M242.2 103.7h.6M260.6 96.3h.6M232.5 159.3h.6M279.8 82.0h.6M222.0 113.7h.6M233.6 115.2h.6M272.3 79.9h.6M262.9 81.6h.6M218.9 147.4h.6M210.2 113.5h.6M279.6 81.9h.6M243.5 75.5h.6M253.6 83.2h.6M218.7 110.0h.6M254.5 82.5h.6M263.1 82.4h.6M267.3 80.2h.6M244.7 104.2h.6M247.8 94.7h.6M269.5 92.8h.6M283.2 73.1h.6M242.1 107.7h.6M279.1 78.3h.6M263.0 98.6h.6M238.0 97.7h.6M235.0 129.1h.6M219.0 129.7h.6M236.6 111.7h.6M285.2 76.1h.6M234.1 111.9h.6M241.5 142.4h.6M221.1 157.3h.6M233.0 99.8h.6M232.7 88.7h.6M233.3 118.6h.6M259.4 82.6h.6M235.6 104.6h.6M252.2 85.4h.6M261.7 76.7h.6M264.2 96.5h.6M241.6 112.2h.6M231.3 102.6h.6M228.5 126.1h.6M272.4 78.7h.6M214.0 141.3h.6M234.5 140.8h.6M228.9 121.6h.6M262.8 88.0h.6M277.4 87.3h.6M231.0 107.3h.6M245.5 103.8h.6M265.4 95.4h.6M250.3 89.4h.6M245.3 89.0h.6M243.5 87.4h.6M246.7 108.6h.6M225.9 127.1h.6M264.4 77.4h.6M247.4 94.6h.6M211.5 114.8h.6M233.1 111.0h.6M242.7 106.4h.6M270.7 82.8h.6M237.7 148.9h.6M249.7 84.3h.6M249.2 95.3h.6M248.4 103.8h.6M217.3 134.9h.6M252.3 83.4h.6M245.8 102.4h.6M231.8 133.6h.6M268.8 88.3h.6M251.4 82.3h.6M255.0 97.3h.6M239.7 151.2h.6M280.5 77.3h.6M266.0 77.5h.6M229.8 115.1h.6M247.7 85.0h.6M255.5 77.9h.6M244.2 82.1h.6M219.0 147.2h.6M284.6 95.8h.6M259.4 97.1h.6M264.0 95.1h.6M269.4 92.1h.6M261.7 90.0h.6M273.1 77.6h.6M276.0 87.6h.6M225.6 128.0h.6M251.5 103.4h.6M262.8 82.2h.6M244.4 90.9h.6M241.4 103.1h.6M231.9 114.3h.6M272.5 88.1h.6M237.8 99.1h.6M225.9 144.6h.6M236.4 91.9h.6M278.2 85.8h.6M238.4 86.4h.6M265.4 88.0h.6M258.9 88.9h.6M227.3 125.7h.6M235.9 104.0h.6M239.0 93.5h.6M257.1 86.0h.6M257.5 91.9h.6M254.9 99.9h.6M231.1 92.1h.6M259.5 90.2h.6M260.3 98.2h.6M223.5 137.4h.6M234.9 117.9h.6M256.0 93.2h.6M280.4 83.3h.6M236.5 94.4h.6M235.4 116.0h.6M242.7 104.1h.6M225.1 153.2h.6M235.0 91.8h.6M253.6 90.6h.6M259.0 80.2h.6M215.5 136.6h.6M232.1 105.6h.6M213.7 117.7h.6M233.4 106.2h.6M228.2 103.8h.6M252.0 98.0h.6M225.4 123.4h.6M219.9 146.1h.6M225.0 121.6h.6M227.8 159.3h.6M219.6 103.9h.6M235.2 89.9h.6M270.3 87.7h.6M231.9 155.7h.6M244.1 86.1h.6M245.1 93.3h.6M260.5 101.1h.6M261.7 93.8h.6M231.7 131.3h.6M251.0 99.1h.6M277.8 92.7h.6M271.8 88.4h.6M257.3 90.2h.6M278.4 92.0h.6M270.1 87.6h.6M267.9 86.6h.6M270.6 90.7h.6M266.7 80.7h.6M255.2 81.0h.6M234.2 118.0h.6M245.6 107.6h.6M233.0 160.1h.6M259.7 82.6h.6M231.3 127.5h.6M223.4 135.4h.6M254.1 90.7h.6M235.5 105.0h.6M241.1 106.9h.6M260.0 88.4h.6M251.6 88.1h.6M253.9 86.7h.6M232.1 115.6h.6M251.7 96.9h.6M242.9 81.4h.6M230.0 154.2h.6M240.3 93.9h.6M249.6 108.3h.6M223.3 156.0h.6M237.3 84.2h.6M216.0 126.7h.6M259.5 91.7h.6M274.3 84.7h.6M233.6 89.9h.6M253.1 83.6h.6M265.9 82.6h.6M248.5 94.7h.6M229.0 125.2h.6M239.2 100.2h.6M258.7 90.4h.6M243.8 85.5h.6M260.1 75.8h.6M231.8 94.5h.6M253.2 87.1h.6M282.7 83.3h.6M221.5 134.8h.6M264.5 100.4h.6M233.8 112.9h.6M241.0 110.1h.6M274.1 81.5h.6M231.9 105.6h.6M263.3 74.9h.6M229.8 135.8h.6M272.7 89.2h.6M252.2 82.5h.6M275.1 88.8h.6M257.3 82.9h.6M217.5 120.0h.6M252.8 88.7h.6M240.5 111.1h.6M227.3 155.6h.6M253.9 83.3h.6M255.8 98.3h.6M252.7 77.0h.6M267.1 80.9h.6M221.2 163.7h.6M242.9 99.0h.6M252.8 104.2h.6M234.2 87.7h.6M245.2 90.5h.6M223.8 135.9h.6M225.0 119.7h.6M219.8 130.5h.6M225.5 98.8h.6M236.8 110.2h.6M223.6 127.3h.6M227.7 116.2h.6M263.8 74.9h.6M249.2 83.4h.6M246.7 104.0h.6M225.9 99.3h.6M239.2 99.1h.6M260.6 82.8h.6M259.8 82.6h.6M215.5 124.8h.6M256.2 100.6h.6M254.7 90.9h.6M250.8 88.3h.6M222.1 153.8h.6M215.2 104.2h.6M235.5 104.4h.6M267.8 76.0h.6M246.1 88.0h.6M263.4 84.0h.6M266.0 103.2h.6M258.8 100.6h.6M224.1 103.3h.6M260.5 94.7h.6M227.7 134.3h.6M236.9 105.9h.6M232.5 130.7h.6M215.4 157.1h.6M271.9 97.2h.6M264.0 87.5h.6M248.5 99.3h.6M225.3 132.0h.6M238.7 104.5h.6M253.4 83.0h.6M221.3 121.0h.6M242.3 106.9h.6M241.9 84.5h.6M270.5 85.2h.6M262.7 102.4h.6M230.5 143.2h.6M213.6 152.8h.6M240.8 96.4h.6M231.1 111.8h.6M238.0 83.8h.6M254.1 79.7h.6M264.1 70.9h.6M278.7 86.2h.6M242.3 98.8h.6M219.2 105.5h.6M255.0 92.8h.6M260.5 107.3h.6M232.9 136.7h.6M227.5 141.4h.6M260.2 88.4h.6M241.5 108.7h.6M260.4 83.7h.6M232.9 116.1h.6M244.7 91.9h.6M255.9 88.8h.6M268.6 73.0h.6M249.2 93.7h.6M231.1 103.3h.6M262.9 82.1h.6M260.3 80.9h.6M225.1 111.5h.6M217.7 126.0h.6M283.6 103.5h.6M270.2 83.0h.6M227.6 122.8h.6M238.4 97.3h.6M230.1 113.5h.6M272.6 79.4h.6M236.3 90.0h.6M230.8 105.9h.6M250.7 87.8h.6M265.2 83.4h.6M226.4 93.7h.6M241.1 102.7h.6M237.2 111.1h.6M277.3 84.8h.6M220.3 141.5h.6M226.3 116.0h.6M268.9 95.1h.6M234.8 114.8h.6M250.8 83.6h.6M273.0 76.8h.6M233.2 110.2h.6M272.9 78.0h.6M223.7 96.5h.6M251.3 103.9h.6M233.3 85.1h.6M228.2 114.3h.6M232.8 95.0h.6M260.2 95.8h.6M275.0 91.8h.6M223.8 156.6h.6M261.9 103.6h.6M226.7 136.9h.6M231.9 97.1h.6M225.1 134.1h.6M231.2 126.3h.6M257.4 78.2h.6M219.5 133.7h.6M232.6 139.1h.6M216.7 130.4h.6M231.2 115.9h.6M268.9 87.3h.6M290.1 99.0h.6M243.8 96.7h.6M250.9 75.1h.6M239.3 128.2h.6M275.9 78.5h.6M253.8 96.4h.6M250.7 98.2h.6M261.8 81.5h.6M269.7 79.0h.6M247.5 80.2h.6M273.3 69.2h.6M250.1 79.2h.6M259.4 83.3h.6M286.6 87.6h.6M237.8 114.2h.6M271.8 79.3h.6M268.7 89.7h.6M217.2 140.1h.6M260.7 108.9h.6M263.1 75.0h.6M257.4 79.9h.6M237.2 97.0h.6M228.0 131.7h.6M284.6 93.3h.6M265.4 83.7h.6M222.7 120.4h.6M255.9 90.5h.6M270.6 93.1h.6M291.0 92.8h.6M250.3 80.1h.6M229.0 87.4h.6M233.9 87.2h.6M219.0 105.2h.6M258.3 90.3h.6M253.4 87.0h.6M256.6 99.7h.6M224.5 113.7h.6M260.6 95.6h.6M234.1 94.8h.6M219.2 117.1h.6M241.0 96.0h.6M225.6 120.4h.6M262.7 96.0h.6M263.4 87.4h.6M235.9 109.2h.6M246.5 93.9h.6M260.4 94.6h.6M241.4 116.9h.6M262.5 81.7h.6M255.1 82.1h.6M266.5 89.3h.6M289.7 83.5h.6M242.5 92.0h.6M281.7 86.4h.6M228.7 100.2h.6M263.7 97.6h.6M253.1 100.4h.6M213.6 140.7h.6M219.7 154.6h.6M223.4 129.8h.6M265.2 75.5h.6M262.9 77.7h.6M228.5 121.0h.6M275.0 89.3h.6M260.8 80.9h.6M258.0 94.5h.6M226.0 165.5h.6M247.6 82.4h.6M220.4 145.9h.6M222.4 151.2h.6M255.6 106.1h.6M256.3 76.3h.6M237.2 128.5h.6M257.5 88.4h.6M217.8 139.9h.6M246.2 107.3h.6M258.3 83.0h.6M279.6 78.5h.6M252.3 106.5h.6M225.7 116.8h.6M217.7 113.0h.6M258.0 101.4h.6M245.5 89.2h.6M239.7 154.8h.6M220.2 147.7h.6M263.7 74.8h.6M257.3 82.3h.6M238.4 97.2h.6M280.2 78.2h.6M285.6 75.9h.6M254.0 92.3h.6M222.4 121.9h.6M221.0 153.4h.6M218.1 135.4h.6M233.0 127.4h.6M228.3 125.0h.6M264.1 86.7h.6M237.7 107.2h.6M251.2 91.8h.6M228.6 118.7h.6M265.6 94.0h.6M231.0 122.6h.6M235.6 115.9h.6M247.8 90.0h.6M278.9 96.3h.6M253.6 94.5h.6M255.4 88.2h.6M231.1 155.8h.6M247.6 109.5h.6M260.3 88.5h.6M231.7 117.5h.6M269.9 87.9h.6M272.7 92.4h.6M227.3 128.4h.6M276.0 84.3h.6M228.6 110.9h.6M244.6 82.1h.6M219.0 140.7h.6M253.4 102.0h.6M215.2 130.7h.6M251.6 79.4h.6M259.7 101.0h.6M240.7 115.9h.6M250.5 112.8h.6M259.8 92.8h.6M286.3 81.9h.6M280.0 76.4h.6M223.2 152.9h.6M248.0 97.6h.6M246.2 95.3h.6M275.5 77.2h.6M239.7 147.9h.6M232.3 103.3h.6M218.8 122.0h.6M273.9 86.1h.6M256.4 85.6h.6M279.6 72.6h.6M237.1 95.1h.6M232.4 89.5h.6M229.5 121.5h.6M229.1 127.9h.6M225.1 103.5h.6M272.4 72.5h.6M228.4 130.0h.6M228.5 130.4h.6M235.9 92.2h.6M225.8 129.9h.6M227.6 91.2h.6M230.0 106.1h.6M244.5 85.2h.6M256.0 88.5h.6M230.7 119.7h.6M243.7 95.1h.6M234.7 105.0h.6M252.5 67.0h.6M248.2 84.7h.6M220.8 150.0h.6M233.2 133.7h.6M253.2 85.7h.6M245.4 97.1h.6M236.8 96.5h.6M239.2 96.0h.6M229.6 92.3h.6M219.0 142.4h.6M273.7 77.3h.6M257.5 88.4h.6M268.9 86.5h.6M236.1 132.5h.6M249.1 98.4h.6M276.0 88.5h.6M278.5 86.8h.6M232.7 162.8h.6M217.8 119.9h.6M224.5 153.3h.6M237.8 105.5h.6M227.5 153.1h.6M276.2 78.5h.6M242.2 96.5h.6M261.0 91.1h.6M226.9 134.9h.6M240.6 106.1h.6M262.4 77.7h.6M267.1 94.2h.6M221.1 154.2h.6M244.1 103.6h.6M277.8 85.0h.6M269.5 93.8h.6M270.7 82.3h.6M280.3 86.5h.6M230.1 106.9h.6M244.5 104.4h.6M224.3 116.4h.6M267.2 81.7h.6M277.6 93.1h.6M276.1 89.6h.6M233.2 135.4h.6M258.0 90.8h.6M240.9 114.9h.6M233.8 104.9h.6M213.9 109.1h.6M254.7 84.8h.6M222.6 145.4h.6M222.6 153.1h.6M245.5 107.7h.6M265.3 85.5h.6M268.1 82.5h.6M263.4 74.5h.6M221.9 141.0h.6M280.2 83.9h.6M244.6 82.4h.6M253.3 87.0h.6M224.6 119.0h.6M227.9 105.0h.6M284.8 88.9h.6M230.3 93.2h.6M222.0 112.9h.6M243.9 106.1h.6M276.2 91.0h.6M266.6 84.0h.6M247.0 84.9h.6M245.0 93.5h.6M270.3 86.2h.6M238.8 105.0h.6M229.3 118.1h.6M223.4 154.3h.6M243.6 81.9h.6M256.6 81.4h.6M233.4 94.8h.6M250.1 94.0h.6M279.1 81.0h.6M255.3 71.6h.6M259.3 74.4h.6M266.5 93.0h.6M258.9 73.1h.6M253.3 81.9h.6M226.4 156.3h.6M223.6 135.2h.6M256.7 82.4h.6M231.2 137.6h.6M251.2 95.9h.6M263.8 87.2h.6M257.8 98.3h.6M280.6 88.1h.6M220.1 100.6h.6M206.9 131.4h.6M275.6 75.1h.6M248.2 77.2h.6M253.2 85.8h.6M271.3 91.5h.6M248.2 82.2h.6M240.0 87.1h.6M273.0 78.0h.6M225.6 123.3h.6M215.2 130.3h.6M251.2 97.0h.6M220.8 102.7h.6M240.2 100.1h.6M262.6 89.9h.6M255.9 81.0h.6M230.3 124.3h.6M257.4 77.1h.6M234.9 91.8h.6M266.8 90.0h.6M229.8 139.5h.6M226.7 110.8h.6M224.1 135.2h.6M223.4 106.2h.6M260.8 96.0h.6M282.8 89.6h.6M221.4 141.2h.6M236.1 97.3h.6M273.4 66.2h.6M246.4 79.5h.6M219.4 103.3h.6M240.8 101.4h.6M237.7 84.3h.6M259.2 83.2h.6M261.4 79.8h.6M224.3 98.0h.6M219.3 152.7h.6M260.3 83.2h.6M263.2 89.3h.6M251.8 98.6h.6M224.3 100.5h.6M226.4 131.9h.6M271.3 78.1h.6M232.0 143.5h.6M254.0 89.4h.6M220.1 98.5h.6M228.2 124.4h.6M236.4 87.9h.6M245.3 93.6h.6M239.5 96.6h.6M269.7 85.2h.6M231.2 104.2h.6M223.1 108.8h.6M232.8 113.2h.6M242.6 91.9h.6M278.0 83.7h.6M250.2 97.3h.6M217.5 97.0h.6M242.4 100.9h.6M240.5 92.4h.6M230.5 94.4h.6M236.2 107.9h.6M239.2 105.6h.6M235.2 97.2h.6M230.8 92.9h.6M226.5 149.8h.6M241.6 119.7h.6M285.1 88.9h.6M246.6 98.0h.6M263.8 85.9h.6M216.0 130.4h.6M231.6 115.3h.6M235.7 95.3h.6M269.9 82.2h.6M231.0 133.5h.6M229.1 105.0h.6M280.0 90.8h.6M230.0 103.7h.6M261.0 83.6h.6M270.3 101.6h.6M281.3 78.1h.6M253.9 95.5h.6M233.8 126.3h.6M258.4 79.8h.6M250.6 93.3h.6M235.1 101.0h.6M212.5 127.9h.6M271.3 86.6h.6M260.4 71.9h.6M219.7 98.9h.6M232.7 107.3h.6M258.0 79.8h.6M219.8 155.3h.6M261.0 70.4h.6M265.6 89.3h.6M220.6 115.9h.6M224.5 114.8h.6M250.8 83.1h.6M220.9 118.5h.6M230.9 148.6h.6M219.1 144.6h.6M227.2 109.6h.6M257.8 100.6h.6M255.3 97.7h.6M269.7 60.3h.6M287.0 81.8h.6M259.4 90.1h.6M253.1 87.7h.6M288.6 79.4h.6M239.5 106.0h.6M230.2 109.6h.6M224.0 127.2h.6M272.0 74.0h.6M278.1 80.6h.6M257.7 86.4h.6M246.3 89.8h.6M230.6 143.9h.6M224.5 133.4h.6M229.8 79.2h.6M247.4 75.5h.6M270.9 90.2h.6M232.2 97.5h.6M239.1 98.7h.6M245.2 94.0h.6M266.7 104.3h.6M221.7 118.5h.6M252.2 96.0h.6M260.8 87.0h.6M231.9 133.9h.6M236.1 121.6h.6M231.0 99.6h.6M268.1 90.7h.6M251.7 80.9h.6M268.4 102.6h.6M247.6 86.9h.6M262.7 84.7h.6M248.2 77.1h.6M224.6 123.9h.6M290.4 89.8h.6M261.4 87.6h.6M233.0 122.3h.6M251.1 90.6h.6M276.7 85.6h.6M254.1 96.6h.6M266.1 101.4h.6M230.8 94.2h.6M284.7 80.7h.6M259.1 94.7h.6M275.4 81.5h.6M228.4 85.1h.6M229.2 103.2h.6M227.6 132.4h.6M224.7 132.3h.6M211.8 127.6h.6M229.8 105.0h.6M210.1 143.5h.6M235.1 109.7h.6M233.5 104.8h.6M240.6 76.2h.6M226.2 126.2h.6M232.3 137.6h.6M249.2 92.5h.6M219.3 155.2h.6M231.4 148.9h.6M207.6 146.9h.6M234.0 96.4h.6M261.9 89.2h.6M269.4 93.2h.6M257.5 88.5h.6M242.6 104.5h.6M250.5 81.4h.6M259.4 77.7h.6M242.9 90.1h.6M228.2 105.9h.6M262.1 95.9h.6M239.7 137.9h.6M270.5 70.9h.6M236.4 121.5h.6M229.1 101.0h.6M271.3 80.7h.6M262.3 89.1h.6M254.1 100.0h.6M217.4 104.0h.6M258.3 91.7h.6M237.4 89.9h.6M277.2 83.1h.6M267.7 70.4h.6M232.6 119.5h.6M249.5 97.7h.6M249.6 74.0h.6M232.8 98.7h.6M263.5 70.2h.6M239.4 97.3h.6M232.0 131.8h.6M259.0 87.1h.6M256.7 74.5h.6M251.8 89.7h.6M253.9 91.0h.6M237.8 78.6h.6M242.3 102.8h.6M218.9 152.6h.6M229.3 94.8h.6M254.3 81.1h.6M218.0 122.0h.6M266.7 101.7h.6M217.5 99.9h.6M267.9 77.4h.6M235.6 131.6h.6M265.7 75.7h.6M232.2 102.3h.6M240.0 85.5h.6M228.8 111.3h.6M243.5 108.1h.6M225.1 108.1h.6M248.7 88.3h.6M249.4 86.5h.6M233.5 108.4h.6M225.8 134.8h.6M247.4 100.8h.6M220.2 149.8h.6M269.4 93.7h.6M255.6 89.4h.6M227.2 93.0h.6M264.3 83.3h.6M258.3 82.3h.6M242.0 84.5h.6M230.8 121.9h.6M273.4 78.5h.6M228.7 97.6h.6M228.2 93.6h.6M230.4 110.3h.6M234.4 81.3h.6M246.8 87.8h.6M259.5 90.7h.6M254.0 103.6h.6M275.9 84.0h.6M228.6 155.0h.6M226.7 113.0h.6M241.7 90.6h.6M261.7 84.3h.6M227.2 82.3h.6M226.7 157.2h.6M242.0 85.2h.6M238.7 107.0h.6M270.0 103.3h.6M274.7 93.0h.6M226.4 109.8h.6M276.5 79.5h.6M263.9 88.2h.6M252.8 103.4h.6M226.5 116.4h.6M285.8 78.3h.6M235.6 114.2h.6M224.6 121.5h.6M271.1 80.2h.6M224.1 142.4h.6M252.0 99.0h.6M269.0 78.6h.6M223.3 133.0h.6M238.2 93.9h.6M221.1 106.9h.6M250.2 86.3h.6M253.9 82.5h.6M214.1 116.1h.6M258.7 84.8h.6M217.5 121.0h.6M239.5 125.3h.6M264.5 93.8h.6M240.2 96.9h.6M228.5 118.2h.6M220.0 103.9h.6M250.8 61.3h.6M256.6 88.8h.6M232.3 108.5h.6M221.7 128.3h.6M263.6 94.1h.6M255.3 89.5h.6M228.4 148.4h.6M252.8 77.5h.6M264.4 86.6h.6M271.8 88.9h.6M234.2 97.9h.6M247.6 101.2h.6M226.4 125.0h.6M252.7 86.8h.6M235.6 137.8h.6M268.7 82.2h.6M232.9 101.2h.6M246.0 79.9h.6M236.4 90.9h.6M216.1 104.8h.6M253.6 90.1h.6M274.5 91.3h.6M246.5 78.8h.6M240.9 105.9h.6M236.2 91.4h.6M215.8 130.3h.6M234.2 121.8h.6M275.7 75.0h.6M251.1 90.0h.6M222.9 144.2h.6M294.9 80.0h.6M258.3 86.8h.6M232.5 92.0h.6M283.0 73.2h.6M209.6 116.9h.6M255.7 86.6h.6M214.7 151.5h.6M245.2 110.4h.6M253.4 75.8h.6M236.2 95.5h.6M236.3 96.0h.6M236.7 93.4h.6M237.2 98.9h.6M270.2 73.0h.6M237.3 118.5h.6M262.2 79.8h.6M258.4 97.2h.6M272.8 66.4h.6M228.1 131.4h.6M255.4 88.9h.6M216.3 135.8h.6M226.2 147.9h.6M258.5 73.5h.6M234.2 151.4h.6M225.2 145.3h.6M252.6 101.0h.6M275.6 83.3h.6M226.6 100.6h.6M228.1 141.5h.6M226.0 124.6h.6M272.7 85.1h.6M245.9 89.7h.6M278.3 80.4h.6M264.1 78.4h.6M234.5 112.9h.6M245.7 85.7h.6M212.1 141.2h.6M250.9 89.8h.6M268.5 88.4h.6M258.2 97.2h.6M267.9 92.6h.6M278.2 82.0h.6M236.2 123.2h.6M228.2 134.9h.6M213.5 125.9h.6M221.6 111.2h.6M237.6 90.8h.6M223.4 144.4h.6M220.2 133.9h.6M277.3 85.9h.6M255.5 96.0h.6M255.4 86.7h.6M269.1 76.5h.6M238.0 109.9h.6M259.3 87.3h.6M213.5 143.1h.6M257.4 89.8h.6M226.9 126.8h.6M251.2 110.2h.6M239.0 103.4h.6M235.2 103.6h.6M241.9 96.5h.6M253.1 78.0h.6M222.5 155.8h.6M253.7 88.2h.6M249.1 83.1h.6M232.3 134.9h.6M229.9 105.9h.6M238.8 95.8h.6M279.1 91.1h.6M252.2 88.6h.6M234.8 114.1h.6M240.9 98.3h.6M249.0 90.5h.6M257.7 93.4h.6M269.5 70.1h.6M243.5 92.9h.6M256.8 92.6h.6M264.5 76.5h.6M265.1 77.9h.6M248.7 88.1h.6M262.0 96.1h.6M232.5 106.3h.6M279.2 78.3h.6M220.9 122.3h.6M224.2 103.3h.6M276.8 85.5h.6M225.2 129.7h.6M256.4 89.8h.6M217.8 108.1h.6M223.9 148.6h.6M277.3 77.8h.6M259.3 101.0h.6M237.6 112.7h.6M214.6 131.9h.6M283.4 82.7h.6M232.0 102.5h.6M257.7 97.1h.6M245.2 93.8h.6M261.8 89.7h.6M251.1 81.4h.6M280.4 84.4h.6M259.2 93.8h.6M261.9 85.5h.6M236.5 111.3h.6M233.7 124.3h.6M224.5 157.4h.6M256.7 87.4h.6M280.9 82.9h.6M235.9 103.6h.6M262.3 80.8h.6M248.1 82.4h.6M230.0 149.5h.6M236.0 88.4h.6M243.1 87.5h.6M245.7 83.4h.6M262.9 83.9h.6M226.0 106.4h.6M236.8 92.7h.6M225.2 140.2h.6M247.6 91.2h.6M254.1 82.8h.6M239.3 84.3h.6M253.5 105.9h.6M233.1 99.0h.6M280.2 81.0h.6M274.5 93.7h.6M259.0 92.7h.6M283.7 82.9h.6M260.1 88.4h.6M225.6 131.0h.6M215.9 112.8h.6M224.6 113.6h.6M256.9 96.0h.6M220.6 137.0h.6M232.8 129.9h.6M237.8 91.7h.6M224.7 98.2h.6M257.3 92.8h.6M225.0 105.2h.6M245.8 80.5h.6M237.9 94.0h.6M241.2 97.5h.6M236.1 103.8h.6M236.5 104.8h.6M232.6 150.2h.6M266.7 81.0h.6M268.2 81.7h.6M231.9 96.2h.6M231.3 129.8h.6M273.3 82.9h.6M235.1 89.0h.6M252.3 81.6h.6M271.5 82.5h.6M228.1 130.8h.6M239.0 108.8h.6M251.6 95.6h.6M233.5 112.9h.6M266.7 76.7h.6M239.2 99.7h.6M255.7 73.8h.6M264.7 79.4h.6M246.3 90.9h.6M288.1 76.6h.6M232.5 116.5h.6M273.1 93.6h.6M219.7 141.5h.6M230.6 128.1h.6M232.9 106.5h.6M244.7 100.3h.6M254.2 100.9h.6M263.9 94.7h.6M251.3 108.9h.6M261.2 74.4h.6M276.1 74.4h.6M217.0 142.7h.6M270.0 75.9h.6M245.9 90.0h.6M267.8 96.7h.6M223.6 120.6h.6M276.6 90.0h.6M269.0 89.1h.6M232.0 138.5h.6M238.8 89.8h.6M231.1 109.5h.6M258.8 99.0h.6M251.7 82.5h.6M263.3 98.9h.6M257.8 97.0h.6M256.3 78.5h.6M238.2 132.9h.6M227.3 91.9h.6M256.7 86.0h.6M271.4 88.1h.6M231.1 106.7h.6M246.3 103.4h.6M256.2 93.3h.6M274.0 81.4h.6M232.2 107.9h.6M253.2 109.5h.6M221.9 114.0h.6M232.7 124.1h.6M237.5 121.1h.6M269.8 84.3h.6M227.5 148.1h.6M233.9 101.2h.6M252.7 94.5h.6M279.0 99.0h.6M243.2 105.1h.6M247.1 93.1h.6M275.2 91.1h.6M241.3 104.6h.6M247.6 92.7h.6M278.6 80.3h.6M238.5 108.4h.6M268.5 92.0h.6M218.5 143.4h.6M243.1 81.2h.6M241.4 88.4h.6M211.7 107.9h.6M229.4 111.0h.6M218.9 149.8h.6M243.2 109.8h.6M258.5 72.1h.6M290.6 77.9h.6M266.8 91.4h.6M225.3 149.3h.6M249.3 93.1h.6M277.3 93.3h.6M257.9 95.5h.6M231.5 99.9h.6M232.6 117.8h.6M227.9 152.5h.6M225.1 101.9h.6M263.9 88.7h.6M228.8 125.5h.6M272.9 90.9h.6M282.0 67.1h.6M265.0 76.8h.6M225.3 160.4h.6M236.5 114.5h.6M275.9 91.3h.6M283.6 91.8h.6M251.7 86.3h.6M281.8 90.9h.6M255.5 80.4h.6M246.2 96.0h.6M223.4 153.4h.6M280.2 73.7h.6M207.5 120.3h.6M234.2 112.9h.6M234.5 100.0h.6M274.3 84.7h.6M248.0 101.4h.6M247.0 89.4h.6M255.1 83.9h.6M253.2 109.2h.6M222.2 152.3h.6M240.5 88.6h.6M263.7 85.9h.6M219.9 108.3h.6M222.6 114.7h.6M263.1 85.4h.6M224.5 134.1h.6M220.1 130.5h.6M261.7 77.3h.6M265.8 80.2h.6M260.3 82.6h.6M235.3 90.6h.6M263.6 87.3h.6M216.3 103.1h.6M240.3 106.4h.6M276.5 78.3h.6M271.3 91.8h.6M274.1 92.2h.6M266.4 94.8h.6M231.3 100.0h.6M231.3 104.9h.6M224.3 148.5h.6M255.6 85.4h.6M234.7 141.7h.6M235.2 111.9h.6M225.9 126.1h.6M229.2 106.0h.6M230.9 103.6h.6M222.0 118.9h.6M235.8 132.2h.6M215.6 129.7h.6M236.2 101.2h.6M243.1 98.8h.6M218.9 149.2h.6M223.8 101.6h.6M254.6 98.9h.6M261.4 69.1h.6M251.6 78.5h.6M215.1 117.4h.6M275.3 79.8h.6M247.2 74.2h.6M232.6 128.2h.6M229.3 74.4h.6M226.9 115.8h.6M218.6 110.8h.6M217.8 123.5h.6M276.2 87.9h.6M236.9 85.3h.6M263.5 80.7h.6M204.9 115.2h.6M248.8 70.6h.6M240.5 106.9h.6M232.3 130.4h.6M268.5 85.5h.6M245.2 88.3h.6M258.4 94.0h.6M224.7 133.0h.6M268.6 93.0h.6M226.1 131.7h.6M263.1 92.3h.6M287.3 84.2h.6M247.5 78.5h.6M234.9 86.0h.6M280.1 79.3h.6M263.0 87.7h.6M256.7 98.9h.6M264.2 87.1h.6M277.2 78.0h.6M259.2 103.4h.6M214.0 122.7h.6M256.2 84.0h.6M263.0 89.8h.6M235.4 92.7h.6M257.5 93.5h.6M225.4 139.3h.6M246.1 77.7h.6M223.1 136.1h.6M264.1 90.6h.6M274.2 86.2h.6M264.6 94.9h.6M282.7 99.3h.6M274.5 83.7h.6M246.1 90.9h.6M229.2 145.8h.6M225.1 126.4h.6M248.7 98.0h.6M218.1 144.1h.6M230.0 111.6h.6M219.2 157.8h.6M238.1 137.2h.6M281.7 84.8h.6M247.5 94.5h.6M277.8 87.9h.6M239.4 128.7h.6M261.8 74.1h.6M211.6 163.1h.6M254.7 98.5h.6M243.6 101.6h.6M224.4 145.1h.6M256.6 101.6h.6M269.6 92.4h.6M253.0 86.5h.6M255.9 85.5h.6M270.6 91.9h.6M248.3 105.5h.6M252.0 77.5h.6M208.2 95.1h.6M237.2 90.8h.6M277.4 63.7h.6M227.6 128.4h.6M233.1 89.0h.6M234.4 111.9h.6M273.2 92.8h.6M244.8 83.6h.6M230.3 134.3h.6M217.0 126.8h.6M221.8 106.4h.6M268.1 79.4h.6M245.0 90.2h.6M227.6 143.8h.6M278.6 94.8h.6M219.6 148.3h.6M273.8 84.6h.6M233.5 122.9h.6M232.4 104.2h.6M225.5 96.0h.6M242.9 108.2h.6M258.8 88.8h.6M246.8 103.4h.6M217.1 156.2h.6M253.6 78.6h.6M252.8 89.6h.6M224.6 138.7h.6M239.7 100.3h.6M264.5 88.0h.6M234.2 109.4h.6M224.5 114.8h.6M234.8 89.3h.6M263.4 97.9h.6M247.2 87.6h.6M240.1 92.5h.6M247.7 109.8h.6M241.9 93.0h.6M240.8 96.7h.6M263.0 87.9h.6M226.3 130.8h.6M261.4 99.1h.6M224.2 150.4h.6M276.5 72.3h.6M275.8 86.5h.6M258.1 103.6h.6M243.2 99.5h.6M233.1 95.6h.6M262.0 76.6h.6M254.2 88.7h.6M220.5 152.6h.6M245.7 84.7h.6M288.0 88.2h.6M263.9 80.7h.6M263.0 78.8h.6M226.4 125.2h.6M266.2 83.6h.6M279.5 60.3h.6M260.0 99.0h.6M217.5 133.1h.6M247.2 99.2h.6M249.4 84.3h.6M259.7 84.8h.6M269.0 81.1h.6M270.3 96.5h.6M232.9 94.7h.6M266.0 91.8h.6M232.4 127.9h.6M224.6 110.0h.6M262.4 73.8h.6M213.2 112.0h.6M275.5 73.7h.6M260.6 89.3h.6M215.5 121.0h.6M248.6 100.1h.6M274.7 80.9h.6M259.7 79.7h.6M231.9 107.9h.6M257.2 80.1h.6M224.0 126.5h.6M278.9 71.0h.6M227.6 104.4h.6M255.1 84.8h.6M259.4 100.1h.6M253.9 102.8h.6M271.4 86.8h.6M237.9 118.6h.6M225.0 130.7h.6M228.5 146.1h.6M229.5 105.9h.6M220.5 141.2h.6M219.3 151.3h.6M254.7 114.0h.6M275.5 77.9h.6M230.0 126.2h.6M224.9 113.7h.6M218.1 146.4h.6M255.4 73.7h.6M268.2 73.1h.6M277.9 80.3h.6M232.5 112.6h.6M243.5 94.0h.6M252.3 94.9h.6M228.7 131.6h.6M250.5 87.6h.6M263.1 93.0h.6M245.5 84.3h.6M231.8 141.8h.6M259.6 86.6h.6M286.2 68.0h.6M230.0 118.0h.6M273.9 96.1h.6M246.2 93.6h.6M283.8 89.9h.6M260.7 77.5h.6M223.4 113.1h.6M218.5 109.6h.6M261.2 82.1h.6M271.1 68.1h.6M257.5 96.6h.6M240.7 101.3h.6M242.7 99.5h.6M256.4 86.8h.6M237.7 110.8h.6M223.7 120.2h.6M284.9 90.3h.6M221.6 132.2h.6M237.7 120.6h.6M239.4 107.4h.6M253.8 98.1h.6M250.5 86.7h.6M235.3 106.6h.6M237.1 108.3h.6M258.0 91.5h.6M255.3 88.9h.6M249.3 86.8h.6M221.5 121.1h.6M246.6 113.2h.6M225.5 132.8h.6M261.2 85.5h.6M223.8 131.8h.6M267.0 91.6h.6M215.6 151.1h.6M235.3 118.7h.6M273.3 83.6h.6M255.5 81.6h.6M237.2 98.4h.6M254.2 85.5h.6M248.5 106.9h.6M228.4 147.8h.6M269.6 89.5h.6M233.5 125.6h.6M252.2 85.4h.6M271.0 72.0h.6M254.3 82.3h.6M255.4 83.8h.6M260.2 91.6h.6M241.7 88.0h.6M232.0 147.6h.6M251.5 93.5h.6M223.1 109.4h.6M221.0 144.6h.6M230.4 103.3h.6M228.3 98.9h.6M232.8 110.3h.6M248.8 87.7h.6M239.5 92.8h.6M256.5 85.0h.6M260.6 95.7h.6M229.2 134.2h.6M228.9 123.1h.6M222.2 107.4h.6M258.3 84.4h.6M240.1 122.2h.6M226.8 102.8h.6M257.1 101.5h.6M260.1 94.2h.6M222.3 153.3h.6M229.3 121.2h.6M269.7 74.9h.6M250.1 92.2h.6M255.2 101.0h.6M219.2 97.9h.6M270.6 81.1h.6M259.0 89.1h.6M227.9 102.0h.6M223.4 159.7h.6M246.9 83.4h.6M251.2 95.5h.6M271.3 88.8h.6M232.3 127.6h.6M238.6 102.8h.6M236.9 84.0h.6M265.1 91.0h.6M217.8 154.7h.6M224.1 136.7h.6M235.9 107.9h.6M240.1 92.8h.6M263.5 75.6h.6M268.8 85.9h.6M270.6 73.4h.6M216.3 164.9h.6M269.0 73.5h.6M268.1 85.6h.6M228.4 87.8h.6M220.6 121.1h.6M244.8 90.1h.6M231.3 113.3h.6M256.1 83.0h.6M232.9 114.5h.6M248.7 99.2h.6M231.2 144.4h.6M269.9 101.2h.6M228.6 110.0h.6M261.2 90.4h.6M273.8 87.9h.6M249.7 91.5h.6M254.5 82.6h.6M231.3 137.7h.6M246.4 89.6h.6M269.1 74.3h.6M232.6 115.2h.6M250.8 81.2h.6M225.6 102.7h.6M215.9 117.1h.6M235.0 104.6h.6M263.3 87.3h.6M216.9 138.5h.6M256.5 79.0h.6M227.7 95.5h.6M211.1 126.1h.6M223.2 164.9h.6M251.9 72.3h.6M252.8 87.4h.6M234.1 95.3h.6M238.3 100.0h.6M214.4 102.5h.6M234.9 104.7h.6M229.3 121.8h.6M241.7 117.7h.6M248.9 95.3h.6M256.1 95.3h.6M218.6 124.4h.6M232.9 111.0h.6M264.9 79.0h.6M259.0 86.8h.6M261.2 88.2h.6M238.6 117.8h.6M242.5 87.6h.6M239.2 115.6h.6M264.6 84.3h.6M269.7 86.9h.6M234.5 95.2h.6M243.5 105.8h.6M242.8 91.9h.6M271.0 85.8h.6M261.4 87.1h.6M261.9 95.0h.6M215.8 129.8h.6M220.6 117.2h.6M243.1 102.3h.6M247.2 96.3h.6M208.2 115.6h.6M253.8 94.2h.6M255.9 97.3h.6M279.5 84.1h.6M271.0 104.9h.6M266.1 82.8h.6M282.5 83.9h.6M220.5 110.0h.6M255.5 105.0h.6M240.8 100.1h.6M220.1 146.8h.6M239.1 114.5h.6M230.8 152.2h.6M218.5 171.2h.6M268.5 85.3h.6M222.1 88.8h.6M269.9 86.5h.6M224.0 101.9h.6M251.6 83.5h.6M271.5 94.7h.6M227.5 96.8h.6M223.1 141.3h.6M285.5 86.7h.6M247.8 100.7h.6M248.2 94.6h.6M246.5 91.7h.6M228.1 124.1h.6M239.9 90.0h.6M260.0 75.3h.6M240.5 107.1h.6M278.2 79.0h.6M256.7 84.2h.6M260.1 77.0h.6M212.2 127.2h.6M271.3 77.4h.6M277.3 87.2h.6M226.7 116.5h.6M265.8 88.6h.6M268.5 81.8h.6M271.5 84.2h.6M225.8 119.2h.6M222.1 105.6h.6M238.1 93.9h.6M231.8 103.2h.6M250.4 79.3h.6M256.6 87.0h.6M260.6 86.3h.6M255.8 90.6h.6M251.5 101.8h.6M260.9 93.9h.6M242.3 100.7h.6M250.1 81.0h.6M275.5 83.1h.6M249.9 73.8h.6M263.3 90.7h.6M268.7 94.6h.6M223.9 122.1h.6M265.6 87.3h.6M260.2 84.3h.6M269.2 77.1h.6M229.7 103.1h.6M228.2 143.5h.6M277.8 80.8h.6M262.3 88.7h.6M237.6 97.3h.6M239.8 94.1h.6M232.8 107.8h.6M224.5 121.7h.6M238.7 92.3h.6M243.4 97.7h.6M255.1 87.8h.6M267.9 104.3h.6M219.4 132.1h.6M240.6 139.4h.6M279.2 75.3h.6M234.0 102.1h.6M241.3 74.6h.6M250.6 82.3h.6M238.2 87.4h.6M224.7 134.4h.6M234.8 100.7h.6M219.7 122.2h.6M232.5 76.6h.6M240.7 96.9h.6M227.7 87.5h.6M239.0 146.4h.6M244.4 104.6h.6M270.7 85.6h.6M280.8 85.8h.6M231.0 103.8h.6M273.3 77.7h.6M259.8 90.7h.6M272.9 75.6h.6M231.6 136.7h.6M271.6 86.6h.6M277.4 86.4h.6M273.7 80.3h.6M271.7 84.1h.6M273.5 78.9h.6M255.8 79.0h.6M250.7 92.7h.6M216.1 146.8h.6M226.0 122.8h.6M230.3 157.5h.6M238.1 90.4h.6M227.2 143.5h.6M230.9 95.2h.6M220.6 138.2h.6M234.1 118.2h.6M265.0 84.4h.6M258.0 89.3h.6M226.1 137.2h.6M227.3 108.4h.6M228.1 115.5h.6M239.4 102.4h.6M226.5 131.0h.6M258.5 82.8h.6M243.2 90.5h.6M219.8 114.4h.6M269.7 81.8h.6M221.6 106.7h.6M274.7 69.6h.6M272.3 87.0h.6M237.1 143.7h.6M223.4 118.9h.6M229.9 109.9h.6M270.3 91.3h.6M221.5 138.1h.6M277.1 87.7h.6M221.2 123.4h.6M282.0 86.5h.6M260.7 71.6h.6M287.4 87.5h.6M223.5 109.1h.6M258.1 89.1h.6M232.8 152.0h.6M228.0 135.7h.6M252.1 92.8h.6M228.2 146.0h.6M271.1 85.3h.6M228.6 124.8h.6M236.3 76.7h.6M262.0 93.1h.6M218.3 108.8h.6M244.7 103.0h.6M265.6 81.3h.6M236.4 95.9h.6M231.5 134.2h.6M226.9 96.3h.6M275.5 76.5h.6M238.0 117.8h.6M280.3 89.5h.6M252.5 96.6h.6M245.1 86.2h.6M254.1 85.4h.6M249.1 103.9h.6M270.1 90.2h.6M241.3 97.9h.6M224.8 151.9h.6M232.7 129.8h.6M223.4 107.4h.6M233.9 123.6h.6M245.1 95.3h.6M263.5 79.9h.6M205.1 144.5h.6M274.9 91.3h.6M234.3 97.2h.6M233.0 118.1h.6M224.3 123.7h.6M217.3 127.5h.6M281.9 93.5h.6M265.8 77.8h.6M228.5 100.0h.6M235.3 112.4h.6M230.8 138.3h.6M234.9 115.2h.6M227.1 122.2h.6M216.3 147.4h.6M245.8 110.8h.6M229.7 90.7h.6M257.7 96.3h.6M259.9 85.7h.6M234.0 94.3h.6M230.9 98.0h.6M273.5 91.8h.6M218.4 122.2h.6M253.1 82.4h.6M217.8 108.5h.6M240.0 89.7h.6M250.7 85.0h.6M234.7 103.0h.6M256.8 90.8h.6M234.5 119.3h.6M258.8 98.6h.6M260.1 91.1h.6M230.1 142.5h.6M250.2 92.3h.6M272.9 86.0h.6M234.7 123.4h.6M261.2 90.3h.6M246.0 97.8h.6M225.1 98.1h.6M223.9 141.2h.6M262.3 100.1h.6M225.1 113.4h.6M236.0 105.5h.6M246.8 86.8h.6M224.8 112.3h.6M239.8 101.9h.6M251.1 79.3h.6M233.8 115.5h.6M270.8 95.1h.6M266.1 76.9h.6M227.2 157.9h.6M261.0 75.6h.6M264.9 70.0h.6M262.8 77.9h.6M258.9 92.9h.6M214.5 143.4h.6M222.5 116.1h.6M253.7 73.8h.6M237.2 122.9h.6M223.9 137.0h.6M256.6 95.3h.6M227.6 108.9h.6M228.8 107.7h.6M219.0 143.3h.6M279.8 92.9h.6M264.4 90.8h.6M239.8 130.6h.6M223.1 95.6h.6M269.2 97.4h.6M248.0 80.2h.6M251.9 80.4h.6M231.7 98.4h.6M260.4 88.5h.6M225.9 103.7h.6M251.4 106.1h.6M249.3 97.4h.6M242.0 102.3h.6M263.6 68.9h.6M237.4 85.0h.6M251.5 76.1h.6M241.8 125.3h.6M255.4 94.3h.6M240.2 113.3h.6M255.7 99.1h.6M252.2 105.2h.6M219.0 133.3h.6M234.2 108.0h.6M213.9 121.7h.6M245.2 82.7h.6M263.4 87.7h.6M263.7 86.8h.6M263.0 87.3h.6M270.8 88.2h.6M234.7 102.7h.6M257.6 86.0h.6M238.9 97.2h.6M264.3 94.0h.6M228.3 98.7h.6M241.6 88.0h.6M247.1 101.2h.6M241.8 89.6h.6M253.0 88.4h.6M268.0 75.8h.6M230.8 124.0h.6M219.8 143.4h.6M233.3 107.9h.6M237.9 98.9h.6M259.4 94.7h.6M274.3 86.6h.6M282.9 92.6h.6M247.4 84.4h.6M278.5 89.8h.6M271.8 96.2h.6M249.8 83.9h.6M249.1 95.7h.6M221.6 94.6h.6M262.0 80.8h.6M249.5 93.2h.6M219.3 103.1h.6M239.2 107.4h.6M261.4 77.4h.6M215.5 128.9h.6M274.8 89.8h.6M271.1 82.7h.6M255.5 96.8h.6M257.3 71.3h.6M248.8 91.6h.6M258.7 96.1h.6M243.8 100.7h.6M208.3 151.8h.6M226.7 116.8h.6M247.5 86.2h.6M266.5 97.1h.6M237.0 91.4h.6M266.3 92.4h.6M255.8 80.3h.6M269.8 84.8h.6M266.7 88.8h.6M243.5 115.3h.6M227.9 100.5h.6M230.2 161.0h.6M275.2 82.9h.6M227.8 125.0h.6M229.1 92.0h.6M256.4 86.8h.6M251.0 82.3h.6M235.0 113.9h.6M242.0 103.9h.6M210.6 126.6h.6M211.7 149.0h.6M231.5 107.9h.6M220.7 115.3h.6M256.6 95.5h.6M235.4 111.2h.6M264.8 90.4h.6M225.8 95.6h.6M231.0 106.4h.6M268.1 90.8h.6M256.5 84.5h.6M254.9 106.7h.6M224.5 98.0h.6M280.5 74.4h.6M238.3 96.2h.6M228.2 115.3h.6M230.4 102.6h.6M236.5 102.4h.6M250.3 86.3h.6M218.3 129.7h.6M248.4 93.2h.6M224.1 152.5h.6M217.2 128.3h.6M231.2 101.9h.6M263.9 91.3h.6M237.8 117.0h.6M241.5 102.6h.6M214.5 153.0h.6M244.1 104.3h.6M259.9 77.5h.6M286.9 78.5h.6M276.0 97.3h.6M221.2 95.8h.6M225.3 149.5h.6M243.7 82.7h.6M260.0 92.1h.6M239.7 106.7h.6M222.2 102.1h.6M282.9 86.8h.6M262.4 78.3h.6M233.5 123.7h.6M229.7 124.5h.6M252.7 87.1h.6M225.2 112.2h.6M284.6 84.3h.6M281.0 86.8h.6M232.1 101.4h.6M270.7 69.0h.6M230.3 112.5h.6M238.5 125.9h.6M233.6 114.9h.6M288.3 82.6h.6M265.0 94.4h.6M274.8 80.6h.6M225.3 95.2h.6M248.9 89.3h.6M264.0 92.1h.6M268.4 90.5h.6M260.8 101.5h.6M243.4 96.9h.6M252.8 99.2h.6M219.7 137.9h.6M234.7 104.8h.6M286.8 80.5h.6M258.8 87.4h.6M256.5 93.6h.6M253.1 97.5h.6M269.9 85.9h.6M237.7 94.7h.6M269.6 76.4h.6M227.4 99.9h.6M258.5 94.3h.6M263.1 89.5h.6M251.6 83.1h.6M259.5 100.6h.6M264.5 86.7h.6M214.4 138.9h.6M245.5 90.6h.6M217.7 113.3h.6M254.2 107.7h.6M249.3 98.4h.6M267.4 87.0h.6M269.6 86.3h.6M255.7 86.6h.6M212.6 157.1h.6M225.5 127.2h.6M213.6 122.4h.6M230.9 119.8h.6M234.2 122.9h.6M238.3 86.3h.6M275.8 86.6h.6M225.8 132.5h.6M226.0 136.1h.6M227.7 147.2h.6M220.0 114.5h.6M223.8 143.8h.6M216.3 135.5h.6M226.7 158.7h.6M235.1 93.9h.6M234.9 119.2h.6M230.6 148.2h.6M222.5 106.5h.6M253.2 81.2h.6M243.1 99.9h.6M268.4 92.3h.6M264.8 100.3h.6M251.6 90.7h.6M282.6 83.4h.6M235.6 97.6h.6M234.9 111.6h.6M228.7 108.2h.6M264.9 85.3h.6M241.0 92.6h.6M248.0 86.7h.6M249.5 86.5h.6M213.2 136.9h.6M251.9 97.9h.6M279.0 78.2h.6M269.0 87.7h.6M244.4 72.2h.6M229.9 89.4h.6M280.6 85.1h.6M234.8 102.2h.6M278.5 95.3h.6M227.1 111.0h.6M267.3 85.9h.6M220.4 126.1h.6M225.7 161.6h.6M230.2 105.7h.6M253.7 95.1h.6M256.0 94.5h.6M246.4 91.8h.6M260.4 79.6h.6M238.7 104.6h.6M221.4 102.6h.6M234.1 97.8h.6M231.0 149.3h.6M213.9 143.6h.6M233.1 122.9h.6M263.8 81.9h.6M281.1 86.2h.6M228.6 154.5h.6M232.8 121.2h.6M262.0 88.4h.6M252.8 80.5h.6M218.5 148.6h.6M226.5 132.1h.6M220.5 151.5h.6M243.4 105.0h.6M276.6 87.5h.6M278.5 73.2h.6M243.7 90.0h.6M235.9 87.9h.6M262.0 103.5h.6M239.2 79.9h.6M233.3 99.6h.6M276.0 81.9h.6M213.6 138.8h.6M248.9 111.5h.6M257.8 81.6h.6M224.2 116.9h.6M249.2 82.8h.6M238.6 99.7h.6M230.0 156.2h.6M258.7 93.6h.6M220.4 137.5h.6M251.3 94.7h.6M219.5 129.4h.6M227.9 121.5h.6M259.2 93.4h.6M230.2 131.9h.6M237.3 88.4h.6M267.3 98.5h.6M261.0 82.5h.6M264.3 80.9h.6M219.6 101.2h.6M218.8 149.8h.6M245.0 108.8h.6M214.2 157.6h.6M233.1 114.0h.6M223.7 95.8h.6M227.1 151.0h.6M246.5 96.1h.6M257.9 86.3h.6M233.0 105.5h.6M223.6 117.0h.6M234.0 100.1h.6M236.1 98.0h.6M242.1 94.5h.6M251.5 85.2h.6M232.8 108.8h.6M224.9 97.2h.6M263.3 85.5h.6M249.3 91.8h.6M224.8 131.0h.6M215.0 148.6h.6M239.2 96.0h.6M276.1 69.2h.6M219.0 148.5h.6M229.5 122.2h.6M271.9 82.3h.6M254.3 89.9h.6M256.5 85.7h.6M285.3 83.9h.6M267.6 82.8h.6M252.4 96.2h.6M222.8 90.9h.6M230.6 109.2h.6M254.3 77.6h.6M240.5 102.1h.6M272.7 86.0h.6M264.8 90.4h.6M238.4 104.3h.6M259.6 79.7h.6M274.7 73.2h.6M232.2 122.9h.6M228.0 147.7h.6M248.2 108.0h.6M279.0 88.2h.6M225.0 114.0h.6M238.1 95.1h.6M262.0 91.8h.6M269.4 89.0h.6M251.6 93.9h.6M249.3 93.5h.6M248.0 99.9h.6M281.7 81.8h.6M248.1 79.6h.6M269.1 79.1h.6M259.5 93.0h.6M238.4 102.3h.6M276.2 94.5h.6M281.9 87.8h.6M242.9 92.2h.6M255.0 93.6h.6M247.4 82.3h.6M288.9 89.0h.6M235.5 83.9h.6M238.5 102.8h.6M255.0 92.0h.6M218.7 113.6h.6M239.8 99.4h.6M220.0 156.3h.6M245.6 99.6h.6M288.9 84.5h.6M279.9 84.0h.6M246.2 83.3h.6M222.7 113.7h.6M245.3 109.7h.6M278.7 89.3h.6M257.6 76.2h.6M235.3 94.1h.6M250.9 93.4h.6M218.3 109.5h.6M238.9 104.3h.6M270.1 94.8h.6M231.6 162.0h.6M242.4 105.9h.6M245.2 95.7h.6M226.3 99.5h.6M229.7 82.9h.6M219.4 139.7h.6M224.4 120.7h.6M228.1 117.6h.6M264.7 97.6h.6M253.5 80.5h.6M245.7 86.7h.6M220.0 98.5h.6M238.3 100.7h.6M225.4 109.4h.6M251.6 99.6h.6M248.8 86.9h.6M235.7 114.8h.6M253.0 87.3h.6M223.8 133.3h.6M242.8 101.3h.6M229.1 146.3h.6M212.3 117.4h.6M250.2 81.2h.6M257.6 95.5h.6M227.7 155.2h.6M251.5 83.7h.6M224.0 116.2h.6M281.0 78.4h.6M211.9 124.7h.6M213.8 111.0h.6M246.0 96.6h.6M240.7 99.5h.6M234.1 108.5h.6M260.7 82.9h.6M252.7 93.2h.6M239.1 91.7h.6M235.2 97.5h.6M257.8 79.9h.6M240.8 93.9h.6M242.4 101.2h.6M237.5 110.1h.6M269.0 105.4h.6M256.2 92.3h.6M249.5 93.8h.6M224.8 100.1h.6M271.8 82.5h.6M259.7 87.8h.6M254.3 101.2h.6M266.8 73.9h.6M261.7 88.9h.6M259.2 96.5h.6M239.8 105.5h.6M217.2 142.7h.6M252.7 92.6h.6M270.6 70.3h.6M262.3 81.0h.6M249.0 87.8h.6M269.4 87.3h.6M248.6 84.2h.6M266.6 93.0h.6M225.3 128.9h.6M232.6 105.7h.6M232.9 96.0h.6M260.5 83.3h.6M226.1 106.8h.6M263.1 90.5h.6M237.7 96.0h.6M227.6 142.1h.6M260.7 79.0h.6M265.8 85.5h.6M266.9 72.9h.6M235.2 138.9h.6M271.0 81.6h.6M269.0 91.6h.6M230.9 162.3h.6M243.2 84.5h.6M244.1 100.6h.6M233.4 125.5h.6M234.4 96.7h.6M249.3 94.4h.6M280.4 81.7h.6M235.3 98.2h.6M277.9 72.8h.6M258.3 67.2h.6M224.3 120.3h.6M271.5 97.0h.6M235.7 125.4h.6M231.7 113.0h.6M233.5 138.3h.6M235.5 101.6h.6M227.0 103.5h.6M220.9 128.6h.6M225.7 144.4h.6M243.8 98.2h.6M220.0 126.0h.6M274.2 94.1h.6M268.5 76.1h.6M239.6 102.2h.6M218.9 140.7h.6M249.9 92.4h.6M230.1 154.7h.6M285.4 84.2h.6M235.2 119.2h.6M274.0 88.8h.6M263.6 86.1h.6M267.7 84.5h.6M233.9 80.9h.6M265.8 91.5h.6M264.3 89.4h.6M263.5 95.0h.6M251.8 94.0h.6M258.2 82.5h.6M228.5 123.4h.6M248.1 92.7h.6M255.9 94.6h.6M239.6 104.8h.6M233.8 103.0h.6M268.0 87.2h.6M283.9 73.4h.6M254.3 93.7h.6M232.8 112.7h.6M232.9 96.9h.6M252.0 80.7h.6M231.8 91.9h.6M273.1 99.4h.6M232.1 114.5h.6M233.0 111.3h.6M285.4 76.6h.6M239.6 94.3h.6M266.7 76.3h.6M226.7 98.5h.6M235.8 106.9h.6M247.5 90.6h.6M221.5 100.5h.6M217.9 136.9h.6M255.7 92.6h.6M249.3 103.2h.6M272.0 77.7h.6M239.0 107.2h.6M245.7 98.8h.6M237.2 100.2h.6M259.8 94.6h.6M269.8 83.7h.6M230.0 140.8h.6M226.8 119.4h.6M204.6 123.9h.6M273.3 93.1h.6M247.6 99.4h.6M245.2 82.5h.6M210.2 147.3h.6M276.6 91.9h.6M239.1 97.5h.6M218.6 144.9h.6M230.2 140.7h.6M263.6 92.5h.6M225.6 122.6h.6M219.8 121.9h.6M246.5 95.3h.6M237.8 112.3h.6M229.5 117.9h.6M286.0 95.6h.6M254.3 77.5h.6M265.1 87.9h.6M223.0 148.4h.6M273.8 89.2h.6M256.7 98.7h.6M215.7 153.7h.6M223.3 119.6h.6M234.5 94.2h.6M256.7 90.8h.6M227.2 122.1h.6M233.5 93.3h.6M220.8 101.6h.6M221.1 149.7h.6M265.7 86.3h.6M231.3 121.8h.6M220.1 96.6h.6M230.4 119.4h.6M249.5 94.9h.6M279.7 99.5h.6M277.2 70.5h.6M226.0 142.5h.6M226.9 99.1h.6M216.4 115.1h.6M265.0 86.2h.6M266.5 76.6h.6M261.2 79.4h.6M238.1 105.8h.6M280.8 90.3h.6M212.5 134.3h.6M248.5 85.6h.6M241.4 110.6h.6M238.3 106.4h.6M278.2 81.9h.6M281.7 66.7h.6M228.0 94.2h.6M243.9 85.7h.6M233.8 106.6h.6M264.4 93.4h.6M228.5 121.3h.6M250.1 88.4h.6M263.8 89.0h.6M234.1 94.1h.6M229.4 121.3h.6M262.5 80.2h.6M241.7 83.2h.6M247.3 99.6h.6M287.0 87.4h.6M264.7 83.0h.6M227.9 142.9h.6M262.1 81.2h.6M247.4 92.8h.6M261.9 79.2h.6M259.9 83.8h.6M266.6 91.6h.6M227.3 123.1h.6M222.3 111.0h.6M259.1 83.8h.6M248.8 107.5h.6M219.9 142.2h.6M249.4 87.9h.6M226.9 82.2h.6M222.7 143.2h.6M252.9 91.2h.6M271.8 89.4h.6M221.8 117.4h.6M264.5 75.5h.6M232.3 122.9h.6M272.2 93.1h.6M276.8 80.7h.6M229.9 150.4h.6M262.8 91.2h.6M267.0 82.0h.6M209.4 147.8h.6M234.9 114.0h.6M231.2 101.3h.6M280.9 98.9h.6M228.4 150.1h.6M231.2 93.1h.6M229.5 93.8h.6M224.6 113.2h.6M281.5 84.9h.6M219.2 142.2h.6M230.7 117.5h.6M216.8 115.0h.6M260.0 92.3h.6M222.7 101.7h.6M282.4 81.7h.6M275.5 100.1h.6M264.0 73.3h.6M251.9 91.6h.6M295.8 87.5h.6M229.9 112.6h.6M230.6 146.6h.6M217.9 125.1h.6M234.1 97.5h.6M247.3 98.3h.6M219.5 153.3h.6M289.5 79.2h.6M242.9 97.6h.6M268.1 92.9h.6M256.6 80.6h.6M243.6 86.9h.6M221.7 141.7h.6M237.9 105.3h.6M224.5 144.0h.6M216.1 130.1h.6M219.3 132.6h.6M260.7 97.3h.6M268.4 78.6h.6M244.5 91.5h.6M215.9 126.1h.6M254.7 77.3h.6M244.0 78.3h.6M256.1 98.6h.6M246.0 101.3h.6M260.4 84.3h.6M233.4 99.8h.6M261.5 97.5h.6M257.2 84.1h.6M218.9 135.1h.6M280.2 76.3h.6M270.2 81.8h.6M267.4 85.8h.6M236.4 108.6h.6M255.8 97.0h.6M253.6 96.5h.6M248.4 84.5h.6M264.2 87.1h.6M255.8 81.6h.6M252.7 91.4h.6M262.4 75.3h.6M251.6 85.9h.6M250.5 96.4h.6M251.5 94.6h.6M237.7 93.3h.6M230.0 99.9h.6M262.0 87.0h.6M244.5 113.8h.6M258.0 97.3h.6M225.5 107.8h.6M226.8 118.2h.6M277.8 73.9h.6M225.9 92.7h.6M260.6 92.0h.6M269.7 85.0h.6M215.6 153.7h.6M227.2 100.1h.6M263.6 96.5h.6M233.2 88.4h.6M233.0 100.4h.6M268.0 79.4h.6M237.1 92.7h.6M280.8 84.3h.6M224.4 138.3h.6M257.7 89.8h.6M256.7 86.4h.6M263.3 86.8h.6M266.2 85.7h.6M251.1 88.9h.6M225.6 158.3h.6M243.9 101.2h.6M260.9 84.9h.6M248.6 111.1h.6M240.7 87.2h.6M263.5 98.4h.6M240.3 118.8h.6M242.3 98.9h.6M228.0 123.1h.6M254.1 93.9h.6M242.6 89.4h.6M224.8 153.8h.6M236.8 99.8h.6M236.9 104.9h.6M232.3 89.2h.6M228.5 147.2h.6M239.2 116.3h.6M228.7 124.9h.6M225.9 125.7h.6M219.9 144.6h.6M217.5 138.2h.6M258.5 70.7h.6M248.9 99.0h.6M279.1 77.7h.6M229.4 90.7h.6M249.1 97.5h.6M229.7 127.6h.6M234.0 104.9h.6M218.4 112.3h.6M259.2 85.7h.6M257.2 89.6h.6M285.9 87.5h.6M225.6 157.1h.6M244.9 85.3h.6M266.9 83.5h.6M224.2 146.1h.6M268.0 98.2h.6M234.8 101.6h.6M268.7 86.2h.6M233.7 93.9h.6M251.0 98.4h.6M256.7 89.9h.6M224.1 102.3h.6M226.7 108.5h.6M259.6 83.9h.6M246.9 89.5h.6M273.7 84.1h.6M265.5 89.2h.6M216.1 151.2h.6M251.3 89.7h.6M272.4 77.4h.6M286.4 85.5h.6M261.3 82.0h.6M220.1 105.6h.6M223.9 141.0h.6M259.6 78.9h.6M267.1 69.8h.6M220.2 102.5h.6M288.6 76.9h.6M226.6 155.8h.6M277.6 73.3h.6M256.8 87.2h.6M236.5 86.7h.6M271.1 83.4h.6M282.6 79.9h.6M227.0 137.3h.6M251.6 90.1h.6M232.9 139.0h.6M248.1 90.3h.6M232.7 101.1h.6M262.7 84.5h.6M266.3 81.7h.6M269.9 77.0h.6M227.7 94.6h.6M276.9 82.2h.6M216.6 118.5h.6M226.3 134.9h.6M255.4 81.8h.6M243.3 87.8h.6M279.9 94.1h.6M234.1 112.7h.6M228.6 121.1h.6M262.9 87.1h.6M226.1 149.3h.6M272.4 75.0h.6M268.5 84.4h.6M218.3 150.5h.6M248.1 98.2h.6M231.2 112.6h.6M251.0 95.0h.6M249.6 100.8h.6M276.7 83.9h.6M238.1 93.1h.6M216.5 122.6h.6M274.7 90.7h.6M218.9 111.2h.6M257.0 88.6h.6M242.9 95.4h.6M263.7 90.1h.6M262.7 79.8h.6M279.2 85.2h.6M224.2 138.3h.6M266.9 71.5h.6M212.2 117.9h.6M292.4 84.1h.6M229.2 138.9h.6M239.6 110.2h.6M241.3 107.2h.6M219.7 137.5h.6M258.5 87.2h.6M251.8 89.3h.6M247.7 81.0h.6M250.2 87.7h.6M252.3 88.2h.6M256.2 96.2h.6M225.2 128.5h.6M264.5 77.9h.6M271.1 82.0h.6M272.7 92.4h.6M214.8 146.7h.6M257.7 77.8h.6M254.6 102.8h.6M250.4 100.7h.6M240.0 102.2h.6M223.6 121.5h.6M276.5 84.7h.6M288.0 80.7h.6M260.1 91.2h.6M228.3 130.7h.6M224.8 141.7h.6M251.0 95.5h.6M270.7 83.0h.6M222.8 130.2h.6M238.4 100.1h.6M251.0 90.4h.6M275.1 85.3h.6M263.2 94.9h.6M273.7 81.5h.6M235.9 131.0h.6M272.5 91.5h.6M238.3 102.4h.6M249.7 86.2h.6M242.1 105.6h.6M244.3 100.4h.6M293.0 89.5h.6M217.2 143.2h.6M219.9 137.2h.6M244.3 94.6h.6M272.3 86.6h.6M215.9 124.2h.6M278.4 83.7h.6M223.4 99.6h.6M271.4 81.7h.6M266.3 95.1h.6M230.4 100.8h.6M261.7 82.6h.6M267.3 76.9h.6M224.1 126.8h.6M253.2 98.2h.6M249.9 103.7h.6M240.6 89.5h.6M232.5 118.5h.6M239.6 107.9h.6M253.9 108.1h.6M277.2 75.8h.6M286.3 74.9h.6M243.1 99.3h.6M235.3 98.6h.6M273.5 67.6h.6M229.5 101.2h.6M248.5 88.6h.6M275.7 80.7h.6M209.6 142.9h.6M278.6 74.7h.6M222.5 112.0h.6M232.7 92.6h.6M224.0 113.1h.6M246.3 94.8h.6M224.6 102.1h.6M227.2 108.0h.6M267.6 79.1h.6M275.8 87.5h.6M242.2 104.7h.6M268.2 85.1h.6M269.5 75.2h.6M273.6 79.8h.6M209.4 101.9h.6M235.9 91.5h.6M233.4 91.6h.6M259.4 98.4h.6M270.7 89.6h.6M229.9 107.1h.6M234.4 121.7h.6M232.1 140.1h.6M237.4 88.2h.6M273.6 95.4h.6M248.0 85.6h.6M220.7 126.8h.6M225.6 103.6h.6M261.2 83.5h.6M255.0 90.7h.6M236.6 97.7h.6M262.4 98.0h.6M260.9 93.6h.6M233.0 120.4h.6M255.5 86.3h.6M244.0 110.3h.6M235.3 98.5h.6M224.9 121.4h.6M238.1 126.8h.6M240.8 101.8h.6M226.9 153.3h.6M269.9 96.4h.6M239.0 101.7h.6M267.4 88.5h.6M237.3 118.4h.6M234.2 101.3h.6M277.0 75.6h.6M224.5 112.9h.6M240.7 98.6h.6M255.9 96.2h.6M223.6 131.4h.6M267.5 84.5h.6M249.6 93.5h.6M238.0 89.8h.6M263.6 77.1h.6M224.5 131.1h.6M279.6 88.9h.6M250.0 101.9h.6M269.2 80.7h.6M264.4 89.7h.6M271.0 89.2h.6M259.8 71.0h.6M263.8 86.6h.6M259.2 71.6h.6M221.9 129.6h.6M267.0 75.6h.6M223.5 135.4h.6M226.3 120.6h.6M208.9 105.8h.6M234.2 87.6h.6M273.9 67.6h.6M222.2 135.5h.6M284.1 71.0h.6M224.4 133.6h.6M240.4 90.5h.6M237.5 102.8h.6M277.4 94.3h.6M229.4 82.1h.6M227.5 110.8h.6M250.1 84.3h.6M235.5 102.8h.6M238.5 107.7h.6M230.0 110.2h.6M230.2 135.9h.6M228.9 156.1h.6M220.7 133.7h.6M215.2 134.3h.6M227.7 107.2h.6M223.3 139.9h.6M254.1 88.6h.6M252.3 85.7h.6M263.6 80.7h.6M278.5 66.4h.6M256.4 81.2h.6M285.6 83.2h.6M276.9 83.7h.6M267.2 78.4h.6M222.4 155.8h.6M276.2 90.4h.6M232.7 99.4h.6M230.9 119.3h.6M279.1 74.3h.6M257.0 89.3h.6M262.7 86.8h.6M254.3 71.6h.6M240.5 110.0h.6M268.6 73.1h.6M217.4 147.3h.6M230.0 152.5h.6M230.3 120.1h.6M229.5 120.2h.6M224.9 142.1h.6M270.8 61.6h.6M241.5 82.5h.6M251.1 109.7h.6M216.7 127.0h.6M266.9 76.3h.6M265.4 95.1h.6M219.7 114.9h.6M230.3 131.0h.6M272.4 88.0h.6M260.6 91.5h.6M220.0 144.0h.6M233.3 93.2h.6M251.0 92.0h.6M273.7 74.9h.6M274.9 92.7h.6M252.8 85.6h.6M235.4 79.2h.6M230.4 108.1h.6M224.9 139.4h.6M242.4 109.4h.6M280.7 84.9h.6M236.7 122.0h.6M235.3 83.7h.6M225.5 143.9h.6M211.8 113.0h.6M254.1 78.5h.6M219.3 150.0h.6M240.1 86.4h.6M235.1 121.2h.6M222.2 119.7h.6M254.8 80.5h.6M246.6 95.6h.6M244.3 104.2h.6M267.9 78.9h.6M242.2 87.3h.6M232.0 147.2h.6M248.3 96.1h.6M227.7 94.0h.6M258.2 90.0h.6M212.2 127.1h.6M239.2 97.3h.6M211.5 131.0h.6M271.5 85.1h.6M240.5 104.5h.6M247.1 96.6h.6M245.1 97.5h.6M264.3 104.6h.6M232.0 102.7h.6M268.3 94.2h.6M224.6 114.0h.6M247.9 86.7h.6M252.0 85.5h.6M233.3 118.4h.6M265.4 86.8h.6M222.7 140.7h.6M260.9 86.6h.6M255.4 86.7h.6M220.4 163.5h.6M252.8 98.5h.6M234.5 98.5h.6M234.7 154.7h.6M269.4 79.8h.6M233.0 131.5h.6M239.8 92.6h.6M258.8 88.5h.6M265.8 86.7h.6M256.5 83.0h.6M246.8 97.9h.6M269.9 70.9h.6M257.9 77.9h.6M217.8 108.0h.6M250.6 112.8h.6M252.4 86.0h.6M231.4 141.7h.6M248.5 101.7h.6M272.8 67.7h.6M260.8 96.4h.6M233.5 120.1h.6M265.0 79.7h.6M260.4 83.6h.6M274.3 93.4h.6M245.0 94.7h.6M263.3 91.8h.6M231.1 100.2h.6M233.6 108.6h.6M233.2 96.1h.6M236.2 110.9h.6M242.5 108.7h.6M267.2 85.7h.6M233.7 116.1h.6M234.6 95.3h.6M267.6 73.3h.6M267.8 84.9h.6M225.1 149.6h.6M269.3 79.4h.6M223.2 124.2h.6M213.1 123.6h.6M234.9 148.8h.6M220.0 122.0h.6M267.6 85.1h.6M254.3 82.8h.6M253.2 75.3h.6M245.9 74.2h.6M242.0 89.3h.6M216.8 160.8h.6M228.5 122.6h.6M221.1 135.4h.6M255.0 86.6h.6M238.9 111.6h.6M265.0 94.0h.6M266.6 85.2h.6M248.5 105.4h.6M252.2 91.7h.6M228.0 91.8h.6M266.3 84.7h.6M245.5 95.2h.6M225.4 136.5h.6M226.7 152.3h.6M244.4 96.6h.6M254.7 77.7h.6M246.8 93.6h.6M268.8 86.6h.6M248.3 73.6h.6M280.6 88.7h.6M218.5 147.9h.6M266.6 80.3h.6M274.2 88.6h.6M257.0 94.2h.6M272.2 90.2h.6M239.1 101.0h.6M255.7 80.4h.6M235.5 90.7h.6M225.0 149.0h.6M239.4 80.6h.6M247.9 94.3h.6M237.4 104.3h.6M215.1 122.1h.6M272.3 89.3h.6M277.2 87.7h.6M282.8 79.3h.6M285.6 54.4h.6M228.1 111.6h.6M217.8 140.1h.6M233.5 109.8h.6M224.3 112.0h.6M219.7 104.9h.6M276.7 88.8h.6M222.5 135.0h.6M230.2 132.8h.6M241.5 109.8h.6M204.5 124.9h.6M229.6 97.1h.6M268.6 86.8h.6M224.1 140.7h.6M222.1 104.6h.6M272.2 76.3h.6M226.4 125.0h.6M266.3 75.4h.6M239.4 105.8h.6M247.9 91.2h.6M216.0 144.1h.6M261.3 86.8h.6M219.8 114.0h.6M253.8 81.2h.6M225.3 140.4h.6M227.3 104.9h.6M236.1 93.3h.6M246.4 102.3h.6M278.7 87.9h.6M275.3 89.1h.6M230.8 98.8h.6M268.0 98.2h.6M219.8 104.4h.6M270.0 90.5h.6M241.6 91.1h.6M234.8 102.5h.6M224.5 147.5h.6M240.9 102.7h.6M226.0 108.5h.6M260.6 76.6h.6M271.8 78.7h.6M251.6 90.3h.6M279.7 76.6h.6M269.3 75.8h.6M217.8 119.5h.6M252.9 82.2h.6M230.7 141.2h.6M244.0 127.4h.6M232.1 125.6h.6M253.1 91.2h.6M218.9 150.5h.6M229.7 117.6h.6M247.1 97.2h.6M281.3 90.9h.6M235.8 106.0h.6M259.6 87.0h.6M249.0 87.5h.6M261.9 89.1h.6M233.2 115.9h.6M267.9 63.2h.6M221.6 128.1h.6M248.7 94.5h.6M242.2 87.1h.6M238.6 86.1h.6M266.9 88.9h.6M214.9 110.0h.6M284.8 77.0h.6M248.2 89.7h.6M272.2 93.7h.6M269.7 74.5h.6M241.9 100.0h.6M271.0 82.1h.6M271.3 79.0h.6M233.3 98.0h.6M269.0 82.7h.6M230.1 92.8h.6M244.9 105.9h.6M237.1 105.1h.6M278.6 86.5h.6M292.0 92.4h.6M242.0 73.7h.6M223.0 119.4h.6M245.7 98.2h.6M236.4 113.9h.6M271.9 77.3h.6M282.6 91.1h.6M237.1 99.8h.6M223.4 106.8h.6M248.9 75.5h.6M220.5 127.0h.6M268.1 79.5h.6M242.3 93.3h.6M237.8 89.4h.6M249.2 94.7h.6M238.2 109.7h.6M223.8 112.5h.6M254.7 78.9h.6M236.4 87.6h.6M273.8 76.6h.6M247.5 79.3h.6M236.2 87.0h.6M286.1 86.3h.6M222.8 114.9h.6M248.6 91.6h.6M262.3 71.0h.6M232.6 97.3h.6M237.4 162.1h.6M218.4 142.6h.6M228.3 133.4h.6M213.9 137.9h.6M227.7 128.7h.6M266.7 103.9h.6M230.5 106.4h.6M249.4 93.7h.6M272.5 98.7h.6M246.1 94.0h.6M262.3 81.2h.6M265.6 88.9h.6M243.5 104.5h.6M262.9 91.6h.6M241.6 116.0h.6M244.7 98.7h.6M231.7 117.1h.6M265.8 87.3h.6M229.8 98.1h.6M248.8 83.4h.6M295.7 81.4h.6M224.4 132.2h.6M221.1 153.7h.6M234.1 91.4h.6M235.7 102.5h.6M234.5 109.4h.6M230.5 108.6h.6M249.0 90.9h.6M280.3 90.1h.6M226.1 138.8h.6M221.3 145.6h.6M252.5 78.6h.6M235.9 104.0h.6M279.3 86.7h.6M214.1 122.7h.6M239.6 92.9h.6M222.2 102.8h.6M274.1 99.9h.6M232.7 129.8h.6M217.6 136.8h.6M225.0 106.6h.6M245.1 88.3h.6M274.4 68.4h.6M239.8 97.2h.6M232.2 116.4h.6M217.2 140.5h.6M222.4 117.6h.6M276.7 84.0h.6M250.9 79.6h.6M218.1 155.8h.6M273.6 83.0h.6M240.1 94.5h.6M234.9 121.8h.6M247.4 77.1h.6M229.2 118.7h.6M228.4 144.2h.6M245.7 77.4h.6M266.3 96.7h.6M248.9 90.3h.6M234.5 136.5h.6M269.4 94.8h.6M228.2 100.2h.6M257.9 80.3h.6M241.0 102.1h.6M253.6 94.4h.6M281.9 81.6h.6M253.6 91.9h.6M228.8 110.9h.6M232.5 105.9h.6M237.1 98.0h.6M228.1 118.5h.6M250.1 90.0h.6M266.9 87.3h.6M229.5 116.1h.6M232.4 98.3h.6M228.2 113.1h.6M271.9 85.1h.6M218.0 127.8h.6M272.7 81.8h.6M243.0 112.8h.6M206.5 98.5h.6M267.2 86.8h.6M238.6 117.8h.6M269.2 76.8h.6M265.3 87.5h.6M230.0 116.8h.6M275.3 81.9h.6M232.6 130.3h.6M274.7 112.1h.6M215.4 98.7h.6M224.0 128.6h.6M230.5 143.7h.6M265.7 84.8h.6M239.0 92.6h.6M218.7 119.2h.6M241.4 109.4h.6M265.6 84.4h.6M239.9 89.4h.6M263.7 83.7h.6M274.6 80.4h.6M222.6 120.4h.6M249.2 103.1h.6M234.6 106.1h.6M237.7 81.5h.6M265.3 82.6h.6M239.7 102.9h.6M260.0 95.5h.6M240.6 85.5h.6M240.5 127.9h.6M249.3 97.1h.6M233.1 94.4h.6M241.4 108.5h.6M262.8 65.8h.6M244.6 105.8h.6M243.6 95.4h.6M236.3 101.6h.6M236.1 136.8h.6M252.8 78.7h.6M236.3 93.0h.6M228.1 103.7h.6M255.4 85.2h.6M264.7 92.7h.6M252.2 76.8h.6M237.6 78.9h.6M248.4 105.1h.6M269.6 83.4h.6M275.9 81.4h.6M255.2 88.1h.6M266.1 71.1h.6M232.4 101.2h.6M240.5 114.1h.6M254.7 97.6h.6M223.9 147.7h.6M261.1 75.3h.6M271.3 90.7h.6M229.3 135.2h.6M258.7 88.6h.6M236.3 97.1h.6M260.1 98.5h.6M224.2 136.3h.6M251.4 79.6h.6M242.0 113.5h.6M223.0 132.8h.6M231.9 144.9h.6M235.4 124.4h.6M238.3 95.4h.6M253.8 107.7h.6M272.8 86.0h.6M221.2 155.4h.6M237.4 110.1h.6M230.3 117.0h.6M246.5 88.0h.6M217.1 146.1h.6M273.9 81.8h.6M263.4 88.5h.6M229.0 145.2h.6M249.1 80.6h.6M269.8 94.1h.6M219.1 124.1h.6M282.5 94.5h.6M277.1 86.0h.6M274.7 89.3h.6M234.3 105.8h.6M263.0 79.1h.6M257.0 86.9h.6M236.1 108.7h.6M233.8 124.9h.6M218.0 119.2h.6M218.0 121.3h.6M221.0 101.6h.6M261.6 82.6h.6M227.5 121.5h.6M240.8 122.0h.6M227.3 102.5h.6M245.0 91.1h.6M247.8 96.6h.6M242.7 95.4h.6M251.0 93.1h.6M245.6 101.7h.6M251.7 97.3h.6M266.0 88.7h.6M243.4 89.8h.6M269.8 75.6h.6M241.3 99.0h.6M271.0 81.0h.6M254.6 92.4h.6M273.6 89.8h.6M223.4 122.2h.6M251.3 89.6h.6M270.3 92.7h.6M226.2 119.3h.6M249.9 85.2h.6M264.6 77.0h.6M229.5 101.4h.6M273.5 76.1h.6M255.3 86.4h.6M264.8 91.7h.6M240.3 112.7h.6M233.8 129.8h.6M226.9 149.0h.6M252.6 86.3h.6M256.1 109.2h.6M268.9 84.1h.6M241.1 113.7h.6M221.8 105.7h.6M241.2 96.3h.6M221.6 108.9h.6M229.8 124.2h.6M265.5 88.5h.6M284.0 95.1h.6M265.6 94.2h.6M279.3 80.2h.6M232.8 112.5h.6M258.1 84.9h.6M267.9 84.1h.6M254.5 98.9h.6M226.5 111.4h.6M253.2 84.9h.6M217.6 154.9h.6M266.9 82.5h.6M227.8 139.1h.6M274.1 79.9h.6M257.3 95.4h.6M229.3 117.3h.6M226.4 106.9h.6M241.2 100.4h.6M258.5 87.6h.6M219.5 142.2h.6M224.7 118.4h.6M229.7 125.1h.6M220.0 145.0h.6M221.1 110.7h.6M273.2 72.8h.6M227.6 107.5h.6M232.3 110.4h.6M272.8 90.6h.6M237.8 92.7h.6M263.6 84.6h.6M254.4 91.5h.6M232.7 133.5h.6M262.8 90.0h.6M230.8 139.1h.6M266.6 88.2h.6M250.2 99.0h.6M224.0 122.0h.6M230.1 107.8h.6M221.3 133.9h.6M249.1 80.8h.6M233.2 98.0h.6M244.6 81.3h.6M251.8 93.6h.6M263.1 87.0h.6M273.5 97.1h.6M233.2 114.5h.6M262.9 83.8h.6M268.3 81.0h.6M220.1 130.0h.6M250.2 88.0h.6M259.4 87.4h.6M225.9 131.0h.6M261.1 87.0h.6M265.0 82.4h.6M252.7 83.0h.6M266.6 85.1h.6M262.5 82.6h.6M249.9 87.3h.6M249.9 100.5h.6M275.2 94.4h.6M259.0 111.3h.6M222.3 133.8h.6M229.8 117.0h.6M266.2 94.6h.6M216.4 119.7h.6M232.5 124.3h.6M283.2 86.3h.6M267.1 101.8h.6M218.7 150.5h.6M249.6 86.6h.6M254.6 72.2h.6M231.5 134.4h.6M264.4 73.7h.6M217.9 115.8h.6M228.3 93.1h.6M233.3 108.3h.6M236.9 84.9h.6M209.1 157.5h.6M247.2 88.8h.6M254.9 94.9h.6M260.0 73.8h.6M232.8 110.1h.6M266.5 74.8h.6M262.4 87.5h.6M225.8 119.6h.6M216.3 120.6h.6M275.5 79.6h.6M217.7 157.4h.6M227.2 99.1h.6M238.9 100.8h.6M245.1 108.9h.6M212.6 139.7h.6M222.4 124.2h.6M225.7 138.4h.6M254.6 98.5h.6M220.5 112.3h.6M250.9 106.8h.6M224.5 114.3h.6M234.7 141.3h.6M245.4 102.3h.6M266.0 93.5h.6M247.2 84.1h.6M266.4 79.7h.6M227.8 122.9h.6M264.1 91.2h.6M243.6 80.3h.6M224.2 147.4h.6M230.4 96.5h.6M265.2 79.4h.6M274.0 83.2h.6M264.9 78.6h.6M283.4 83.9h.6M219.4 139.0h.6M245.0 91.8h.6M214.3 157.0h.6M243.1 95.5h.6M218.6 153.3h.6M213.1 142.4h.6M236.3 132.9h.6M231.7 96.1h.6M241.6 94.2h.6M272.4 71.3h.6M218.2 133.2h.6M234.6 128.0h.6M266.1 103.7h.6M259.8 88.6h.6M260.9 92.4h.6M220.8 153.0h.6M232.7 104.2h.6M254.2 83.9h.6M225.7 161.9h.6M242.4 95.2h.6M239.1 109.3h.6M229.2 106.7h.6M246.8 97.1h.6M264.9 82.1h.6M275.4 80.9h.6M263.2 71.7h.6M257.1 75.9h.6M261.0 93.7h.6M223.2 122.7h.6M243.4 90.0h.6M265.8 86.9h.6M241.6 106.3h.6M212.7 136.0h.6M269.7 90.3h.6M233.5 116.0h.6M294.9 76.2h.6M225.0 128.0h.6M258.9 93.0h.6M270.7 77.1h.6M223.6 149.7h.6M275.7 72.9h.6M231.6 103.3h.6M255.2 87.3h.6M248.8 79.8h.6M228.2 163.9h.6M267.0 89.7h.6M225.2 129.2h.6M254.0 102.7h.6M256.2 96.5h.6M262.7 95.0h.6M253.5 84.5h.6M281.2 90.6h.6M224.1 117.8h.6M252.2 111.7h.6M269.9 85.3h.6M249.8 92.6h.6M284.0 90.7h.6M245.1 93.4h.6M250.8 101.0h.6M232.8 101.8h.6M227.1 98.8h.6M229.3 129.1h.6M260.3 90.0h.6M236.3 103.4h.6M231.9 97.7h.6M229.7 116.6h.6M257.3 74.9h.6M218.0 133.4h.6M253.1 89.7h.6M229.5 117.6h.6M263.8 96.2h.6M226.4 133.7h.6M252.6 88.8h.6M252.1 82.8h.6M219.5 149.8h.6M264.5 70.8h.6M285.5 72.4h.6M247.0 71.3h.6M227.9 129.6h.6M263.7 83.3h.6M263.7 83.4h.6M280.5 88.2h.6M262.3 91.9h.6M272.2 74.1h.6M233.8 123.5h.6M249.9 82.0h.6M239.9 90.1h.6M223.9 100.7h.6M284.1 71.6h.6M231.2 117.1h.6M226.3 129.3h.6M270.3 79.3h.6M259.6 80.4h.6M246.8 91.2h.6M256.3 98.3h.6M198.0 127.5h.6M247.1 90.2h.6M276.0 90.0h.6M246.4 100.8h.6M238.8 96.3h.6M223.4 112.6h.6M227.2 126.4h.6M268.5 71.9h.6M211.5 122.7h.6M269.3 91.7h.6M274.8 92.6h.6M231.3 146.5h.6M268.5 84.5h.6M224.8 149.5h.6M265.2 84.8h.6M275.2 86.8h.6M229.0 135.8h.6M255.5 81.9h.6M243.8 98.2h.6M222.7 133.1h.6M230.0 105.7h.6M246.2 87.9h.6M281.1 95.2h.6M244.9 78.7h.6M273.4 82.3h.6M241.1 77.5h.6M240.0 102.5h.6M225.6 130.0h.6M240.5 89.2h.6M247.4 84.2h.6M211.3 145.8h.6M220.4 114.9h.6M238.2 89.0h.6M222.2 116.9h.6M212.1 148.3h.6M265.8 90.9h.6M259.5 86.6h.6M264.9 81.6h.6M233.0 93.1h.6M257.7 79.7h.6M224.6 134.2h.6M227.1 96.7h.6M237.5 91.6h.6M255.0 85.6h.6M236.3 113.5h.6M233.5 98.1h.6M220.5 158.1h.6M255.6 78.1h.6M216.6 163.9h.6M233.8 115.4h.6M223.2 121.4h.6M246.2 95.7h.6M279.6 72.7h.6M254.5 85.3h.6M282.6 72.9h.6M248.5 95.5h.6M254.7 80.6h.6M230.0 112.8h.6M267.1 87.0h.6M212.6 116.6h.6M232.2 110.6h.6M243.7 104.1h.6M243.4 103.8h.6M264.9 82.8h.6M214.5 165.5h.6M225.5 126.9h.6M221.8 105.7h.6M235.8 98.5h.6M223.9 107.0h.6M223.7 125.8h.6M251.9 84.5h.6M284.4 79.1h.6M272.2 73.3h.6M279.0 90.6h.6M252.0 65.6h.6M231.3 96.1h.6M234.7 100.1h.6M258.4 75.9h.6M249.5 96.8h.6M225.7 128.0h.6M217.1 112.2h.6M260.7 86.5h.6M267.4 87.7h.6M225.8 100.8h.6M255.6 89.9h.6M226.7 132.5h.6M240.3 84.4h.6M228.6 144.9h.6M225.2 157.8h.6M271.7 83.1h.6M229.7 109.7h.6M270.7 84.9h.6M263.5 92.5h.6M229.5 139.8h.6M248.4 84.4h.6M266.4 95.3h.6M250.2 75.9h.6M259.6 75.8h.6M274.0 68.5h.6M229.4 105.8h.6M240.8 116.0h.6M265.2 81.4h.6M244.1 88.3h.6M272.6 79.9h.6M226.2 133.9h.6M236.2 119.4h.6M219.8 112.4h.6M250.3 88.8h.6M242.6 110.1h.6M211.7 123.5h.6M280.1 80.1h.6M263.4 87.9h.6M238.7 93.0h.6M218.7 152.2h.6M230.0 109.7h.6M243.2 81.6h.6M248.8 92.3h.6M225.2 112.3h.6M266.4 96.4h.6M225.8 152.9h.6M240.1 103.7h.6M259.4 90.7h.6M226.0 116.3h.6M230.9 138.7h.6M243.5 96.3h.6M259.5 80.3h.6M259.6 91.6h.6M237.3 92.7h.6M236.7 155.2h.6M255.9 96.8h.6M256.6 89.4h.6M242.6 102.3h.6M264.7 78.3h.6M218.7 124.8h.6M244.7 116.8h.6M246.4 93.1h.6M262.9 72.7h.6M230.6 110.2h.6M220.8 137.5h.6M227.5 98.2h.6M252.2 78.2h.6M225.4 121.4h.6M273.7 85.5h.6M229.5 96.2h.6M251.9 82.6h.6M258.5 83.1h.6M230.3 117.8h.6M224.6 139.9h.6M221.9 93.9h.6M256.7 84.2h.6M246.9 99.2h.6M242.3 94.5h.6M245.0 94.9h.6M217.8 129.8h.6M237.2 99.6h.6M232.4 98.7h.6M214.4 120.5h.6M254.4 95.4h.6M262.4 89.3h.6M216.7 124.0h.6M256.0 90.2h.6M227.2 135.0h.6M248.5 80.5h.6M227.5 135.1h.6M247.9 94.3h.6M236.7 107.8h.6M275.1 88.1h.6M255.6 73.1h.6M241.5 100.3h.6M227.3 120.3h.6M232.7 92.2h.6M229.5 152.7h.6M254.3 79.5h.6M224.8 123.2h.6M261.9 98.8h.6M239.8 85.1h.6M240.3 100.6h.6M244.2 108.4h.6M257.7 86.2h.6M252.2 92.5h.6M220.2 155.2h.6M234.2 115.5h.6M267.1 83.4h.6M248.8 87.0h.6M260.7 86.8h.6M240.9 100.3h.6M245.6 115.5h.6M247.0 85.4h.6M232.5 108.0h.6M265.1 96.0h.6M268.0 82.5h.6M265.4 95.8h.6M259.9 97.2h.6M219.1 114.0h.6M247.5 95.2h.6M221.9 114.8h.6M228.2 90.8h.6M255.9 84.1h.6M231.9 104.6h.6M275.7 77.3h.6M263.2 92.9h.6M246.1 85.9h.6M236.2 131.9h.6M281.0 90.6h.6M230.3 114.7h.6M228.8 152.1h.6M243.9 100.9h.6M228.8 144.8h.6M257.5 84.5h.6M260.1 92.5h.6M253.4 86.8h.6M264.0 88.7h.6M235.2 122.8h.6M241.6 103.2h.6M234.3 102.3h.6M219.8 150.6h.6M229.9 116.4h.6M271.7 68.8h.6M265.0 100.4h.6M223.7 150.4h.6M226.4 107.5h.6M225.9 134.5h.6M224.2 141.6h.6M225.3 126.5h.6M215.6 160.6h.6M229.2 165.6h.6M267.6 97.2h.6M242.6 96.6h.6M247.8 87.5h.6M219.6 143.9h.6M231.7 93.5h.6M225.5 113.9h.6M218.6 125.4h.6M274.8 86.1h.6M245.8 86.2h.6M263.5 80.1h.6M270.9 97.7h.6M252.3 69.6h.6M215.9 122.0h.6M231.9 129.4h.6M272.2 78.3h.6M237.7 70.2h.6M264.2 91.9h.6M237.9 94.7h.6M250.4 86.6h.6M289.5 91.1h.6M237.8 97.5h.6M273.1 87.5h.6M241.3 88.5h.6M230.5 92.2h.6M274.7 80.3h.6M227.1 109.1h.6M237.1 90.7h.6M265.4 97.3h.6M236.2 102.1h.6M248.0 85.2h.6M227.7 128.0h.6M218.4 93.7h.6M248.6 102.1h.6M219.2 143.7h.6M261.1 88.8h.6M257.8 87.2h.6M251.0 86.0h.6M231.7 149.0h.6M215.6 123.2h.6M248.6 99.3h.6M239.1 95.8h.6M224.3 147.3h.6M270.2 88.8h.6M235.9 134.6h.6M249.0 92.0h.6M229.3 107.7h.6M227.7 127.9h.6M273.1 82.2h.6M224.8 99.0h.6M249.3 99.5h.6M246.9 96.8h.6M242.9 105.1h.6M277.8 87.9h.6M252.1 112.4h.6M222.0 127.9h.6M260.2 94.0h.6M232.6 115.1h.6M225.8 121.0h.6M257.1 101.1h.6M256.6 76.3h.6M254.3 85.9h.6M269.7 105.7h.6M249.6 91.9h.6M214.2 120.1h.6M231.9 101.4h.6M227.4 151.1h.6M274.5 88.1h.6M251.1 91.2h.6M220.9 119.6h.6M246.4 96.8h.6M247.5 108.2h.6M238.2 106.9h.6M275.3 91.6h.6M252.6 100.9h.6M283.2 84.1h.6M241.3 113.4h.6M223.2 118.5h.6M240.3 82.6h.6M238.7 94.0h.6M236.3 125.9h.6M267.7 87.8h.6M222.4 141.3h.6M244.4 113.8h.6M235.7 108.0h.6M268.4 77.0h.6M258.5 91.5h.6M226.3 91.9h.6M245.5 100.5h.6M237.8 114.9h.6M273.4 90.0h.6M228.7 111.1h.6M266.9 77.7h.6M256.2 83.3h.6M220.4 139.7h.6M266.9 93.3h.6M257.0 97.0h.6M224.3 96.3h.6M260.0 92.8h.6M249.6 103.3h.6M263.5 68.4h.6M235.3 133.2h.6M250.8 93.9h.6M230.7 118.5h.6M253.0 84.9h.6M232.3 103.8h.6M259.4 75.1h.6M263.7 89.9h.6M226.8 150.7h.6M213.9 104.4h.6M270.2 84.8h.6M267.2 93.0h.6M227.7 129.6h.6M217.6 126.4h.6M227.4 113.8h.6M211.3 142.7h.6M215.7 136.0h.6M237.0 111.4h.6M240.4 103.1h.6M266.4 92.6h.6M249.9 72.7h.6M234.3 85.0h.6M248.2 81.8h.6M241.1 90.4h.6M259.6 79.6h.6M252.9 88.0h.6M281.7 89.6h.6M221.3 131.4h.6M223.2 127.6h.6M276.1 82.6h.6M227.3 167.5h.6M231.4 121.7h.6M262.7 88.8h.6M249.0 99.2h.6M228.8 123.8h.6M227.8 137.6h.6M255.5 90.8h.6M226.5 112.9h.6M235.1 99.5h.6M236.3 148.4h.6M252.4 87.4h.6M218.0 108.6h.6M250.5 84.7h.6M277.4 71.4h.6M265.7 93.2h.6M239.0 90.7h.6M280.0 86.9h.6M271.3 86.7h.6M217.8 116.5h.6M259.8 96.6h.6M273.3 74.9h.6M244.1 88.6h.6M219.0 153.6h.6M240.0 105.0h.6M230.0 144.9h.6M254.2 76.0h.6M276.2 81.8h.6M272.3 82.7h.6M262.3 82.7h.6M256.8 87.3h.6M270.3 82.3h.6M241.6 92.4h.6M233.5 84.7h.6M234.2 88.7h.6M232.7 105.2h.6M236.4 92.9h.6M283.9 85.6h.6M275.2 92.6h.6M227.7 139.7h.6M225.5 126.3h.6M279.5 71.7h.6M238.6 107.9h.6M255.0 86.0h.6M262.2 82.2h.6M248.6 101.0h.6M251.4 99.9h.6M219.0 147.9h.6M266.6 70.4h.6M226.4 114.7h.6M234.1 112.9h.6M272.6 80.6h.6M253.2 91.5h.6M281.5 80.2h.6M230.4 113.2h.6M231.6 129.3h.6M256.4 93.8h.6M224.7 115.5h.6M280.4 92.3h.6M225.9 105.3h.6M237.8 90.2h.6M232.4 87.9h.6M242.5 87.8h.6M255.5 92.2h.6M237.8 96.6h.6M271.5 91.9h.6M218.4 123.0h.6M268.3 81.3h.6M229.7 106.5h.6M266.8 75.9h.6M252.0 88.8h.6M228.0 106.5h.6M212.4 136.0h.6M214.7 149.0h.6M272.2 65.9h.6M230.7 92.4h.6M272.6 71.6h.6M275.8 95.6h.6M225.1 149.1h.6M222.8 144.9h.6M263.1 101.4h.6M238.0 85.0h.6M237.6 96.5h.6M220.4 144.3h.6M249.5 88.2h.6M248.7 101.6h.6M240.4 83.7h.6M269.7 88.5h.6M277.4 72.7h.6M235.5 102.9h.6M236.9 98.7h.6M229.7 114.4h.6M239.8 102.0h.6M234.8 118.9h.6M227.4 105.8h.6M216.8 131.7h.6M236.1 107.6h.6M283.7 78.5h.6M228.0 130.3h.6M267.0 93.8h.6M261.9 81.7h.6M270.9 93.1h.6M239.7 125.9h.6M258.0 87.0h.6M242.6 106.8h.6M246.0 88.3h.6M252.4 85.5h.6M221.8 131.6h.6M237.6 115.6h.6M234.6 134.3h.6M231.1 132.4h.6M262.4 81.4h.6M233.2 108.2h.6M252.9 88.1h.6M227.3 120.2h.6M225.1 128.6h.6M232.4 128.5h.6M277.5 84.0h.6M263.2 86.5h.6M221.2 117.3h.6M251.0 104.5h.6M243.6 91.7h.6M231.7 112.2h.6M226.3 99.7h.6M249.4 98.6h.6M261.2 93.0h.6M242.7 96.5h.6M227.3 116.8h.6M244.9 104.4h.6M263.0 88.7h.6M242.9 123.6h.6M228.2 104.7h.6M238.5 127.0h.6M233.8 92.6h.6M214.5 125.8h.6M263.0 88.5h.6M264.2 84.2h.6M263.3 86.1h.6M226.6 119.0h.6M219.4 134.9h.6M267.6 84.1h.6M227.7 147.9h.6M234.2 114.9h.6M262.9 83.5h.6M228.3 107.5h.6M265.2 81.9h.6M241.9 111.0h.6M280.0 72.1h.6M229.4 115.9h.6M219.4 124.0h.6M226.5 123.5h.6M221.0 148.6h.6M228.2 104.5h.6M197.2 157.6h.6M229.4 120.7h.6M227.7 112.0h.6M234.6 120.7h.6M245.2 130.7h.6M239.7 111.3h.6M232.9 108.5h.6M222.2 121.4h.6M244.8 105.0h.6M239.1 104.6h.6M211.6 114.5h.6M254.2 114.8h.6M247.8 124.6h.6M243.3 129.4h.6M242.1 114.6h.6M226.5 102.0h.6M246.5 140.7h.6M247.5 143.5h.6M252.0 126.1h.6M230.1 91.7h.6M227.8 89.8h.6M259.3 114.9h.6M236.7 91.8h.6M213.3 122.3h.6M224.8 116.9h.6M236.4 122.2h.6M246.3 113.8h.6M220.7 108.7h.6M231.1 96.1h.6M225.8 87.0h.6M232.6 134.3h.6M223.1 123.8h.6M244.2 86.4h.6M224.4 115.7h.6M231.5 106.5h.6M240.3 120.7h.6M228.4 118.8h.6M235.2 137.5h.6M229.4 94.8h.6M253.2 104.1h.6M225.2 131.4h.6M238.3 106.0h.6M229.4 125.7h.6M228.3 128.2h.6M217.6 108.6h.6M234.3 109.5h.6M231.0 123.8h.6M236.9 96.0h.6M233.7 84.5h.6M224.2 116.6h.6M227.2 94.9h.6M216.7 107.6h.6M239.5 126.0h.6M243.7 126.4h.6M230.6 137.7h.6M226.9 119.2h.6M259.2 116.1h.6M230.4 100.3h.6M245.8 101.5h.6M224.7 71.0h.6M231.1 133.1h.6M221.8 104.1h.6M233.4 102.0h.6M229.0 92.8h.6M235.7 104.3h.6M237.6 106.7h.6M221.7 97.5h.6M257.4 115.1h.6M225.1 106.6h.6M238.0 106.6h.6M245.9 83.5h.6M240.9 97.5h.6M227.5 124.4h.6M226.6 103.0h.6M229.5 84.9h.6M202.4 92.7h.6M243.7 129.7h.6M252.0 122.1h.6M247.7 110.1h.6M258.2 122.0h.6M226.0 101.8h.6M234.7 118.5h.6M235.3 114.7h.6M241.9 102.9h.6M230.2 102.9h.6M209.6 113.5h.6M239.6 91.4h.6M254.6 125.6h.6M217.9 116.5h.6M211.5 87.7h.6M238.9 91.1h.6M219.5 82.4h.6M236.3 95.4h.6M238.5 112.3h.6M225.5 86.4h.6M220.5 95.9h.6M235.5 106.2h.6M225.7 106.2h.6M238.7 107.0h.6M237.6 101.3h.6M246.3 132.6h.6M240.7 100.8h.6M241.5 120.7h.6M209.5 93.7h.6M225.4 116.8h.6M261.7 134.7h.6M239.8 117.9h.6M225.6 80.3h.6M230.2 122.2h.6M256.3 118.3h.6M241.4 101.9h.6M237.0 122.8h.6M230.8 123.1h.6M232.4 104.1h.6M257.6 119.2h.6M218.4 113.0h.6M238.0 119.4h.6M210.1 113.1h.6M250.3 85.7h.6M240.1 114.6h.6M242.1 94.3h.6M220.9 94.2h.6M222.4 129.7h.6M240.3 110.2h.6M234.3 107.6h.6M237.3 71.6h.6M229.8 104.3h.6M229.5 115.4h.6M226.5 103.2h.6M218.8 100.1h.6M227.0 113.7h.6M210.0 102.6h.6M242.4 97.5h.6M234.9 91.5h.6M243.0 95.6h.6M233.9 111.2h.6M207.7 128.2h.6M243.3 105.4h.6M248.2 96.9h.6M220.3 109.1h.6M218.0 90.9h.6M250.8 101.3h.6M225.6 102.6h.6M233.8 115.1h.6M219.8 113.6h.6M236.7 115.2h.6M228.4 101.6h.6M251.0 130.5h.6M238.1 111.2h.6M203.8 101.7h.6M218.2 113.0h.6M237.3 102.1h.6M236.6 119.1h.6M216.2 101.6h.6M232.9 111.8h.6M246.0 134.6h.6M240.0 126.6h.6M219.4 121.4h.6M239.6 107.3h.6M246.7 102.3h.6M226.9 106.2h.6M217.5 121.5h.6M247.6 124.0h.6M244.4 115.4h.6M230.4 124.6h.6M226.4 96.8h.6M245.0 125.7h.6M237.8 81.6h.6M245.6 96.7h.6M233.5 102.3h.6M221.4 103.2h.6M229.7 111.5h.6M244.6 153.2h.6M234.0 106.1h.6M227.1 136.1h.6M227.9 101.0h.6M249.6 129.3h.6M242.7 102.1h.6M238.6 123.7h.6M228.0 114.9h.6M210.8 121.8h.6M239.6 111.5h.6M207.1 91.1h.6M247.8 99.1h.6M252.1 112.0h.6M244.4 122.4h.6M227.6 104.7h.6M239.6 107.2h.6M226.0 121.5h.6M223.7 99.4h.6M230.9 113.6h.6M238.9 111.4h.6M269.3 121.7h.6M237.6 87.0h.6M240.5 106.7h.6M220.7 132.8h.6M238.1 87.8h.6M244.8 107.9h.6M245.5 107.4h.6M238.8 100.6h.6M225.6 101.0h.6M255.9 98.4h.6M240.2 137.3h.6M256.2 113.1h.6M242.3 119.3h.6M250.1 102.9h.6M215.4 90.2h.6M224.3 124.3h.6M239.4 122.4h.6M244.5 98.8h.6M224.8 95.5h.6M213.6 132.8h.6M252.4 120.1h.6M223.6 110.0h.6M247.7 121.2h.6M259.5 136.1h.6M229.7 123.8h.6M221.5 127.4h.6M232.9 123.1h.6M248.1 110.4h.6M217.1 101.7h.6M238.3 137.7h.6M220.1 79.5h.6M217.2 102.9h.6M219.4 115.9h.6M230.2 102.7h.6M217.9 110.6h.6M235.2 112.0h.6M219.8 114.9h.6M220.6 120.8h.6M214.8 131.3h.6M240.1 139.7h.6M224.4 120.1h.6M234.3 115.1h.6M243.0 116.2h.6M235.5 104.7h.6M231.5 105.8h.6M227.5 113.4h.6M219.3 122.2h.6M241.1 127.0h.6M233.3 104.2h.6M210.5 119.1h.6M225.0 116.9h.6M248.6 139.7h.6M239.0 127.0h.6M237.8 127.6h.6M245.9 96.7h.6M212.3 97.6h.6M229.0 112.3h.6M228.7 120.7h.6M232.9 92.4h.6M243.8 117.7h.6M229.9 118.3h.6M217.3 119.7h.6M228.0 133.4h.6M227.1 92.3h.6M261.5 97.8h.6M247.4 119.5h.6M248.9 105.8h.6M254.6 118.8h.6M237.2 122.4h.6M246.9 87.3h.6M243.5 137.8h.6M239.9 135.3h.6M221.6 91.5h.6M257.8 104.7h.6M236.5 124.7h.6M233.5 106.5h.6M244.8 118.8h.6M240.2 99.9h.6M249.8 130.2h.6M227.5 94.2h.6M207.8 110.1h.6M216.6 115.3h.6M233.8 92.7h.6M240.2 115.6h.6M256.7 115.3h.6M227.3 121.6h.6M235.7 91.5h.6M223.3 130.9h.6M241.2 100.5h.6M249.2 101.2h.6M248.0 104.8h.6M226.6 121.0h.6M222.0 108.2h.6M222.6 108.6h.6M237.5 119.0h.6M214.0 108.7h.6M252.7 104.0h.6M246.3 102.5h.6M246.2 107.5h.6M228.8 114.4h.6M239.8 128.7h.6M255.7 113.1h.6M237.4 126.8h.6M246.2 122.8h.6M240.2 132.6h.6M256.7 115.5h.6M231.4 107.2h.6M203.3 83.0h.6M240.8 109.2h.6M229.6 118.4h.6M217.0 120.9h.6M227.8 90.4h.6M224.5 101.4h.6M238.7 100.1h.6M241.2 105.3h.6M222.3 122.8h.6M222.5 119.9h.6M247.8 128.8h.6M221.1 91.5h.6M244.2 89.6h.6M230.8 111.6h.6M222.3 102.0h.6M237.9 111.8h.6M231.0 112.0h.6M200.4 123.2h.6M234.0 127.0h.6M217.3 104.4h.6M221.5 117.0h.6M199.2 119.3h.6M250.4 131.8h.6M235.7 116.5h.6M224.2 88.9h.6M240.8 117.2h.6M235.1 107.6h.6M230.2 92.6h.6M223.8 126.4h.6M231.7 103.9h.6M238.2 112.7h.6M244.5 104.3h.6M229.8 113.0h.6M234.4 116.8h.6M241.3 118.8h.6M244.9 140.3h.6M240.1 138.2h.6M228.9 104.6h.6M237.2 125.7h.6M234.1 131.1h.6M249.0 124.5h.6M223.9 120.0h.6M241.3 114.2h.6M237.4 108.4h.6M232.4 101.9h.6M237.8 102.9h.6M228.0 120.6h.6M218.7 105.2h.6M255.2 125.7h.6M249.2 99.4h.6M233.0 125.9h.6M253.5 100.6h.6M246.3 98.8h.6M224.9 105.9h.6M241.4 136.2h.6M234.6 127.8h.6M228.3 92.7h.6M230.9 133.3h.6M237.8 108.4h.6M242.0 87.9h.6M238.0 138.9h.6M232.3 108.5h.6M219.2 100.7h.6M226.9 126.8h.6M241.5 129.3h.6M232.7 91.7h.6M231.1 123.5h.6M229.1 99.5h.6M234.9 94.8h.6M221.2 109.6h.6M228.7 113.7h.6M216.5 105.3h.6M255.3 97.9h.6M238.4 111.2h.6M226.5 130.1h.6M235.3 107.2h.6M243.4 129.7h.6M259.3 104.6h.6M245.6 115.1h.6M220.5 114.7h.6M239.8 99.1h.6M248.1 135.2h.6M237.1 118.7h.6M215.3 115.6h.6M218.3 113.9h.6M261.9 116.3h.6M239.2 124.1h.6M222.5 131.8h.6M219.7 116.6h.6M212.6 116.7h.6M227.2 108.4h.6M225.2 98.0h.6M223.9 119.8h.6M254.0 93.2h.6M256.6 126.4h.6M229.4 113.9h.6M207.0 97.7h.6M215.8 114.7h.6M239.3 92.4h.6M250.6 101.2h.6M219.7 84.4h.6M228.6 134.1h.6M232.4 108.1h.6M246.0 94.9h.6M237.8 119.1h.6M231.8 100.1h.6M220.8 101.5h.6M243.6 113.8h.6M237.8 127.0h.6M220.7 126.0h.6M213.4 115.0h.6M259.5 103.0h.6M211.0 105.7h.6M238.3 104.5h.6M224.7 114.9h.6M224.7 105.8h.6M232.4 98.1h.6M253.2 120.4h.6M239.1 102.6h.6M228.0 92.4h.6M252.2 129.4h.6M219.0 126.3h.6M245.2 89.8h.6M247.1 109.0h.6M233.5 99.7h.6M236.3 127.9h.6M242.4 108.5h.6M256.1 118.6h.6M247.4 93.3h.6M227.7 117.0h.6M229.8 148.7h.6M225.7 133.1h.6M218.7 129.6h.6M226.4 133.3h.6M222.2 108.7h.6M221.6 120.2h.6M240.4 116.4h.6M237.6 106.7h.6M237.9 112.2h.6M240.5 134.2h.6M241.6 127.1h.6M235.6 110.7h.6M241.0 126.2h.6M216.0 143.8h.6M234.2 103.6h.6M231.1 109.6h.6M245.8 104.5h.6M233.7 137.5h.6M220.5 104.8h.6M249.3 108.9h.6M229.1 93.6h.6M242.3 108.8h.6M242.3 118.4h.6M242.0 102.5h.6M244.6 101.5h.6M224.2 101.7h.6M218.5 132.1h.6M231.7 134.4h.6M211.2 158.1h.6M247.2 92.8h.6M237.5 123.4h.6M230.6 90.9h.6M222.4 106.4h.6M214.5 103.6h.6M251.5 107.2h.6M240.7 87.9h.6M223.0 137.6h.6M223.5 119.9h.6M249.9 112.0h.6M237.3 109.6h.6M230.6 105.0h.6M238.5 134.0h.6M234.9 117.3h.6M219.7 105.4h.6M253.1 131.8h.6M246.0 129.2h.6M235.9 130.3h.6M211.7 108.8h.6M242.4 116.6h.6M228.4 111.5h.6M240.4 138.6h.6M239.6 134.8h.6M217.3 139.2h.6M239.0 120.2h.6M230.3 118.9h.6M223.5 123.7h.6M242.0 92.1h.6M231.5 127.0h.6M248.9 109.4h.6M240.0 119.0h.6M219.8 105.3h.6M236.0 117.7h.6M222.9 135.1h.6M238.9 119.9h.6M233.9 93.7h.6M248.2 107.4h.6M231.1 116.8h.6M219.6 120.2h.6M228.4 110.4h.6M224.4 106.3h.6M206.9 123.2h.6M223.1 112.3h.6M248.8 110.9h.6M216.1 120.7h.6M239.3 113.8h.6M225.5 105.0h.6M240.6 97.1h.6M235.5 124.7h.6M229.9 101.2h.6M214.3 125.7h.6M219.4 100.8h.6M225.3 119.1h.6M256.4 112.1h.6M253.2 98.8h.6M216.0 87.2h.6M234.6 120.0h.6M215.5 103.3h.6M229.2 121.8h.6M252.1 126.1h.6M245.2 131.5h.6M238.0 109.4h.6M212.1 119.1h.6M223.4 97.4h.6M220.6 121.8h.6M260.2 120.7h.6M232.6 122.2h.6M248.7 102.4h.6M238.2 123.8h.6M232.0 94.5h.6M226.4 122.8h.6M251.6 120.8h.6M232.4 130.5h.6M239.3 102.7h.6M234.9 133.1h.6M224.6 89.9h.6M242.1 126.6h.6M223.3 124.6h.6M235.8 116.0h.6M222.0 136.1h.6M210.7 121.7h.6M246.7 84.3h.6M244.5 124.6h.6M235.3 125.0h.6M213.8 116.3h.6M219.5 113.7h.6M237.7 105.9h.6M216.4 123.5h.6M269.4 116.5h.6M221.4 101.5h.6M227.9 117.9h.6M249.1 115.5h.6M245.1 94.7h.6M241.3 109.1h.6M243.6 105.5h.6M245.9 107.7h.6M236.0 118.4h.6M229.3 83.0h.6M232.5 132.0h.6M237.6 112.3h.6M239.1 116.3h.6M247.4 91.7h.6M241.4 110.5h.6M246.0 103.5h.6M229.8 125.3h.6M226.5 120.0h.6M226.3 108.1h.6M232.0 101.5h.6M217.4 118.4h.6M226.0 106.2h.6M239.3 100.2h.6M228.0 132.1h.6M220.4 116.8h.6M218.4 132.3h.6M222.6 117.6h.6M222.6 116.6h.6M253.0 114.9h.6M251.4 110.6h.6M255.5 107.4h.6M229.9 134.5h.6M222.3 104.1h.6M225.6 112.1h.6M218.4 125.0h.6M234.9 135.7h.6M224.7 137.1h.6M244.4 103.8h.6M222.8 119.0h.6M236.0 114.4h.6M200.0 97.8h.6M229.8 116.4h.6M232.7 93.3h.6M234.3 97.2h.6M227.5 103.9h.6M234.0 134.4h.6M234.5 91.5h.6M234.9 130.4h.6M250.9 69.2h.6M230.1 115.2h.6M244.4 107.5h.6M250.8 115.8h.6M246.5 111.8h.6M240.8 101.2h.6M240.5 107.1h.6M249.7 105.4h.6M250.5 102.1h.6M227.9 97.9h.6M233.3 132.8h.6M252.7 109.7h.6M239.8 135.4h.6M220.4 106.9h.6M236.5 109.4h.6M243.9 105.6h.6M240.9 104.8h.6M235.6 103.7h.6M232.8 113.3h.6M231.1 111.7h.6M220.9 109.2h.6M240.6 85.3h.6M238.9 142.3h.6M226.0 110.3h.6M225.5 113.1h.6M226.1 122.3h.6M230.6 117.5h.6M255.8 73.4h.6M236.2 102.0h.6M241.0 111.7h.6M235.3 102.3h.6M236.2 130.1h.6M233.2 122.0h.6M214.2 93.7h.6M247.7 116.0h.6M242.5 130.6h.6M241.6 110.9h.6M241.0 88.6h.6M247.5 119.3h.6M229.7 105.7h.6M243.6 87.5h.6M265.8 101.9h.6M253.3 108.6h.6M238.9 110.4h.6M216.6 122.0h.6M204.8 117.5h.6M229.2 94.6h.6M242.1 111.3h.6M230.2 122.2h.6M239.8 103.0h.6M242.0 104.9h.6M246.6 108.2h.6M251.4 104.4h.6M240.1 94.1h.6M231.0 116.5h.6M232.4 115.7h.6M225.8 119.6h.6M269.9 108.7h.6M247.0 102.1h.6M244.9 117.7h.6M219.3 115.1h.6M220.7 108.3h.6M238.3 128.5h.6M243.3 124.5h.6M243.6 90.3h.6M253.5 108.6h.6M242.8 106.7h.6M233.1 131.3h.6M234.4 97.0h.6M245.2 106.6h.6M250.4 112.4h.6M252.1 139.8h.6M243.8 90.3h.6M261.7 93.6h.6M229.9 94.9h.6M240.2 87.3h.6M226.7 90.9h.6M232.7 100.8h.6M257.2 99.4h.6M221.1 109.2h.6M234.3 102.2h.6M233.4 88.9h.6M237.8 118.3h.6M243.1 119.9h.6M225.8 96.0h.6M228.9 130.9h.6M227.4 98.5h.6M222.5 115.6h.6M233.7 95.2h.6M227.8 101.7h.6M228.9 117.1h.6M222.6 113.0h.6M218.6 126.3h.6M220.5 116.8h.6M220.4 104.4h.6M223.1 132.9h.6M217.7 100.8h.6M221.1 99.2h.6M255.1 118.0h.6M219.8 108.5h.6M241.5 103.5h.6M269.1 112.0h.6M249.9 93.0h.6M242.2 122.4h.6M231.4 106.3h.6M260.7 105.8h.6M234.2 118.5h.6M236.4 87.0h.6M214.9 120.3h.6M238.0 113.6h.6M241.1 117.4h.6M214.1 127.0h.6M238.0 107.5h.6M240.4 114.6h.6M239.0 132.7h.6M219.7 118.0h.6M229.9 105.0h.6M250.5 94.6h.6M242.9 108.1h.6M219.0 125.2h.6M238.1 114.5h.6M212.7 121.4h.6M241.7 123.3h.6M250.1 107.5h.6M262.2 83.2h.6M228.9 93.9h.6M234.2 129.5h.6M233.1 98.5h.6M224.1 122.7h.6M223.6 120.6h.6M240.8 103.4h.6M227.4 92.1h.6M233.3 129.7h.6M228.1 110.0h.6M227.4 128.8h.6M222.1 108.2h.6M229.1 95.9h.6M246.2 109.3h.6M250.8 112.7h.6M258.4 111.3h.6M215.1 127.9h.6M219.5 116.3h.6M244.5 103.7h.6M241.6 99.5h.6M226.2 97.4h.6M242.5 128.7h.6M235.2 111.0h.6M216.4 127.8h.6M240.2 119.3h.6M237.4 123.8h.6M235.0 123.7h.6M238.1 100.4h.6M214.5 96.0h.6M245.0 100.9h.6M235.2 98.9h.6M250.5 108.1h.6M237.7 100.8h.6M238.3 106.5h.6M225.7 136.8h.6M219.8 105.6h.6M238.7 120.4h.6M223.1 94.6h.6M239.2 95.3h.6M232.8 145.4h.6M208.9 128.6h.6M239.1 116.4h.6M245.0 104.7h.6M224.3 97.4h.6M222.4 104.3h.6M237.1 141.1h.6M228.2 100.6h.6M233.4 97.6h.6M219.1 105.4h.6M227.4 109.7h.6M229.4 110.4h.6M228.9 106.7h.6M249.9 100.7h.6M224.8 105.5h.6M214.5 147.5h.6M219.9 122.2h.6M223.1 89.2h.6M239.3 133.0h.6M250.4 130.7h.6M234.4 121.8h.6M246.9 117.0h.6M224.4 140.4h.6M244.5 90.8h.6M233.2 110.3h.6M233.1 100.1h.6M227.8 131.4h.6M231.8 98.5h.6M246.3 123.1h.6M229.2 91.9h.6M239.2 131.4h.6M231.1 106.9h.6M228.9 97.6h.6M234.0 97.5h.6M209.4 102.9h.6M236.8 107.8h.6M237.9 112.9h.6M218.7 94.9h.6M231.5 133.3h.6M235.4 118.1h.6M220.6 101.3h.6M234.4 123.1h.6M243.0 128.8h.6M242.7 117.7h.6M235.1 91.4h.6M253.7 111.5h.6M245.4 106.7h.6M226.8 91.1h.6M235.3 112.7h.6M253.2 98.2h.6M241.1 101.8h.6M232.5 118.0h.6M244.6 84.3h.6M236.1 120.4h.6M226.8 96.5h.6M227.0 129.8h.6M229.9 104.4h.6M211.0 92.8h.6M229.5 147.1h.6M223.3 148.6h.6M229.6 80.2h.6M229.2 119.9h.6M238.3 75.8h.6M232.7 116.5h.6M230.6 104.6h.6M234.9 111.3h.6M237.2 109.4h.6M226.9 104.0h.6M227.3 93.7h.6M232.8 114.2h.6M237.4 120.8h.6M238.6 105.9h.6M214.3 130.7h.6M225.4 100.6h.6M228.7 122.6h.6M214.3 128.6h.6M232.8 93.9h.6M243.6 119.1h.6M222.4 102.0h.6M225.9 104.2h.6M246.3 148.8h.6M227.1 120.8h.6M229.6 112.0h.6M234.4 94.5h.6M232.0 116.5h.6M239.6 106.0h.6M237.5 109.8h.6M218.6 109.2h.6M241.6 145.3h.6M235.7 121.9h.6M250.4 115.7h.6M240.6 119.4h.6M227.1 97.3h.6M247.1 121.8h.6M230.2 112.7h.6M228.0 98.1h.6M233.4 124.0h.6M232.9 78.3h.6M228.4 108.8h.6M234.3 103.3h.6M225.3 94.7h.6M224.9 103.8h.6M254.9 109.2h.6M216.9 122.1h.6M246.9 125.6h.6M236.4 120.3h.6M218.5 131.1h.6M224.9 80.9h.6M211.4 89.8h.6M224.6 115.0h.6M247.2 95.8h.6M201.9 110.6h.6M240.2 120.3h.6M233.4 134.3h.6M218.8 121.8h.6M226.3 119.6h.6M248.1 117.3h.6M226.0 100.6h.6M234.3 105.3h.6M222.0 93.9h.6M228.6 111.4h.6M236.3 114.9h.6M241.3 97.1h.6M217.6 121.3h.6M241.9 100.4h.6M245.4 134.4h.6M227.2 112.1h.6M240.8 101.0h.6M224.0 122.7h.6M240.7 132.4h.6M236.0 114.9h.6M232.2 111.5h.6M243.9 97.5h.6M244.4 97.6h.6M236.1 91.6h.6M232.0 108.0h.6M244.2 137.5h.6M233.2 108.1h.6M261.8 90.0h.6M204.3 115.7h.6M245.8 111.8h.6M250.0 126.5h.6M234.1 119.8h.6M212.4 87.7h.6M224.5 149.9h.6M224.1 143.3h.6M214.8 147.0h.6M234.3 144.1h.6M223.3 123.8h.6M217.8 136.7h.6M221.3 133.3h.6M229.3 149.3h.6M233.9 149.3h.6M227.4 158.3h.6M223.2 153.6h.6M227.9 150.6h.6M213.9 151.7h.6M221.5 142.3h.6M218.5 145.0h.6M218.7 151.7h.6M241.6 156.6h.6M229.6 144.3h.6M222.9 140.7h.6M205.5 148.8h.6M231.6 151.1h.6M223.9 138.9h.6M217.5 130.7h.6M217.7 138.8h.6M225.5 146.8h.6M204.9 147.8h.6M212.5 145.2h.6M227.8 157.3h.6M217.6 128.5h.6M216.7 136.4h.6M214.4 147.0h.6M236.1 153.9h.6M216.4 128.9h.6M224.2 161.0h.6M229.6 141.6h.6M218.4 138.0h.6M215.7 136.4h.6M242.7 150.1h.6M228.4 164.8h.6M230.7 141.3h.6M217.8 157.0h.6M248.1 140.1h.6M229.2 149.4h.6M213.9 150.3h.6M208.4 143.2h.6M233.5 133.9h.6M212.9 141.2h.6M234.7 129.5h.6M207.0 139.7h.6M218.0 157.3h.6M236.5 146.3h.6M219.2 138.7h.6M229.1 135.8h.6M222.3 138.1h.6M233.1 126.4h.6M223.8 142.9h.6M222.9 138.1h.6M232.7 142.6h.6M220.7 145.2h.6M227.0 135.5h.6M246.4 155.1h.6M222.2 141.0h.6M234.1 127.1h.6M218.3 150.8h.6M215.6 141.0h.6M221.5 130.8h.6M232.3 148.0h.6M233.8 142.1h.6M228.5 145.7h.6M219.6 130.5h.6M228.2 137.7h.6M222.6 140.3h.6M239.9 135.6h.6M229.4 143.4h.6M225.2 146.5h.6M223.2 147.3h.6M219.3 150.3h.6M223.9 142.7h.6M240.4 138.5h.6M210.9 137.8h.6M227.8 136.8h.6M228.7 140.2h.6M211.9 152.3h.6M230.7 137.8h.6M229.6 156.2h.6M209.5 139.1h.6M232.6 137.1h.6M220.6 140.1h.6M218.6 134.5h.6M215.2 130.7h.6M223.7 133.4h.6M233.9 150.7h.6M217.3 151.6h.6M235.7 125.8h.6M242.5 149.9h.6M233.9 141.9h.6M215.8 142.6h.6M227.5 149.4h.6M218.9 150.1h.6M210.0 150.6h.6M225.4 144.5h.6M204.6 132.8h.6M223.5 150.8h.6M212.6 128.5h.6M208.6 147.1h.6M219.5 136.3h.6M217.0 129.7h.6M234.2 145.8h.6M233.9 141.3h.6M242.4 134.0h.6M225.0 145.5h.6M219.9 137.5h.6M223.2 145.8h.6M233.1 133.4h.6M222.7 145.8h.6M234.7 146.9h.6M220.3 133.3h.6M218.4 153.5h.6M235.1 130.9h.6M230.0 146.7h.6M228.7 136.5h.6M222.6 137.8h.6M220.7 133.8h.6M225.1 141.4h.6M214.2 140.7h.6M220.6 136.3h.6M214.3 145.9h.6M226.1 147.0h.6M213.8 140.9h.6M208.1 146.3h.6M218.6 132.0h.6M214.5 144.7h.6M217.5 143.7h.6M210.6 164.2h.6M246.8 135.5h.6M222.3 146.0h.6M238.6 138.6h.6M227.2 151.2h.6M222.3 146.3h.6M212.4 148.9h.6M231.5 146.3h.6M227.0 129.5h.6M224.7 138.1h.6M223.4 141.3h.6M214.1 137.8h.6M213.2 138.1h.6M224.2 163.1h.6M227.8 136.7h.6M238.6 150.1h.6M205.2 143.4h.6M227.3 142.0h.6M222.4 155.1h.6M215.7 143.1h.6M220.6 133.2h.6M229.1 144.2h.6M219.4 137.3h.6M221.5 156.2h.6M220.1 147.4h.6M221.9 142.3h.6M247.5 146.5h.6M244.2 150.9h.6M233.7 136.0h.6M207.4 142.7h.6M240.4 139.9h.6M220.4 145.2h.6M226.1 141.7h.6M218.5 153.7h.6M227.7 135.8h.6M213.3 151.0h.6M233.2 139.7h.6M228.4 135.3h.6M218.4 142.9h.6M222.0 145.9h.6M214.8 139.3h.6M223.1 133.6h.6M221.5 137.8h.6M218.5 152.4h.6M215.0 147.0h.6M222.5 119.1h.6M220.0 136.1h.6M222.3 142.7h.6M216.7 141.0h.6M236.5 148.8h.6M218.6 144.1h.6M234.4 137.2h.6M224.0 141.1h.6M230.4 136.4h.6M204.3 153.5h.6M240.1 144.6h.6M206.9 137.9h.6M219.0 135.2h.6M216.6 140.2h.6M232.3 145.5h.6M230.5 146.2h.6M213.9 142.7h.6M229.1 156.0h.6M231.1 139.9h.6M217.9 153.9h.6M220.5 158.4h.6M221.3 146.5h.6M222.8 134.4h.6M228.5 148.6h.6M229.5 134.1h.6M217.7 142.1h.6M223.5 138.1h.6M225.6 142.2h.6M223.2 152.9h.6M209.1 140.1h.6M212.3 159.7h.6M216.3 143.0h.6M219.0 134.8h.6M229.2 145.1h.6M214.6 135.0h.6M244.3 143.4h.6M212.1 159.7h.6M223.0 157.2h.6M222.7 133.6h.6M212.7 135.3h.6M231.3 133.8h.6M225.9 141.8h.6M218.0 140.3h.6M219.8 145.5h.6M212.2 131.5h.6M232.1 141.7h.6M223.7 135.4h.6M216.0 133.4h.6M230.7 150.1h.6M205.5 137.9h.6M226.6 157.5h.6M227.9 133.1h.6M222.8 145.9h.6M226.8 145.6h.6M231.8 155.7h.6M232.2 162.6h.6M216.6 162.2h.6M231.3 152.0h.6M218.9 151.1h.6M218.3 151.5h.6M226.9 150.7h.6M218.3 135.3h.6M229.5 128.0h.6M228.6 135.5h.6M229.4 133.8h.6M214.9 147.9h.6M225.3 149.5h.6M231.0 140.9h.6M232.3 137.6h.6M240.3 149.0h.6M233.2 151.6h.6M211.3 146.1h.6M222.1 150.4h.6M224.4 135.6h.6M211.4 136.8h.6M218.3 153.8h.6M211.9 138.0h.6M219.0 154.7h.6M236.6 163.2h.6M223.3 144.6h.6M213.6 151.8h.6M209.1 146.2h.6M217.7 145.3h.6M243.1 141.6h.6M218.6 151.5h.6M220.1 145.7h.6M248.6 145.2h.6M227.5 128.4h.6M218.7 140.9h.6M222.2 141.1h.6M212.8 139.5h.6M231.8 134.0h.6M222.7 140.7h.6M211.1 155.4h.6M211.2 143.3h.6M216.2 130.9h.6M213.0 131.3h.6M225.3 144.5h.6M204.0 148.0h.6M234.8 145.7h.6M232.1 148.1h.6M203.4 140.8h.6M212.2 149.3h.6M223.8 146.5h.6M228.8 129.4h.6M231.9 154.2h.6M222.8 148.5h.6M224.2 132.8h.6M213.2 144.1h.6M227.5 144.7h.6M215.4 136.0h.6M220.1 139.6h.6M216.6 151.5h.6M224.7 139.3h.6M237.2 143.5h.6M228.1 141.3h.6M213.6 138.6h.6M233.6 141.5h.6M232.6 147.5h.6M211.6 144.5h.6M217.6 136.8h.6M232.1 150.5h.6M217.8 140.9h.6M220.2 132.6h.6M233.6 146.8h.6M231.2 153.1h.6M235.1 143.4h.6M215.5 152.3h.6M239.7 150.6h.6M202.3 142.5h.6M226.4 150.0h.6M225.8 139.3h.6M216.2 146.2h.6M209.9 134.1h.6M222.3 143.4h.6M229.2 145.1h.6M215.3 152.0h.6M226.6 142.3h.6M226.1 142.4h.6M219.5 163.1h.6M216.6 142.6h.6M235.3 146.2h.6M214.5 144.5h.6M232.0 130.0h.6M215.6 141.2h.6M221.3 150.0h.6M223.5 154.0h.6M235.0 143.1h.6M218.9 150.8h.6M230.6 134.0h.6M217.8 141.1h.6M236.0 147.6h.6M215.2 140.1h.6M233.1 141.1h.6M233.6 137.0h.6M212.7 154.3h.6M234.0 144.3h.6M215.6 144.9h.6M216.6 149.9h.6M213.6 137.2h.6M215.4 150.5h.6M220.9 131.8h.6M230.0 139.6h.6M241.7 150.3h.6M224.8 127.1h.6M211.6 130.4h.6M230.4 141.3h.6M209.2 150.3h.6M227.8 148.8h.6M216.4 148.6h.6M216.7 136.9h.6M210.6 140.8h.6M231.4 142.6h.6M224.9 148.9h.6M222.2 144.5h.6M206.6 139.7h.6M216.8 136.7h.6M215.9 146.5h.6M233.2 144.1h.6M236.3 136.8h.6M231.5 145.1h.6M237.0 140.3h.6M234.0 156.5h.6M219.5 135.1h.6M224.4 138.3h.6M207.9 143.0h.6M228.8 132.6h.6M229.0 134.7h.6M211.3 132.3h.6M231.0 136.7h.6M220.8 139.8h.6M205.3 160.0h.6M221.7 154.0h.6M230.1 131.8h.6M217.9 135.7h.6M223.4 152.3h.6M226.9 139.1h.6M218.7 146.2h.6M217.7 143.8h.6M208.4 155.1h.6M225.7 156.3h.6M223.8 151.7h.6M238.6 144.2h.6M227.6 145.2h.6M221.6 145.3h.6M210.6 143.7h.6M204.5 129.8h.6M218.4 138.2h.6M218.6 131.1h.6M227.4 143.5h.6M223.0 147.6h.6M223.0 147.9h.6M233.5 135.1h.6M226.0 150.3h.6M226.8 132.6h.6M224.9 145.7h.6M227.0 142.1h.6M221.9 141.9h.6M237.4 149.6h.6M224.2 151.1h.6M228.7 137.3h.6M235.0 142.5h.6M220.5 143.0h.6M217.4 147.7h.6M228.6 129.3h.6M235.0 132.2h.6M239.1 161.5h.6M223.2 149.0h.6M238.5 143.6h.6M221.4 142.6h.6M222.3 142.7h.6M229.0 134.6h.6M222.0 140.4h.6M214.7 142.2h.6M219.2 138.6h.6M248.7 137.9h.6M228.1 138.2h.6M229.1 166.3h.6M213.5 149.6h.6M219.8 133.9h.6M221.6 139.5h.6M224.4 144.9h.6M229.1 138.3h.6M210.5 147.7h.6M225.4 159.2h.6M233.0 124.8h.6M233.7 151.7h.6M197.3 143.4h.6M233.0 132.4h.6M218.9 137.3h.6M216.3 123.1h.6M236.0 132.8h.6M237.5 156.2h.6M219.1 134.1h.6M222.8 126.2h.6M216.7 145.8h.6M218.4 153.8h.6M219.2 155.1h.6M206.3 131.3h.6M220.6 136.9h.6M236.2 141.3h.6M215.6 147.2h.6M218.4 135.3h.6M220.9 148.2h.6M220.5 152.0h.6M221.2 141.6h.6M226.3 147.0h.6M227.7 155.0h.6M225.1 140.9h.6M227.2 151.9h.6M229.6 139.5h.6M234.3 143.5h.6M220.0 142.8h.6M212.0 140.8h.6M233.4 146.5h.6M213.6 145.5h.6M215.1 143.2h.6M227.0 144.7h.6M214.2 147.9h.6M217.9 134.3h.6M228.8 135.3h.6M224.9 142.5h.6M234.1 148.2h.6M227.0 135.9h.6M211.2 147.6h.6M234.3 139.4h.6M229.9 141.0h.6M207.3 147.5h.6M217.2 143.1h.6M221.1 139.4h.6M239.0 147.3h.6M222.5 144.1h.6M223.8 137.0h.6M231.5 123.2h.6M225.2 153.6h.6M219.9 138.0h.6M225.7 143.3h.6M225.4 145.4h.6M228.9 130.4h.6M219.8 148.7h.6M224.5 150.4h.6M229.3 138.4h.6M213.1 143.1h.6M211.0 160.1h.6M237.5 133.8h.6M198.5 134.0h.6M229.9 141.8h.6M212.4 141.1h.6M227.6 135.0h.6M228.2 143.2h.6M214.0 138.3h.6M220.7 152.2h.6M219.7 152.3h.6M221.1 156.4h.6M225.9 158.5h.6M227.0 141.4h.6M226.2 139.8h.6M222.6 155.3h.6M227.6 151.4h.6M235.4 150.6h.6M216.7 134.3h.6M240.8 152.3h.6M293.1 75.0h.6M276.5 100.6h.6M291.2 72.0h.6M280.3 95.0h.6M289.6 104.4h.6M288.1 70.8h.6M277.6 86.1h.6M287.7 105.9h.6M277.2 83.2h.6M291.0 77.0h.6M284.0 73.7h.6M315.0 85.6h.6M277.2 71.8h.6M280.9 79.1h.6M264.0 71.8h.6M267.3 89.4h.6M277.5 72.5h.6M289.6 80.0h.6M263.0 106.5h.6M271.8 100.4h.6M300.9 84.5h.6M304.0 67.6h.6M282.8 90.3h.6M295.0 85.4h.6M270.6 92.6h.6M308.3 78.1h.6M288.5 111.9h.6M299.3 77.1h.6M286.2 93.6h.6M281.2 86.1h.6M262.6 86.5h.6M280.7 98.9h.6M320.8 59.8h.6M294.4 92.4h.6M295.8 80.8h.6M285.2 68.8h.6M290.5 111.1h.6M299.6 79.8h.6M275.6 77.0h.6M275.6 72.4h.6M292.8 94.4h.6M291.0 78.1h.6M282.2 84.4h.6M291.8 88.9h.6M292.1 76.7h.6M286.0 108.3h.6M287.8 91.5h.6M288.9 81.5h.6M282.8 74.8h.6M283.6 72.9h.6M289.1 74.0h.6M266.7 101.7h.6M281.6 85.2h.6M286.7 79.3h.6M289.0 79.4h.6M294.5 102.8h.6M276.7 74.3h.6M295.5 76.0h.6M295.8 74.3h.6M283.6 71.4h.6M270.8 70.3h.6M280.5 90.7h.6M282.5 94.8h.6M298.7 87.0h.6M280.6 92.2h.6M290.3 76.9h.6M274.9 79.5h.6M303.8 90.0h.6M279.6 108.2h.6M281.3 94.8h.6M293.9 76.5h.6M288.1 90.9h.6M255.3 61.7h.6M283.6 88.2h.6M302.5 91.9h.6M254.8 79.0h.6M287.3 75.0h.6M263.2 99.9h.6M270.5 72.1h.6M257.1 78.6h.6M294.3 74.6h.6M295.9 84.9h.6M293.0 81.1h.6M323.3 85.4h.6M278.7 86.6h.6M283.1 89.0h.6M293.0 54.8h.6M264.7 76.4h.6M284.0 74.8h.6M266.8 90.6h.6M296.9 95.7h.6M295.5 77.2h.6M286.3 71.6h.6M270.6 68.1h.6M256.6 69.6h.6M272.6 78.4h.6M294.6 87.8h.6M267.7 72.0h.6M282.5 75.2h.6M276.7 80.2h.6M301.0 76.3h.6M269.3 75.7h.6M298.4 78.3h.6M269.1 71.9h.6M278.1 77.9h.6M294.5 91.0h.6M282.4 102.2h.6M265.4 87.6h.6M277.4 88.5h.6M284.8 97.0h.6M281.5 90.9h.6M292.9 89.3h.6M287.6 73.1h.6M283.8 82.2h.6M289.5 63.7h.6M269.7 80.9h.6M276.9 74.5h.6M259.7 96.3h.6M270.7 81.0h.6M275.8 82.9h.6M261.4 81.0h.6M284.3 87.3h.6M313.6 88.9h.6M305.0 75.8h.6M285.6 95.5h.6M296.3 105.6h.6M272.2 78.1h.6M290.8 72.2h.6M279.3 88.9h.6M290.5 89.7h.6M275.1 83.1h.6M295.1 66.0h.6M296.6 71.7h.6M301.4 80.0h.6M279.8 90.2h.6M276.3 97.6h.6M298.0 85.1h.6M288.6 85.9h.6M294.8 80.8h.6M305.5 90.7h.6M272.1 76.5h.6M288.8 73.9h.6M282.5 91.8h.6M280.1 61.2h.6M290.9 90.0h.6M294.2 89.8h.6M303.6 69.8h.6M298.5 71.1h.6M309.4 75.9h.6M290.4 87.7h.6M261.1 98.0h.6M286.5 76.5h.6M270.8 100.1h.6M285.5 85.6h.6M287.9 82.7h.6M283.4 75.2h.6M310.0 92.5h.6M275.2 88.6h.6M274.3 77.8h.6M290.6 79.0h.6M291.6 88.3h.6M295.2 69.3h.6M286.1 92.0h.6M288.5 80.7h.6M294.6 76.9h.6M289.7 93.7h.6M289.7 76.1h.6M277.1 76.5h.6M257.6 101.6h.6M282.3 96.7h.6M291.2 63.5h.6M271.4 87.8h.6M277.0 95.8h.6M300.3 66.6h.6M294.4 81.6h.6M290.5 82.9h.6M282.7 86.9h.6M276.5 67.9h.6M286.2 79.5h.6M261.6 77.4h.6M278.7 95.8h.6M307.0 76.6h.6M294.5 84.5h.6M271.4 85.7h.6M290.6 84.4h.6M293.9 74.9h.6M278.8 93.1h.6M289.3 70.2h.6M267.3 88.2h.6M278.3 85.9h.6M277.3 91.0h.6M301.1 66.7h.6M281.5 82.7h.6M277.0 80.5h.6M276.8 93.4h.6M285.1 95.3h.6M306.9 82.4h.6M293.3 90.7h.6M284.2 98.6h.6M282.7 67.5h.6M299.5 73.0h.6M260.5 90.5h.6M245.7 92.0h.6M279.5 87.1h.6M273.5 87.5h.6M281.7 92.0h.6M288.2 80.1h.6M261.5 76.5h.6M297.2 94.2h.6M282.9 84.9h.6M265.4 80.6h.6M287.1 89.5h.6M280.4 103.6h.6M293.2 82.9h.6M260.1 79.0h.6M267.0 87.6h.6M312.6 71.2h.6M273.4 75.1h.6M288.4 84.9h.6M300.1 81.5h.6M306.6 84.3h.6M298.9 82.7h.6M275.8 94.5h.6M290.9 86.1h.6M291.5 75.1h.6M302.9 95.7h.6M295.8 71.9h.6M275.8 92.9h.6M272.5 100.5h.6M304.2 85.3h.6M267.8 80.4h.6M289.7 55.1h.6M293.3 80.0h.6M268.6 88.5h.6M280.4 84.4h.6M271.4 78.4h.6M304.7 94.6h.6M272.5 92.6h.6M291.6 83.7h.6M282.4 97.3h.6M299.6 73.0h.6M292.6 94.4h.6M294.0 80.2h.6M287.6 93.5h.6M303.8 77.3h.6M276.9 81.5h.6M297.9 90.8h.6M290.5 89.7h.6M286.6 79.2h.6M285.1 78.4h.6M257.6 71.6h.6M296.0 72.0h.6M292.7 92.9h.6M307.4 89.2h.6M290.4 87.6h.6M274.4 78.3h.6M295.1 75.6h.6M271.5 98.3h.6M275.4 95.3h.6M289.6 90.8h.6M266.1 64.4h.6M302.5 86.3h.6M289.4 74.0h.6M280.3 91.4h.6M269.3 77.1h.6M300.1 71.6h.6M285.1 85.9h.6M313.2 70.3h.6M276.4 89.0h.6M282.4 84.2h.6M276.4 81.4h.6M270.4 81.9h.6M284.9 90.3h.6M283.4 86.8h.6M314.5 85.2h.6M280.4 79.0h.6M293.1 92.8h.6M286.4 83.5h.6M269.5 84.5h.6M279.4 92.0h.6M309.1 81.7h.6M295.3 84.1h.6M296.7 79.6h.6M272.4 84.4h.6M304.3 81.3h.6M285.5 95.1h.6M273.1 90.5h.6M275.4 78.3h.6M283.4 80.3h.6M288.6 84.7h.6M287.6 66.2h.6M301.5 72.8h.6M294.0 79.9h.6M268.3 94.6h.6M292.2 61.1h.6M251.9 84.9h.6M289.1 83.0h.6M283.3 74.9h.6M272.7 69.4h.6M300.2 78.6h.6M284.7 73.7h.6M286.9 82.4h.6M275.1 96.8h.6M293.2 89.8h.6M274.8 73.0h.6M268.6 85.2h.6M281.2 92.5h.6M294.0 68.7h.6M277.9 81.1h.6M308.5 70.4h.6M281.6 87.7h.6M298.7 85.9h.6M292.6 77.6h.6M302.0 85.7h.6M278.4 80.1h.6M295.5 81.2h.6M300.8 79.1h.6M271.5 81.7h.6M275.5 79.7h.6M262.8 95.3h.6M279.4 76.7h.6M272.4 84.4h.6M299.2 82.0h.6M263.4 90.9h.6M270.1 81.3h.6M261.4 89.8h.6M265.5 86.8h.6M293.7 82.4h.6M273.9 96.5h.6M278.2 87.4h.6M301.8 84.5h.6M295.6 86.8h.6M289.1 78.9h.6M290.3 87.4h.6M285.0 75.3h.6M313.1 66.9h.6M297.4 83.4h.6M291.6 69.8h.6M298.9 88.4h.6M301.5 77.6h.6M291.9 103.9h.6M286.3 82.7h.6M275.2 80.1h.6M292.5 81.7h.6M275.8 64.5h.6M308.8 95.3h.6M280.2 53.8h.6M285.3 77.1h.6M283.4 69.9h.6M263.7 86.1h.6M265.3 75.8h.6M296.5 66.8h.6M290.1 75.1h.6M292.8 80.7h.6M265.7 92.7h.6M288.2 71.9h.6M277.7 93.6h.6M296.2 80.4h.6M283.1 94.3h.6M279.9 84.3h.6M280.2 82.4h.6M292.6 95.7h.6M294.1 74.8h.6M263.4 81.0h.6M279.0 91.1h.6M270.2 79.5h.6M271.6 83.7h.6M290.5 67.5h.6M280.7 95.1h.6M250.0 94.3h.6M285.6 78.6h.6M293.2 102.4h.6M320.5 92.0h.6M281.2 63.4h.6M285.2 86.1h.6M322.4 89.8h.6M295.0 82.5h.6M281.8 97.9h.6M298.2 96.4h.6M281.6 62.0h.6M279.5 74.0h.6M270.2 92.3h.6M312.3 93.8h.6M292.9 79.5h.6M280.5 68.5h.6M266.8 74.4h.6M277.9 100.5h.6M242.1 86.3h.6M307.9 78.1h.6M269.5 68.8h.6M285.7 66.7h.6M291.9 91.3h.6M294.4 73.0h.6M284.6 96.4h.6M277.0 85.8h.6M300.6 81.6h.6M307.7 88.7h.6M272.0 79.8h.6M291.6 85.5h.6M293.8 101.4h.6M278.5 91.3h.6M290.2 67.4h.6M290.5 80.8h.6M271.4 54.6h.6M284.0 76.3h.6M283.4 95.1h.6M282.1 98.4h.6M292.0 81.9h.6M293.7 75.2h.6M308.2 95.0h.6M257.4 82.4h.6M271.8 80.4h.6M279.8 82.6h.6M288.2 86.4h.6M297.0 72.1h.6M258.9 83.9h.6M285.8 80.6h.6M259.3 99.0h.6M303.1 85.3h.6M286.0 76.2h.6M277.6 77.2h.6M272.7 86.0h.6M276.4 80.9h.6M284.8 91.3h.6M281.8 60.6h.6M272.1 75.7h.6M281.0 96.8h.6M298.7 68.0h.6M299.0 83.7h.6M275.8 59.8h.6M271.2 78.9h.6M275.5 90.0h.6M307.1 95.4h.6M305.0 90.3h.6M270.4 63.2h.6M282.7 75.5h.6M296.4 73.3h.6M282.8 70.4h.6M282.7 76.8h.6M263.0 86.4h.6M285.9 69.7h.6M297.4 73.1h.6M279.4 67.5h.6M268.5 66.4h.6M291.7 89.3h.6M294.5 78.1h.6M277.0 93.1h.6M263.7 83.5h.6M286.8 77.8h.6M271.4 104.9h.6M295.7 85.2h.6M289.1 61.2h.6M279.7 71.5h.6M286.0 75.2h.6M269.1 90.8h.6M278.8 84.2h.6M262.7 88.3h.6M298.1 71.8h.6M269.6 82.2h.6M274.1 97.2h.6M267.0 89.1h.6M282.6 67.3h.6M301.5 84.2h.6M290.1 95.1h.6M284.2 102.8h.6M285.7 61.5h.6M306.7 76.3h.6M274.6 85.3h.6M278.8 76.3h.6M280.1 77.2h.6M290.6 65.6h.6M278.1 78.6h.6M283.1 86.6h.6M287.1 80.1h.6M296.8 94.4h.6M299.7 76.6h.6M275.4 91.7h.6M276.1 84.9h.6M276.4 75.6h.6M289.8 87.2h.6M283.0 85.7h.6M290.4 78.1h.6M292.3 60.4h.6M268.5 105.4h.6M292.0 92.7h.6M279.0 86.9h.6M290.3 93.8h.6M281.5 64.3h.6M280.1 87.7h.6M291.7 89.0h.6M298.5 87.1h.6M278.5 90.2h.6M288.3 68.0h.6M299.9 85.5h.6M277.5 86.9h.6M295.6 96.5h.6M292.7 80.4h.6M267.6 88.1h.6M269.8 88.8h.6M277.6 92.7h.6M277.0 84.6h.6M302.1 83.4h.6M270.1 85.7h.6M301.3 83.3h.6M272.0 88.9h.6M264.4 71.4h.6M276.9 80.9h.6M271.5 82.4h.6M281.2 85.4h.6M286.8 82.4h.6M266.6 67.5h.6M279.2 89.1h.6M296.4 74.7h.6M274.0 74.3h.6M309.8 83.4h.6M282.5 90.7h.6M271.7 86.5h.6M307.4 85.3h.6M271.1 87.5h.6M293.8 87.4h.6M298.6 81.2h.6M299.5 70.0h.6M281.4 83.1h.6M264.7 77.2h.6M295.1 84.9h.6M284.1 82.7h.6M264.7 80.0h.6M286.0 64.3h.6M273.7 101.3h.6M284.7 48.9h.6M280.3 72.2h.6M295.3 88.0h.6M288.5 79.6h.6M272.3 83.5h.6M296.5 81.9h.6M296.1 86.5h.6M312.9 63.6h.6M290.9 71.7h.6M286.9 88.7h.6M292.5 95.7h.6M282.4 86.0h.6M294.4 100.1h.6M281.0 66.7h.6M301.8 82.7h.6M282.3 87.2h.6M271.2 95.6h.6M275.4 66.7h.6M309.7 74.6h.6M298.3 64.9h.6M268.8 71.1h.6M283.8 75.7h.6M280.3 57.3h.6M314.3 78.0h.6M287.8 81.7h.6M287.1 95.7h.6M287.6 67.3h.6M264.8 101.2h.6M282.2 78.8h.6M280.2 87.0h.6M280.1 82.3h.6M265.4 83.8h.6M291.3 70.6h.6M292.9 85.0h.6M281.7 89.2h.6M292.6 93.8h.6M294.3 64.6h.6M293.2 71.9h.6M283.2 84.9h.6M259.2 89.1h.6M259.0 87.8h.6M282.9 71.6h.6M274.0 113.3h.6M291.6 94.4h.6M269.0 88.9h.6M284.2 75.7h.6M297.7 63.8h.6M283.2 77.0h.6M260.6 75.3h.6M271.6 74.7h.6M295.2 86.9h.6M282.0 79.4h.6M257.3 87.3h.6M289.4 80.6h.6M271.8 83.2h.6M299.5 85.5h.6M294.6 81.5h.6M300.6 78.8h.6M284.4 71.6h.6M281.5 75.3h.6M266.5 67.5h.6M268.3 81.7h.6M288.6 68.0h.6M279.9 79.5h.6M283.9 83.8h.6M289.8 83.5h.6M258.3 90.1h.6M279.5 80.8h.6M297.0 88.4h.6M299.3 69.6h.6M294.1 65.7h.6M318.2 71.3h.6M280.4 85.0h.6M281.8 85.6h.6M280.7 94.2h.6M283.1 92.5h.6M278.8 69.5h.6M272.7 85.1h.6M273.7 89.8h.6M283.5 77.3h.6M273.8 78.9h.6M283.3 85.1h.6M288.5 92.8h.6M284.4 99.1h.6M285.3 91.9h.6M294.2 66.4h.6M265.4 97.4h.6M282.7 114.5h.6M277.2 77.0h.6M306.6 77.0h.6M291.5 77.2h.6M292.9 77.4h.6M286.5 87.4h.6M280.6 78.5h.6M288.7 68.6h.6M259.5 78.8h.6M298.7 77.1h.6M263.0 83.1h.6M277.4 102.6h.6M298.2 95.5h.6M271.8 83.8h.6M290.3 88.0h.6M289.2 75.9h.6M269.4 71.9h.6M296.5 68.7h.6M259.7 79.2h.6M282.7 54.1h.6M272.5 69.7h.6M282.1 101.5h.6M286.0 66.8h.6M277.8 80.5h.6M313.4 74.6h.6M299.4 68.5h.6M309.1 80.3h.6M296.6 82.6h.6M284.4 85.9h.6M281.7 80.6h.6M294.7 73.9h.6M264.7 75.5h.6M269.8 77.0h.6M268.2 99.9h.6M291.4 54.6h.6M272.6 86.8h.6M287.8 70.8h.6M284.9 99.5h.6M277.0 88.8h.6M281.8 81.6h.6M289.5 100.8h.6M294.5 87.5h.6M291.4 71.1h.6M263.2 94.8h.6M281.8 94.0h.6M304.0 83.3h.6M311.0 83.9h.6M291.8 66.9h.6M296.8 58.0h.6M294.2 62.1h.6M268.4 90.0h.6M271.8 84.6h.6M282.8 85.1h.6M278.4 86.4h.6M290.0 93.5h.6M276.3 71.9h.6M258.7 80.9h.6M270.1 76.1h.6M267.8 83.7h.6M315.5 68.9h.6M296.5 70.6h.6M283.4 93.6h.6M275.5 83.6h.6M298.2 83.7h.6M279.4 79.2h.6M258.3 94.6h.6M268.7 82.0h.6M281.3 77.0h.6M278.3 73.2h.6M277.4 91.5h.6M265.3 77.8h.6M274.9 58.7h.6M292.3 72.0h.6M286.3 82.2h.6M293.4 67.4h.6M270.6 93.1h.6M280.5 84.9h.6M276.1 79.9h.6M288.7 103.8h.6M300.1 80.6h.6M276.5 72.1h.6M284.8 82.8h.6M263.4 93.3h.6M291.7 91.5h.6M282.8 81.5h.6M289.2 69.2h.6M287.8 94.7h.6M294.6 86.6h.6M291.8 79.1h.6M270.5 93.8h.6M286.6 101.4h.6M287.4 80.5h.6M301.3 96.4h.6M271.6 94.9h.6M284.2 80.3h.6M285.8 81.9h.6M281.6 82.4h.6M270.7 73.6h.6M268.4 79.3h.6M296.3 76.8h.6M277.8 80.9h.6M266.4 71.1h.6M276.5 76.6h.6M262.5 77.0h.6M275.3 93.3h.6M277.8 81.5h.6M276.2 67.1h.6M270.7 86.7h.6M282.5 70.8h.6M276.1 76.8h.6M280.6 86.0h.6M278.1 87.5h.6M274.9 74.7h.6M289.3 96.0h.6M289.0 81.0h.6M283.0 72.2h.6M269.2 91.7h.6M293.8 91.2h.6M258.3 73.6h.6M301.0 71.6h.6M287.4 72.0h.6M299.7 90.5h.6M300.9 81.6h.6M252.6 94.3h.6M272.6 54.6h.6M294.2 71.9h.6M299.0 77.3h.6M263.0 72.1h.6M274.3 81.9h.6M295.5 67.3h.6M277.7 84.5h.6M285.5 81.4h.6M284.2 87.6h.6M296.8 91.9h.6M291.5 75.7h.6M292.3 84.3h.6M286.8 69.9h.6M282.3 94.8h.6M303.1 61.2h.6M275.6 87.7h.6M263.3 73.8h.6M267.0 89.2h.6M301.5 95.8h.6M267.3 91.0h.6M295.7 94.2h.6M262.6 67.7h.6M284.7 60.7h.6M284.5 81.7h.6M275.3 79.3h.6M283.8 74.0h.6M306.9 71.3h.6M296.5 86.0h.6M306.3 80.6h.6M297.2 95.3h.6M299.8 75.4h.6M296.1 80.0h.6M279.7 93.9h.6M292.2 91.9h.6M304.2 86.4h.6M286.2 80.4h.6M287.5 74.5h.6M290.5 85.0h.6M304.2 94.4h.6M269.4 92.0h.6M306.1 81.9h.6M274.5 87.3h.6M282.0 92.7h.6M294.2 81.2h.6M274.9 94.2h.6M298.0 82.5h.6M289.1 86.2h.6M295.1 95.5h.6M276.8 74.0h.6M273.0 78.8h.6M286.1 83.7h.6M275.3 86.4h.6M285.2 75.4h.6M313.9 82.1h.6M293.4 75.2h.6M283.6 75.6h.6M286.6 80.3h.6M301.3 96.7h.6M270.4 83.1h.6M253.0 106.6h.6M279.1 89.9h.6M285.5 87.4h.6M288.5 100.0h.6M283.0 86.2h.6M268.3 82.5h.6M284.0 77.4h.6M310.9 70.7h.6M281.4 99.4h.6M291.8 87.4h.6M269.2 77.0h.6M279.2 93.0h.6M282.8 93.8h.6M295.3 97.8h.6M288.4 101.5h.6M282.1 90.8h.6M289.9 90.2h.6M276.5 85.9h.6M306.8 84.7h.6M287.1 89.9h.6M283.9 72.6h.6M276.5 82.9h.6M292.5 102.2h.6M286.1 75.4h.6M275.6 89.9h.6M278.2 66.0h.6M245.6 88.6h.6M280.5 74.4h.6M282.1 78.9h.6M260.0 75.9h.6M274.6 71.4h.6M301.8 94.7h.6M275.6 79.8h.6M300.7 87.9h.6M260.5 97.6h.6M288.4 94.4h.6M272.4 96.4h.6M270.2 84.5h.6M290.1 90.7h.6M289.7 70.1h.6M262.1 89.4h.6M266.2 105.5h.6M291.4 80.6h.6M279.2 89.9h.6M293.0 58.1h.6M285.8 76.6h.6M297.3 58.4h.6M297.3 66.2h.6M269.5 73.1h.6M292.8 83.9h.6M283.7 65.4h.6M285.9 92.1h.6M290.2 91.4h.6M293.4 92.1h.6M253.8 88.4h.6M288.4 64.9h.6M277.8 64.9h.6M298.1 65.5h.6M310.4 83.6h.6M284.2 88.2h.6M279.7 59.4h.6M289.4 88.4h.6M276.3 76.3h.6M299.2 69.3h.6M291.5 78.8h.6M281.6 88.7h.6M269.9 99.8h.6M300.1 95.5h.6M287.7 75.6h.6M299.1 64.9h.6M261.3 87.5h.6M293.6 84.5h.6M281.9 94.3h.6M278.0 92.2h.6M290.1 79.0h.6M305.9 75.8h.6M279.0 82.9h.6M281.4 60.9h.6M267.3 87.7h.6M287.6 71.2h.6M273.7 77.0h.6M288.9 94.6h.6M297.0 84.2h.6M293.5 72.2h.6M294.1 88.1h.6M315.7 65.4h.6M276.0 80.7h.6M270.1 65.7h.6M294.9 71.5h.6M285.8 74.9h.6M263.8 76.6h.6M292.1 83.1h.6M307.0 62.5h.6M261.7 68.8h.6M285.8 73.0h.6M270.6 78.6h.6M302.9 92.6h.6M295.5 83.7h.6M285.8 58.0h.6M295.6 69.0h.6M271.0 85.8h.6M288.5 104.6h.6M278.1 75.6h.6M270.2 96.4h.6M308.6 89.1h.6M276.9 90.6h.6M273.8 53.6h.6M273.1 78.8h.6M292.6 74.4h.6M278.7 89.8h.6M290.8 64.3h.6M281.9 88.5h.6M273.7 84.7h.6M267.0 96.8h.6M267.4 82.4h.6M245.3 74.0h.6M276.0 94.9h.6M291.6 78.3h.6M292.3 67.8h.6M295.5 78.8h.6M271.1 74.4h.6M263.0 81.4h.6M285.2 71.1h.6M280.2 93.1h.6M290.9 80.8h.6M282.4 76.4h.6M287.6 77.9h.6M271.1 71.0h.6M290.6 93.8h.6M268.4 66.1h.6M308.7 89.4h.6M280.5 81.2h.6M280.4 80.6h.6M273.2 105.6h.6M272.2 85.4h.6M288.7 96.5h.6M301.3 65.9h.6M284.5 68.4h.6M282.0 88.9h.6M275.3 100.2h.6M279.8 76.7h.6M308.2 88.9h.6M273.7 87.6h.6M286.3 93.7h.6M283.2 93.4h.6M289.8 75.5h.6M275.5 75.5h.6M260.8 64.8h.6M275.1 75.1h.6M274.7 90.5h.6M275.3 59.8h.6M262.3 99.1h.6M286.9 81.9h.6M262.5 71.7h.6M304.6 88.1h.6M297.1 81.9h.6M291.9 64.7h.6M287.9 72.6h.6M282.4 93.5h.6M303.3 77.6h.6M288.1 92.2h.6M287.1 77.5h.6M281.0 89.6h.6M273.2 81.0h.6M282.5 68.7h.6M262.2 84.1h.6M257.9 89.3h.6M279.2 75.4h.6M268.4 93.1h.6M279.8 81.6h.6M271.2 76.4h.6M304.6 85.4h.6M269.2 83.8h.6M286.9 85.3h.6M293.8 65.1h.6M254.6 85.0h.6M297.1 75.0h.6M281.9 79.5h.6M291.5 70.6h.6M297.8 92.2h.6M272.3 92.8h.6M274.0 74.0h.6M300.3 80.9h.6M285.4 83.4h.6M274.8 87.8h.6M300.2 74.3h.6M277.3 86.1h.6M303.3 107.0h.6M302.4 78.6h.6M290.3 86.2h.6M303.0 71.5h.6M286.4 75.1h.6M277.9 79.8h.6M278.4 72.4h.6M282.6 70.3h.6M288.1 98.0h.6M283.2 73.9h.6M309.1 79.0h.6M276.2 73.4h.6M279.3 78.5h.6M293.0 57.6h.6M278.2 86.8h.6M295.7 73.1h.6M299.7 90.2h.6M273.0 88.8h.6M273.5 77.7h.6M281.5 68.1h.6M287.9 85.5h.6M276.3 78.3h.6M272.2 74.8h.6M260.9 81.5h.6M281.1 86.8h.6M292.6 69.9h.6M289.5 87.7h.6M279.6 84.5h.6M305.6 82.4h.6M276.3 85.4h.6M291.4 64.7h.6M288.6 77.1h.6M280.8 85.4h.6M301.8 74.6h.6M288.2 75.3h.6M288.0 99.5h.6M284.8 81.9h.6M298.4 90.9h.6M295.8 85.0h.6M294.1 89.2h.6M288.4 88.9h.6M305.8 71.2h.6M292.8 72.5h.6M274.6 80.0h.6M279.0 81.7h.6M295.2 63.7h.6M282.2 79.5h.6M293.8 73.1h.6M293.1 86.3h.6M268.5 84.7h.6M297.2 62.0h.6M298.4 101.2h.6M282.1 59.0h.6M295.4 100.7h.6M282.1 80.2h.6M303.3 113.4h.6M269.7 84.3h.6M286.9 90.2h.6M277.8 82.5h.6M278.6 73.7h.6M304.5 59.8h.6M299.3 71.0h.6M283.3 75.5h.6M278.1 83.7h.6M296.2 88.8h.6M272.7 87.7h.6M274.6 83.7h.6M273.5 91.5h.6M287.9 85.3h.6M286.6 98.8h.6M270.4 106.4h.6M276.2 83.2h.6M285.8 83.7h.6M286.8 91.7h.6M295.0 84.5h.6M284.1 85.2h.6M285.8 71.7h.6M278.3 77.2h.6M282.6 86.9h.6M302.4 83.4h.6M289.4 70.4h.6M291.8 66.2h.6M276.7 76.2h.6M261.7 80.7h.6M273.0 80.4h.6M279.8 69.9h.6M295.8 54.4h.6M286.9 78.0h.6M279.9 82.3h.6M288.0 103.8h.6M289.4 78.1h.6M289.0 79.5h.6M298.0 92.0h.6M289.3 89.4h.6M274.6 87.8h.6M265.1 64.3h.6M272.3 83.6h.6M296.8 89.1h.6M304.1 84.6h.6M276.6 73.3h.6M305.3 65.0h.6M289.4 95.0h.6M285.5 91.8h.6M287.2 82.8h.6M291.2 84.0h.6M277.0 73.4h.6M286.5 95.8h.6M283.4 85.3h.6M254.0 105.1h.6M280.7 84.0h.6M303.9 84.4h.6M293.8 79.9h.6M277.5 83.3h.6M287.3 93.9h.6M293.5 94.0h.6M278.6 82.1h.6M293.1 87.6h.6M282.3 91.1h.6M268.9 90.4h.6M282.7 80.3h.6M258.5 74.6h.6M279.0 77.0h.6M268.0 80.4h.6M300.2 107.3h.6M259.5 61.2h.6M285.9 82.4h.6M294.8 92.9h.6M290.2 62.1h.6M268.8 89.5h.6M263.4 73.8h.6M295.3 66.1h.6M279.5 82.8h.6M278.5 84.4h.6M286.8 81.3h.6M280.3 82.0h.6M280.3 64.7h.6M278.9 94.3h.6M280.2 84.4h.6M252.7 80.7h.6M276.5 86.7h.6M286.9 71.0h.6M273.1 70.6h.6M277.8 73.6h.6M294.6 78.0h.6M272.6 69.7h.6M293.0 76.2h.6M294.0 71.7h.6M293.7 75.5h.6M293.5 96.1h.6M272.2 78.7h.6M269.7 79.0h.6M297.0 89.8h.6M286.2 82.1h.6M312.1 93.5h.6M299.1 74.7h.6M292.2 83.5h.6M285.9 69.9h.6M283.2 83.1h.6M287.1 89.5h.6M280.6 78.9h.6M284.0 85.4h.6M292.1 87.5h.6M287.8 61.9h.6M287.4 76.1h.6M267.6 92.6h.6M266.6 83.6h.6M272.8 80.8h.6M260.2 83.8h.6M269.8 82.4h.6M274.8 76.2h.6M265.4 80.2h.6M277.0 83.4h.6M276.8 96.7h.6M263.8 81.9h.6M281.8 71.9h.6M268.0 81.3h.6M285.4 90.0h.6M267.4 87.8h.6M275.4 74.4h.6M292.5 84.2h.6M271.5 82.0h.6M291.5 85.1h.6M306.2 89.4h.6M296.8 83.3h.6M266.7 73.7h.6M298.1 65.0h.6M304.6 73.6h.6M289.0 88.9h.6M305.5 82.3h.6M303.2 66.0h.6M262.3 66.2h.6M291.5 80.2h.6M288.9 63.4h.6M281.2 84.0h.6M280.5 80.9h.6M290.7 65.0h.6M317.4 77.0h.6M281.5 73.0h.6M298.1 74.9h.6M275.1 85.7h.6M291.6 67.8h.6M295.9 91.6h.6M270.0 96.6h.6M268.9 77.4h.6M298.7 91.5h.6M290.4 52.6h.6M294.8 75.3h.6M304.9 60.4h.6M282.9 75.5h.6M302.6 102.0h.6M285.7 61.0h.6M278.4 93.6h.6M281.5 86.4h.6M291.9 60.1h.6M277.3 88.9h.6M279.7 70.7h.6M306.9 72.8h.6M282.8 93.6h.6M294.7 89.1h.6M296.0 66.1h.6M283.1 83.9h.6M283.8 79.9h.6M276.7 81.6h.6M272.8 97.2h.6M295.0 81.2h.6M299.3 95.7h.6M278.2 78.8h.6M303.9 87.3h.6M286.4 71.9h.6M267.5 78.4h.6M273.6 72.0h.6M294.2 83.1h.6M258.6 74.5h.6M291.5 71.9h.6M291.5 77.7h.6M299.5 70.8h.6M267.2 91.8h.6M296.7 59.4h.6M298.3 70.9h.6M273.8 86.6h.6M293.3 98.5h.6M287.2 88.5h.6M267.6 82.6h.6M291.6 84.2h.6M283.8 84.1h.6M266.4 80.8h.6M289.0 79.4h.6M282.5 69.2h.6M293.3 90.0h.6M289.8 77.5h.6M279.6 93.0h.6M271.7 91.0h.6M298.7 74.3h.6M299.9 62.3h.6M274.1 79.8h.6M295.1 91.5h.6M291.4 110.9h.6M284.7 78.1h.6M294.2 83.7h.6M283.2 77.5h.6M317.9 88.1h.6M274.0 44.6h.6M289.9 92.7h.6M262.9 91.6h.6M289.0 77.6h.6M272.6 69.4h.6M250.1 83.2h.6M281.8 87.1h.6M289.9 62.8h.6M276.9 92.6h.6M285.9 84.0h.6M278.4 71.4h.6M287.2 99.8h.6M257.0 87.9h.6M290.4 88.7h.6M269.3 79.4h.6M284.2 84.4h.6M282.7 72.0h.6M279.0 60.8h.6M294.4 92.2h.6M272.5 88.7h.6M278.1 73.0h.6M312.8 74.3h.6M302.0 79.8h.6M293.0 96.5h.6M289.8 85.7h.6M298.7 89.4h.6M277.0 63.4h.6M268.3 70.5h.6M282.4 86.7h.6M274.8 93.3h.6M290.5 87.6h.6M268.9 88.3h.6M285.0 96.6h.6M283.8 83.2h.6M295.3 49.1h.6M289.5 77.3h.6M281.9 74.4h.6M273.1 74.2h.6M309.5 96.5h.6M285.0 80.2h.6M287.1 63.7h.6M283.1 69.7h.6M286.7 82.9h.6M277.2 74.5h.6M301.4 85.7h.6M304.1 85.9h.6M283.4 79.6h.6M298.2 78.8h.6M283.0 66.3h.6M273.7 65.2h.6M288.2 80.2h.6M306.3 82.5h.6M293.4 81.0h.6M268.6 68.1h.6M298.0 69.5h.6M293.8 76.9h.6M288.3 78.0h.6M297.2 87.4h.6M275.1 71.3h.6M288.3 78.2h.6M291.5 62.6h.6M278.0 72.2h.6M274.3 81.5h.6M292.8 84.1h.6M312.6 80.4h.6M263.5 101.5h.6M279.7 68.7h.6M264.0 94.3h.6M281.9 89.2h.6M265.3 61.7h.6M282.9 77.9h.6M269.2 70.5h.6M276.3 70.0h.6M271.0 91.4h.6M302.1 85.9h.6M283.3 86.6h.6M285.6 78.7h.6M280.7 96.4h.6M285.0 84.4h.6M275.4 71.5h.6M283.5 67.1h.6M267.1 80.8h.6M299.6 102.1h.6M281.7 81.8h.6M278.5 76.0h.6M290.4 74.3h.6M287.9 77.1h.6M297.8 81.2h.6M273.3 87.5h.6M276.6 89.2h.6M270.0 81.3h.6M258.1 104.0h.6M277.2 78.2h.6M264.3 67.4h.6M287.2 89.6h.6M255.5 88.6h.6M289.1 88.7h.6M292.1 80.2h.6M267.0 89.7h.6M292.2 73.6h.6M279.8 79.6h.6M287.4 76.7h.6M280.1 102.3h.6M246.9 90.1h.6M268.6 83.0h.6M303.4 90.5h.6M288.6 81.7h.6M275.9 67.2h.6M282.0 82.0h.6M282.0 62.2h.6M288.0 65.4h.6M286.3 75.4h.6M281.2 106.0h.6M297.8 90.6h.6M293.7 92.3h.6M273.6 67.2h.6M281.9 85.8h.6M271.2 77.4h.6M283.1 67.2h.6M262.8 73.2h.6M288.8 86.0h.6M316.6 65.0h.6M291.8 97.3h.6M281.0 85.5h.6M270.5 87.3h.6M258.9 78.0h.6M259.7 91.8h.6M271.2 85.4h.6M273.4 94.7h.6M292.3 87.4h.6M269.4 94.6h.6M274.4 79.6h.6M275.8 99.4h.6M292.5 83.9h.6M281.2 84.6h.6M288.6 96.5h.6M290.5 69.6h.6M300.3 71.5h.6M285.0 79.2h.6M279.1 87.4h.6M284.9 71.9h.6M296.5 90.1h.6M281.5 77.3h.6M304.7 85.4h.6M296.0 89.8h.6M277.3 76.0h.6M287.1 80.0h.6M275.4 59.5h.6M287.0 75.8h.6M293.4 82.9h.6M281.1 76.7h.6M294.6 72.4h.6M249.1 71.3h.6M282.8 87.1h.6M283.7 87.1h.6M257.8 77.3h.6M279.4 82.1h.6M267.9 66.2h.6M275.5 79.2h.6M280.4 92.4h.6M304.7 79.8h.6M271.1 66.5h.6M267.7 81.7h.6M296.4 92.9h.6M296.2 75.0h.6M292.6 54.8h.6M262.6 86.4h.6M284.5 68.7h.6M285.6 88.4h.6M297.8 74.1h.6M275.3 67.3h.6M290.4 90.0h.6M244.6 100.1h.6M272.0 90.4h.6M281.3 87.1h.6M271.5 75.3h.6M292.1 89.5h.6M273.6 89.0h.6M280.9 91.6h.6M290.5 85.9h.6M282.4 85.3h.6M250.8 81.0h.6M279.4 78.6h.6M282.4 78.3h.6M282.7 74.9h.6M316.8 68.4h.6M282.5 92.0h.6M296.3 92.4h.6M285.4 80.4h.6M282.4 86.1h.6M310.5 81.6h.6M276.5 77.1h.6M296.1 90.7h.6M275.1 80.8h.6M288.1 102.3h.6M282.7 108.2h.6M293.6 68.8h.6M282.9 71.3h.6M300.7 65.7h.6M285.8 86.9h.6M278.3 80.3h.6M284.5 87.0h.6M299.0 56.1h.6M293.8 76.1h.6M269.5 92.3h.6M298.4 75.9h.6M251.9 89.2h.6M290.5 83.1h.6M292.1 82.3h.6M286.3 95.6h.6M289.4 101.6h.6M284.0 88.8h.6M276.8 75.4h.6M268.9 110.3h.6M275.2 92.8h.6M278.2 84.1h.6M279.5 71.7h.6M260.4 92.5h.6M301.3 75.4h.6M298.4 69.3h.6M310.1 81.9h.6M286.2 76.7h.6M300.4 81.8h.6M277.6 78.3h.6M289.4 81.9h.6M286.1 85.3h.6M268.5 63.8h.6M280.8 82.1h.6M281.8 64.3h.6M271.8 92.8h.6M289.8 83.0h.6M286.5 76.1h.6M274.5 87.4h.6M268.3 84.1h.6M296.4 66.6h.6M293.6 74.8h.6M280.2 77.6h.6M292.3 88.2h.6M289.2 86.1h.6M271.0 86.8h.6M285.4 74.7h.6M280.0 71.3h.6M290.5 85.6h.6M275.4 94.1h.6M266.3 68.0h.6M270.7 72.6h.6M269.5 90.8h.6M288.1 91.3h.6M265.1 91.1h.6M292.4 77.6h.6M283.1 74.1h.6M301.8 93.6h.6M297.3 76.6h.6M274.2 66.7h.6M295.7 85.7h.6M300.4 84.2h.6M294.0 86.0h.6M290.9 77.7h.6M280.6 85.2h.6M286.9 94.3h.6M307.8 63.6h.6M272.7 82.0h.6M296.6 101.5h.6M282.1 78.3h.6M266.3 75.7h.6M292.9 69.6h.6M309.7 86.2h.6M302.2 95.1h.6M314.4 77.0h.6M301.0 81.4h.6M305.5 85.8h.6M285.7 81.7h.6M283.4 85.3h.6M286.7 92.2h.6M285.9 78.7h.6M283.3 85.5h.6M282.3 71.7h.6M285.9 75.0h.6M283.2 85.2h.6M270.7 101.2h.6M267.7 88.9h.6M281.8 79.9h.6M312.1 89.5h.6M300.6 77.3h.6M283.8 68.7h.6M285.3 79.8h.6M297.5 82.9h.6M261.1 98.6h.6M305.7 68.2h.6M257.8 91.7h.6M289.9 88.8h.6M269.4 80.7h.6M307.8 68.5h.6M292.1 88.0h.6M301.8 91.7h.6M259.9 81.4h.6M281.8 92.8h.6M301.7 94.5h.6M266.9 101.0h.6M304.4 76.5h.6M287.7 71.5h.6M284.4 89.5h.6M312.2 75.3h.6M272.1 56.3h.6M287.4 77.4h.6M280.3 72.1h.6M273.1 89.4h.6M310.8 87.7h.6M258.2 81.7h.6M285.1 75.2h.6M296.4 92.1h.6M262.8 79.7h.6M285.0 84.8h.6M282.0 88.8h.6M279.5 83.9h.6M272.0 76.6h.6M316.8 99.0h.6M285.6 69.7h.6M289.2 72.1h.6M245.7 85.5h.6M270.4 88.4h.6M267.4 71.4h.6M275.0 79.8h.6M279.1 76.0h.6M303.4 74.2h.6M280.2 94.7h.6M285.7 70.2h.6M292.9 95.1h.6M332.3 80.2h.6M277.9 85.7h.6M279.9 76.3h.6M311.0 56.5h.6M293.2 73.0h.6M276.4 78.6h.6M287.9 71.6h.6M276.7 75.7h.6M295.4 80.5h.6M269.3 111.0h.6M275.5 75.1h.6M259.0 82.6h.6M300.3 82.3h.6M303.4 77.0h.6M304.0 56.8h.6M276.9 88.2h.6M273.3 87.2h.6M287.1 90.0h.6M281.1 79.1h.6M301.9 78.4h.6M302.2 85.9h.6M250.9 63.0h.6M286.4 78.9h.6M278.5 54.3h.6M270.1 73.3h.6M279.2 84.5h.6M286.2 85.1h.6M285.0 71.3h.6M274.5 86.7h.6M247.8 69.6h.6M274.8 83.9h.6M266.3 79.4h.6M300.7 76.2h.6M306.8 79.6h.6M281.0 92.3h.6M276.8 102.3h.6M285.8 75.3h.6M301.6 64.5h.6M282.7 82.9h.6M268.4 82.6h.6M294.6 81.8h.6M258.2 91.0h.6M261.5 81.1h.6M283.3 92.0h.6M279.2 76.5h.6M280.7 89.8h.6M294.3 89.8h.6M309.9 74.0h.6M297.8 75.3h.6M293.4 87.7h.6M299.1 82.5h.6M291.9 87.1h.6M308.7 86.9h.6M285.8 92.4h.6M297.0 81.9h.6M302.9 86.6h.6M289.5 84.9h.6M295.9 88.1h.6M282.6 81.6h.6M288.5 86.5h.6M262.4 79.1h.6M283.1 77.7h.6M284.6 94.9h.6M281.8 97.5h.6M261.6 74.2h.6M267.1 98.5h.6M274.1 87.7h.6M286.0 94.7h.6M269.9 87.7h.6M274.3 91.1h.6M293.9 73.4h.6M297.5 86.7h.6M284.2 63.0h.6M260.4 57.4h.6M269.6 82.8h.6M277.8 88.7h.6M271.6 79.5h.6M288.0 92.9h.6M295.7 89.4h.6M286.1 85.7h.6M297.3 83.2h.6M286.4 79.2h.6M279.3 78.8h.6M275.2 85.9h.6M295.5 66.5h.6M284.7 78.4h.6M291.2 71.3h.6M287.6 81.8h.6M274.1 90.3h.6M327.8 94.3h.6M296.9 77.8h.6M291.2 69.1h.6M278.4 99.2h.6M261.0 81.5h.6M293.0 93.7h.6M304.6 99.7h.6M287.4 65.1h.6M291.7 80.3h.6M286.1 78.0h.6M266.6 78.1h.6M297.7 73.3h.6M284.8 83.3h.6M294.4 75.4h.6M308.0 86.0h.6M305.0 81.0h.6M281.6 82.7h.6M294.5 83.6h.6M274.1 79.9h.6M271.9 82.7h.6M265.1 81.3h.6M284.4 77.3h.6M301.9 87.8h.6M295.8 91.8h.6M270.4 95.9h.6M297.6 90.4h.6M288.9 77.9h.6M286.2 63.8h.6M314.4 81.4h.6M290.4 56.4h.6M292.3 78.9h.6M295.9 75.6h.6M291.0 82.6h.6M275.4 66.5h.6M260.6 81.9h.6M279.9 77.6h.6M281.7 69.1h.6M256.9 70.2h.6M272.0 81.2h.6M288.7 70.0h.6M273.8 48.7h.6M273.6 89.2h.6M282.1 83.9h.6M276.2 87.3h.6M283.8 101.1h.6M293.7 88.4h.6M290.7 90.0h.6M287.3 70.1h.6M294.7 86.5h.6M295.7 83.7h.6M279.2 95.1h.6M293.2 92.7h.6M296.2 94.7h.6M292.7 83.8h.6M306.3 77.8h.6M291.8 69.7h.6M280.5 65.1h.6M296.4 83.0h.6M296.4 76.9h.6M280.9 82.8h.6M264.3 85.8h.6M280.0 78.6h.6M292.6 80.3h.6M274.7 78.6h.6M279.8 84.8h.6M290.4 90.2h.6M269.4 84.3h.6M301.7 67.6h.6M283.1 93.5h.6M297.1 75.4h.6M295.9 73.1h.6M281.4 94.1h.6M283.0 91.7h.6M303.1 67.8h.6M294.9 77.1h.6M275.5 79.9h.6M280.4 79.6h.6M283.9 74.7h.6M274.8 75.7h.6M302.6 58.0h.6M296.5 84.0h.6M304.5 76.7h.6M297.5 102.6h.6M290.7 81.8h.6M298.8 76.2h.6M324.6 89.1h.6M291.9 83.2h.6M281.6 76.0h.6M277.3 99.6h.6M273.0 89.6h.6M279.0 84.3h.6M284.8 87.9h.6M269.1 87.9h.6M265.9 90.4h.6M276.7 92.5h.6M276.7 87.3h.6M289.9 86.3h.6M294.2 85.8h.6M295.3 71.5h.6M265.6 73.2h.6M283.3 90.6h.6M291.4 80.0h.6M267.2 60.4h.6M286.3 86.1h.6M269.5 77.3h.6M279.7 73.3h.6M319.4 79.8h.6M288.9 80.6h.6M264.4 85.8h.6M277.9 90.8h.6M287.2 77.1h.6M290.8 82.0h.6M275.2 84.3h.6M289.9 90.7h.6M293.5 81.6h.6M284.9 77.5h.6M263.5 96.6h.6M262.8 68.2h.6M278.8 85.9h.6M289.7 78.8h.6M281.5 103.1h.6M301.5 75.5h.6M312.0 97.2h.6M275.4 86.3h.6M279.1 76.9h.6M271.1 77.1h.6M284.8 73.8h.6M280.4 87.8h.6M291.4 72.7h.6M289.0 90.9h.6M279.0 93.4h.6M296.3 72.3h.6M283.1 72.8h.6M272.8 72.7h.6M259.1 92.3h.6M274.4 87.0h.6M294.7 56.7h.6M280.2 81.7h.6M298.5 90.5h.6M268.1 69.5h.6M275.9 82.8h.6M262.1 72.5h.6M281.5 75.8h.6M258.7 88.8h.6M275.5 92.5h.6M296.4 93.7h.6M302.8 73.9h.6M306.4 81.3h.6M271.4 83.5h.6M290.9 81.1h.6M281.2 86.0h.6M281.8 88.1h.6M294.8 82.5h.6M274.7 92.6h.6M252.7 87.4h.6M300.0 75.2h.6M301.6 75.7h.6M264.4 68.0h.6M285.5 89.0h.6M291.7 80.8h.6M301.3 89.6h.6M286.9 81.9h.6M281.7 84.3h.6M290.2 86.3h.6M294.7 96.4h.6M287.0 79.4h.6M293.6 82.2h.6M298.8 86.4h.6M294.8 82.3h.6M311.3 78.1h.6M295.9 79.7h.6M258.4 81.2h.6M286.9 87.7h.6M292.0 88.8h.6M286.2 79.1h.6M282.6 91.0h.6M277.3 65.0h.6M275.6 81.8h.6M288.3 99.5h.6M281.3 81.6h.6M280.3 65.2h.6M276.9 93.4h.6M283.2 93.7h.6M285.6 89.8h.6M291.0 93.7h.6M279.1 86.4h.6M267.9 108.6h.6M288.5 97.9h.6M280.7 80.5h.6M286.3 82.6h.6M267.6 83.2h.6M263.8 75.7h.6M260.2 79.3h.6M271.7 78.9h.6M278.4 87.2h.6M253.3 66.0h.6M268.5 81.1h.6M282.0 93.9h.6M273.7 88.5h.6M270.3 83.5h.6M305.1 84.1h.6M291.8 75.5h.6M277.9 80.6h.6M285.8 85.3h.6M292.7 94.6h.6M273.2 76.5h.6M257.4 79.0h.6M299.6 76.0h.6M281.9 87.7h.6M278.3 84.8h.6M308.2 70.7h.6M291.1 78.7h.6M280.0 109.4h.6M288.5 73.1h.6M282.2 88.7h.6M265.0 68.0h.6M320.4 78.5h.6M270.3 96.4h.6M277.7 90.7h.6M283.4 79.6h.6M309.8 76.5h.6M305.1 70.8h.6M287.3 89.3h.6M290.3 96.5h.6M319.5 76.2h.6M309.2 71.9h.6M277.8 82.2h.6M286.1 88.5h.6M276.4 63.8h.6M278.4 93.4h.6M286.7 72.5h.6M305.2 77.8h.6M274.9 93.6h.6M253.6 97.1h.6M261.6 92.6h.6M257.8 73.4h.6M277.5 88.2h.6M284.8 88.7h.6M257.5 90.4h.6M251.5 93.6h.6M288.2 91.4h.6M284.1 63.0h.6M271.8 90.2h.6M279.3 70.9h.6M280.2 91.7h.6M292.5 79.2h.6M297.0 85.4h.6M250.5 88.4h.6M269.9 90.3h.6M294.7 81.6h.6M289.0 70.8h.6M274.5 80.9h.6M278.8 67.3h.6M278.3 79.4h.6M273.4 90.1h.6M273.8 97.6h.6M267.9 88.9h.6M264.1 80.5h.6M279.5 89.1h.6M275.4 81.9h.6M291.4 77.4h.6M273.5 81.2h.6M254.7 85.8h.6M286.4 76.5h.6M270.2 86.7h.6M283.4 73.2h.6M281.4 86.8h.6M266.7 76.9h.6M264.1 75.9h.6M292.3 79.9h.6M264.4 76.5h.6M285.7 66.0h.6M292.0 74.3h.6M273.5 89.6h.6M273.2 85.4h.6M277.7 69.4h.6M278.0 75.9h.6M281.5 76.1h.6M266.7 91.6h.6M276.8 82.3h.6M275.2 68.8h.6M288.7 91.0h.6M285.9 81.3h.6M266.0 100.1h.6M284.4 74.3h.6M267.3 90.0h.6M266.4 74.3h.6M283.8 77.1h.6M244.8 71.0h.6M276.6 92.1h.6M282.1 71.4h.6M284.8 86.1h.6M292.8 68.5h.6M288.1 93.5h.6M280.8 83.6h.6M285.4 76.8h.6M278.7 70.8h.6M276.5 77.5h.6M286.1 110.2h.6M290.9 91.4h.6M305.9 82.4h.6M293.1 101.6h.6M289.3 72.8h.6M279.2 78.6h.6M275.2 87.4h.6M268.7 77.4h.6M277.5 67.0h.6M293.7 76.3h.6M294.9 76.1h.6M283.8 90.0h.6M267.5 70.5h.6M286.5 74.9h.6M287.4 85.6h.6M281.9 80.2h.6M295.0 73.0h.6M298.9 71.2h.6M302.6 93.9h.6M290.8 75.7h.6M310.9 74.5h.6M283.3 78.6h.6M281.7 68.7h.6M283.4 77.9h.6M268.7 80.9h.6M287.3 77.6h.6M292.2 81.5h.6M277.9 77.3h.6M277.8 88.7h.6M254.3 89.7h.6M307.8 95.5h.6M272.5 58.0h.6M286.0 79.3h.6M298.0 86.7h.6M280.1 74.6h.6M292.7 67.6h.6M293.0 84.5h.6M279.2 84.5h.6M297.8 104.9h.6M300.8 82.5h.6M287.4 92.0h.6M296.4 103.4h.6M289.4 75.1h.6M297.4 77.4h.6M283.7 60.0h.6M280.5 99.9h.6M269.7 66.2h.6M279.3 68.8h.6M300.0 85.6h.6M296.1 75.3h.6M277.9 94.1h.6M285.7 83.6h.6M269.7 80.9h.6M274.7 69.4h.6M272.2 94.7h.6M260.2 83.4h.6M267.0 81.9h.6M270.0 90.3h.6M272.2 85.1h.6M292.2 79.8h.6M280.3 82.1h.6M273.3 86.8h.6M292.2 86.2h.6M282.3 68.5h.6M263.1 90.7h.6M292.3 63.5h.6M282.8 110.2h.6M282.2 74.1h.6M281.3 89.7h.6M275.7 77.3h.6M284.8 60.8h.6M282.6 84.3h.6M262.6 73.5h.6M293.4 82.7h.6M289.3 86.9h.6M264.3 96.0h.6M284.4 88.2h.6M269.9 89.8h.6M293.7 93.2h.6M264.2 78.3h.6M298.7 85.6h.6M269.6 85.3h.6M292.0 93.8h.6M295.2 72.1h.6M309.0 81.3h.6M286.7 74.6h.6M287.2 95.1h.6M290.1 78.9h.6M301.1 92.4h.6M286.7 73.5h.6M291.2 70.9h.6M317.9 83.3h.6M299.9 87.6h.6M284.6 73.1h.6M302.5 92.2h.6M290.0 73.5h.6M289.0 82.9h.6M287.8 71.5h.6M264.0 67.5h.6M286.0 74.8h.6M286.3 89.1h.6M300.6 82.8h.6M301.0 69.1h.6M265.3 89.0h.6M277.6 78.4h.6M277.3 80.1h.6M288.7 96.4h.6M279.7 76.3h.6M295.3 88.9h.6M256.6 72.2h.6M291.6 91.2h.6M290.4 91.9h.6M287.8 70.3h.6M299.7 84.7h.6M268.2 89.6h.6M268.2 69.0h.6M278.8 68.2h.6M291.6 77.6h.6M293.0 77.6h.6M274.2 83.4h.6M283.9 85.9h.6M282.7 91.3h.6M264.3 79.7h.6M300.8 78.7h.6M295.3 77.8h.6M298.0 107.1h.6M269.4 102.7h.6M281.5 76.8h.6M277.7 78.1h.6M292.0 82.4h.6M262.5 89.8h.6M290.6 71.3h.6M284.4 87.3h.6M298.6 80.3h.6M278.5 101.1h.6M288.2 90.9h.6M276.1 68.4h.6M259.1 75.2h.6M276.7 85.7h.6M291.4 72.2h.6M294.6 66.0h.6M278.4 84.1h.6M277.4 69.9h.6M280.7 81.2h.6M285.0 81.3h.6M283.2 93.6h.6M277.8 83.9h.6M290.2 108.5h.6M315.6 90.2h.6M287.9 89.5h.6M298.8 86.4h.6M259.7 86.6h.6M288.1 78.1h.6M274.1 84.3h.6M306.2 87.4h.6M293.0 68.8h.6M299.4 82.4h.6M284.8 102.7h.6M289.8 86.6h.6M261.0 90.0h.6M283.3 77.6h.6M268.0 85.7h.6M292.2 68.9h.6M279.8 75.6h.6M255.5 87.1h.6M249.0 79.9h.6M267.9 77.5h.6M291.6 105.9h.6M290.5 98.3h.6M263.3 96.0h.6M272.1 69.6h.6M299.8 82.0h.6M284.5 69.4h.6M289.5 79.9h.6M290.7 85.6h.6M297.3 80.7h.6M296.3 84.8h.6M318.8 84.7h.6M272.3 73.4h.6M279.5 74.6h.6M285.2 81.0h.6M276.4 84.8h.6M287.3 68.7h.6M274.7 60.7h.6M310.4 75.1h.6M289.0 77.1h.6M282.8 88.2h.6M291.9 83.6h.6M264.9 73.9h.6M291.1 87.0h.6M295.1 101.6h.6M283.2 89.8h.6M256.9 93.1h.6M286.2 89.5h.6M279.3 75.8h.6M282.3 83.4h.6M296.3 87.0h.6M282.5 90.5h.6M320.9 95.5h.6M293.2 88.8h.6M293.5 75.9h.6M290.6 73.6h.6M310.6 77.2h.6M281.5 99.3h.6M270.0 77.8h.6M291.6 104.8h.6M288.1 72.7h.6M266.2 70.9h.6M307.0 99.0h.6M313.0 64.5h.6M290.0 76.4h.6M294.8 72.7h.6M272.4 90.3h.6M267.3 88.2h.6M280.6 97.7h.6M294.8 77.2h.6M269.7 84.4h.6M277.9 86.7h.6M296.8 70.1h.6M280.1 78.9h.6M287.3 69.9h.6M269.0 67.0h.6M299.7 94.3h.6M293.6 81.1h.6M279.1 74.5h.6M270.2 87.3h.6M285.9 64.3h.6M282.6 88.4h.6M284.8 83.4h.6M294.7 80.1h.6M289.2 77.7h.6M280.3 78.2h.6M275.9 84.9h.6M297.6 86.9h.6M306.0 90.4h.6M273.4 88.2h.6M298.3 89.6h.6M307.4 96.8h.6M276.1 105.8h.6M269.9 77.1h.6M280.1 93.8h.6M300.8 104.5h.6M268.2 91.5h.6M291.3 97.2h.6M276.0 70.2h.6M299.5 98.7h.6M268.9 76.3h.6M306.5 66.4h.6M289.8 85.2h.6M287.3 70.2h.6M287.5 91.1h.6M310.7 71.6h.6M263.1 57.6h.6M297.7 77.9h.6M303.4 84.1h.6M270.2 82.2h.6M279.9 80.7h.6M279.3 83.3h.6M278.7 74.7h.6M285.8 78.0h.6M315.1 64.0h.6M278.4 75.7h.6M273.3 96.7h.6M310.8 93.9h.6M283.3 73.8h.6M270.7 89.5h.6M299.6 77.2h.6M292.0 66.1h.6M283.4 79.9h.6M280.4 62.5h.6M287.9 86.7h.6M288.4 79.7h.6M281.5 64.7h.6M309.6 92.2h.6M271.1 78.5h.6M279.3 83.9h.6M274.9 74.6h.6M285.4 69.8h.6M274.6 75.3h.6M307.5 67.9h.6M299.9 92.7h.6M299.8 77.9h.6M276.7 72.7h.6M289.7 75.9h.6M280.2 82.9h.6M298.9 57.4h.6M279.0 92.9h.6M271.8 94.5h.6M268.2 75.9h.6M285.8 87.0h.6M290.6 78.3h.6M279.1 90.3h.6M273.1 84.2h.6M312.7 84.4h.6M281.5 81.9h.6M297.6 86.0h.6M273.9 78.6h.6M270.3 85.0h.6M298.0 87.3h.6M281.9 82.2h.6M277.9 92.7h.6M273.2 85.7h.6M280.7 70.8h.6M277.5 72.8h.6M302.3 94.5h.6M287.6 84.9h.6M292.3 83.1h.6M281.3 80.7h.6M254.3 78.8h.6M288.5 66.8h.6M296.3 87.0h.6M274.6 69.1h.6M290.1 68.3h.6M270.6 77.4h.6M304.9 83.7h.6M288.4 69.0h.6M319.6 73.2h.6M298.0 81.6h.6M274.0 67.0h.6M273.2 78.1h.6M270.3 60.2h.6M302.7 105.3h.6M268.1 78.4h.6M284.7 80.0h.6M279.9 77.9h.6M274.0 83.4h.6M285.6 87.2h.6M281.6 84.2h.6M301.0 65.5h.6M290.9 89.5h.6M308.3 85.3h.6M296.0 70.7h.6M277.2 74.7h.6M283.8 99.5h.6M266.7 94.6h.6M280.6 83.5h.6M261.4 94.8h.6M274.3 86.2h.6M285.7 81.7h.6M287.4 86.0h.6M291.5 98.8h.6M280.6 86.4h.6M279.5 77.1h.6M289.9 81.2h.6M296.7 77.9h.6M289.5 105.7h.6M308.5 93.1h.6M276.9 77.9h.6M298.8 65.9h.6M289.8 80.2h.6M296.0 86.5h.6M308.4 85.8h.6M288.3 103.3h.6M280.1 78.7h.6M284.8 80.8h.6M279.3 94.7h.6M258.3 67.7h.6M265.4 81.3h.6M286.8 92.9h.6M271.2 89.3h.6M292.9 82.6h.6M282.9 73.4h.6M284.9 78.8h.6M311.5 90.7h.6M279.4 78.6h.6M297.5 68.7h.6M294.2 87.3h.6M293.2 69.1h.6M269.3 69.6h.6M274.8 81.2h.6M277.8 78.8h.6M271.2 96.5h.6M269.0 79.1h.6M282.7 59.5h.6M292.7 89.8h.6M292.7 86.3h.6M307.5 70.5h.6M275.1 68.1h.6M285.0 104.7h.6M269.4 89.7h.6M291.1 78.3h.6M288.8 93.0h.6M288.0 73.7h.6M297.8 80.8h.6M273.1 79.9h.6M261.1 80.2h.6M314.7 82.1h.6M271.5 93.9h.6M276.2 76.8h.6M267.0 81.2h.6M276.5 88.2h.6M260.8 68.0h.6M284.1 77.1h.6M279.7 73.2h.6M271.5 93.3h.6M272.7 80.7h.6M295.3 91.1h.6M281.0 61.2h.6M302.4 94.6h.6M302.8 81.7h.6M292.8 67.4h.6M303.1 84.5h.6M273.9 99.2h.6M271.8 91.2h.6M283.9 79.6h.6M285.8 79.9h.6M259.7 90.4h.6M271.6 76.0h.6M280.0 95.5h.6M279.1 89.4h.6M310.9 86.4h.6M301.1 70.4h.6M273.1 64.1h.6M277.7 92.0h.6M282.5 82.9h.6M282.8 70.6h.6M257.6 89.8h.6M274.1 92.4h.6M275.0 89.7h.6M256.7 79.4h.6M301.6 66.0h.6M288.5 87.0h.6M288.4 102.9h.6M309.6 87.1h.6M314.4 88.4h.6M271.1 78.1h.6M296.6 78.5h.6M280.9 68.7h.6M283.1 99.9h.6M265.5 97.1h.6M265.0 87.1h.6M306.9 68.9h.6M276.6 82.4h.6M278.5 82.7h.6M292.9 87.8h.6M289.1 76.8h.6M290.6 82.0h.6M286.0 90.3h.6M298.6 83.6h.6M285.7 94.8h.6M295.1 71.9h.6M275.0 71.3h.6M302.5 84.2h.6M290.1 89.8h.6M277.6 95.7h.6M277.0 75.1h.6M285.4 77.8h.6M304.0 80.8h.6M267.3 68.4h.6M290.3 75.2h.6M273.8 81.4h.6M285.4 84.5h.6M295.9 73.3h.6M256.6 88.9h.6M263.9 74.9h.6M289.9 67.5h.6M272.5 83.2h.6M280.9 71.3h.6M286.0 72.4h.6M323.0 80.2h.6M278.0 77.4h.6M278.4 84.0h.6M275.7 92.6h.6M296.3 72.1h.6M276.0 77.1h.6M279.2 82.6h.6M282.6 84.1h.6M280.7 81.0h.6M285.6 74.1h.6M295.1 79.8h.6M298.1 78.3h.6M270.0 77.4h.6M284.0 80.2h.6M282.3 74.8h.6M276.2 83.0h.6M261.6 74.8h.6M267.5 85.1h.6M313.5 96.0h.6M289.8 65.1h.6M281.7 84.9h.6M278.5 68.1h.6M255.9 83.5h.6M283.1 73.3h.6M282.3 75.8h.6M280.2 84.6h.6M270.8 85.0h.6M291.6 79.7h.6M263.4 84.1h.6M268.6 94.0h.6M289.7 84.3h.6M276.5 84.2h.6M301.9 84.4h.6M287.9 76.0h.6M282.1 93.4h.6M307.6 73.0h.6M296.1 81.7h.6M302.6 88.4h.6M282.0 78.4h.6M272.3 88.4h.6M269.2 77.3h.6M278.6 80.4h.6M293.1 52.9h.6M298.1 89.7h.6M276.7 93.1h.6M300.4 92.1h.6M282.5 98.1h.6M301.0 87.4h.6M276.0 79.4h.6M284.8 96.7h.6M268.6 98.3h.6M316.6 74.6h.6M272.3 67.1h.6M287.2 83.9h.6M278.8 97.7h.6M284.0 72.4h.6M284.1 96.8h.6M293.3 87.6h.6M278.2 98.5h.6M296.7 77.7h.6M299.6 82.0h.6M274.2 77.5h.6M295.2 79.7h.6M288.7 81.4h.6M261.2 77.1h.6M293.7 69.4h.6M280.7 85.9h.6M292.3 86.5h.6M281.2 74.2h.6M284.4 53.5h.6M293.2 67.1h.6M292.8 69.2h.6M278.1 88.1h.6M264.9 88.9h.6M281.2 78.8h.6M288.3 88.4h.6M283.5 81.0h.6M273.7 90.0h.6M287.8 68.6h.6M310.2 74.3h.6M255.8 81.6h.6M270.4 70.5h.6M284.0 90.8h.6M296.0 90.6h.6M293.6 63.0h.6M297.8 98.0h.6M301.2 70.7h.6M304.6 81.8h.6M285.0 77.9h.6M280.0 74.7h.6M260.1 80.7h.6M295.9 96.9h.6M299.6 75.1h.6M283.6 79.2h.6M297.5 91.1h.6M280.2 84.8h.6M286.2 71.6h.6M273.2 79.7h.6M309.5 68.3h.6M305.7 80.3h.6M263.3 63.3h.6M287.7 76.4h.6M285.0 81.6h.6M285.9 78.5h.6M297.2 79.0h.6M280.8 75.2h.6M293.4 88.6h.6M280.5 82.8h.6M316.4 94.8h.6M278.6 87.6h.6M270.2 80.5h.6M289.9 82.4h.6M271.8 103.9h.6M276.1 87.1h.6M280.2 79.7h.6M282.3 65.1h.6M285.3 64.8h.6M287.1 92.6h.6M283.6 82.2h.6M295.0 66.8h.6M283.6 80.3h.6M293.7 72.4h.6M289.1 72.7h.6M289.7 66.1h.6M267.8 91.8h.6M276.8 75.6h.6M292.7 65.7h.6M283.5 76.5h.6M271.3 94.2h.6M292.8 57.0h.6M292.0 73.1h.6M289.7 96.8h.6M279.9 91.6h.6M294.9 88.2h.6M281.1 65.9h.6M279.5 81.2h.6M290.3 74.9h.6M276.5 77.4h.6M293.8 85.4h.6M280.6 65.1h.6M291.4 81.7h.6M267.2 88.5h.6M276.7 64.2h.6M272.2 65.8h.6M267.0 88.7h.6M301.4 80.7h.6M278.7 83.0h.6M289.9 72.8h.6M270.0 86.5h.6M276.8 70.3h.6M308.2 80.8h.6M308.2 81.7h.6M288.3 95.2h.6M291.0 76.4h.6M262.1 63.3h.6M293.3 75.0h.6M294.7 85.0h.6M295.1 74.6h.6M288.1 83.7h.6M277.8 90.3h.6M270.2 76.6h.6M273.5 88.5h.6M273.0 82.6h.6M293.3 64.2h.6M302.1 77.9h.6M264.6 79.4h.6M278.2 98.5h.6M278.4 86.3h.6M276.5 86.4h.6M291.4 69.4h.6M296.2 81.3h.6M288.8 88.1h.6M273.7 62.5h.6M285.5 77.3h.6M269.4 69.0h.6M268.9 82.7h.6M285.1 80.1h.6M290.6 87.9h.6M278.1 97.1h.6M286.4 81.2h.6M291.1 78.1h.6M299.0 87.4h.6M279.6 70.0h.6M276.4 80.3h.6M282.2 71.8h.6M289.5 86.2h.6M273.6 84.4h.6M280.9 65.1h.6M283.7 63.6h.6M268.5 93.7h.6M288.6 84.0h.6M269.2 83.3h.6M290.9 87.8h.6M266.9 79.0h.6M268.5 81.5h.6M299.6 86.1h.6M273.0 90.4h.6M271.6 98.0h.6M291.9 72.4h.6M268.7 83.3h.6M284.9 74.8h.6M297.9 107.2h.6M275.5 71.9h.6M280.1 80.6h.6M286.5 102.4h.6M297.6 75.0h.6M277.6 93.7h.6M271.9 87.0h.6M282.3 82.8h.6M286.7 93.9h.6M296.3 76.8h.6M273.7 75.7h.6M282.8 78.1h.6M269.3 86.7h.6M291.6 87.9h.6M274.6 79.6h.6M293.4 78.3h.6M291.2 63.4h.6M281.9 81.5h.6M261.8 72.4h.6M288.1 84.2h.6M296.6 100.7h.6M267.0 99.9h.6M280.2 92.4h.6M273.0 84.3h.6M261.1 86.5h.6M266.0 83.3h.6M291.2 88.4h.6M253.7 84.2h.6M285.7 64.0h.6M267.6 84.6h.6M283.1 97.7h.6M287.1 75.3h.6M275.8 65.9h.6M265.4 83.5h.6M255.1 90.3h.6M298.9 86.6h.6M270.3 94.0h.6M271.2 72.9h.6M270.9 94.1h.6M305.5 84.5h.6M292.9 76.4h.6M272.6 95.8h.6M270.5 96.2h.6M283.4 87.5h.6M279.3 76.6h.6M293.0 89.5h.6M274.1 75.8h.6M290.8 94.8h.6M281.9 80.1h.6M265.1 84.4h.6M284.4 77.5h.6M301.0 115.2h.6M283.5 64.6h.6M276.6 83.7h.6M313.0 81.7h.6M274.3 80.7h.6M267.8 93.3h.6M282.7 59.6h.6M275.9 75.5h.6M287.2 83.3h.6M276.7 106.7h.6M304.4 95.1h.6M283.0 87.3h.6M290.2 80.1h.6M272.0 85.9h.6M283.6 100.7h.6M275.6 88.7h.6M277.1 78.0h.6M294.4 66.7h.6M298.1 95.6h.6M264.8 81.1h.6M273.5 83.6h.6M298.6 91.7h.6M273.6 92.0h.6M285.8 78.5h.6M281.8 87.6h.6M288.3 92.6h.6M270.4 67.0h.6M289.4 80.4h.6M287.9 83.0h.6M278.2 67.1h.6M282.4 76.5h.6M297.1 94.4h.6M291.5 84.9h.6M299.0 70.1h.6M317.3 84.9h.6M278.1 91.5h.6M276.2 78.5h.6M272.0 69.0h.6M286.4 80.1h.6M286.0 76.5h.6M261.0 82.8h.6M296.3 68.4h.6M284.6 85.6h.6M273.9 88.9h.6M286.0 94.2h.6M256.4 70.3h.6M276.8 91.6h.6M283.9 80.3h.6M292.8 94.4h.6M285.0 75.2h.6M272.7 77.8h.6M273.6 82.0h.6M285.8 65.8h.6M301.9 73.9h.6M281.0 85.4h.6M270.8 85.7h.6M269.9 91.6h.6M284.6 93.5h.6M253.2 60.6h.6M270.2 86.6h.6M275.1 84.5h.6M292.5 69.0h.6M282.9 79.0h.6M292.9 76.6h.6M298.7 102.6h.6M269.4 81.3h.6M289.1 82.1h.6M272.2 96.6h.6M313.6 76.9h.6M296.5 91.8h.6M280.8 68.0h.6M287.2 94.4h.6M296.0 74.2h.6M274.4 81.3h.6M273.2 67.9h.6M269.6 56.8h.6M287.3 86.4h.6M291.2 81.9h.6M280.2 67.4h.6M296.2 83.2h.6M268.0 90.8h.6M298.0 79.0h.6M297.3 78.3h.6M301.2 78.5h.6M262.6 90.4h.6M278.4 88.7h.6M300.3 77.5h.6M281.7 68.7h.6M259.7 69.5h.6M283.7 70.8h.6M282.2 93.7h.6M271.0 87.0h.6M283.8 85.2h.6M271.7 91.9h.6M302.1 89.3h.6M263.5 85.3h.6M292.7 80.7h.6M297.6 54.6h.6M267.5 79.4h.6M288.4 71.5h.6M258.4 99.5h.6M300.4 80.0h.6M287.6 63.6h.6M302.3 80.7h.6M279.3 86.6h.6M295.7 71.8h.6M301.7 98.3h.6M290.7 96.4h.6M290.9 72.1h.6M297.0 76.1h.6M262.1 80.7h.6M305.1 74.6h.6M281.0 86.6h.6M276.9 86.1h.6M293.9 83.2h.6M297.2 87.1h.6M277.3 68.4h.6M274.4 80.4h.6M264.1 78.8h.6M293.0 61.1h.6M297.3 95.2h.6M276.1 99.7h.6M285.0 86.7h.6M279.3 86.3h.6M287.9 75.8h.6M285.4 86.8h.6M277.7 92.7h.6M281.1 81.8h.6M269.9 82.9h.6M286.6 103.5h.6M279.7 94.8h.6M287.9 81.1h.6M272.6 84.0h.6M274.0 81.9h.6M273.6 76.7h.6M276.0 85.6h.6M316.0 78.9h.6M282.3 63.8h.6M278.3 88.8h.6M257.3 78.0h.6M293.9 80.4h.6M269.1 79.9h.6M293.4 94.3h.6M293.8 78.9h.6M274.1 89.7h.6M288.6 71.1h.6M305.6 76.3h.6M270.2 96.0h.6M262.7 84.4h.6M281.4 84.0h.6M274.0 66.9h.6M285.8 82.7h.6M278.3 87.1h.6M279.7 89.7h.6M291.0 63.2h.6M262.4 85.6h.6M285.9 87.1h.6M276.5 87.3h.6M277.2 74.4h.6M274.3 80.7h.6M263.3 88.3h.6M289.3 71.0h.6M281.5 83.7h.6M297.4 75.2h.6M281.7 109.0h.6M265.7 70.4h.6M273.0 85.5h.6M280.9 81.4h.6M270.3 81.3h.6M265.9 86.9h.6M318.6 85.5h.6M291.1 93.6h.6M284.2 74.9h.6M266.3 70.8h.6M256.3 81.7h.6M282.2 73.2h.6M268.7 88.7h.6M273.5 96.3h.6M301.6 79.1h.6M260.2 86.0h.6M303.4 75.6h.6M306.9 78.5h.6M281.9 84.9h.6M284.6 102.3h.6M290.1 64.3h.6M293.6 97.4h.6M277.3 70.8h.6M269.4 82.6h.6M287.9 91.3h.6M282.7 79.8h.6M260.7 81.9h.6M276.8 75.9h.6M291.5 77.3h.6M291.4 83.6h.6M282.9 93.3h.6M285.0 76.7h.6M282.4 84.0h.6M287.3 79.1h.6M292.6 86.0h.6M261.2 88.6h.6M294.8 57.5h.6M273.0 76.5h.6M281.2 98.4h.6M299.4 101.9h.6M276.9 74.8h.6M248.8 107.2h.6M295.7 85.9h.6M264.7 69.5h.6M284.6 79.7h.6M280.5 95.2h.6M289.2 94.7h.6M271.0 84.1h.6M293.8 78.1h.6M290.3 66.1h.6M277.5 79.8h.6M287.2 65.5h.6M285.4 83.0h.6M300.0 79.6h.6M294.4 82.7h.6M297.2 94.8h.6M275.2 75.4h.6M265.4 65.1h.6M287.3 68.2h.6M283.1 91.8h.6M267.9 70.8h.6M294.7 88.9h.6M287.3 73.5h.6M284.5 96.7h.6M286.1 78.9h.6M291.9 71.2h.6M295.6 97.1h.6M274.6 95.7h.6M272.0 74.2h.6M282.4 83.7h.6M254.6 81.3h.6M300.7 96.1h.6M267.7 86.2h.6M280.2 96.0h.6M284.6 86.8h.6M290.1 64.9h.6M283.1 82.6h.6M273.9 80.2h.6M284.1 88.6h.6M319.7 75.2h.6M301.8 87.3h.6M270.4 69.0h.6M286.4 84.1h.6M281.2 79.8h.6M281.8 74.6h.6M281.2 95.4h.6M313.2 73.4h.6M277.9 86.9h.6M280.7 79.8h.6M293.1 91.3h.6M298.6 95.3h.6M279.2 88.0h.6M302.7 64.7h.6M290.7 82.8h.6M275.7 98.1h.6M266.5 101.3h.6M287.5 81.4h.6M293.4 60.2h.6M265.4 82.1h.6M288.3 68.6h.6M286.9 69.8h.6M282.4 83.8h.6M290.6 90.9h.6M275.3 72.3h.6M254.3 73.2h.6M308.7 76.6h.6M289.8 92.8h.6M283.5 93.7h.6M282.1 80.9h.6M277.6 85.1h.6M293.1 74.0h.6M276.6 77.4h.6M286.8 87.9h.6M308.0 68.7h.6M278.0 96.8h.6M276.3 85.7h.6M290.5 84.5h.6M272.0 82.6h.6M283.4 91.8h.6M258.4 92.8h.6M311.5 74.6h.6M283.7 77.9h.6M289.7 91.5h.6M282.3 72.4h.6M300.2 89.0h.6M311.4 81.0h.6M278.6 97.4h.6M281.8 75.2h.6M291.4 103.8h.6M261.6 83.7h.6M270.5 71.5h.6M287.9 77.7h.6M283.0 93.1h.6M298.5 80.0h.6M281.1 68.6h.6M275.8 72.9h.6M282.6 99.8h.6M301.0 62.5h.6M263.8 68.2h.6M277.0 92.1h.6M292.8 86.5h.6M268.3 78.3h.6M244.1 84.8h.6M276.2 104.7h.6M293.8 67.0h.6M298.1 85.4h.6M305.3 75.6h.6M310.2 97.0h.6M272.3 61.4h.6M270.1 77.1h.6M309.8 82.4h.6M289.6 86.9h.6M296.2 71.6h.6M274.0 88.7h.6M291.2 87.9h.6M292.2 57.1h.6M289.5 83.3h.6M289.8 84.9h.6M307.6 91.0h.6M305.9 75.4h.6M293.4 67.9h.6M273.7 68.6h.6M263.0 79.1h.6M294.0 60.9h.6M280.5 44.3h.6M278.6 49.8h.6M275.6 43.9h.6M292.6 67.9h.6M288.3 55.5h.6M262.8 63.3h.6M304.7 30.4h.6M284.2 46.4h.6M295.2 62.3h.6M287.2 69.8h.6M273.0 38.7h.6M280.4 71.8h.6M282.1 45.8h.6M276.6 52.6h.6M309.7 60.2h.6M276.9 79.0h.6M299.4 54.1h.6M274.2 49.5h.6M291.6 80.7h.6M294.7 85.6h.6M302.1 56.0h.6M290.0 73.5h.6M286.7 66.9h.6M309.0 64.2h.6M297.2 56.6h.6M281.3 55.8h.6M289.1 41.3h.6M286.7 53.8h.6M298.0 38.6h.6M312.6 53.4h.6M279.3 53.0h.6M305.6 61.4h.6M293.2 51.8h.6M291.9 65.4h.6M288.9 52.7h.6M302.1 88.2h.6M287.6 41.4h.6M269.9 51.2h.6M295.7 37.2h.6M279.9 51.6h.6M307.2 38.1h.6M275.9 48.5h.6M297.7 64.8h.6M280.4 64.4h.6M274.0 48.4h.6M312.3 46.6h.6M299.7 78.8h.6M286.1 41.3h.6M281.7 79.5h.6M267.9 56.2h.6M293.0 62.4h.6M273.7 46.0h.6M262.1 63.9h.6M288.5 62.1h.6M271.2 56.6h.6M281.1 44.4h.6M292.0 73.5h.6M296.1 61.5h.6M277.3 62.3h.6M292.1 79.9h.6M298.5 47.3h.6M265.3 59.9h.6M280.6 73.9h.6M310.9 70.9h.6M291.4 53.4h.6M306.0 58.5h.6M293.7 33.3h.6M310.5 68.6h.6M276.7 62.9h.6M283.8 36.7h.6M301.9 54.5h.6M283.9 63.4h.6M280.4 84.5h.6M291.1 54.1h.6M301.3 61.2h.6M287.0 69.2h.6M306.9 53.6h.6M274.0 34.5h.6M263.5 44.6h.6M301.2 82.4h.6M254.6 77.0h.6M295.5 76.0h.6M311.4 61.5h.6M301.3 53.3h.6M316.2 76.4h.6M263.2 50.2h.6M280.3 71.6h.6M308.7 61.1h.6M280.0 58.8h.6M283.3 53.2h.6M291.2 60.9h.6M278.7 38.5h.6M300.4 58.0h.6M298.6 33.0h.6M298.9 48.0h.6M292.3 41.3h.6M285.0 42.6h.6M291.0 59.7h.6M279.4 28.8h.6M293.3 62.5h.6M311.1 58.0h.6M321.4 61.6h.6M297.8 76.6h.6M317.5 57.2h.6M288.3 86.6h.6M302.2 64.9h.6M268.0 52.7h.6M310.4 59.6h.6M272.9 70.3h.6M279.6 40.5h.6M308.2 63.4h.6M306.7 53.2h.6M289.2 61.4h.6M306.4 50.9h.6M277.9 70.0h.6M310.8 73.6h.6M287.7 57.0h.6M280.4 61.0h.6M317.1 67.5h.6M295.6 68.9h.6M307.3 54.2h.6M284.4 70.9h.6M292.8 48.8h.6M277.7 53.4h.6M308.0 59.1h.6M306.8 46.6h.6M301.8 44.0h.6M300.6 63.1h.6M261.7 64.4h.6M302.9 66.6h.6M302.9 38.1h.6M288.6 69.7h.6M296.8 37.8h.6M283.5 69.6h.6M300.6 78.1h.6M298.0 52.0h.6M287.8 74.5h.6M297.6 39.2h.6M298.2 66.6h.6M293.4 34.1h.6M303.1 58.1h.6M299.9 50.7h.6M296.6 51.1h.6M285.1 54.2h.6M289.3 54.5h.6M302.2 52.8h.6M305.4 63.6h.6M273.2 57.4h.6M300.3 54.9h.6M289.7 48.4h.6M289.3 27.8h.6M280.4 45.6h.6M284.2 77.6h.6M281.3 29.9h.6M273.0 49.2h.6M284.1 50.4h.6M281.2 60.6h.6M277.4 55.2h.6M306.1 74.3h.6M289.6 67.3h.6M280.8 49.1h.6M280.6 38.7h.6M298.1 67.1h.6M292.8 69.6h.6M285.0 76.6h.6M297.0 73.8h.6M290.8 59.7h.6M299.5 63.1h.6M313.2 48.8h.6M298.0 56.1h.6M289.0 83.0h.6M307.0 57.6h.6M286.2 39.7h.6M297.4 54.6h.6M284.9 57.5h.6M301.9 48.5h.6M310.3 42.3h.6M287.6 73.8h.6M282.8 51.1h.6M293.9 56.1h.6M287.6 70.7h.6M285.6 65.0h.6M277.2 42.2h.6M293.0 42.9h.6M309.8 71.7h.6M281.2 52.5h.6M297.9 76.9h.6M311.7 98.4h.6M271.7 44.1h.6M293.8 58.0h.6M278.6 44.9h.6M297.2 75.0h.6M301.5 57.0h.6M291.4 102.4h.6M286.3 70.8h.6M283.3 61.9h.6M288.2 41.7h.6M291.4 63.8h.6M315.1 62.8h.6M302.6 39.4h.6M295.6 48.5h.6M302.4 78.6h.6M302.6 70.3h.6M313.8 42.8h.6M291.1 60.7h.6M283.7 65.1h.6M296.0 56.0h.6M273.8 80.8h.6M289.2 54.6h.6M273.1 33.8h.6M265.0 73.3h.6M300.8 55.8h.6M290.0 32.5h.6M297.0 57.9h.6M290.8 78.6h.6M296.9 63.8h.6M304.1 73.2h.6M299.5 46.2h.6M288.4 66.5h.6M297.8 59.2h.6M282.1 62.8h.6M284.3 53.6h.6M298.1 67.5h.6M298.4 77.5h.6M267.7 86.0h.6M276.3 52.9h.6M299.5 62.8h.6M284.4 51.9h.6M285.2 62.9h.6M295.6 44.7h.6M295.2 69.1h.6M287.3 81.8h.6M277.6 53.1h.6M305.1 70.0h.6M294.7 67.0h.6M291.0 62.5h.6M267.7 67.0h.6M297.5 54.6h.6M252.8 64.1h.6M295.6 69.0h.6M282.2 53.9h.6M275.7 75.6h.6M287.3 67.4h.6M293.0 59.1h.6M281.4 64.5h.6M295.0 71.1h.6M294.8 72.5h.6M294.9 32.6h.6M290.1 67.8h.6M278.0 69.3h.6M283.1 47.4h.6M281.5 79.8h.6M278.4 75.9h.6M276.1 82.7h.6M295.5 77.3h.6M302.3 86.0h.6M279.7 51.4h.6M275.4 57.2h.6M282.6 49.8h.6M283.3 51.3h.6M291.4 56.1h.6M274.6 52.2h.6M280.2 54.8h.6M303.3 64.8h.6M277.2 52.9h.6M298.1 42.8h.6M294.3 80.5h.6M315.3 44.7h.6M274.4 21.0h.6M289.0 56.4h.6M294.4 52.5h.6M269.8 58.6h.6M284.9 45.5h.6M293.7 62.0h.6M277.3 47.5h.6M296.0 27.6h.6M271.0 37.7h.6M309.5 43.0h.6M288.5 50.1h.6M294.5 43.6h.6M309.7 70.6h.6M313.3 51.6h.6M271.7 40.7h.6M278.9 68.1h.6M279.8 68.1h.6M271.1 64.1h.6M297.7 83.2h.6M307.0 52.5h.6M272.8 49.9h.6M309.6 69.4h.6M280.8 53.5h.6M291.5 46.1h.6M305.2 42.6h.6M287.9 73.7h.6M308.8 58.7h.6M292.2 61.6h.6M288.8 78.4h.6M296.5 72.7h.6M297.2 63.3h.6M295.2 32.6h.6M321.7 26.1h.6M294.7 46.3h.6M306.2 52.6h.6M280.9 54.5h.6M293.6 47.5h.6M299.3 61.9h.6M284.7 70.2h.6M303.7 38.4h.6M277.1 54.6h.6M294.3 67.6h.6M289.0 44.2h.6M292.2 61.5h.6M283.6 50.8h.6M274.8 64.5h.6M290.3 52.9h.6M293.2 52.3h.6M294.8 42.8h.6M292.9 33.0h.6M278.2 53.2h.6M294.6 42.7h.6M306.3 78.3h.6M281.3 58.9h.6M311.0 83.7h.6M296.6 44.8h.6M300.3 71.5h.6M290.7 56.7h.6M282.9 43.2h.6M307.9 57.3h.6M292.5 36.5h.6M281.0 57.4h.6M293.9 72.6h.6M278.9 63.4h.6M279.9 72.9h.6M317.7 77.6h.6M288.9 48.8h.6M290.8 63.0h.6M269.7 63.0h.6M280.4 57.7h.6M276.8 27.2h.6M308.7 59.1h.6M299.8 55.9h.6M283.7 56.4h.6M290.6 55.9h.6M287.5 74.0h.6M269.9 80.5h.6M289.9 48.5h.6M289.0 72.7h.6M309.6 51.1h.6M293.6 56.9h.6M290.2 57.0h.6M295.0 49.7h.6M306.3 64.7h.6M273.2 73.6h.6M282.7 69.5h.6M292.9 50.4h.6M281.6 58.7h.6M291.1 56.4h.6M282.5 72.3h.6M332.3 66.4h.6M270.9 61.2h.6M280.2 64.3h.6M277.5 57.1h.6M308.0 56.3h.6M272.5 77.4h.6M309.0 73.1h.6M284.8 46.7h.6M277.4 55.8h.6M285.2 68.3h.6M265.2 48.5h.6M284.1 80.6h.6M294.6 59.1h.6M301.0 54.0h.6M275.2 71.5h.6M288.4 63.9h.6M295.5 43.5h.6M281.2 78.0h.6M302.9 51.3h.6M289.9 83.4h.6M266.6 68.4h.6M290.3 76.5h.6M267.6 71.0h.6M288.8 52.6h.6M277.3 47.3h.6M290.4 64.8h.6M288.4 73.0h.6M312.8 28.5h.6M272.8 82.4h.6M295.2 26.0h.6M301.2 49.8h.6M259.2 85.7h.6M289.5 62.8h.6M301.8 55.0h.6M292.9 63.8h.6M307.6 90.0h.6M304.4 56.5h.6M267.0 63.9h.6M292.7 58.3h.6M301.4 80.6h.6M281.0 64.9h.6M325.0 51.3h.6M287.3 34.6h.6M295.8 87.1h.6M288.4 52.8h.6M304.2 70.3h.6M279.5 50.9h.6M278.4 51.8h.6M300.9 59.0h.6M266.0 59.1h.6M296.1 46.2h.6M286.9 73.0h.6M289.1 68.1h.6M300.5 50.6h.6M305.5 49.2h.6M300.6 59.7h.6M294.4 49.7h.6M293.6 51.0h.6M277.3 49.0h.6M302.8 25.7h.6M272.8 35.6h.6M283.6 67.0h.6M298.5 37.7h.6M290.9 39.9h.6M296.6 34.1h.6M275.9 46.5h.6M284.1 44.7h.6M320.5 74.1h.6M280.8 63.3h.6M288.5 58.1h.6M257.6 59.5h.6M294.4 48.4h.6M290.6 31.7h.6M277.8 53.0h.6M300.4 51.1h.6M306.1 84.1h.6M288.5 56.0h.6M309.1 43.3h.6M302.4 60.5h.6M290.3 62.4h.6M271.9 63.7h.6M286.5 55.8h.6M293.7 65.7h.6M293.7 97.9h.6M271.2 71.4h.6M285.1 44.5h.6M276.9 87.8h.6M289.3 65.6h.6M308.4 52.6h.6M265.9 56.3h.6M275.5 59.8h.6M306.0 68.4h.6M275.4 32.4h.6M303.3 47.5h.6M307.1 43.6h.6M301.5 80.2h.6M305.6 48.0h.6M282.2 43.7h.6M281.4 74.7h.6M285.7 88.7h.6M293.7 80.2h.6M287.3 70.1h.6M296.9 66.2h.6M289.8 41.6h.6M287.3 55.1h.6M307.6 45.3h.6M282.5 55.7h.6M293.3 50.8h.6M272.0 35.6h.6M308.4 57.9h.6M288.6 51.6h.6M288.6 42.7h.6M257.5 37.6h.6M279.2 49.4h.6M302.3 34.8h.6M276.0 29.2h.6M279.1 59.3h.6M285.4 56.1h.6M307.9 60.0h.6M287.4 83.7h.6M292.6 58.6h.6M322.9 74.3h.6M282.4 27.7h.6M307.4 94.4h.6M275.6 52.8h.6M280.2 88.2h.6M302.0 71.0h.6M289.7 51.6h.6M283.2 51.5h.6M289.3 82.1h.6M288.3 29.6h.6M276.8 65.4h.6M320.1 42.7h.6M285.7 66.8h.6M299.9 70.3h.6M279.5 50.2h.6M297.2 44.6h.6M284.4 76.9h.6M325.0 53.8h.6M282.7 65.3h.6M290.6 48.9h.6M291.8 33.7h.6M290.4 68.3h.6M302.4 44.6h.6M300.5 46.2h.6M283.1 77.8h.6M280.2 68.4h.6M289.2 54.9h.6M294.8 65.8h.6M275.4 53.4h.6M293.4 27.1h.6M296.4 41.0h.6M295.0 56.2h.6M292.6 60.8h.6M291.7 63.9h.6M291.8 74.7h.6M296.9 64.7h.6M303.5 83.8h.6M292.7 71.4h.6M285.7 70.0h.6M295.6 54.3h.6M319.3 45.1h.6M281.3 51.0h.6M305.4 39.6h.6M306.7 49.7h.6M297.2 48.5h.6M322.6 70.3h.6M286.9 59.7h.6M300.7 76.6h.6M291.9 73.6h.6M292.2 46.0h.6M281.4 72.8h.6M301.3 49.1h.6M292.9 95.8h.6M316.8 65.2h.6M284.4 42.2h.6M277.9 29.3h.6M290.3 55.3h.6M296.4 44.0h.6M300.1 54.9h.6M282.4 69.2h.6M265.0 64.3h.6M282.9 59.5h.6M276.0 66.6h.6M288.0 59.2h.6M278.5 55.2h.6M309.9 62.4h.6M277.5 38.2h.6M291.8 46.7h.6M295.1 54.8h.6M282.7 58.5h.6M284.5 34.5h.6M271.5 65.0h.6M271.6 47.9h.6M307.9 41.7h.6M294.6 38.3h.6M284.5 65.3h.6M297.1 49.9h.6M283.2 61.3h.6M286.4 64.9h.6M315.7 61.5h.6M296.9 66.9h.6M293.5 45.8h.6M288.6 58.7h.6M289.4 39.0h.6M292.6 88.3h.6M304.9 64.6h.6M306.5 64.4h.6M313.4 64.8h.6M269.6 46.7h.6M276.0 64.6h.6M286.0 55.1h.6M267.6 74.6h.6M295.3 71.3h.6M290.7 46.4h.6M292.3 52.9h.6M286.2 43.1h.6M305.6 45.1h.6M282.9 52.7h.6M301.6 61.4h.6M286.1 65.3h.6M283.3 44.4h.6M286.1 91.1h.6M287.7 20.1h.6M293.6 19.5h.6M299.0 45.5h.6M297.6 63.2h.6M275.5 56.8h.6M286.8 53.4h.6M292.2 54.4h.6M283.4 64.2h.6M298.5 65.9h.6M274.1 66.3h.6M285.2 90.5h.6M276.2 48.7h.6M298.8 55.8h.6M281.0 35.0h.6M283.5 77.2h.6M294.7 37.9h.6M298.3 36.4h.6M290.6 39.7h.6M303.7 118.3h.6M292.3 106.7h.6M286.4 114.3h.6M288.3 93.4h.6M282.7 107.9h.6M295.1 109.5h.6M273.0 129.1h.6M280.5 110.1h.6M298.9 110.8h.6M298.0 99.7h.6M279.1 101.1h.6M284.2 104.9h.6M306.7 105.7h.6M300.3 100.5h.6M287.8 101.4h.6M284.4 102.1h.6M292.5 124.3h.6M284.1 108.0h.6M302.8 91.6h.6M280.5 111.0h.6M283.3 103.4h.6M292.3 124.6h.6M289.5 98.5h.6M289.2 110.5h.6M295.2 95.6h.6M287.4 126.0h.6M292.8 90.9h.6M290.3 100.4h.6M290.4 110.7h.6M296.0 118.8h.6M278.0 119.3h.6M281.5 106.7h.6M304.1 86.8h.6M288.6 115.0h.6M297.4 120.4h.6M280.0 78.3h.6M293.2 120.7h.6M290.2 102.8h.6M292.8 91.1h.6M283.2 90.4h.6M295.2 107.6h.6M296.8 100.2h.6M304.8 106.8h.6M284.2 120.4h.6M289.8 93.6h.6M285.5 119.2h.6M268.2 118.5h.6M288.3 90.1h.6M289.5 97.1h.6M293.1 123.4h.6M290.9 108.5h.6M276.6 106.3h.6M288.3 126.5h.6M298.1 109.9h.6M286.7 107.5h.6M286.8 107.6h.6M273.9 99.2h.6M281.8 95.8h.6M294.0 116.5h.6M290.9 96.3h.6M303.2 100.4h.6M295.7 117.0h.6M294.7 85.8h.6M304.4 124.4h.6M287.3 98.0h.6M303.0 116.8h.6M287.0 94.3h.6M295.2 115.3h.6M286.9 95.8h.6M281.9 118.1h.6M275.7 83.0h.6M283.3 116.4h.6M295.8 105.7h.6M289.5 119.6h.6M295.2 98.8h.6M297.6 105.4h.6M299.8 108.3h.6M294.8 113.9h.6M289.4 90.4h.6M299.2 95.2h.6M274.4 100.5h.6M291.5 115.6h.6M287.3 117.7h.6M278.6 105.7h.6M285.9 96.5h.6M286.7 102.8h.6M287.6 82.0h.6M295.2 102.7h.6M290.6 104.0h.6M296.3 106.6h.6M295.0 106.7h.6M297.4 108.6h.6M294.2 105.1h.6M276.7 102.2h.6M274.4 112.0h.6M290.0 91.3h.6M301.5 111.7h.6M289.0 103.5h.6M290.5 115.1h.6M285.6 111.3h.6M282.0 95.1h.6M289.8 104.5h.6M286.8 117.5h.6M273.1 107.4h.6M290.4 110.0h.6M277.2 108.5h.6M279.7 112.7h.6M299.4 93.8h.6M299.1 97.9h.6M300.1 108.3h.6M298.5 106.5h.6M294.1 126.7h.6M290.0 103.1h.6M281.6 116.5h.6M299.5 120.3h.6M297.7 119.5h.6M276.3 102.5h.6M296.2 117.2h.6M300.3 102.8h.6M293.8 109.1h.6M287.2 103.2h.6M290.0 116.9h.6M285.8 105.7h.6M290.9 104.1h.6M306.5 114.5h.6M288.4 99.5h.6M291.2 112.1h.6M304.0 115.4h.6M306.7 118.2h.6M286.0 96.1h.6M287.7 109.4h.6M288.5 116.0h.6M291.9 111.7h.6M280.7 113.9h.6M290.6 131.8h.6M286.7 117.9h.6M295.1 123.7h.6M286.8 103.2h.6M286.0 132.8h.6M291.7 98.3h.6M300.9 98.8h.6M303.0 123.2h.6M290.0 121.7h.6M297.1 117.9h.6M276.1 102.6h.6M293.1 101.9h.6M292.7 92.0h.6M284.8 115.1h.6M311.1 102.9h.6M299.0 105.2h.6M286.1 105.0h.6M307.1 106.2h.6M292.1 101.4h.6M286.7 92.2h.6M298.5 103.3h.6M302.8 116.3h.6M296.3 132.9h.6M292.5 124.5h.6M292.1 97.9h.6M295.8 111.0h.6M274.1 97.0h.6M303.1 112.6h.6M293.7 114.7h.6M271.7 91.8h.6M308.9 116.1h.6M285.3 94.4h.6M289.2 106.2h.6M288.9 91.9h.6M297.5 96.7h.6M290.2 77.9h.6M290.0 104.3h.6M287.9 101.7h.6M297.3 114.2h.6M279.2 107.0h.6M276.9 102.6h.6M297.1 113.1h.6M286.7 101.0h.6M288.2 113.0h.6M292.9 101.7h.6M279.9 118.4h.6M280.0 114.4h.6M268.5 104.2h.6M300.8 107.8h.6M288.4 100.4h.6M288.3 99.8h.6M285.8 114.1h.6M297.0 115.1h.6M295.1 96.4h.6M277.7 107.2h.6M282.0 97.2h.6M292.3 117.7h.6M275.9 114.2h.6M285.4 105.0h.6M281.1 110.5h.6M289.1 122.0h.6M295.6 123.2h.6M289.8 95.7h.6M294.1 99.5h.6M295.1 102.8h.6M279.2 91.1h.6M280.6 94.6h.6M270.7 106.9h.6M306.0 99.4h.6M281.6 110.1h.6M285.8 107.4h.6M287.2 123.0h.6M301.7 113.4h.6M296.9 117.0h.6M288.7 96.8h.6M283.6 93.0h.6M281.1 127.4h.6M288.8 111.2h.6M277.7 99.3h.6M300.4 80.1h.6M285.0 127.2h.6M291.1 98.0h.6M293.2 111.6h.6M300.0 111.5h.6M291.8 112.4h.6M288.1 117.8h.6M306.7 94.7h.6M301.0 105.4h.6M304.5 84.4h.6M309.1 107.1h.6M284.9 99.2h.6M305.6 106.7h.6M287.8 101.3h.6M288.4 130.1h.6M284.3 117.8h.6M282.8 111.6h.6M294.6 120.4h.6M275.1 64.3h.6M288.6 97.1h.6M288.8 104.6h.6M276.7 109.9h.6M309.4 110.7h.6M280.1 101.5h.6M285.5 105.3h.6M290.9 120.3h.6M302.8 112.5h.6M288.1 135.7h.6M285.6 104.8h.6M300.3 87.7h.6M287.7 101.6h.6M300.1 79.2h.6M289.5 89.2h.6M291.2 95.4h.6M300.6 118.8h.6M281.8 87.2h.6M282.5 121.3h.6M298.8 107.3h.6M283.6 100.5h.6M288.8 107.6h.6M288.7 107.2h.6M282.6 122.4h.6M273.0 117.5h.6M289.3 102.7h.6M285.7 94.9h.6M303.5 107.1h.6M295.7 131.2h.6M282.8 104.9h.6M284.0 106.2h.6M289.1 115.2h.6M286.4 118.9h.6M287.5 105.3h.6M279.6 85.2h.6M285.3 104.6h.6M291.2 104.5h.6M278.7 127.4h.6M291.6 111.6h.6M306.1 96.4h.6M280.4 127.2h.6M291.3 120.3h.6M302.2 125.6h.6M283.7 129.1h.6M300.3 119.5h.6M306.7 122.1h.6M295.2 113.1h.6M290.7 119.3h.6M313.5 122.1h.6M290.5 117.8h.6M291.2 98.1h.6M290.5 102.7h.6M286.6 125.0h.6M293.4 112.2h.6M278.1 119.5h.6M303.7 108.9h.6M284.7 119.9h.6M289.1 125.0h.6M288.2 111.2h.6M302.4 125.0h.6M291.2 101.2h.6M300.8 107.4h.6M296.1 97.2h.6M283.5 107.3h.6M280.9 112.5h.6M300.5 98.7h.6M289.2 128.5h.6M293.6 129.1h.6M278.9 139.0h.6M295.6 89.2h.6M295.9 105.4h.6M285.7 111.3h.6M280.7 118.7h.6M290.0 96.3h.6M279.0 112.4h.6M291.2 130.8h.6M292.4 110.1h.6M297.5 115.6h.6M294.5 119.2h.6M288.1 124.3h.6M293.0 112.3h.6M281.3 89.5h.6M304.3 106.4h.6M291.5 115.7h.6M287.9 100.7h.6M294.2 104.0h.6M285.7 125.5h.6M293.1 116.5h.6M299.1 101.4h.6M296.9 126.9h.6M306.2 107.3h.6M289.0 116.4h.6M289.3 103.3h.6M276.9 101.4h.6M284.1 112.3h.6M295.0 108.0h.6M292.3 109.8h.6M295.3 100.9h.6M302.1 87.5h.6M298.2 138.9h.6M286.5 82.5h.6M308.7 114.4h.6M296.2 93.9h.6M298.6 78.2h.6M302.7 102.6h.6M302.4 104.3h.6M280.6 106.0h.6M288.3 66.4h.6M288.2 106.8h.6M287.7 87.6h.6M295.0 92.4h.6M296.1 103.7h.6M302.0 114.6h.6M286.4 95.0h.6M289.8 91.3h.6M294.4 117.1h.6M296.5 99.0h.6M283.6 85.6h.6M287.6 123.1h.6M295.3 98.1h.6M303.7 108.0h.6M270.3 105.5h.6M292.4 104.3h.6M291.1 110.6h.6M291.4 117.4h.6M285.6 124.3h.6M294.8 92.3h.6M290.3 101.9h.6M287.3 125.3h.6M296.4 124.6h.6M285.7 110.0h.6M289.5 108.7h.6M301.7 124.8h.6M296.5 98.8h.6M283.5 114.8h.6M282.2 115.6h.6M290.8 119.2h.6M291.0 102.7h.6M304.1 105.2h.6M292.9 105.0h.6M283.4 102.9h.6M299.1 107.5h.6M297.1 116.6h.6M291.1 132.0h.6M293.3 96.4h.6M309.3 122.9h.6M286.3 107.3h.6M290.9 103.6h.6M298.9 110.5h.6M305.2 120.4h.6M268.5 99.8h.6M290.6 113.2h.6M290.3 132.5h.6M285.9 100.7h.6M291.0 94.2h.6M295.2 98.2h.6M280.9 108.9h.6M276.7 123.4h.6M300.4 116.6h.6M283.9 114.9h.6M271.8 108.3h.6M288.1 125.5h.6M293.9 129.3h.6M290.4 89.5h.6M291.2 98.9h.6M283.3 84.7h.6M307.5 111.8h.6M284.7 102.9h.6M280.8 107.4h.6M276.6 112.4h.6M299.7 98.0h.6M288.0 114.1h.6M297.2 107.6h.6M295.1 108.4h.6M287.0 109.7h.6M283.1 123.3h.6M281.4 111.6h.6M281.0 120.5h.6M286.7 91.8h.6M291.4 101.4h.6M297.7 122.0h.6M277.3 112.9h.6M302.5 117.4h.6M296.4 115.0h.6M279.8 116.2h.6M293.0 118.9h.6M298.4 130.8h.6M301.6 98.3h.6M307.6 92.5h.6M271.9 103.9h.6M283.7 105.9h.6M291.7 82.6h.6M285.8 113.2h.6M303.9 93.2h.6M294.5 99.5h.6M299.8 105.1h.6M292.3 106.6h.6M271.1 103.9h.6M289.6 103.2h.6M285.7 104.6h.6M284.6 86.5h.6M318.9 132.3h.6M280.0 111.4h.6M291.1 126.2h.6M293.1 109.3h.6M291.2 112.6h.6M294.9 106.9h.6M297.2 129.9h.6M292.2 92.3h.6M288.9 130.3h.6M283.4 117.8h.6M285.1 124.2h.6M293.1 89.3h.6M277.7 86.8h.6M291.6 105.6h.6M290.7 102.9h.6M287.7 113.6h.6M292.3 96.5h.6M291.2 112.5h.6M290.7 103.7h.6M289.1 79.5h.6M290.4 98.2h.6M287.2 104.4h.6M301.9 121.7h.6M282.1 142.5h.6M291.8 76.7h.6M286.4 113.2h.6M294.5 129.5h.6M314.7 92.6h.6M275.5 111.8h.6M302.3 93.2h.6M295.7 108.6h.6M300.6 98.9h.6M279.6 97.1h.6M302.5 82.7h.6M299.1 108.1h.6M288.1 120.9h.6M298.7 81.9h.6M274.7 93.1h.6M296.5 109.5h.6M303.0 84.1h.6M279.7 82.3h.6M301.5 105.6h.6M300.2 138.1h.6M289.0 98.8h.6M284.5 103.7h.6M274.3 105.7h.6M280.5 104.1h.6M285.2 88.9h.6M301.0 105.3h.6M286.8 126.1h.6M298.9 110.3h.6M289.3 102.6h.6M288.1 118.2h.6M293.8 108.3h.6M299.8 125.7h.6M291.0 96.2h.6M295.7 128.5h.6M287.9 92.1h.6M283.9 110.8h.6M295.9 88.0h.6M296.9 127.9h.6M276.2 114.4h.6M290.0 102.9h.6M298.6 111.3h.6M286.5 100.0h.6M278.3 120.6h.6M288.1 108.1h.6M264.1 106.4h.6M293.2 100.1h.6M297.5 142.0h.6M299.5 113.8h.6M295.5 107.8h.6M296.4 103.7h.6M299.3 97.1h.6M288.9 124.5h.6M290.4 110.1h.6M278.5 110.1h.6M301.3 121.9h.6M284.6 116.8h.6M292.8 108.4h.6M278.5 116.7h.6M289.9 128.7h.6M286.9 126.9h.6M299.0 110.8h.6M299.9 120.5h.6M287.6 86.0h.6M271.4 94.1h.6M288.9 115.9h.6M275.0 93.4h.6M302.5 115.4h.6M279.9 101.4h.6M297.7 106.7h.6M290.9 112.6h.6M284.9 94.5h.6M277.5 107.5h.6M290.2 127.1h.6M275.0 92.8h.6M305.7 118.5h.6M293.0 97.9h.6M268.5 115.4h.6M272.4 108.1h.6M299.9 109.7h.6M288.7 141.9h.6M284.0 126.3h.6M295.7 112.4h.6M298.3 95.4h.6M277.6 121.1h.6M298.4 111.8h.6M294.8 94.1h.6M291.7 98.1h.6M287.9 120.5h.6M283.3 93.7h.6M268.8 112.5h.6M296.2 109.2h.6M290.4 106.7h.6M295.6 110.2h.6M304.5 105.9h.6M281.2 122.9h.6M291.7 92.3h.6M289.1 111.7h.6M291.1 116.8h.6M291.6 103.1h.6M281.1 86.4h.6M279.9 125.5h.6M290.8 123.5h.6M295.5 90.2h.6M272.4 81.9h.6M288.0 129.0h.6M304.2 98.5h.6M307.0 114.2h.6M272.5 115.1h.6M296.7 106.1h.6M288.7 83.3h.6M284.8 97.9h.6M295.2 109.6h.6M283.1 112.5h.6M303.8 94.1h.6M301.1 121.8h.6M271.5 104.0h.6M293.4 98.4h.6M304.5 94.3h.6M292.9 103.3h.6M272.8 87.9h.6M280.7 103.3h.6M278.8 94.0h.6M288.4 122.6h.6M299.0 100.2h.6M292.2 95.4h.6M300.6 96.2h.6M296.8 117.7h.6M295.8 107.0h.6M311.0 116.7h.6M288.1 97.5h.6M278.8 115.2h.6M297.8 83.6h.6M292.7 141.4h.6M277.5 91.8h.6M284.2 101.6h.6M282.0 105.6h.6M292.7 121.0h.6M288.2 100.9h.6M280.0 75.6h.6M279.8 107.5h.6M281.7 112.9h.6M303.8 82.4h.6M278.2 93.2h.6M281.8 113.5h.6M293.2 96.6h.6M282.8 91.3h.6M290.3 122.1h.6M287.3 100.5h.6M300.8 86.5h.6M291.7 114.2h.6M284.2 96.2h.6M266.8 87.4h.6M294.9 120.9h.6M286.5 102.4h.6M300.6 121.9h.6M295.5 99.2h.6M289.7 88.0h.6M298.2 96.5h.6M296.0 105.3h.6M276.9 97.8h.6M289.1 131.1h.6M292.2 112.7h.6M287.1 98.0h.6M284.0 102.7h.6M289.9 130.6h.6M292.1 113.3h.6M291.9 117.8h.6M291.6 94.6h.6M287.8 108.9h.6M293.6 125.1h.6M290.9 125.2h.6M278.4 92.3h.6M287.1 108.3h.6M300.0 112.9h.6M282.3 105.9h.6M295.9 79.4h.6M293.1 100.9h.6M294.4 107.1h.6M284.3 109.4h.6M290.6 112.6h.6M285.5 106.7h.6M306.9 95.3h.6M285.2 104.6h.6M291.9 103.5h.6M290.1 106.5h.6M271.0 102.3h.6M267.0 114.2h.6M297.9 103.7h.6M284.6 88.6h.6M298.0 127.5h.6M281.4 114.7h.6M296.9 120.0h.6M287.1 113.4h.6M297.5 130.2h.6M281.7 126.1h.6M305.7 141.4h.6M296.8 137.5h.6M293.0 143.2h.6M306.3 143.9h.6M282.6 123.2h.6M290.2 152.7h.6M303.4 125.8h.6M295.4 119.3h.6M274.3 116.6h.6M292.9 131.0h.6M299.5 136.3h.6M298.0 128.0h.6M296.2 140.8h.6M317.9 133.7h.6M297.5 131.6h.6M291.3 144.4h.6M289.7 139.0h.6M292.4 128.8h.6M308.4 140.5h.6M318.9 136.4h.6M299.3 140.4h.6M296.7 150.7h.6M301.4 127.1h.6M303.6 126.1h.6M297.4 121.8h.6M290.3 131.5h.6M289.8 142.2h.6M294.5 138.5h.6M289.3 158.8h.6M295.9 127.8h.6M307.8 133.8h.6M308.0 132.6h.6M297.3 129.2h.6M302.2 134.5h.6M306.2 150.7h.6M286.8 127.2h.6M290.8 134.6h.6M292.1 135.0h.6M280.2 143.1h.6M306.4 140.5h.6M289.9 146.5h.6M293.0 159.9h.6M286.8 128.1h.6M311.4 127.3h.6M282.7 136.7h.6M297.1 137.5h.6M293.1 140.4h.6M307.1 144.7h.6M284.8 128.5h.6M294.7 134.2h.6M281.6 139.0h.6M287.6 141.1h.6M293.7 116.8h.6M296.2 139.4h.6M307.5 132.1h.6M292.3 126.9h.6M312.7 125.0h.6M288.6 148.7h.6M314.3 129.6h.6M302.1 118.4h.6M306.7 126.0h.6M309.3 136.9h.6M305.8 139.5h.6M308.0 131.1h.6M286.6 144.9h.6M294.1 145.9h.6M299.2 113.2h.6M277.4 137.3h.6M282.1 149.6h.6M290.3 133.6h.6M296.3 131.7h.6M306.1 131.2h.6M282.2 123.0h.6M312.2 127.1h.6M282.0 122.2h.6M300.1 143.5h.6M292.4 145.9h.6M299.6 158.0h.6M312.1 121.3h.6M287.6 123.5h.6M305.7 138.1h.6M298.4 145.4h.6M292.2 136.4h.6M301.1 123.3h.6M287.3 136.1h.6M309.5 133.8h.6M291.1 133.0h.6M292.1 155.6h.6M310.1 139.5h.6M311.2 123.4h.6M292.0 130.1h.6M295.1 134.2h.6M280.5 122.9h.6M293.9 122.0h.6M289.6 128.1h.6M305.0 126.1h.6M291.7 133.4h.6M289.5 126.6h.6M306.8 134.2h.6M299.0 141.7h.6M285.3 157.1h.6M291.3 143.2h.6M312.8 151.8h.6M299.1 138.6h.6M299.3 136.9h.6M297.2 139.0h.6M286.6 138.1h.6M296.7 136.9h.6M296.8 137.2h.6M303.4 145.5h.6M301.5 133.6h.6M298.5 122.4h.6M300.5 137.1h.6M287.1 129.7h.6M280.2 150.6h.6M301.5 136.6h.6M285.7 145.1h.6M307.9 135.7h.6M300.1 143.3h.6M274.9 125.5h.6M296.9 134.7h.6M292.4 139.5h.6M297.7 135.9h.6M300.4 136.9h.6M305.1 141.6h.6M284.7 145.5h.6M306.0 135.5h.6M291.4 121.7h.6M289.0 139.9h.6M292.0 128.1h.6M196.0 136.3h.6M212.9 60.0h.6M314.7 58.5h.6M271.9 53.8h.6M263.8 73.9h.6M294.2 135.2h.6M295.3 68.7h.6M299.8 56.5h.6M238.5 104.2h.6M248.6 68.6h.6M224.5 74.0h.6M208.3 125.0h.6M207.5 151.0h.6M251.0 69.1h.6M218.3 76.8h.6M300.5 130.6h.6M302.1 61.4h.6M212.0 104.4h.6M267.1 99.4h.6M307.1 77.9h.6M316.4 103.0h.6M207.0 63.7h.6M253.1 81.5h.6M314.6 151.8h.6M201.5 87.8h.6M267.8 145.2h.6M300.7 126.0h.6M214.0 149.8h.6M255.7 55.7h.6M290.2 107.9h.6M203.8 120.2h.6M250.7 125.8h.6M223.5 97.7h.6M249.9 132.6h.6M320.5 151.1h.6M220.3 107.6h.6M232.0 61.3h.6M223.1 59.8h.6M280.6 53.5h.6M299.3 140.4h.6M313.7 63.7h.6M214.2 99.8h.6M298.8 122.0h.6M283.9 85.0h.6M315.2 146.6h.6M216.3 104.8h.6M259.2 114.1h.6M214.6 83.6h.6M289.8 58.0h.6M282.7 63.6h.6M317.7 53.2h.6M278.1 45.9h.6M279.8 95.1h.6M238.7 80.3h.6M318.1 47.4h.6M218.5 134.6h.6M263.2 133.6h.6M285.7 128.1h.6M304.6 82.4h.6M245.3 99.0h.6M320.3 64.9h.6M278.0 67.2h.6M292.1 55.3h.6M290.1 140.0h.6M288.5 81.1h.6M280.3 71.7h.6M288.2 146.6h.6M235.4 139.9h.6M221.6 125.4h.6M282.8 64.6h.6M290.1 93.7h.6M254.0 136.1h.6M277.6 48.7h.6M244.4 151.3h.6M206.2 144.9h.6M248.8 131.2h.6M250.9 140.0h.6M320.3 98.1h.6M255.8 86.2h.6M312.6 131.1h.6M289.2 68.8h.6M319.2 51.5h.6M310.3 62.3h.6M231.8 65.4h.6M249.6 141.6h.6M206.5 99.5h.6M296.4 105.0h.6M264.4 46.6h.6M240.1 69.1h.6M221.2 50.1h.6M311.8 130.3h.6M256.9 112.3h.6M306.5 120.5h.6M319.7 88.7h.6M264.7 99.7h.6M259.6 115.8h.6M223.3 62.0h.6M302.6 109.9h.6M211.8 78.8h.6M222.4 52.0h.6M242.1 144.4h.6M209.4 90.4h.6M255.8 142.5h.6M302.8 105.8h.6M265.5 116.1h.6M318.1 116.4h.6M249.9 148.7h.6M219.5 96.9h.6M214.5 147.4h.6M256.5 110.3h.6M219.6 69.4h.6M210.7 127.2h.6M307.1 87.1h.6M256.6 46.1h.6M203.0 146.7h.6M254.1 116.6h.6M247.6 64.2h.6M276.6 57.6h.6M291.1 103.5h.6M215.5 92.7h.6M310.6 136.7h.6M305.7 47.7h.6M256.9 107.9h.6M258.2 121.1h.6M207.5 127.0h.6M304.3 62.7h.6M290.3 66.0h.6M244.4 145.7h.6M234.1 103.6h.6M196.4 122.0h.6M232.8 72.7h.6M212.6 138.6h.6M210.7 84.8h.6M321.5 109.1h.6M237.3 71.4h.6M244.6 67.4h.6M303.9 129.7h.6M220.0 132.0h.6M208.5 133.2h.6M307.5 130.5h.6M254.7 102.9h.6M242.3 62.8h.6M278.4 61.5h.6M285.2 83.5h.6M249.7 57.0h.6M227.8 127.2h.6M259.0 149.9h.6M256.3 114.4h.6M251.9 126.4h.6M203.9 46.2h.6M228.2 60.0h.6M222.3 78.9h.6M239.6 51.7h.6M205.2 134.1h.6M242.0 90.4h.6M213.4 143.6h.6M261.9 74.4h.6M282.4 150.9h.6M201.5 126.4h.6M243.8 140.9h.6M242.9 82.3h.6M271.4 106.4h.6M211.2 86.7h.6M241.4 147.4h.6M287.2 121.1h.6M311.4 83.0h.6M316.1 69.7h.6M200.1 74.5h.6M310.3 113.0h.6M253.0 142.2h.6M264.4 132.4h.6M311.3 149.5h.6M210.5 119.4h.6M230.4 47.3h.6M289.4 54.4h.6M298.4 139.6h.6M300.6 61.1h.6M314.5 78.8h.6M264.0 80.8h.6M213.7 60.6h.6M273.7 130.1h.6M245.1 92.1h.6M204.5 96.5h.6M199.2 66.8h.6M240.2 85.8h.6M199.3 83.2h.6M317.4 123.6h.6M260.0 143.6h.6M240.5 77.2h.6M319.5 73.9h.6M301.8 120.2h.6M313.7 107.4h.6M256.9 68.3h.6M233.8 66.6h.6M307.3 137.3h.6M238.2 83.8h.6M278.6 65.0h.6M271.0 93.0h.6M296.1 108.7h.6M238.6 131.0h.6M245.3 120.4h.6M274.3 61.2h.6M226.4 99.3h.6M205.1 84.7h.6M312.1 112.3h.6M262.7 122.5h.6M269.4 87.7h.6M263.4 145.1h.6M281.2 107.7h.6M245.9 72.1h.6M286.1 140.4h.6M260.0 139.5h.6M214.1 85.3h.6M300.7 125.9h.6M224.2 119.2h.6M288.8 139.0h.6M200.2 140.5h.6M264.2 64.5h.6M233.3 106.9h.6M256.3 78.8h.6M250.2 86.5h.6M250.6 113.4h.6M317.4 94.7h.6M241.9 126.0h.6M297.2 78.7h.6M309.7 133.7h.6M267.3 61.5h.6M227.5 133.1h.6M289.8 123.5h.6M296.2 128.4h.6M245.0 131.7h.6M289.9 146.4h.6M291.4 114.1h.6M305.5 128.5h.6M302.6 137.2h.6M196.1 129.9h.6M238.6 119.1h.6M227.4 145.7h.6M210.2 108.1h.6M233.9 131.6h.6M214.4 68.5h.6M199.0 93.7h.6M254.2 70.5h.6M220.0 90.3h.6M267.5 125.4h.6M308.7 148.4h.6M245.5 117.5h.6M312.5 96.6h.6M250.1 117.4h.6M225.8 51.6h.6M199.2 122.4h.6M204.4 143.8h.6M246.1 106.1h.6M283.5 112.8h.6M259.0 106.5h.6M204.0 144.4h.6M263.1 138.5h.6M317.9 130.7h.6M303.1 127.1h.6M287.7 99.9h.6M236.5 87.1h.6M308.3 109.8h.6M292.7 46.5h.6M279.0 108.2h.6M279.6 88.5h.6M299.3 108.5h.6M265.6 60.7h.6M241.1 133.3h.6M299.0 57.3h.6M212.0 83.8h.6M269.7 87.5h.6M304.0 110.7h.6M295.3 61.8h.6M221.7 103.3h.6M248.7 45.7h.6M276.3 140.5h.6M206.3 144.2h.6M241.6 104.6h.6M281.9 112.0h.6M255.7 101.7h.6M203.9 126.2h.6M303.0 85.3h.6M260.4 62.0h.6M274.6 55.0h.6M217.6 104.8h.6M219.5 49.0h.6M204.4 105.9h.6M204.4 86.8h.6M266.0 112.0h.6M312.5 150.0h.6M318.5 148.6h.6M316.8 57.3h.6M219.2 72.6h.6M198.8 83.3h.6M196.4 140.1h.6M297.1 100.2h.6M234.0 125.7h.6M282.4 95.7h.6M299.7 105.6h.6M300.3 91.4h.6M255.5 81.4h.6M310.2 69.8h.6M311.7 95.7h.6M248.4 107.8h.6M290.5 70.4h.6M247.6 87.6h.6M197.5 123.3h.6M223.8 94.0h.6M235.2 138.8h.6M235.4 129.9h.6M254.8 138.1h.6M261.7 69.8h.6M307.7 121.2h.6M271.2 143.2h.6M215.0 60.3h.6M233.7 56.9h.6M262.7 47.5h.6M286.3 54.7h.6M293.7 107.5h.6M274.9 103.6h.6M256.9 113.4h.6M214.1 66.2h.6M252.1 136.3h.6M291.2 57.5h.6M288.1 67.1h.6M233.1 75.2h.6M255.3 104.4h.6M229.8 50.6h.6M247.3 108.5h.6M321.9 130.5h.6M283.2 71.5h.6M266.6 146.1h.6M236.4 88.1h.6M201.4 114.2h.6M278.8 45.7h.6M307.1 135.8h.6M323.0 65.1h.6M209.7 139.3h.6M213.1 126.2h.6M250.5 131.2h.6M299.4 124.9h.6M226.8 146.1h.6M303.4 62.0h.6M260.4 56.2h.6M250.2 54.6h.6M278.4 103.0h.6M201.7 120.1h.6M278.6 137.7h.6M311.1 149.6h.6M257.4 101.8h.6M232.7 138.8h.6M276.6 139.2h.6M200.0 83.7h.6M218.6 84.3h.6M292.6 81.0h.6M287.2 114.2h.6M293.7 76.8h.6M262.0 122.7h.6M255.0 95.1h.6M306.9 114.7h.6M263.0 132.4h.6M292.7 97.8h.6M252.3 60.0h.6M297.6 151.7h.6M255.0 115.2h.6M235.3 131.8h.6M294.8 141.7h.6M227.9 122.6h.6M201.4 83.5h.6M219.1 140.2h.6M217.3 142.0h.6M234.2 149.1h.6M242.9 57.1h.6M316.0 80.5h.6M262.0 103.8h.6M298.4 150.8h.6M225.2 113.1h.6M255.7 147.7h.6M212.6 113.4h.6M322.1 78.0h.6M211.1 123.3h.6M319.6 127.1h.6M200.8 65.2h.6M313.8 89.6h.6M297.7 51.5h.6M261.4 134.2h.6M197.9 144.0h.6M275.4 74.1h.6M293.9 146.2h.6M313.2 111.6h.6M314.8 140.7h.6M303.2 110.1h.6M314.2 55.3h.6M272.9 81.6h.6M271.7 100.9h.6M213.8 103.0h.6M245.1 99.4h.6M268.7 68.9h.6M275.7 82.6h.6M229.0 67.3h.6M269.7 137.6h.6M261.9 87.3h.6M246.6 60.6h.6M200.6 125.4h.6M323.7 142.4h.6M279.2 113.6h.6M291.8 80.5h.6M219.4 87.2h.6M221.5 108.3h.6M285.4 47.4h.6M290.6 121.7h.6M298.1 59.9h.6M226.0 96.3h.6M252.1 49.4h.6M205.8 53.7h.6M222.3 131.3h.6M210.9 103.0h.6M300.1 52.3h.6M220.2 59.7h.6M206.5 128.9h.6M207.0 147.9h.6M205.4 87.3h.6M318.0 117.9h.6M271.3 89.4h.6M235.4 129.8h.6M239.7 62.3h.6M241.4 60.3h.6M214.7 134.8h.6M196.8 144.3h.6M197.3 54.6h.6M305.4 144.9h.6M201.6 137.1h.6M260.1 82.5h.6M232.6 143.9h.6M261.4 58.0h.6M252.7 115.9h.6M237.8 62.2h.6M215.1 83.0h.6M249.4 114.4h.6M291.8 106.9h.6M247.0 142.4h.6M260.4 135.2h.6M259.5 83.2h.6M242.6 109.7h.6M291.8 80.7h.6M254.0 93.9h.6M243.3 124.0h.6M214.6 122.0h.6M287.8 121.5h.6M300.3 59.7h.6" stroke="#000" stroke-width=".6" opacity=".45" fill="none"/>
</g>
<line x1="195.90" y1="24.70" x2="324.00" y2="24.70" stroke="#777" stroke-width="0.7"/>
<line x1="324.00" y1="24.70" x2="324.00" y2="152.00" stroke="#777" stroke-width="0.7"/>
<line x1="195.90" y1="24.70" x2="195.90" y2="152.00" stroke="#444" stroke-width="0.8"/>
<line x1="195.40" y1="152.00" x2="324.00" y2="152.00" stroke="#222" stroke-width="1.3"/>
<line x1="195.90" y1="152.00" x2="195.90" y2="154.47" stroke="#444" stroke-width="0.5"/>
<line x1="192.60" y1="152.00" x2="195.90" y2="152.00" stroke="#333" stroke-width="0.6"/>
<line x1="205.50" y1="152.00" x2="205.50" y2="153.43" stroke="#444" stroke-width="0.5"/>
<line x1="194.00" y1="142.40" x2="195.90" y2="142.40" stroke="#333" stroke-width="0.6"/>
<line x1="211.20" y1="152.00" x2="211.20" y2="153.43" stroke="#444" stroke-width="0.5"/>
<line x1="194.00" y1="136.80" x2="195.90" y2="136.80" stroke="#333" stroke-width="0.6"/>
<line x1="215.20" y1="152.00" x2="215.20" y2="153.43" stroke="#444" stroke-width="0.5"/>
<line x1="194.00" y1="132.80" x2="195.90" y2="132.80" stroke="#333" stroke-width="0.6"/>
<line x1="218.30" y1="152.00" x2="218.30" y2="153.43" stroke="#444" stroke-width="0.5"/>
<line x1="194.00" y1="129.80" x2="195.90" y2="129.80" stroke="#333" stroke-width="0.6"/>
<line x1="220.80" y1="152.00" x2="220.80" y2="153.43" stroke="#444" stroke-width="0.5"/>
<line x1="194.00" y1="127.20" x2="195.90" y2="127.20" stroke="#333" stroke-width="0.6"/>
<line x1="223.00" y1="152.00" x2="223.00" y2="153.43" stroke="#444" stroke-width="0.5"/>
<line x1="194.00" y1="125.10" x2="195.90" y2="125.10" stroke="#333" stroke-width="0.6"/>
<line x1="224.80" y1="152.00" x2="224.80" y2="153.43" stroke="#444" stroke-width="0.5"/>
<line x1="194.00" y1="123.30" x2="195.90" y2="123.30" stroke="#333" stroke-width="0.6"/>
<line x1="226.50" y1="152.00" x2="226.50" y2="153.43" stroke="#444" stroke-width="0.5"/>
<line x1="194.00" y1="121.60" x2="195.90" y2="121.60" stroke="#333" stroke-width="0.6"/>
<line x1="227.90" y1="152.00" x2="227.90" y2="154.47" stroke="#444" stroke-width="0.5"/>
<line x1="192.60" y1="120.20" x2="195.90" y2="120.20" stroke="#333" stroke-width="0.6"/>
<line x1="237.60" y1="152.00" x2="237.60" y2="153.43" stroke="#444" stroke-width="0.5"/>
<line x1="194.00" y1="110.60" x2="195.90" y2="110.60" stroke="#333" stroke-width="0.6"/>
<line x1="243.20" y1="152.00" x2="243.20" y2="153.43" stroke="#444" stroke-width="0.5"/>
<line x1="194.00" y1="105.00" x2="195.90" y2="105.00" stroke="#333" stroke-width="0.6"/>
<line x1="247.20" y1="152.00" x2="247.20" y2="153.43" stroke="#444" stroke-width="0.5"/>
<line x1="194.00" y1="101.00" x2="195.90" y2="101.00" stroke="#333" stroke-width="0.6"/>
<line x1="250.30" y1="152.00" x2="250.30" y2="153.43" stroke="#444" stroke-width="0.5"/>
<line x1="194.00" y1="97.90" x2="195.90" y2="97.90" stroke="#333" stroke-width="0.6"/>
<line x1="252.80" y1="152.00" x2="252.80" y2="153.43" stroke="#444" stroke-width="0.5"/>
<line x1="194.00" y1="95.40" x2="195.90" y2="95.40" stroke="#333" stroke-width="0.6"/>
<line x1="255.00" y1="152.00" x2="255.00" y2="153.43" stroke="#444" stroke-width="0.5"/>
<line x1="194.00" y1="93.30" x2="195.90" y2="93.30" stroke="#333" stroke-width="0.6"/>
<line x1="256.80" y1="152.00" x2="256.80" y2="153.43" stroke="#444" stroke-width="0.5"/>
<line x1="194.00" y1="91.40" x2="195.90" y2="91.40" stroke="#333" stroke-width="0.6"/>
<line x1="258.50" y1="152.00" x2="258.50" y2="153.43" stroke="#444" stroke-width="0.5"/>
<line x1="194.00" y1="89.80" x2="195.90" y2="89.80" stroke="#333" stroke-width="0.6"/>
<line x1="260.00" y1="152.00" x2="260.00" y2="154.47" stroke="#444" stroke-width="0.5"/>
<line x1="192.60" y1="88.40" x2="195.90" y2="88.40" stroke="#333" stroke-width="0.6"/>
<line x1="269.60" y1="152.00" x2="269.60" y2="153.43" stroke="#444" stroke-width="0.5"/>
<line x1="194.00" y1="78.80" x2="195.90" y2="78.80" stroke="#333" stroke-width="0.6"/>
<line x1="275.20" y1="152.00" x2="275.20" y2="153.43" stroke="#444" stroke-width="0.5"/>
<line x1="194.00" y1="73.20" x2="195.90" y2="73.20" stroke="#333" stroke-width="0.6"/>
<line x1="279.20" y1="152.00" x2="279.20" y2="153.43" stroke="#444" stroke-width="0.5"/>
<line x1="194.00" y1="69.20" x2="195.90" y2="69.20" stroke="#333" stroke-width="0.6"/>
<line x1="282.30" y1="152.00" x2="282.30" y2="153.43" stroke="#444" stroke-width="0.5"/>
<line x1="194.00" y1="66.10" x2="195.90" y2="66.10" stroke="#333" stroke-width="0.6"/>
<line x1="284.90" y1="152.00" x2="284.90" y2="153.43" stroke="#444" stroke-width="0.5"/>
<line x1="194.00" y1="63.60" x2="195.90" y2="63.60" stroke="#333" stroke-width="0.6"/>
<line x1="287.00" y1="152.00" x2="287.00" y2="153.43" stroke="#444" stroke-width="0.5"/>
<line x1="194.00" y1="61.50" x2="195.90" y2="61.50" stroke="#333" stroke-width="0.6"/>
<line x1="288.90" y1="152.00" x2="288.90" y2="153.43" stroke="#444" stroke-width="0.5"/>
<line x1="194.00" y1="59.60" x2="195.90" y2="59.60" stroke="#333" stroke-width="0.6"/>
<line x1="290.50" y1="152.00" x2="290.50" y2="153.43" stroke="#444" stroke-width="0.5"/>
<line x1="194.00" y1="58.00" x2="195.90" y2="58.00" stroke="#333" stroke-width="0.6"/>
<line x1="292.00" y1="152.00" x2="292.00" y2="154.47" stroke="#444" stroke-width="0.5"/>
<line x1="192.60" y1="56.50" x2="195.90" y2="56.50" stroke="#333" stroke-width="0.6"/>
<line x1="301.60" y1="152.00" x2="301.60" y2="153.43" stroke="#444" stroke-width="0.5"/>
<line x1="194.00" y1="46.90" x2="195.90" y2="46.90" stroke="#333" stroke-width="0.6"/>
<line x1="307.30" y1="152.00" x2="307.30" y2="153.43" stroke="#444" stroke-width="0.5"/>
<line x1="194.00" y1="41.30" x2="195.90" y2="41.30" stroke="#333" stroke-width="0.6"/>
<line x1="311.30" y1="152.00" x2="311.30" y2="153.43" stroke="#444" stroke-width="0.5"/>
<line x1="194.00" y1="37.40" x2="195.90" y2="37.40" stroke="#333" stroke-width="0.6"/>
<line x1="314.40" y1="152.00" x2="314.40" y2="153.43" stroke="#444" stroke-width="0.5"/>
<line x1="194.00" y1="34.30" x2="195.90" y2="34.30" stroke="#333" stroke-width="0.6"/>
<line x1="316.90" y1="152.00" x2="316.90" y2="153.43" stroke="#444" stroke-width="0.5"/>
<line x1="194.00" y1="31.80" x2="195.90" y2="31.80" stroke="#333" stroke-width="0.6"/>
<line x1="319.00" y1="152.00" x2="319.00" y2="153.43" stroke="#444" stroke-width="0.5"/>
<line x1="194.00" y1="29.60" x2="195.90" y2="29.60" stroke="#333" stroke-width="0.6"/>
<line x1="320.90" y1="152.00" x2="320.90" y2="153.43" stroke="#444" stroke-width="0.5"/>
<line x1="194.00" y1="27.80" x2="195.90" y2="27.80" stroke="#333" stroke-width="0.6"/>
<line x1="322.50" y1="152.00" x2="322.50" y2="153.43" stroke="#444" stroke-width="0.5"/>
<line x1="194.00" y1="26.20" x2="195.90" y2="26.20" stroke="#333" stroke-width="0.6"/>
<rect x="214.60" y="64.60" width="48.00" height="30.30" fill="none" stroke="#505050" stroke-width="0.75"/>
<rect x="214.60" y="95.80" width="39.90" height="36.00" fill="none" stroke="#505050" stroke-width="0.75"/>
<rect x="262.60" y="64.60" width="53.10" height="34.00" fill="none" stroke="#505050" stroke-width="0.75"/>
<rect x="263.20" y="98.80" width="44.50" height="23.70" fill="none" stroke="#505050" stroke-width="0.75"/>
<rect x="263.20" y="122.50" width="44.50" height="27.10" fill="none" stroke="#505050" stroke-width="0.75"/>
<text x="261" y="19.8" font-size="8.5" text-anchor="middle" font-weight="normal" fill="#000" stroke="#000" stroke-width="0.18">Stat5<tspan font-size="55%" dy="-0.7em">-/-</tspan></text>
<line x1="191.70" y1="157.90" x2="191.70" y2="117.40" stroke="#000" stroke-width="1.1"/>
<path d="M188.7 117.80000000000001L191.7 112.4L194.7 117.80000000000001z" fill="#000"/>
<line x1="191.20" y1="157.40" x2="232.70" y2="157.40" stroke="#000" stroke-width="1.1"/>
<path d="M232.29999999999998 154.4L237.7 157.4L232.29999999999998 160.4z" fill="#000"/>
<text x="189.89999999999998" y="156.4" font-size="8" text-anchor="start" font-weight="normal" fill="#000" stroke="#000" stroke-width="0.18" transform="rotate(-90 189.89999999999998 156.4)">TfR-1</text>
<text x="192.89999999999998" y="166.8" font-size="8.7" text-anchor="start" font-weight="normal" fill="#000" stroke="#000" stroke-width="0.18">Ter 119</text>
<rect x="361.00" y="26.30" width="158.00" height="123.80" fill="#fff" stroke="none" stroke-width="1"/>
<line x1="361.00" y1="137.72" x2="519.00" y2="137.72" stroke="#c4c4c4" stroke-width="0.8"/>
<line x1="361.00" y1="125.34" x2="519.00" y2="125.34" stroke="#c4c4c4" stroke-width="0.8"/>
<line x1="361.00" y1="112.96" x2="519.00" y2="112.96" stroke="#c4c4c4" stroke-width="0.8"/>
<line x1="361.00" y1="100.58" x2="519.00" y2="100.58" stroke="#c4c4c4" stroke-width="0.8"/>
<line x1="361.00" y1="88.20" x2="519.00" y2="88.20" stroke="#c4c4c4" stroke-width="0.8"/>
<line x1="361.00" y1="75.82" x2="519.00" y2="75.82" stroke="#c4c4c4" stroke-width="0.8"/>
<line x1="361.00" y1="63.44" x2="519.00" y2="63.44" stroke="#c4c4c4" stroke-width="0.8"/>
<line x1="361.00" y1="51.06" x2="519.00" y2="51.06" stroke="#c4c4c4" stroke-width="0.8"/>
<line x1="361.00" y1="38.68" x2="519.00" y2="38.68" stroke="#c4c4c4" stroke-width="0.8"/>
<rect x="361.00" y="26.30" width="158.00" height="123.80" fill="none" stroke="#8a8a8a" stroke-width="0.9"/>
<line x1="361.00" y1="26.30" x2="361.00" y2="150.10" stroke="#555" stroke-width="1"/>
<line x1="359.00" y1="150.10" x2="519.00" y2="150.10" stroke="#555" stroke-width="1.1"/>
<text x="359" y="152.79999999999998" font-size="8.1" text-anchor="end" font-weight="normal" fill="#000" stroke="#000" stroke-width="0.18">0</text>
<line x1="357.40" y1="150.10" x2="361.00" y2="150.10" stroke="#666" stroke-width="0.7"/>
<text x="359" y="128.04" font-size="8.1" text-anchor="end" font-weight="normal" fill="#000" stroke="#000" stroke-width="0.18">20</text>
<line x1="357.40" y1="125.34" x2="361.00" y2="125.34" stroke="#666" stroke-width="0.7"/>
<text x="359" y="103.27999999999999" font-size="8.1" text-anchor="end" font-weight="normal" fill="#000" stroke="#000" stroke-width="0.18">40</text>
<line x1="357.40" y1="100.58" x2="361.00" y2="100.58" stroke="#666" stroke-width="0.7"/>
<text x="359" y="78.52" font-size="8.1" text-anchor="end" font-weight="normal" fill="#000" stroke="#000" stroke-width="0.18">60</text>
<line x1="357.40" y1="75.82" x2="361.00" y2="75.82" stroke="#666" stroke-width="0.7"/>
<text x="359" y="53.75999999999999" font-size="8.1" text-anchor="end" font-weight="normal" fill="#000" stroke="#000" stroke-width="0.18">80</text>
<line x1="357.40" y1="51.06" x2="361.00" y2="51.06" stroke="#666" stroke-width="0.7"/>
<text x="359" y="28.999999999999996" font-size="8.1" text-anchor="end" font-weight="normal" fill="#000" stroke="#000" stroke-width="0.18">100</text>
<line x1="357.40" y1="26.30" x2="361.00" y2="26.30" stroke="#666" stroke-width="0.7"/>
<line x1="357.40" y1="137.72" x2="361.00" y2="137.72" stroke="#777" stroke-width="0.7"/>
<line x1="357.40" y1="112.96" x2="361.00" y2="112.96" stroke="#777" stroke-width="0.7"/>
<line x1="357.40" y1="88.20" x2="361.00" y2="88.20" stroke="#777" stroke-width="0.7"/>
<line x1="357.40" y1="63.44" x2="361.00" y2="63.44" stroke="#777" stroke-width="0.7"/>
<line x1="357.40" y1="38.68" x2="361.00" y2="38.68" stroke="#777" stroke-width="0.7"/>
<rect x="376.90" y="136.61" width="8.90" height="13.49" fill="#828282" stroke="none" stroke-width="1"/>
<rect x="367.85" y="138.52" width="8.90" height="11.58" fill="#fff" stroke="#000" stroke-width="1.1"/>
<line x1="372.30" y1="137.47" x2="372.30" y2="138.46" stroke="#000" stroke-width="0.8"/>
<line x1="370.50" y1="137.47" x2="374.10" y2="137.47" stroke="#000" stroke-width="0.8"/>
<line x1="370.50" y1="138.46" x2="374.10" y2="138.46" stroke="#000" stroke-width="0.8"/>
<line x1="381.10" y1="133.63" x2="381.10" y2="139.58" stroke="#000" stroke-width="0.9"/>
<line x1="379.30" y1="133.63" x2="382.90" y2="133.63" stroke="#000" stroke-width="0.9"/>
<line x1="379.30" y1="139.58" x2="382.90" y2="139.58" stroke="#000" stroke-width="0.9"/>
<text x="379.1" y="159.2" font-size="8.2" text-anchor="middle" font-weight="normal" fill="#000" stroke="#000" stroke-width="0.18">R1</text>
<rect x="409.00" y="136.61" width="8.90" height="13.49" fill="#828282" stroke="none" stroke-width="1"/>
<rect x="399.95" y="138.89" width="8.90" height="11.21" fill="#fff" stroke="#000" stroke-width="1.1"/>
<line x1="404.40" y1="137.97" x2="404.40" y2="138.71" stroke="#000" stroke-width="0.8"/>
<line x1="402.60" y1="137.97" x2="406.20" y2="137.97" stroke="#000" stroke-width="0.8"/>
<line x1="402.60" y1="138.71" x2="406.20" y2="138.71" stroke="#000" stroke-width="0.8"/>
<line x1="413.20" y1="133.88" x2="413.20" y2="139.33" stroke="#000" stroke-width="0.9"/>
<line x1="411.40" y1="133.88" x2="415.00" y2="133.88" stroke="#000" stroke-width="0.9"/>
<line x1="411.40" y1="139.33" x2="415.00" y2="139.33" stroke="#000" stroke-width="0.9"/>
<text x="411.2" y="159.2" font-size="8.2" text-anchor="middle" font-weight="normal" fill="#000" stroke="#000" stroke-width="0.18">R2</text>
<rect x="440.60" y="71.98" width="8.90" height="78.12" fill="#828282" stroke="none" stroke-width="1"/>
<rect x="431.55" y="71.79" width="8.90" height="78.31" fill="#fff" stroke="#000" stroke-width="1.1"/>
<line x1="436.00" y1="68.39" x2="436.00" y2="74.09" stroke="#000" stroke-width="0.8"/>
<line x1="434.20" y1="68.39" x2="437.80" y2="68.39" stroke="#000" stroke-width="0.8"/>
<line x1="434.20" y1="74.09" x2="437.80" y2="74.09" stroke="#000" stroke-width="0.8"/>
<line x1="444.80" y1="62.82" x2="444.80" y2="81.14" stroke="#000" stroke-width="0.9"/>
<line x1="443.00" y1="62.82" x2="446.60" y2="62.82" stroke="#000" stroke-width="0.9"/>
<line x1="443.00" y1="81.14" x2="446.60" y2="81.14" stroke="#000" stroke-width="0.9"/>
<text x="442.8" y="159.2" font-size="8.2" text-anchor="middle" font-weight="normal" fill="#000" stroke="#000" stroke-width="0.18">R3</text>
<rect x="472.30" y="145.64" width="8.90" height="4.46" fill="#828282" stroke="none" stroke-width="1"/>
<rect x="463.25" y="146.81" width="8.90" height="3.29" fill="#fff" stroke="#000" stroke-width="1.1"/>
<line x1="467.70" y1="145.89" x2="467.70" y2="146.63" stroke="#000" stroke-width="0.8"/>
<line x1="465.90" y1="145.89" x2="469.50" y2="145.89" stroke="#000" stroke-width="0.8"/>
<line x1="465.90" y1="146.63" x2="469.50" y2="146.63" stroke="#000" stroke-width="0.8"/>
<line x1="476.50" y1="144.41" x2="476.50" y2="146.88" stroke="#000" stroke-width="0.9"/>
<line x1="474.70" y1="144.41" x2="478.30" y2="144.41" stroke="#000" stroke-width="0.9"/>
<line x1="474.70" y1="146.88" x2="478.30" y2="146.88" stroke="#000" stroke-width="0.9"/>
<text x="474.5" y="159.2" font-size="8.2" text-anchor="middle" font-weight="normal" fill="#000" stroke="#000" stroke-width="0.18">R4</text>
<rect x="503.80" y="149.48" width="8.90" height="0.62" fill="#828282" stroke="none" stroke-width="1"/>
<rect x="494.20" y="148.71" width="9.80" height="1.39" fill="#111" stroke="none" stroke-width="1"/>
<line x1="499.20" y1="148.92" x2="499.20" y2="149.30" stroke="#000" stroke-width="0.8"/>
<line x1="497.40" y1="148.92" x2="501.00" y2="148.92" stroke="#000" stroke-width="0.8"/>
<line x1="497.40" y1="149.30" x2="501.00" y2="149.30" stroke="#000" stroke-width="0.8"/>
<line x1="508.00" y1="149.23" x2="508.00" y2="149.73" stroke="#000" stroke-width="0.9"/>
<line x1="506.20" y1="149.23" x2="509.80" y2="149.23" stroke="#000" stroke-width="0.9"/>
<line x1="506.20" y1="149.73" x2="509.80" y2="149.73" stroke="#000" stroke-width="0.9"/>
<text x="506.0" y="159.2" font-size="8.2" text-anchor="middle" font-weight="normal" fill="#000" stroke="#000" stroke-width="0.18">R5</text>
<text x="441.7" y="21.7" font-size="9.1" text-anchor="middle" font-weight="normal" fill="#000" stroke="#000" stroke-width="0.18">Fetal Liver Quantification</text>
<text x="344.9" y="87.7" font-size="8.5" text-anchor="middle" font-weight="normal" fill="#000" stroke="#000" stroke-width="0.18" transform="rotate(-90 344.9 87.7)">percent</text>
<rect x="479.60" y="28.30" width="38.60" height="18.20" fill="#fff" stroke="none" stroke-width="1"/>
<rect x="480.80" y="30.90" width="5.20" height="5.20" fill="#fff" stroke="#a8a8a8" stroke-width="0.7"/>
<text x="488.3" y="36" font-size="7.2" text-anchor="start" font-weight="normal" fill="#000" stroke="#000" stroke-width="0.18">wild-type</text>
<rect x="480.80" y="39.40" width="5.20" height="5.20" fill="#808080" stroke="#777" stroke-width="0.4"/>
<text x="488.3" y="44.6" font-size="7.2" text-anchor="start" font-weight="normal" fill="#000" stroke="#000" stroke-width="0.18">Stat5<tspan font-size="55%" dy="-0.7em">-/-</tspan></text>
<rect x="51.50" y="199.00" width="112.50" height="112.20" fill="#fff" stroke="none" stroke-width="1"/>
<line x1="51.50" y1="199.00" x2="164.00" y2="199.00" stroke="#555" stroke-width="0.9"/>
<line x1="164.00" y1="199.00" x2="164.00" y2="311.20" stroke="#888" stroke-width="0.9"/>
<line x1="51.50" y1="199.00" x2="51.50" y2="311.20" stroke="#333" stroke-width="1"/>
<line x1="51.50" y1="311.20" x2="164.00" y2="311.20" stroke="#222" stroke-width="1.1"/>
<text x="107.9" y="192.2" font-size="9.2" text-anchor="middle" font-weight="normal" fill="#000" stroke="#000" stroke-width="0.18">TfR-1 Cell Surface Expression</text>
<text x="48.6" y="312.8" font-size="7.3" text-anchor="end" font-weight="normal" fill="#000" stroke="#000" stroke-width="0.18">0</text>
<line x1="48.90" y1="310.20" x2="51.50" y2="310.20" stroke="#333" stroke-width="0.7"/>
<line x1="50.20" y1="304.91" x2="51.50" y2="304.91" stroke="#444" stroke-width="0.5"/>
<line x1="50.20" y1="299.62" x2="51.50" y2="299.62" stroke="#444" stroke-width="0.5"/>
<line x1="50.20" y1="294.32" x2="51.50" y2="294.32" stroke="#444" stroke-width="0.5"/>
<text x="48.6" y="291.63" font-size="7.3" text-anchor="end" font-weight="normal" fill="#000" stroke="#000" stroke-width="0.18">20</text>
<line x1="48.90" y1="289.03" x2="51.50" y2="289.03" stroke="#333" stroke-width="0.7"/>
<line x1="50.20" y1="283.74" x2="51.50" y2="283.74" stroke="#444" stroke-width="0.5"/>
<line x1="50.20" y1="278.44" x2="51.50" y2="278.44" stroke="#444" stroke-width="0.5"/>
<line x1="50.20" y1="273.15" x2="51.50" y2="273.15" stroke="#444" stroke-width="0.5"/>
<text x="48.6" y="270.46000000000004" font-size="7.3" text-anchor="end" font-weight="normal" fill="#000" stroke="#000" stroke-width="0.18">40</text>
<line x1="48.90" y1="267.86" x2="51.50" y2="267.86" stroke="#333" stroke-width="0.7"/>
<line x1="50.20" y1="262.57" x2="51.50" y2="262.57" stroke="#444" stroke-width="0.5"/>
<line x1="50.20" y1="257.28" x2="51.50" y2="257.28" stroke="#444" stroke-width="0.5"/>
<line x1="50.20" y1="251.98" x2="51.50" y2="251.98" stroke="#444" stroke-width="0.5"/>
<text x="48.6" y="249.29" font-size="7.3" text-anchor="end" font-weight="normal" fill="#000" stroke="#000" stroke-width="0.18">60</text>
<line x1="48.90" y1="246.69" x2="51.50" y2="246.69" stroke="#333" stroke-width="0.7"/>
<line x1="50.20" y1="241.40" x2="51.50" y2="241.40" stroke="#444" stroke-width="0.5"/>
<line x1="50.20" y1="236.10" x2="51.50" y2="236.10" stroke="#444" stroke-width="0.5"/>
<line x1="50.20" y1="230.81" x2="51.50" y2="230.81" stroke="#444" stroke-width="0.5"/>
<text x="48.6" y="228.11999999999998" font-size="7.3" text-anchor="end" font-weight="normal" fill="#000" stroke="#000" stroke-width="0.18">80</text>
<line x1="48.90" y1="225.52" x2="51.50" y2="225.52" stroke="#333" stroke-width="0.7"/>
<line x1="50.20" y1="220.23" x2="51.50" y2="220.23" stroke="#444" stroke-width="0.5"/>
<line x1="50.20" y1="214.93" x2="51.50" y2="214.93" stroke="#444" stroke-width="0.5"/>
<line x1="50.20" y1="209.64" x2="51.50" y2="209.64" stroke="#444" stroke-width="0.5"/>
<text x="48.6" y="206.95" font-size="7.3" text-anchor="end" font-weight="normal" fill="#000" stroke="#000" stroke-width="0.18">100</text>
<line x1="48.90" y1="204.35" x2="51.50" y2="204.35" stroke="#333" stroke-width="0.7"/>
<text x="52.5" y="321.8" font-size="6.9" text-anchor="middle" font-weight="normal" fill="#000" stroke="#000" stroke-width="0.18">10<tspan font-size="5" dy="-2.6">0</tspan></text>
<line x1="60.13" y1="311.20" x2="60.13" y2="312.60" stroke="#444" stroke-width="0.5"/>
<line x1="65.06" y1="311.20" x2="65.06" y2="312.60" stroke="#444" stroke-width="0.5"/>
<line x1="68.56" y1="311.20" x2="68.56" y2="312.60" stroke="#444" stroke-width="0.5"/>
<line x1="71.27" y1="311.20" x2="71.27" y2="312.60" stroke="#444" stroke-width="0.5"/>
<line x1="73.49" y1="311.20" x2="73.49" y2="312.60" stroke="#444" stroke-width="0.5"/>
<line x1="75.36" y1="311.20" x2="75.36" y2="312.60" stroke="#444" stroke-width="0.5"/>
<line x1="76.99" y1="311.20" x2="76.99" y2="312.60" stroke="#444" stroke-width="0.5"/>
<line x1="78.42" y1="311.20" x2="78.42" y2="312.60" stroke="#444" stroke-width="0.5"/>
<line x1="51.70" y1="311.20" x2="51.70" y2="313.80" stroke="#333" stroke-width="0.7"/>
<text x="80.5" y="321.8" font-size="6.9" text-anchor="middle" font-weight="normal" fill="#000" stroke="#000" stroke-width="0.18">10<tspan font-size="5" dy="-2.6">1</tspan></text>
<line x1="88.13" y1="311.20" x2="88.13" y2="312.60" stroke="#444" stroke-width="0.5"/>
<line x1="93.06" y1="311.20" x2="93.06" y2="312.60" stroke="#444" stroke-width="0.5"/>
<line x1="96.56" y1="311.20" x2="96.56" y2="312.60" stroke="#444" stroke-width="0.5"/>
<line x1="99.27" y1="311.20" x2="99.27" y2="312.60" stroke="#444" stroke-width="0.5"/>
<line x1="101.49" y1="311.20" x2="101.49" y2="312.60" stroke="#444" stroke-width="0.5"/>
<line x1="103.36" y1="311.20" x2="103.36" y2="312.60" stroke="#444" stroke-width="0.5"/>
<line x1="104.99" y1="311.20" x2="104.99" y2="312.60" stroke="#444" stroke-width="0.5"/>
<line x1="106.42" y1="311.20" x2="106.42" y2="312.60" stroke="#444" stroke-width="0.5"/>
<line x1="79.70" y1="311.20" x2="79.70" y2="313.80" stroke="#333" stroke-width="0.7"/>
<text x="108.5" y="321.8" font-size="6.9" text-anchor="middle" font-weight="normal" fill="#000" stroke="#000" stroke-width="0.18">10<tspan font-size="5" dy="-2.6">2</tspan></text>
<line x1="116.13" y1="311.20" x2="116.13" y2="312.60" stroke="#444" stroke-width="0.5"/>
<line x1="121.06" y1="311.20" x2="121.06" y2="312.60" stroke="#444" stroke-width="0.5"/>
<line x1="124.56" y1="311.20" x2="124.56" y2="312.60" stroke="#444" stroke-width="0.5"/>
<line x1="127.27" y1="311.20" x2="127.27" y2="312.60" stroke="#444" stroke-width="0.5"/>
<line x1="129.49" y1="311.20" x2="129.49" y2="312.60" stroke="#444" stroke-width="0.5"/>
<line x1="131.36" y1="311.20" x2="131.36" y2="312.60" stroke="#444" stroke-width="0.5"/>
<line x1="132.99" y1="311.20" x2="132.99" y2="312.60" stroke="#444" stroke-width="0.5"/>
<line x1="134.42" y1="311.20" x2="134.42" y2="312.60" stroke="#444" stroke-width="0.5"/>
<line x1="107.70" y1="311.20" x2="107.70" y2="313.80" stroke="#333" stroke-width="0.7"/>
<text x="136.5" y="321.8" font-size="6.9" text-anchor="middle" font-weight="normal" fill="#000" stroke="#000" stroke-width="0.18">10<tspan font-size="5" dy="-2.6">3</tspan></text>
<line x1="144.13" y1="311.20" x2="144.13" y2="312.60" stroke="#444" stroke-width="0.5"/>
<line x1="149.06" y1="311.20" x2="149.06" y2="312.60" stroke="#444" stroke-width="0.5"/>
<line x1="152.56" y1="311.20" x2="152.56" y2="312.60" stroke="#444" stroke-width="0.5"/>
<line x1="155.27" y1="311.20" x2="155.27" y2="312.60" stroke="#444" stroke-width="0.5"/>
<line x1="157.49" y1="311.20" x2="157.49" y2="312.60" stroke="#444" stroke-width="0.5"/>
<line x1="159.36" y1="311.20" x2="159.36" y2="312.60" stroke="#444" stroke-width="0.5"/>
<line x1="160.99" y1="311.20" x2="160.99" y2="312.60" stroke="#444" stroke-width="0.5"/>
<line x1="162.42" y1="311.20" x2="162.42" y2="312.60" stroke="#444" stroke-width="0.5"/>
<line x1="135.70" y1="311.20" x2="135.70" y2="313.80" stroke="#333" stroke-width="0.7"/>
<text x="164.5" y="321.8" font-size="6.9" text-anchor="middle" font-weight="normal" fill="#000" stroke="#000" stroke-width="0.18">10<tspan font-size="5" dy="-2.6">4</tspan></text>
<line x1="163.70" y1="311.20" x2="163.70" y2="313.80" stroke="#333" stroke-width="0.7"/>
<text x="34.6" y="254.9" font-size="8.5" text-anchor="middle" font-weight="normal" fill="#000" stroke="#000" stroke-width="0.18" transform="rotate(-90 34.6 254.9)">%max of fluorescence intensity</text>
<path d="M51.7 302.0L52.3 302.2L52.8 303.1L53.4 304.6L54.0 303.7L54.5 304.3L55.1 305.1L55.6 304.6L56.2 304.7L56.8 304.8L57.3 305.0L57.9 304.7L58.5 305.5L59.0 305.2L59.6 305.4L60.1 304.7L60.7 305.0L61.3 305.0L61.8 305.2L62.4 304.8L63.0 304.5L63.5 304.5L64.1 303.5L64.6 303.6L65.2 305.6L65.8 305.0L66.3 303.9L66.9 303.9L67.5 303.4L68.0 303.3L68.6 302.1L69.1 303.8L69.7 303.3L70.3 301.7L70.8 302.4L71.4 302.2L72.0 302.8L72.5 303.3L73.1 302.1L73.6 302.0L74.2 302.7L74.8 302.2L75.3 301.7L75.9 302.1L76.5 301.5L77.0 301.2L77.6 301.2L78.2 301.3L78.7 300.6L79.3 300.2L79.8 300.4L80.4 300.9L81.0 299.9L81.5 300.4L82.1 299.4L82.7 300.4L83.2 299.1L83.8 299.5L84.3 300.0L84.9 299.3L85.5 298.9L86.0 298.6L86.6 299.2L87.2 299.1L87.7 298.2L88.3 298.4L88.8 297.9L89.4 297.4L90.0 298.7L90.5 297.4L91.1 296.5L91.7 297.0L92.2 296.8L92.8 295.1L93.3 294.2L93.9 292.2L94.5 290.7L95.0 288.4L95.6 284.0L96.2 280.1L96.7 274.7L97.3 269.9L97.9 265.5L98.4 259.7L99.0 253.0L99.5 247.6L100.1 242.9L100.7 237.4L101.2 232.1L101.8 227.1L102.4 222.1L102.9 218.0L103.5 214.3L104.0 211.2L104.6 208.1L105.2 208.6L105.7 206.9L106.3 207.4L106.9 209.6L107.4 210.5L108.0 213.3L108.5 214.9L109.1 218.2L109.7 220.7L110.2 223.5L110.8 227.0L111.4 230.8L111.9 234.3L112.5 235.5L113.0 239.9L113.6 243.7L114.2 246.9L114.7 250.9L115.3 254.3L115.9 259.0L116.4 263.7L117.0 268.9L117.5 272.8L118.1 277.7L118.7 280.5L119.2 283.5L119.8 288.6L120.4 292.1L120.9 292.8L121.5 293.7L122.1 297.7L122.6 299.6L123.2 300.1L123.7 302.3L124.3 303.2L124.9 304.1L125.4 304.3L126.0 305.3L126.6 305.2L127.1 305.7L127.7 306.3L128.2 306.2L128.8 306.7L129.4 306.4L129.9 307.3L130.5 307.5L131.1 306.2L131.6 307.3L132.2 307.5L132.7 307.4L133.3 308.1L133.9 308.1L134.4 307.8L135.0 308.0L135.6 308.9L136.1 307.7L136.7 308.6L137.2 308.9L137.8 308.9L138.4 308.6L138.9 307.5L139.5 309.1L140.1 308.4L140.6 309.7L141.2 308.6L141.8 308.1L142.3 308.8L142.9 309.0L143.4 308.6L144.0 308.3L144.6 308.4L145.1 307.7L145.7 308.7L146.3 309.2L146.8 309.0L147.4 309.0L147.9 308.9L148.5 309.0L149.1 308.9L149.6 309.7L150.2 308.5L150.8 309.3L151.3 309.7L151.9 308.6L152.4 308.2L153.0 308.7L153.6 308.9L154.1 309.6L154.7 307.4L155.3 308.5L155.8 309.7L156.4 309.5L156.9 309.0L157.5 309.7L158.1 309.0L158.6 309.4L159.2 308.4L159.8 308.6L160.3 309.7L160.9 309.0L161.4 309.7L162.0 307.8L162.6 307.4L163.1 306.0L163.7 305.6" fill="none" stroke="#858585" stroke-width="1.7" stroke-linejoin="round" stroke-linecap="round"/>
<path d="M51.7 305.7L52.3 306.6L52.8 307.1L53.4 308.6L54.0 306.3L54.5 306.7L55.1 307.6L55.6 307.0L56.2 307.4L56.8 307.9L57.3 307.1L57.9 307.9L58.5 307.9L59.0 308.2L59.6 307.5L60.1 307.9L60.7 307.5L61.3 308.1L61.8 307.6L62.4 308.1L63.0 307.0L63.5 307.3L64.1 307.2L64.6 307.1L65.2 307.8L65.8 306.7L66.3 305.9L66.9 308.0L67.5 308.0L68.0 307.7L68.6 306.3L69.1 306.6L69.7 306.0L70.3 306.1L70.8 306.3L71.4 306.2L72.0 306.3L72.5 305.6L73.1 306.7L73.6 306.2L74.2 305.7L74.8 304.7L75.3 306.1L75.9 306.2L76.5 305.8L77.0 304.8L77.6 305.4L78.2 304.4L78.7 306.2L79.3 304.3L79.8 304.3L80.4 305.6L81.0 304.6L81.5 303.9L82.1 304.5L82.7 303.9L83.2 303.0L83.8 304.2L84.3 304.4L84.9 304.6L85.5 303.7L86.0 304.1L86.6 304.0L87.2 303.9L87.7 303.4L88.3 304.3L88.8 304.5L89.4 304.9L90.0 302.8L90.5 303.3L91.1 302.4L91.7 303.2L92.2 303.5L92.8 302.7L93.3 302.9L93.9 303.5L94.5 303.2L95.0 301.5L95.6 302.2L96.2 302.1L96.7 302.4L97.3 302.5L97.9 301.5L98.4 302.0L99.0 302.2L99.5 301.6L100.1 301.8L100.7 300.9L101.2 300.0L101.8 300.8L102.4 299.2L102.9 300.1L103.5 299.3L104.0 299.6L104.6 298.9L105.2 298.5L105.7 298.4L106.3 298.2L106.9 297.4L107.4 296.3L108.0 295.1L108.5 292.5L109.1 290.3L109.7 288.1L110.2 286.4L110.8 283.5L111.4 282.8L111.9 281.3L112.5 277.7L113.0 276.6L113.6 272.2L114.2 269.8L114.7 265.4L115.3 263.1L115.9 257.8L116.4 254.7L117.0 251.5L117.5 246.2L118.1 242.6L118.7 238.2L119.2 232.9L119.8 226.3L120.4 220.3L120.9 214.3L121.5 209.8L122.1 207.8L122.6 206.9L123.2 208.2L123.7 212.0L124.3 215.8L124.9 220.3L125.4 224.7L126.0 229.2L126.6 235.2L127.1 239.0L127.7 243.7L128.2 246.2L128.8 251.2L129.4 254.5L129.9 258.7L130.5 261.7L131.1 264.0L131.6 267.0L132.2 269.0L132.7 272.2L133.3 272.8L133.9 275.6L134.4 275.9L135.0 278.9L135.6 280.0L136.1 283.3L136.7 284.1L137.2 286.6L137.8 287.9L138.4 288.9L138.9 290.3L139.5 291.0L140.1 291.7L140.6 292.8L141.2 294.3L141.8 296.0L142.3 296.8L142.9 297.4L143.4 299.4L144.0 298.4L144.6 299.5L145.1 300.0L145.7 299.8L146.3 300.4L146.8 301.1L147.4 302.3L147.9 302.0L148.5 302.4L149.1 303.6L149.6 303.0L150.2 303.7L150.8 305.6L151.3 304.9L151.9 306.2L152.4 305.2L153.0 305.7L153.6 307.1L154.1 307.2L154.7 306.8L155.3 307.1L155.8 306.2L156.4 306.8L156.9 307.6L157.5 307.2L158.1 308.9L158.6 307.7L159.2 307.4L159.8 308.1L160.3 308.3L160.9 307.5L161.4 306.4L162.0 306.6L162.6 305.8L163.1 302.1L163.7 302.1" fill="none" stroke="#2b2b2b" stroke-width="1.7" stroke-linejoin="round" stroke-linecap="round"/>
<rect x="56.20" y="202.30" width="5.30" height="5.20" fill="#3a3a3a" stroke="none" stroke-width="1"/>
<text x="64.4" y="206.6" font-size="5.1" text-anchor="start" font-weight="normal" fill="#000" stroke="#000" stroke-width="0.1">wild-type</text>
<rect x="56.20" y="210.00" width="5.30" height="5.20" fill="#8a8a8a" stroke="none" stroke-width="1"/>
<text x="64.4" y="214.3" font-size="5.1" text-anchor="start" font-weight="normal" fill="#000" stroke="#000" stroke-width="0.1">Stat5<tspan font-size="3.2" dy="-1.6"> -/-</tspan></text>
<rect x="214.40" y="200.80" width="114.40" height="112.80" fill="#fff" stroke="none" stroke-width="1"/>
<line x1="214.40" y1="294.80" x2="328.80" y2="294.80" stroke="#cdcdcd" stroke-width="0.8"/>
<line x1="214.40" y1="276.00" x2="328.80" y2="276.00" stroke="#cdcdcd" stroke-width="0.8"/>
<line x1="214.40" y1="257.20" x2="328.80" y2="257.20" stroke="#cdcdcd" stroke-width="0.8"/>
<line x1="214.40" y1="238.40" x2="328.80" y2="238.40" stroke="#cdcdcd" stroke-width="0.8"/>
<line x1="214.40" y1="219.60" x2="328.80" y2="219.60" stroke="#cdcdcd" stroke-width="0.8"/>
<rect x="214.40" y="200.80" width="114.40" height="112.80" fill="none" stroke="#8c8c8c" stroke-width="0.9"/>
<line x1="214.40" y1="200.80" x2="214.40" y2="313.60" stroke="#666" stroke-width="1"/>
<line x1="212.40" y1="313.60" x2="328.80" y2="313.60" stroke="#555" stroke-width="1.1"/>
<text x="212.2" y="315.6" font-size="8.0" text-anchor="end" font-weight="normal" fill="#000" stroke="#000" stroke-width="0.18" letter-spacing="-0.25">0</text>
<line x1="212.40" y1="313.60" x2="214.40" y2="313.60" stroke="#666" stroke-width="0.7"/>
<text x="212.2" y="296.8" font-size="8.0" text-anchor="end" font-weight="normal" fill="#000" stroke="#000" stroke-width="0.18" letter-spacing="-0.25">100</text>
<line x1="212.40" y1="294.80" x2="214.40" y2="294.80" stroke="#666" stroke-width="0.7"/>
<text x="212.2" y="278.0" font-size="8.0" text-anchor="end" font-weight="normal" fill="#000" stroke="#000" stroke-width="0.18" letter-spacing="-0.25">200</text>
<line x1="212.40" y1="276.00" x2="214.40" y2="276.00" stroke="#666" stroke-width="0.7"/>
<text x="212.2" y="259.20000000000005" font-size="8.0" text-anchor="end" font-weight="normal" fill="#000" stroke="#000" stroke-width="0.18" letter-spacing="-0.25">300</text>
<line x1="212.40" y1="257.20" x2="214.40" y2="257.20" stroke="#666" stroke-width="0.7"/>
<text x="212.2" y="240.4" font-size="8.0" text-anchor="end" font-weight="normal" fill="#000" stroke="#000" stroke-width="0.18" letter-spacing="-0.25">400</text>
<line x1="212.40" y1="238.40" x2="214.40" y2="238.40" stroke="#666" stroke-width="0.7"/>
<text x="212.2" y="221.60000000000002" font-size="8.0" text-anchor="end" font-weight="normal" fill="#000" stroke="#000" stroke-width="0.18" letter-spacing="-0.25">500</text>
<line x1="212.40" y1="219.60" x2="214.40" y2="219.60" stroke="#666" stroke-width="0.7"/>
<text x="212.2" y="202.8" font-size="8.0" text-anchor="end" font-weight="normal" fill="#000" stroke="#000" stroke-width="0.18" letter-spacing="-0.25">600</text>
<line x1="212.40" y1="200.80" x2="214.40" y2="200.80" stroke="#666" stroke-width="0.7"/>
<rect x="243.90" y="229.60" width="22.40" height="84.00" fill="#fff" stroke="#000" stroke-width="1.2"/>
<line x1="255.40" y1="213.30" x2="255.40" y2="244.60" stroke="#000" stroke-width="0.9"/>
<line x1="253.20" y1="213.30" x2="257.60" y2="213.30" stroke="#000" stroke-width="0.9"/>
<line x1="253.20" y1="244.60" x2="257.60" y2="244.60" stroke="#000" stroke-width="0.9"/>
<rect x="276.00" y="276.00" width="23.00" height="37.60" fill="#828282" stroke="none" stroke-width="1"/>
<line x1="287.50" y1="272.30" x2="287.50" y2="279.40" stroke="#000" stroke-width="0.9"/>
<line x1="285.30" y1="272.30" x2="289.70" y2="272.30" stroke="#000" stroke-width="0.9"/>
<line x1="285.30" y1="279.40" x2="289.70" y2="279.40" stroke="#000" stroke-width="0.9"/>
<text x="272.6" y="192.5" font-size="9.35" text-anchor="middle" font-weight="normal" fill="#000" stroke="#000" stroke-width="0.18">TfR-1 Cell Surface Expression</text>
<text x="197.7" y="251.6" font-size="8.6" text-anchor="middle" font-weight="normal" fill="#000" stroke="#000" stroke-width="0.18" transform="rotate(-90 197.7 251.6)">TfR-1 mean fluorescence intensity</text>
<rect x="289.40" y="202.70" width="38.60" height="17.40" fill="#fff" stroke="none" stroke-width="1"/>
<rect x="290.60" y="204.20" width="5.20" height="5.20" fill="#fff" stroke="#a8a8a8" stroke-width="0.7"/>
<text x="298.09999999999997" y="209" font-size="7.2" text-anchor="start" font-weight="normal" fill="#000" stroke="#000" stroke-width="0.18">wild-type</text>
<rect x="290.60" y="213.30" width="5.20" height="5.20" fill="#808080" stroke="#777" stroke-width="0.4"/>
<text x="298.09999999999997" y="218" font-size="7.2" text-anchor="start" font-weight="normal" fill="#000" stroke="#000" stroke-width="0.18">Stat5<tspan font-size="55%" dy="-0.7em">-/-</tspan></text>
<path d="M255.4 213.3V205.6H286.9V268.8" fill="none" stroke="#111" stroke-width="1.25"/>
<text x="269.2" y="205.7" font-size="4.6" text-anchor="middle" font-weight="normal" fill="#222" stroke="#222" stroke-width="0.15">*</text>
<text x="273.1" y="205.7" font-size="4.6" text-anchor="middle" font-weight="normal" fill="#222" stroke="#222" stroke-width="0.15">*</text>
<rect x="367.90" y="201.90" width="117.50" height="113.20" fill="#fff" stroke="none" stroke-width="1"/>
<line x1="367.90" y1="292.46" x2="485.40" y2="292.46" stroke="#dcdcdc" stroke-width="0.8"/>
<line x1="367.90" y1="269.82" x2="485.40" y2="269.82" stroke="#dcdcdc" stroke-width="0.8"/>
<line x1="367.90" y1="247.18" x2="485.40" y2="247.18" stroke="#dcdcdc" stroke-width="0.8"/>
<line x1="367.90" y1="224.54" x2="485.40" y2="224.54" stroke="#dcdcdc" stroke-width="0.8"/>
<rect x="367.90" y="201.90" width="117.50" height="113.20" fill="none" stroke="#8c8c8c" stroke-width="0.9"/>
<line x1="367.90" y1="201.90" x2="367.90" y2="315.10" stroke="#666" stroke-width="1"/>
<line x1="365.90" y1="315.10" x2="485.40" y2="315.10" stroke="#555" stroke-width="1.1"/>
<text x="365.8" y="316.8" font-size="7.4" text-anchor="end" font-weight="normal" fill="#000" stroke="#000" stroke-width="0.18" letter-spacing="-0.25">0</text>
<line x1="365.90" y1="315.10" x2="367.90" y2="315.10" stroke="#666" stroke-width="0.7"/>
<text x="365.8" y="294.16" font-size="7.4" text-anchor="end" font-weight="normal" fill="#000" stroke="#000" stroke-width="0.18" letter-spacing="-0.25">0,2</text>
<line x1="365.90" y1="292.46" x2="367.90" y2="292.46" stroke="#666" stroke-width="0.7"/>
<text x="365.8" y="271.52" font-size="7.4" text-anchor="end" font-weight="normal" fill="#000" stroke="#000" stroke-width="0.18" letter-spacing="-0.25">0,4</text>
<line x1="365.90" y1="269.82" x2="367.90" y2="269.82" stroke="#666" stroke-width="0.7"/>
<text x="365.8" y="248.88" font-size="7.4" text-anchor="end" font-weight="normal" fill="#000" stroke="#000" stroke-width="0.18" letter-spacing="-0.25">0,6</text>
<line x1="365.90" y1="247.18" x2="367.90" y2="247.18" stroke="#666" stroke-width="0.7"/>
<text x="365.8" y="226.24" font-size="7.4" text-anchor="end" font-weight="normal" fill="#000" stroke="#000" stroke-width="0.18" letter-spacing="-0.25">0,8</text>
<line x1="365.90" y1="224.54" x2="367.90" y2="224.54" stroke="#666" stroke-width="0.7"/>
<text x="365.8" y="203.6" font-size="7.4" text-anchor="end" font-weight="normal" fill="#000" stroke="#000" stroke-width="0.18" letter-spacing="-0.25">1</text>
<line x1="365.90" y1="201.90" x2="367.90" y2="201.90" stroke="#666" stroke-width="0.7"/>
<rect x="395.00" y="221.74" width="24.80" height="93.36" fill="#fff" stroke="#000" stroke-width="1.2"/>
<line x1="407.30" y1="218.50" x2="407.30" y2="224.40" stroke="#000" stroke-width="0.9"/>
<line x1="405.10" y1="218.50" x2="409.50" y2="218.50" stroke="#000" stroke-width="0.9"/>
<line x1="405.10" y1="224.40" x2="409.50" y2="224.40" stroke="#000" stroke-width="0.9"/>
<rect x="433.10" y="261.67" width="25.40" height="53.43" fill="#828282" stroke="none" stroke-width="1"/>
<line x1="445.60" y1="256.20" x2="445.60" y2="265.60" stroke="#000" stroke-width="0.9"/>
<line x1="443.40" y1="256.20" x2="447.80" y2="256.20" stroke="#000" stroke-width="0.9"/>
<line x1="443.40" y1="265.60" x2="447.80" y2="265.60" stroke="#000" stroke-width="0.9"/>
<text x="428.4" y="195.4" font-size="9.4" text-anchor="middle" font-weight="normal" fill="#000" stroke="#000" stroke-width="0.18">TfR-1 mRNA</text>
<text x="353.5" y="256" font-size="8.6" text-anchor="middle" font-weight="normal" fill="#000" stroke="#000" stroke-width="0.18" transform="rotate(-90 353.5 256)">relative expression</text>
<rect x="444.00" y="203.00" width="40.60" height="17.00" fill="#fff" stroke="none" stroke-width="1"/>
<rect x="445.20" y="204.20" width="5.20" height="5.20" fill="#fff" stroke="#a8a8a8" stroke-width="0.7"/>
<text x="452.7" y="209" font-size="7.2" text-anchor="start" font-weight="normal" fill="#000" stroke="#000" stroke-width="0.18">wild-type</text>
<rect x="445.20" y="213.10" width="5.20" height="5.20" fill="#808080" stroke="#777" stroke-width="0.4"/>
<text x="452.7" y="217.7" font-size="7.2" text-anchor="start" font-weight="normal" fill="#000" stroke="#000" stroke-width="0.18">Stat5<tspan font-size="55%" dy="-0.7em">-/-</tspan></text>
<rect x="373.10" y="374.40" width="116.10" height="113.50" fill="#fff" stroke="none" stroke-width="1"/>
<line x1="373.10" y1="468.98" x2="489.20" y2="468.98" stroke="#dedede" stroke-width="0.8"/>
<line x1="373.10" y1="450.07" x2="489.20" y2="450.07" stroke="#dedede" stroke-width="0.8"/>
<line x1="373.10" y1="431.15" x2="489.20" y2="431.15" stroke="#dedede" stroke-width="0.8"/>
<line x1="373.10" y1="412.23" x2="489.20" y2="412.23" stroke="#dedede" stroke-width="0.8"/>
<line x1="373.10" y1="393.32" x2="489.20" y2="393.32" stroke="#dedede" stroke-width="0.8"/>
<rect x="373.10" y="374.40" width="116.10" height="113.50" fill="none" stroke="#8c8c8c" stroke-width="0.9"/>
<line x1="373.10" y1="374.40" x2="373.10" y2="487.90" stroke="#666" stroke-width="1"/>
<line x1="371.10" y1="487.90" x2="489.20" y2="487.90" stroke="#555" stroke-width="1.1"/>
<text x="370.8" y="489.59999999999997" font-size="7.4" text-anchor="end" font-weight="normal" fill="#000" stroke="#000" stroke-width="0.18" letter-spacing="-0.25">0</text>
<line x1="371.10" y1="487.90" x2="373.10" y2="487.90" stroke="#666" stroke-width="0.7"/>
<text x="370.8" y="451.7666666666666" font-size="7.4" text-anchor="end" font-weight="normal" fill="#000" stroke="#000" stroke-width="0.18" letter-spacing="-0.25">0,4</text>
<line x1="371.10" y1="450.07" x2="373.10" y2="450.07" stroke="#666" stroke-width="0.7"/>
<text x="370.8" y="413.9333333333333" font-size="7.4" text-anchor="end" font-weight="normal" fill="#000" stroke="#000" stroke-width="0.18" letter-spacing="-0.25">0,8</text>
<line x1="371.10" y1="412.23" x2="373.10" y2="412.23" stroke="#666" stroke-width="0.7"/>
<text x="370.8" y="376.09999999999997" font-size="7.4" text-anchor="end" font-weight="normal" fill="#000" stroke="#000" stroke-width="0.18" letter-spacing="-0.25">1,2</text>
<line x1="371.10" y1="374.40" x2="373.10" y2="374.40" stroke="#666" stroke-width="0.7"/>
<rect x="402.10" y="395.43" width="22.80" height="92.47" fill="#fff" stroke="#000" stroke-width="1.2"/>
<line x1="413.70" y1="384.80" x2="413.70" y2="405.00" stroke="#000" stroke-width="0.9"/>
<line x1="411.50" y1="384.80" x2="415.90" y2="384.80" stroke="#000" stroke-width="0.9"/>
<line x1="411.50" y1="405.00" x2="415.90" y2="405.00" stroke="#000" stroke-width="0.9"/>
<rect x="437.20" y="448.17" width="23.20" height="39.73" fill="#6b6b6b" stroke="none" stroke-width="1"/>
<line x1="448.50" y1="440.80" x2="448.50" y2="454.60" stroke="#000" stroke-width="0.9"/>
<line x1="446.30" y1="440.80" x2="450.70" y2="440.80" stroke="#000" stroke-width="0.9"/>
<line x1="446.30" y1="454.60" x2="450.70" y2="454.60" stroke="#000" stroke-width="0.9"/>
<text x="436.4" y="370.8" font-size="9.2" text-anchor="middle" font-weight="normal" fill="#000" stroke="#000" stroke-width="0.18">TfR-1 protein</text>
<text x="358.7" y="427.2" font-size="8.6" text-anchor="middle" font-weight="normal" fill="#000" stroke="#000" stroke-width="0.18" transform="rotate(-90 358.7 427.2)">relative expression</text>
<rect x="451.20" y="375.60" width="37.60" height="17.30" fill="#fff" stroke="none" stroke-width="1"/>
<rect x="452.40" y="377.50" width="5.20" height="5.20" fill="#fff" stroke="#a8a8a8" stroke-width="0.7"/>
<text x="459.9" y="382.7" font-size="7.2" text-anchor="start" font-weight="normal" fill="#000" stroke="#000" stroke-width="0.18">wild-type</text>
<rect x="452.40" y="386.30" width="5.20" height="5.20" fill="#808080" stroke="#777" stroke-width="0.4"/>
<text x="459.9" y="391" font-size="7.2" text-anchor="start" font-weight="normal" fill="#000" stroke="#000" stroke-width="0.18">Stat5<tspan font-size="55%" dy="-0.7em">-/-</tspan></text>
<path d="M413.7 384.8V379.4H448.5V438.8" fill="none" stroke="#111" stroke-width="1.25"/>
<text x="428.7" y="380.3" font-size="4.6" text-anchor="middle" font-weight="normal" fill="#222" stroke="#222" stroke-width="0.15">*</text>
<text x="432.1" y="380.3" font-size="4.6" text-anchor="middle" font-weight="normal" fill="#222" stroke="#222" stroke-width="0.15">*</text>
<rect x="224.20" y="528.80" width="123.30" height="114.20" fill="#fff" stroke="none" stroke-width="1"/>
<line x1="224.20" y1="620.16" x2="347.50" y2="620.16" stroke="#cdcdcd" stroke-width="0.8"/>
<line x1="224.20" y1="597.32" x2="347.50" y2="597.32" stroke="#cdcdcd" stroke-width="0.8"/>
<line x1="224.20" y1="574.48" x2="347.50" y2="574.48" stroke="#cdcdcd" stroke-width="0.8"/>
<line x1="224.20" y1="551.64" x2="347.50" y2="551.64" stroke="#cdcdcd" stroke-width="0.8"/>
<rect x="224.20" y="528.80" width="123.30" height="114.20" fill="none" stroke="#8c8c8c" stroke-width="0.9"/>
<line x1="224.20" y1="528.80" x2="224.20" y2="643.00" stroke="#666" stroke-width="1"/>
<line x1="222.20" y1="643.00" x2="347.50" y2="643.00" stroke="#555" stroke-width="1.1"/>
<text x="221.8" y="644.7" font-size="7.4" text-anchor="end" font-weight="normal" fill="#000" stroke="#000" stroke-width="0.18" letter-spacing="-0.25">0</text>
<line x1="222.20" y1="643.00" x2="224.20" y2="643.00" stroke="#666" stroke-width="0.7"/>
<text x="221.8" y="621.86" font-size="7.4" text-anchor="end" font-weight="normal" fill="#000" stroke="#000" stroke-width="0.18" letter-spacing="-0.25">0,5</text>
<line x1="222.20" y1="620.16" x2="224.20" y2="620.16" stroke="#666" stroke-width="0.7"/>
<text x="221.8" y="599.02" font-size="7.4" text-anchor="end" font-weight="normal" fill="#000" stroke="#000" stroke-width="0.18" letter-spacing="-0.25">1</text>
<line x1="222.20" y1="597.32" x2="224.20" y2="597.32" stroke="#666" stroke-width="0.7"/>
<text x="221.8" y="576.1800000000001" font-size="7.4" text-anchor="end" font-weight="normal" fill="#000" stroke="#000" stroke-width="0.18" letter-spacing="-0.25">1,5</text>
<line x1="222.20" y1="574.48" x2="224.20" y2="574.48" stroke="#666" stroke-width="0.7"/>
<text x="221.8" y="553.34" font-size="7.4" text-anchor="end" font-weight="normal" fill="#000" stroke="#000" stroke-width="0.18" letter-spacing="-0.25">2</text>
<line x1="222.20" y1="551.64" x2="224.20" y2="551.64" stroke="#666" stroke-width="0.7"/>
<text x="221.8" y="530.5" font-size="7.4" text-anchor="end" font-weight="normal" fill="#000" stroke="#000" stroke-width="0.18" letter-spacing="-0.25">2,5</text>
<line x1="222.20" y1="528.80" x2="224.20" y2="528.80" stroke="#666" stroke-width="0.7"/>
<rect x="254.90" y="597.92" width="24.50" height="45.08" fill="#fff" stroke="#000" stroke-width="1.2"/>
<line x1="267.40" y1="595.00" x2="267.40" y2="600.40" stroke="#000" stroke-width="0.9"/>
<line x1="266.30" y1="595.00" x2="268.50" y2="595.00" stroke="#000" stroke-width="0.9"/>
<line x1="266.30" y1="600.40" x2="268.50" y2="600.40" stroke="#000" stroke-width="0.9"/>
<rect x="292.20" y="554.84" width="24.20" height="88.16" fill="#6e6e6e" stroke="none" stroke-width="1"/>
<line x1="304.20" y1="534.60" x2="304.20" y2="573.00" stroke="#000" stroke-width="0.9"/>
<line x1="303.10" y1="534.60" x2="305.30" y2="534.60" stroke="#000" stroke-width="0.9"/>
<line x1="303.10" y1="573.00" x2="305.30" y2="573.00" stroke="#000" stroke-width="0.9"/>
<text x="287.8" y="524.6" font-size="9.1" text-anchor="middle" font-weight="normal" fill="#000" stroke="#000" stroke-width="0.18">wild-type</text>
<text x="209.8" y="583.8" font-size="8.6" text-anchor="middle" font-weight="normal" fill="#000" stroke="#000" stroke-width="0.18" transform="rotate(-90 209.8 583.8)">relative expression</text>
<rect x="225.20" y="533.00" width="38.80" height="16.60" fill="#fff" stroke="none" stroke-width="1"/>
<rect x="226.40" y="534.20" width="5.20" height="5.20" fill="#fff" stroke="#a8a8a8" stroke-width="0.7"/>
<text x="233.89999999999998" y="539" font-size="7.1" text-anchor="start" font-weight="normal" fill="#000" stroke="#000" stroke-width="0.18">starved</text>
<rect x="226.40" y="543.00" width="5.20" height="5.20" fill="#858585" stroke="#777" stroke-width="0.4"/>
<text x="233.89999999999998" y="548" font-size="7.1" text-anchor="start" font-weight="normal" fill="#000" stroke="#000" stroke-width="0.18">10 U Epo</text>
<path d="M267.4 595.5V533.7H304.2V573" fill="none" stroke="#111" stroke-width="1.05"/>
<circle cx="267.4" cy="595" r="1" fill="#111"/><circle cx="304.2" cy="535" r="1" fill="#111"/>
<text x="285" y="534.0" font-size="4.6" text-anchor="middle" font-weight="normal" fill="#222" stroke="#222" stroke-width="0.15">*</text>
<text x="284.8" y="654.5" font-size="8.95" text-anchor="middle" font-weight="normal" fill="#000" stroke="#000" stroke-width="0.18">TfR-1 mRNA</text>
<rect x="391.00" y="527.90" width="127.50" height="114.20" fill="#fff" stroke="none" stroke-width="1"/>
<line x1="391.00" y1="630.68" x2="518.50" y2="630.68" stroke="#c2c2c2" stroke-width="0.8"/>
<line x1="391.00" y1="619.26" x2="518.50" y2="619.26" stroke="#c2c2c2" stroke-width="0.8"/>
<line x1="391.00" y1="607.84" x2="518.50" y2="607.84" stroke="#c2c2c2" stroke-width="0.8"/>
<line x1="391.00" y1="596.42" x2="518.50" y2="596.42" stroke="#c2c2c2" stroke-width="0.8"/>
<line x1="391.00" y1="585.00" x2="518.50" y2="585.00" stroke="#c2c2c2" stroke-width="0.8"/>
<line x1="391.00" y1="573.58" x2="518.50" y2="573.58" stroke="#c2c2c2" stroke-width="0.8"/>
<line x1="391.00" y1="562.16" x2="518.50" y2="562.16" stroke="#c2c2c2" stroke-width="0.8"/>
<line x1="391.00" y1="550.74" x2="518.50" y2="550.74" stroke="#c2c2c2" stroke-width="0.8"/>
<line x1="391.00" y1="539.32" x2="518.50" y2="539.32" stroke="#c2c2c2" stroke-width="0.8"/>
<rect x="391.00" y="527.90" width="127.50" height="114.20" fill="none" stroke="#8c8c8c" stroke-width="0.9"/>
<line x1="391.00" y1="527.90" x2="391.00" y2="642.10" stroke="#666" stroke-width="1"/>
<line x1="389.00" y1="642.10" x2="518.50" y2="642.10" stroke="#555" stroke-width="1.1"/>
<text x="389.6" y="643.8000000000001" font-size="7.4" text-anchor="end" font-weight="normal" fill="#000" stroke="#000" stroke-width="0.18" letter-spacing="-0.25">0</text>
<line x1="389.00" y1="642.10" x2="391.00" y2="642.10" stroke="#666" stroke-width="0.7"/>
<text x="389.6" y="620.96" font-size="7.4" text-anchor="end" font-weight="normal" fill="#000" stroke="#000" stroke-width="0.18" letter-spacing="-0.25">20</text>
<line x1="389.00" y1="619.26" x2="391.00" y2="619.26" stroke="#666" stroke-width="0.7"/>
<text x="389.6" y="598.12" font-size="7.4" text-anchor="end" font-weight="normal" fill="#000" stroke="#000" stroke-width="0.18" letter-spacing="-0.25">40</text>
<line x1="389.00" y1="596.42" x2="391.00" y2="596.42" stroke="#666" stroke-width="0.7"/>
<text x="389.6" y="575.2800000000001" font-size="7.4" text-anchor="end" font-weight="normal" fill="#000" stroke="#000" stroke-width="0.18" letter-spacing="-0.25">60</text>
<line x1="389.00" y1="573.58" x2="391.00" y2="573.58" stroke="#666" stroke-width="0.7"/>
<text x="389.6" y="552.44" font-size="7.4" text-anchor="end" font-weight="normal" fill="#000" stroke="#000" stroke-width="0.18" letter-spacing="-0.25">80</text>
<line x1="389.00" y1="550.74" x2="391.00" y2="550.74" stroke="#666" stroke-width="0.7"/>
<text x="389.6" y="529.6" font-size="7.4" text-anchor="end" font-weight="normal" fill="#000" stroke="#000" stroke-width="0.18" letter-spacing="-0.25">100</text>
<line x1="389.00" y1="527.90" x2="391.00" y2="527.90" stroke="#666" stroke-width="0.7"/>
<rect x="424.90" y="561.39" width="23.30" height="80.71" fill="#fff" stroke="#000" stroke-width="1.2"/>
<line x1="436.70" y1="549.00" x2="436.70" y2="572.10" stroke="#000" stroke-width="0.9"/>
<line x1="434.50" y1="549.00" x2="438.90" y2="549.00" stroke="#000" stroke-width="0.9"/>
<line x1="434.50" y1="572.10" x2="438.90" y2="572.10" stroke="#000" stroke-width="0.9"/>
<rect x="459.80" y="590.82" width="22.70" height="51.28" fill="#828282" stroke="none" stroke-width="1"/>
<line x1="470.40" y1="586.90" x2="470.40" y2="593.70" stroke="#000" stroke-width="0.9"/>
<line x1="468.20" y1="586.90" x2="472.60" y2="586.90" stroke="#000" stroke-width="0.9"/>
<line x1="468.20" y1="593.70" x2="472.60" y2="593.70" stroke="#000" stroke-width="0.9"/>
<text x="458.7" y="523.1" font-size="8.95" text-anchor="middle" font-weight="normal" fill="#000" stroke="#000" stroke-width="0.18">Iron Concentration</text>
<text x="376.9" y="578.5" font-size="8.4" text-anchor="middle" font-weight="normal" fill="#000" stroke="#000" stroke-width="0.18" transform="rotate(-90 376.9 578.5)">[µg/L]/10<tspan font-size="4.8" dy="-3">6</tspan><tspan dy="3"> cells</tspan></text>
<rect x="477.70" y="529.80" width="38.00" height="17.30" fill="#fff" stroke="none" stroke-width="1"/>
<rect x="478.90" y="531.70" width="5.20" height="5.20" fill="#fff" stroke="#a8a8a8" stroke-width="0.7"/>
<text x="486.4" y="536.5" font-size="7.2" text-anchor="start" font-weight="normal" fill="#000" stroke="#000" stroke-width="0.18">wild-type</text>
<rect x="478.90" y="540.40" width="5.20" height="5.20" fill="#808080" stroke="#777" stroke-width="0.4"/>
<text x="486.4" y="545.2" font-size="7.2" text-anchor="start" font-weight="normal" fill="#000" stroke="#000" stroke-width="0.18">Stat5<tspan font-size="55%" dy="-0.7em">-/-</tspan></text>
<path d="M436.7 549V543.2Q436.7 541.9 438 541.9H469.1Q470.4 541.9 470.4 543.2V586.5" fill="none" stroke="#111" stroke-width="1.25"/>
<circle cx="451.7" cy="536" r=".85" fill="#111"/><circle cx="456.5" cy="536" r=".85" fill="#111"/>
<filter id="b1" x="-20%" y="-80%" width="140%" height="260%"><feGaussianBlur stdDeviation="0.7"/></filter>
<filter id="b09" x="-20%" y="-80%" width="140%" height="260%"><feGaussianBlur stdDeviation="0.8"/></filter>
<filter id="b15" x="-20%" y="-80%" width="140%" height="260%"><feGaussianBlur stdDeviation="1.1"/></filter>
<rect x="46.40" y="387.50" width="248.00" height="28.90" fill="#f4f4f4" stroke="none" stroke-width="1"/>
<g filter="url(#b1)">
<rect x="54.10" y="403.40" width="21.60" height="2.50" fill="#0c0c0c" stroke="none" stroke-width="1" rx="1.2"/>
<ellipse cx="65.4" cy="404.9" rx="8.1" ry="2.0" fill="#0c0c0c" opacity="1"/>
<rect x="79.20" y="403.40" width="22.00" height="2.50" fill="#0c0c0c" stroke="none" stroke-width="1" rx="1.2"/>
<ellipse cx="90.7" cy="404.9" rx="8.25" ry="2.0" fill="#0c0c0c" opacity="1"/>
<rect x="103.90" y="403.40" width="20.20" height="2.50" fill="#0c0c0c" stroke="none" stroke-width="1" rx="1.2"/>
<ellipse cx="114.5" cy="404.9" rx="7.574999999999999" ry="2.0" fill="#0c0c0c" opacity="1"/>
<rect x="127.70" y="403.40" width="22.80" height="2.50" fill="#0c0c0c" stroke="none" stroke-width="1" rx="1.2"/>
<ellipse cx="139.6" cy="404.9" rx="8.55" ry="2.0" fill="#0c0c0c" opacity="1"/>
<rect x="155.20" y="403.40" width="20.00" height="2.50" fill="#0c0c0c" stroke="none" stroke-width="1" rx="1.2"/>
<ellipse cx="165.7" cy="404.9" rx="7.5" ry="2.0" fill="#0c0c0c" opacity="1"/>
<rect x="177.20" y="403.40" width="18.40" height="2.50" fill="#0c0c0c" stroke="none" stroke-width="1" rx="1.2"/>
<ellipse cx="186.9" cy="404.9" rx="6.8999999999999995" ry="2.0" fill="#0c0c0c" opacity="1"/>
<rect x="199.50" y="403.20" width="21.00" height="2.00" fill="#505050" stroke="none" stroke-width="1" rx="1"/>
<ellipse cx="211.5" cy="404.4" rx="6.3" ry="1.5" fill="#333" opacity="1"/>
<rect x="224.20" y="403.20" width="17.60" height="2.00" fill="#505050" stroke="none" stroke-width="1" rx="1"/>
<ellipse cx="234.5" cy="404.4" rx="5.279999999999999" ry="1.5" fill="#333" opacity="1"/>
<rect x="246.30" y="403.20" width="17.40" height="2.00" fill="#505050" stroke="none" stroke-width="1" rx="1"/>
<ellipse cx="256.5" cy="404.4" rx="5.22" ry="1.5" fill="#333" opacity="1"/>
<rect x="269.30" y="403.20" width="17.40" height="2.00" fill="#505050" stroke="none" stroke-width="1" rx="1"/>
<ellipse cx="279.5" cy="404.4" rx="5.22" ry="1.5" fill="#333" opacity="1"/>
</g>
<rect x="46.40" y="387.50" width="248.00" height="28.90" fill="none" stroke="#1a1a1a" stroke-width="1.1"/>
<rect x="46.40" y="423.20" width="248.00" height="28.70" fill="#ededed" stroke="none" stroke-width="1"/>
<g filter="url(#b15)">
<rect x="50.00" y="426.00" width="122.00" height="22.00" fill="#c8c8c8" stroke="none" stroke-width="1" opacity=".4"/>
<rect x="55.20" y="432.00" width="19.40" height="8.60" fill="#666" stroke="none" stroke-width="1" rx="2" opacity=".5"/>
<rect x="80.30" y="432.00" width="19.80" height="8.60" fill="#666" stroke="none" stroke-width="1" rx="2" opacity=".5"/>
<rect x="105.00" y="432.00" width="18.00" height="8.60" fill="#666" stroke="none" stroke-width="1" rx="2" opacity=".5"/>
<rect x="128.80" y="432.00" width="20.60" height="8.60" fill="#666" stroke="none" stroke-width="1" rx="2" opacity=".5"/>
<rect x="156.30" y="432.00" width="17.80" height="8.60" fill="#666" stroke="none" stroke-width="1" rx="2" opacity=".5"/>
<rect x="178.30" y="432.00" width="16.20" height="8.60" fill="#666" stroke="none" stroke-width="1" rx="2" opacity=".5"/>
</g><g filter="url(#b09)">
<rect x="55.00" y="433.30" width="19.80" height="2.50" fill="#1e1e1e" stroke="none" stroke-width="1" rx="1.1"/>
<rect x="55.00" y="437.60" width="19.80" height="2.40" fill="#2a2a2a" stroke="none" stroke-width="1" rx="1.1"/>
<rect x="80.10" y="433.30" width="20.20" height="2.50" fill="#1e1e1e" stroke="none" stroke-width="1" rx="1.1"/>
<rect x="80.10" y="437.60" width="20.20" height="2.40" fill="#2a2a2a" stroke="none" stroke-width="1" rx="1.1"/>
<rect x="104.80" y="433.30" width="18.40" height="2.50" fill="#1e1e1e" stroke="none" stroke-width="1" rx="1.1"/>
<rect x="104.80" y="437.60" width="18.40" height="2.40" fill="#2a2a2a" stroke="none" stroke-width="1" rx="1.1"/>
<rect x="128.60" y="433.30" width="21.00" height="2.50" fill="#1e1e1e" stroke="none" stroke-width="1" rx="1.1"/>
<rect x="128.60" y="437.60" width="21.00" height="2.40" fill="#2a2a2a" stroke="none" stroke-width="1" rx="1.1"/>
<rect x="156.10" y="433.30" width="18.20" height="2.50" fill="#1e1e1e" stroke="none" stroke-width="1" rx="1.1"/>
<rect x="156.10" y="437.60" width="18.20" height="2.40" fill="#2a2a2a" stroke="none" stroke-width="1" rx="1.1"/>
<rect x="178.10" y="433.30" width="16.60" height="2.50" fill="#1e1e1e" stroke="none" stroke-width="1" rx="1.1"/>
<rect x="178.10" y="437.60" width="16.60" height="2.40" fill="#2a2a2a" stroke="none" stroke-width="1" rx="1.1"/>
</g><g filter="url(#b15)">
<rect x="63.00" y="432.80" width="11.50" height="7.60" fill="#000" stroke="none" stroke-width="1" rx="2.5" opacity=".95"/>
<rect x="205.00" y="427.20" width="12.00" height="2.40" fill="#999" stroke="none" stroke-width="1" rx="1" opacity=".38"/>
<rect x="206.00" y="441.00" width="10.00" height="2.40" fill="#aaa" stroke="none" stroke-width="1" rx="1" opacity=".22"/>
<rect x="228.00" y="427.20" width="12.00" height="2.40" fill="#999" stroke="none" stroke-width="1" rx="1" opacity=".38"/>
<rect x="229.00" y="441.00" width="10.00" height="2.40" fill="#aaa" stroke="none" stroke-width="1" rx="1" opacity=".22"/>
<rect x="250.00" y="427.20" width="12.00" height="2.40" fill="#999" stroke="none" stroke-width="1" rx="1" opacity=".38"/>
<rect x="251.00" y="441.00" width="10.00" height="2.40" fill="#aaa" stroke="none" stroke-width="1" rx="1" opacity=".22"/>
<rect x="273.00" y="427.20" width="12.00" height="2.40" fill="#999" stroke="none" stroke-width="1" rx="1" opacity=".38"/>
<rect x="274.00" y="441.00" width="10.00" height="2.40" fill="#aaa" stroke="none" stroke-width="1" rx="1" opacity=".22"/>
</g>
<line x1="66.30" y1="424.00" x2="66.30" y2="451.00" stroke="#777" stroke-width="0.5"/>
<line x1="69.30" y1="424.00" x2="69.30" y2="451.00" stroke="#aaa" stroke-width="0.4"/>
<rect x="46.40" y="423.20" width="248.00" height="28.70" fill="none" stroke="#1a1a1a" stroke-width="1.1"/>
<rect x="46.40" y="458.70" width="248.00" height="28.20" fill="#e6e6e6" stroke="none" stroke-width="1"/>
<g filter="url(#b1)">
<rect x="54.00" y="463.60" width="21.80" height="5.30" fill="#060606" stroke="none" stroke-width="1" rx="2.6"/>
<rect x="53.00" y="469.70" width="23.80" height="8.70" fill="#030303" stroke="none" stroke-width="1" rx="4.2"/>
<rect x="57.00" y="467.50" width="15.80" height="3.50" fill="#0c0c0c" stroke="none" stroke-width="1"/>
<rect x="79.10" y="463.60" width="22.20" height="5.30" fill="#060606" stroke="none" stroke-width="1" rx="2.6"/>
<rect x="78.10" y="469.70" width="24.20" height="8.70" fill="#030303" stroke="none" stroke-width="1" rx="4.2"/>
<rect x="82.10" y="467.50" width="16.20" height="3.50" fill="#0c0c0c" stroke="none" stroke-width="1"/>
<rect x="103.80" y="463.60" width="20.40" height="5.30" fill="#060606" stroke="none" stroke-width="1" rx="2.6"/>
<rect x="102.80" y="469.70" width="22.40" height="8.70" fill="#030303" stroke="none" stroke-width="1" rx="4.2"/>
<rect x="106.80" y="467.50" width="14.40" height="3.50" fill="#0c0c0c" stroke="none" stroke-width="1"/>
<rect x="127.60" y="463.60" width="23.00" height="5.30" fill="#060606" stroke="none" stroke-width="1" rx="2.6"/>
<rect x="126.60" y="469.70" width="25.00" height="8.70" fill="#030303" stroke="none" stroke-width="1" rx="4.2"/>
<rect x="130.60" y="467.50" width="17.00" height="3.50" fill="#0c0c0c" stroke="none" stroke-width="1"/>
<rect x="155.10" y="463.60" width="20.20" height="5.30" fill="#060606" stroke="none" stroke-width="1" rx="2.6"/>
<rect x="154.10" y="469.70" width="22.20" height="8.70" fill="#030303" stroke="none" stroke-width="1" rx="4.2"/>
<rect x="158.10" y="467.50" width="14.20" height="3.50" fill="#0c0c0c" stroke="none" stroke-width="1"/>
<rect x="177.10" y="463.60" width="18.60" height="5.30" fill="#060606" stroke="none" stroke-width="1" rx="2.6"/>
<rect x="176.10" y="469.70" width="20.60" height="8.70" fill="#030303" stroke="none" stroke-width="1" rx="4.2"/>
<rect x="180.10" y="467.50" width="12.60" height="3.50" fill="#0c0c0c" stroke="none" stroke-width="1"/>
<rect x="199.40" y="463.60" width="21.20" height="5.30" fill="#060606" stroke="none" stroke-width="1" rx="2.6"/>
<rect x="198.40" y="469.70" width="23.20" height="8.70" fill="#030303" stroke="none" stroke-width="1" rx="4.2"/>
<rect x="202.40" y="467.50" width="15.20" height="3.50" fill="#0c0c0c" stroke="none" stroke-width="1"/>
<rect x="224.10" y="463.60" width="17.80" height="5.30" fill="#060606" stroke="none" stroke-width="1" rx="2.6"/>
<rect x="223.10" y="469.70" width="19.80" height="8.70" fill="#030303" stroke="none" stroke-width="1" rx="4.2"/>
<rect x="227.10" y="467.50" width="11.80" height="3.50" fill="#0c0c0c" stroke="none" stroke-width="1"/>
<rect x="246.20" y="463.60" width="17.60" height="5.30" fill="#060606" stroke="none" stroke-width="1" rx="2.6"/>
<rect x="245.20" y="469.70" width="19.60" height="8.70" fill="#030303" stroke="none" stroke-width="1" rx="4.2"/>
<rect x="249.20" y="467.50" width="11.60" height="3.50" fill="#0c0c0c" stroke="none" stroke-width="1"/>
<rect x="269.20" y="463.60" width="17.60" height="5.30" fill="#060606" stroke="none" stroke-width="1" rx="2.6"/>
<rect x="268.20" y="469.70" width="19.60" height="8.70" fill="#030303" stroke="none" stroke-width="1" rx="4.2"/>
<rect x="272.20" y="467.50" width="11.60" height="3.50" fill="#0c0c0c" stroke="none" stroke-width="1"/>
<rect x="150.00" y="470.50" width="42.00" height="6.60" fill="#050505" stroke="none" stroke-width="1" rx="3"/>
<rect x="196.00" y="471.00" width="30.00" height="6.00" fill="#060606" stroke="none" stroke-width="1" rx="3"/>
</g>
<rect x="46.40" y="458.70" width="248.00" height="28.20" fill="none" stroke="#1a1a1a" stroke-width="1.1"/>
<text x="301.3" y="407.3" font-size="9.7" text-anchor="start" font-weight="normal" fill="#000" stroke="#000" stroke-width="0.18">TfR-1</text>
<text x="301.3" y="439.8" font-size="9.7" text-anchor="start" font-weight="normal" fill="#000" stroke="#000" stroke-width="0.18">Stat5</text>
<text x="301.3" y="477.2" font-size="9.7" text-anchor="start" font-weight="normal" fill="#000" stroke="#000" stroke-width="0.18">ERK 1/2</text>
<line x1="52.00" y1="382.50" x2="149.80" y2="382.50" stroke="#222" stroke-width="0.9"/>
<line x1="156.20" y1="382.50" x2="193.00" y2="382.50" stroke="#222" stroke-width="0.9"/>
<line x1="198.20" y1="382.50" x2="288.60" y2="382.50" stroke="#222" stroke-width="0.9"/>
<text x="99.9" y="378" font-size="9.7" text-anchor="start" font-weight="normal" fill="#000" stroke="#000" stroke-width="0.18" transform="rotate(-45 99.9 378)">wild-type</text>
<text x="174.6" y="376" font-size="9.6" text-anchor="start" font-weight="normal" fill="#000" stroke="#000" stroke-width="0.18" transform="rotate(-45 174.6 376)">Stat5<tspan font-size="55%" dy="-0.7em">-/-</tspan></text>
<text x="240" y="377" font-size="9.8" text-anchor="start" font-weight="normal" fill="#000" stroke="#000" stroke-width="0.18" transform="rotate(-45 240 377)">Stat5<tspan font-size="55%" dy="-0.7em">-/-</tspan></text>
<text x="19" y="551.8" font-size="7.5" text-anchor="middle" font-weight="normal" fill="#000" stroke="#000" stroke-width="0.18">mock</text>
<text x="51.5" y="551.8" font-size="7.5" text-anchor="middle" font-weight="normal" fill="#000" stroke="#000" stroke-width="0.18">IgG</text>
<text x="85.4" y="551.8" font-size="7.5" text-anchor="middle" font-weight="normal" fill="#000" stroke="#000" stroke-width="0.18">αS5 C</text>
<text x="117.5" y="551.8" font-size="7.5" text-anchor="middle" font-weight="normal" fill="#000" stroke="#000" stroke-width="0.18">αS5 N</text>
<text x="146.8" y="551.8" font-size="7.5" text-anchor="middle" font-weight="normal" fill="#000" stroke="#000" stroke-width="0.18">Input</text>
<rect x="3.50" y="555.00" width="157.40" height="13.80" fill="#1b1b1b" stroke="#050505" stroke-width="0.9"/>
<g filter="url(#b15)">
<rect x="74.00" y="559.30" width="21.20" height="5.20" fill="#fff" stroke="none" stroke-width="1" opacity="0.15" rx="1.5"/>
<rect x="104.80" y="559.30" width="19.00" height="5.20" fill="#fff" stroke="none" stroke-width="1" opacity="0.09" rx="1.5"/>
<rect x="137.00" y="559.30" width="18.60" height="5.20" fill="#fff" stroke="none" stroke-width="1" opacity="0.08" rx="1.5"/>
</g>
<rect x="3.50" y="570.40" width="157.40" height="13.80" fill="#202020" stroke="#050505" stroke-width="0.9"/>
<g filter="url(#b15)">
<rect x="74.00" y="574.70" width="21.20" height="5.20" fill="#fff" stroke="none" stroke-width="1" opacity="0.11" rx="1.5"/>
<rect x="104.80" y="574.70" width="19.00" height="5.20" fill="#fff" stroke="none" stroke-width="1" opacity="0.06" rx="1.5"/>
<rect x="137.00" y="574.70" width="18.60" height="5.20" fill="#fff" stroke="none" stroke-width="1" opacity="0.07" rx="1.5"/>
</g>
<rect x="3.50" y="586.20" width="157.40" height="13.40" fill="#2d2d2d" stroke="#050505" stroke-width="0.9"/>
<g filter="url(#b1)">
<rect x="74.00" y="591.60" width="21.20" height="2.90" fill="#fff" stroke="none" stroke-width="1" opacity="0.46" rx="1.2"/>
<rect x="104.80" y="591.60" width="19.00" height="2.90" fill="#fff" stroke="none" stroke-width="1" opacity="0.44" rx="1.2"/>
<rect x="137.00" y="591.60" width="18.60" height="2.90" fill="#fff" stroke="none" stroke-width="1" opacity="0.46" rx="1.2"/>
</g>
<rect x="3.50" y="601.50" width="157.40" height="13.10" fill="#282828" stroke="#050505" stroke-width="0.9"/>
<g filter="url(#b1)">
<rect x="74.00" y="606.75" width="21.20" height="2.90" fill="#fff" stroke="none" stroke-width="1" opacity="0.52" rx="1.2"/>
<rect x="104.80" y="606.75" width="19.00" height="2.90" fill="#fff" stroke="none" stroke-width="1" opacity="0.52" rx="1.2"/>
<rect x="137.00" y="606.75" width="18.60" height="2.90" fill="#fff" stroke="none" stroke-width="1" opacity="0.56" rx="1.2"/>
</g>
<text x="164" y="565" font-size="9.8" text-anchor="start" font-weight="normal" fill="#000" stroke="#000" stroke-width="0.18">GAS 1</text>
<text x="164" y="581.2" font-size="9.8" text-anchor="start" font-weight="normal" fill="#000" stroke="#000" stroke-width="0.18">GAS 2</text>
<text x="164" y="596" font-size="9.8" text-anchor="start" font-weight="normal" fill="#000" stroke="#000" stroke-width="0.18">GAS 3</text>
<text x="167.6" y="611.4" font-size="9.8" text-anchor="start" font-weight="normal" fill="#000" stroke="#000" stroke-width="0.18">CIS</text>
<text x="1" y="19.2" font-size="17" text-anchor="start" font-weight="bold" fill="#000" stroke="#000" stroke-width="0.3">A</text>
<text x="2.6" y="191.4" font-size="17" text-anchor="start" font-weight="bold" fill="#000" stroke="#000" stroke-width="0.3">B</text>
<text x="346.3" y="189.6" font-size="17" text-anchor="start" font-weight="bold" fill="#000" stroke="#000" stroke-width="0.3">C</text>
<text x="1.6" y="365.4" font-size="17" text-anchor="start" font-weight="bold" fill="#000" stroke="#000" stroke-width="0.3">D</text>
<text x="345.8" y="365" font-size="17" text-anchor="start" font-weight="bold" fill="#000" stroke="#000" stroke-width="0.3">E</text>
<text x="1.5" y="516.5" font-size="17" text-anchor="start" font-weight="bold" fill="#000" stroke="#000" stroke-width="0.3">F</text>
<text x="197.2" y="519.4" font-size="17" text-anchor="start" font-weight="bold" fill="#000" stroke="#000" stroke-width="0.3">G</text>
<text x="364.2" y="518.6" font-size="17" text-anchor="start" font-weight="bold" fill="#000" stroke="#000" stroke-width="0.3">H</text>
</svg>
</body></html>
